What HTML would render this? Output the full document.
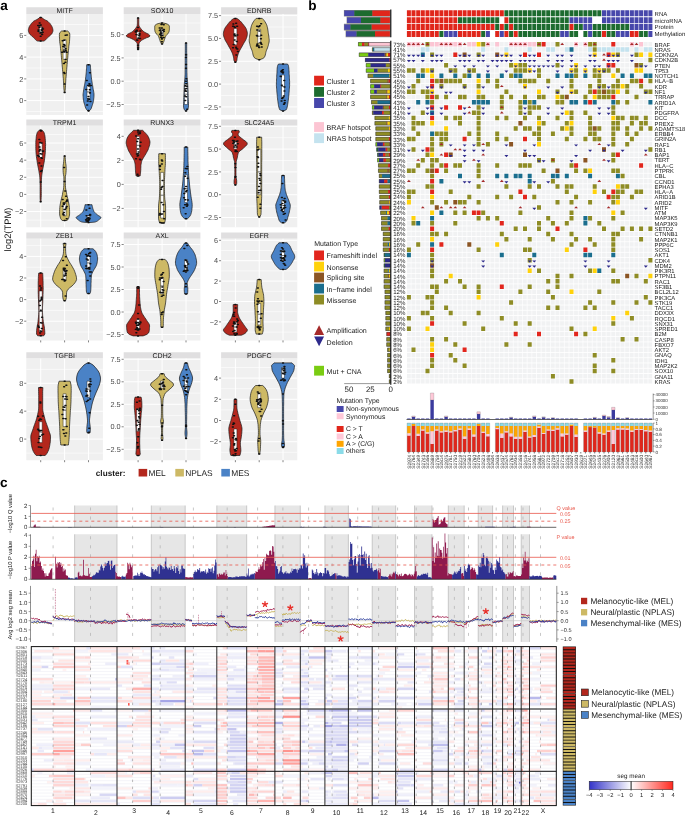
<!DOCTYPE html>
<html><head><meta charset="utf-8"><style>
html,body{margin:0;padding:0;background:#fff;width:685px;height:815px;overflow:hidden;}
svg{display:block;will-change:transform;text-rendering:geometricPrecision;font-family:"Liberation Sans", sans-serif;}
</style></head><body>
<svg width="685" height="815" viewBox="0 0 685 815">
<text x="0.3" y="10.2" font-size="13.6" font-weight="bold" fill="#000">a</text>
<path fill="#E0DFE0" d="M26.3 7.2h76.6v6.7h-76.6zM123.7 7.2h76.7v6.7h-76.7zM221.1 7.2h76.2v6.7h-76.2zM26.3 119.6h76.6v6.1h-76.6zM123.7 119.6h76.7v6.1h-76.7zM221.1 119.6h76.2v6.1h-76.2zM26.3 232.6h76.6v6.2h-76.6zM123.7 232.6h76.7v6.2h-76.7zM221.1 232.6h76.2v6.2h-76.2zM26.3 352.2h76.6v6.4h-76.6zM123.7 352.2h76.7v6.4h-76.7zM221.1 352.2h76.2v6.4h-76.2z"/><path fill="#F0F0F0" d="M26.3 13.9h76.6v101.1h-76.6zM123.7 13.9h76.7v101.1h-76.7zM221.1 13.9h76.2v101.1h-76.2zM26.3 125.7h76.6v101.6h-76.6zM123.7 125.7h76.7v101.6h-76.7zM221.1 125.7h76.2v101.6h-76.2zM26.3 238.8h76.6v101.6h-76.6zM123.7 238.8h76.7v101.6h-76.7zM221.1 238.8h76.2v101.6h-76.2zM26.3 358.6h76.6v101.6h-76.6zM123.7 358.6h76.7v101.6h-76.7zM221.1 358.6h76.2v101.6h-76.2z"/>
<path fill="none" stroke="#fff" stroke-width="0.6" d="M26.3 111.5H102.9M26.3 89.7H102.9M26.3 68H102.9M26.3 46.2H102.9M26.3 24.5H102.9M123.7 92.8H200.4M123.7 69.6H200.4M123.7 46.3H200.4M123.7 23H200.4M221.1 95.5H297.3M221.1 72.7H297.3M221.1 49.9H297.3M221.1 27H297.3M26.3 220.1H102.9M26.3 203H102.9M26.3 185.8H102.9M26.3 168.7H102.9M26.3 151.6H102.9M26.3 134.5H102.9M123.7 220.5H200.4M123.7 196.4H200.4M123.7 172.4H200.4M123.7 148.3H200.4M221.1 206.1H297.3M221.1 183.3H297.3M221.1 160.5H297.3M221.1 137.7H297.3M26.3 332H102.9M26.3 310.4H102.9M26.3 288.8H102.9M26.3 267.2H102.9M26.3 245.6H102.9M123.7 323.2H200.4M123.7 300.8H200.4M123.7 278.2H200.4M123.7 255.8H200.4M221.1 332.1H297.3M221.1 311.7H297.3M221.1 291.3H297.3M221.1 270.9H297.3M221.1 250.5H297.3M26.3 453.1H102.9M26.3 425.2H102.9M26.3 397.2H102.9M26.3 369.4H102.9M123.7 438.1H200.4M123.7 415.6H200.4M123.7 393.1H200.4M123.7 370.6H200.4M221.1 452.3H297.3M221.1 431.1H297.3M221.1 409.9H297.3M221.1 388.7H297.3M221.1 367.5H297.3"/><path fill="none" stroke="#fff" stroke-width="1.0" d="M26.3 100.6H102.9M26.3 78.9H102.9M26.3 57.1H102.9M26.3 35.4H102.9M40.7 13.9V115M64.6 13.9V115M88.5 13.9V115M123.7 104.5H200.4M123.7 81.2H200.4M123.7 57.9H200.4M123.7 34.6H200.4M138.1 13.9V115M162.1 13.9V115M186 13.9V115M221.1 106.9H297.3M221.1 84.1H297.3M221.1 61.3H297.3M221.1 38.4H297.3M221.1 15.6H297.3M235.4 13.9V115M259.2 13.9V115M283 13.9V115M26.3 211.5H102.9M26.3 194.4H102.9M26.3 177.3H102.9M26.3 160.2H102.9M26.3 143H102.9M40.7 125.7V227.3M64.6 125.7V227.3M88.5 125.7V227.3M123.7 208.4H200.4M123.7 184.4H200.4M123.7 160.4H200.4M123.7 136.3H200.4M138.1 125.7V227.3M162.1 125.7V227.3M186 125.7V227.3M221.1 217.5H297.3M221.1 194.7H297.3M221.1 171.9H297.3M221.1 149.1H297.3M221.1 126.3H297.3M235.4 125.7V227.3M259.2 125.7V227.3M283 125.7V227.3M26.3 321.2H102.9M26.3 299.6H102.9M26.3 278H102.9M26.3 256.4H102.9M40.7 238.8V340.4M64.6 238.8V340.4M88.5 238.8V340.4M123.7 334.5H200.4M123.7 312H200.4M123.7 289.5H200.4M123.7 267H200.4M123.7 244.5H200.4M138.1 238.8V340.4M162.1 238.8V340.4M186 238.8V340.4M221.1 321.9H297.3M221.1 301.5H297.3M221.1 281.1H297.3M221.1 260.7H297.3M221.1 240.3H297.3M235.4 238.8V340.4M259.2 238.8V340.4M283 238.8V340.4M26.3 439.1H102.9M26.3 411.2H102.9M26.3 383.3H102.9M40.7 358.6V460.2M64.6 358.6V460.2M88.5 358.6V460.2M123.7 449.3H200.4M123.7 426.8H200.4M123.7 404.3H200.4M123.7 381.8H200.4M123.7 359.3H200.4M138.1 358.6V460.2M162.1 358.6V460.2M186 358.6V460.2M221.1 441.7H297.3M221.1 420.5H297.3M221.1 399.3H297.3M221.1 378.1H297.3M235.4 358.6V460.2M259.2 358.6V460.2M283 358.6V460.2"/>
<path fill="none" stroke="#333" stroke-width="0.6" d="M24.2 100.6H26.3M24.2 78.9H26.3M24.2 57.1H26.3M24.2 35.4H26.3M121.6 104.5H123.7M121.6 81.2H123.7M121.6 57.9H123.7M121.6 34.6H123.7M219 106.9H221.1M219 84.1H221.1M219 61.3H221.1M219 38.4H221.1M219 15.6H221.1M24.2 211.5H26.3M24.2 194.4H26.3M24.2 177.3H26.3M24.2 160.2H26.3M24.2 143H26.3M121.6 208.4H123.7M121.6 184.4H123.7M121.6 160.4H123.7M121.6 136.3H123.7M219 217.5H221.1M219 194.7H221.1M219 171.9H221.1M219 149.1H221.1M219 126.3H221.1M24.2 321.2H26.3M24.2 299.6H26.3M24.2 278H26.3M24.2 256.4H26.3M40.7 340.4V342.4M64.6 340.4V342.4M88.5 340.4V342.4M121.6 334.5H123.7M121.6 312H123.7M121.6 289.5H123.7M121.6 267H123.7M121.6 244.5H123.7M138.1 340.4V342.4M162.1 340.4V342.4M186 340.4V342.4M219 321.9H221.1M219 301.5H221.1M219 281.1H221.1M219 260.7H221.1M219 240.3H221.1M235.4 340.4V342.4M259.2 340.4V342.4M283 340.4V342.4M24.2 439.1H26.3M24.2 411.2H26.3M24.2 383.3H26.3M40.7 460.2V462.2M64.6 460.2V462.2M88.5 460.2V462.2M121.6 449.3H123.7M121.6 426.8H123.7M121.6 404.3H123.7M121.6 381.8H123.7M121.6 359.3H123.7M138.1 460.2V462.2M162.1 460.2V462.2M186 460.2V462.2M219 441.7H221.1M219 420.5H221.1M219 399.3H221.1M219 378.1H221.1M235.4 460.2V462.2M259.2 460.2V462.2M283 460.2V462.2"/>
<g font-size="7.3" fill="#4D4D4D" text-anchor="end"><text x="23.3" y="103.2">0</text><text x="23.3" y="81.5">2</text><text x="23.3" y="59.7">4</text><text x="23.3" y="38">6</text><text x="120.7" y="107.1">−2.5</text><text x="120.7" y="83.8">0.0</text><text x="120.7" y="60.5">2.5</text><text x="120.7" y="37.2">5.0</text><text x="218.1" y="109.5">−2.5</text><text x="218.1" y="86.7">0.0</text><text x="218.1" y="63.9">2.5</text><text x="218.1" y="41">5.0</text><text x="218.1" y="18.2">7.5</text><text x="23.3" y="214.1">−2</text><text x="23.3" y="197">0</text><text x="23.3" y="179.9">2</text><text x="23.3" y="162.8">4</text><text x="23.3" y="145.6">6</text><text x="120.7" y="211">−2</text><text x="120.7" y="187">0</text><text x="120.7" y="163">2</text><text x="120.7" y="138.9">4</text><text x="218.1" y="220.1">−2.5</text><text x="218.1" y="197.3">0.0</text><text x="218.1" y="174.5">2.5</text><text x="218.1" y="151.7">5.0</text><text x="218.1" y="128.9">7.5</text><text x="23.3" y="323.8">−2</text><text x="23.3" y="302.2">0</text><text x="23.3" y="280.6">2</text><text x="23.3" y="259">4</text><text x="120.7" y="337.1">−2.5</text><text x="120.7" y="314.6">0.0</text><text x="120.7" y="292.1">2.5</text><text x="120.7" y="269.6">5.0</text><text x="120.7" y="247.1">7.5</text><text x="218.1" y="324.5">−2</text><text x="218.1" y="304.1">0</text><text x="218.1" y="283.7">2</text><text x="218.1" y="263.3">4</text><text x="218.1" y="242.9">6</text><text x="23.3" y="441.7">0</text><text x="23.3" y="413.8">4</text><text x="23.3" y="385.9">8</text><text x="120.7" y="451.9">−2.5</text><text x="120.7" y="429.4">0.0</text><text x="120.7" y="406.9">2.5</text><text x="120.7" y="384.4">5.0</text><text x="120.7" y="361.9">7.5</text><text x="218.1" y="444.3">−2</text><text x="218.1" y="423.1">0</text><text x="218.1" y="401.9">2</text><text x="218.1" y="380.7">4</text></g>
<g font-size="7.0" fill="#1A1A1A" text-anchor="middle"><text x="64.6" y="13.1">MITF</text><text x="162.1" y="13.1">SOX10</text><text x="259.2" y="13.1">EDNRB</text><text x="64.6" y="125.2">TRPM1</text><text x="162.1" y="125.2">RUNX3</text><text x="259.2" y="125.2">SLC24A5</text><text x="64.6" y="238.2">ZEB1</text><text x="162.1" y="238.2">AXL</text><text x="259.2" y="238.2">EGFR</text><text x="64.6" y="357.9">TGFBI</text><text x="162.1" y="357.9">CDH2</text><text x="259.2" y="357.9">PDGFC</text></g>
<g stroke="#1a1a1a" stroke-width="0.7"><path d="M41.7 17.4L42.3 18.1L43.3 18.8L44.4 19.5L45.7 20.2L47 20.8L48 21.5L48.7 22.2L49.4 22.9L50 23.5L50.5 24.2L50.9 24.9L51.4 25.6L51.8 26.2L52.1 26.9L52.4 27.6L52.6 28.3L52.8 29L52.9 29.6L53 30.3L52.9 31L52.8 31.7L52.5 32.3L52.2 33L51.9 33.7L51.3 34.4L50.6 35L49.9 35.7L49.1 36.4L48.3 37.1L47.5 37.8L46.8 38.4L46.3 39.1L45.7 39.8L44.9 40.5L43.7 41.1L37.7 41.1L36.4 40.5L35.6 39.8L35 39.1L34.5 38.4L33.8 37.8L33 37.1L32.2 36.4L31.5 35.7L30.7 35L30 34.4L29.4 33.7L29.1 33L28.8 32.3L28.6 31.7L28.4 31L28.4 30.3L28.4 29.6L28.6 29L28.7 28.3L28.9 27.6L29.2 26.9L29.5 26.2L29.9 25.6L30.4 24.9L30.9 24.2L31.4 23.5L31.9 22.9L32.6 22.2L33.3 21.5L34.3 20.8L35.6 20.2L36.9 19.5L38.1 18.8L39 18.1L39.7 17.4z" fill="#B3271D"/><path d="M67.6 31L69.5 32.8L69.8 34.5L69.8 36.3L69.7 38.1L69.6 39.8L69.5 41.6L69.3 43.3L69 45.1L68.8 46.8L68.7 48.6L68.5 50.3L68.3 52.1L68.1 53.8L67.9 55.6L67.8 57.4L67.6 59.1L67.4 60.9L67.3 62.6L67.1 64.4L67 66.1L66.8 67.9L66.7 69.6L66.5 71.4L66.4 73.1L66.2 74.9L66.1 76.7L65.9 78.4L65.8 80.2L65.7 81.9L65.6 83.7L65.5 85.4L65.4 87.2L65.3 88.9L65.1 90.7L65 92.4L64.2 92.4L64.1 90.7L63.9 88.9L63.8 87.2L63.7 85.4L63.6 83.7L63.5 81.9L63.4 80.2L63.3 78.4L63.1 76.7L63 74.9L62.8 73.1L62.7 71.4L62.5 69.6L62.4 67.9L62.2 66.1L62.1 64.4L61.9 62.6L61.8 60.9L61.6 59.1L61.4 57.4L61.3 55.6L61.1 53.8L60.9 52.1L60.7 50.3L60.5 48.6L60.4 46.8L60.2 45.1L59.9 43.3L59.7 41.6L59.6 39.8L59.5 38.1L59.4 36.3L59.4 34.5L59.7 32.8L61.6 31z" fill="#CDB965"/><path d="M90.3 64.7L90.4 66L90.5 67.4L90.6 68.7L90.7 70L90.8 71.3L90.9 72.6L91 74L91.2 75.3L91.3 76.6L91.4 77.9L91.6 79.2L91.8 80.6L92 81.9L92.2 83.2L92.4 84.5L92.7 85.8L92.9 87.2L93.1 88.5L93.3 89.8L93.6 91.1L93.8 92.4L94 93.8L94 95.1L94 96.4L93.9 97.7L93.7 99L93.6 100.4L93.3 101.7L93 103L92.6 104.3L92.2 105.6L91.7 107L91.3 108.3L90.6 109.6L89 110.9L88 110.9L86.5 109.6L85.8 108.3L85.3 107L84.9 105.6L84.5 104.3L84.1 103L83.7 101.7L83.5 100.4L83.3 99L83.2 97.7L83.1 96.4L83 95.1L83.1 93.8L83.3 92.4L83.5 91.1L83.7 89.8L83.9 88.5L84.1 87.2L84.4 85.8L84.6 84.5L84.9 83.2L85.1 81.9L85.3 80.6L85.5 79.2L85.6 77.9L85.8 76.6L85.9 75.3L86.1 74L86.2 72.6L86.3 71.3L86.4 70L86.5 68.7L86.6 67.4L86.7 66L86.7 64.7z" fill="#4A82C6"/><path d="M138.8 17.9L138.8 18.8L138.8 19.7L138.8 20.6L138.8 21.5L138.8 22.4L138.8 23.3L138.8 24.2L138.9 25.1L139.1 26L139.6 26.9L140.2 27.8L140.9 28.7L141.6 29.6L142.6 30.6L143.6 31.5L144.9 32.4L146.7 33.3L148.5 34.2L149.5 35.1L150 36L148.9 36.9L146.5 37.8L144.5 38.7L142.8 39.6L141.3 40.5L140.4 41.4L139.6 42.3L139.1 43.2L138.9 44.1L138.8 45L138.8 45.9L138.8 46.8L138.8 47.7L138.7 48.6L138.6 49.5L137.6 49.5L137.5 48.6L137.4 47.7L137.4 46.8L137.3 45.9L137.3 45L137.3 44.1L137.1 43.2L136.5 42.3L135.8 41.4L134.8 40.5L133.4 39.6L131.7 38.7L129.7 37.8L127.3 36.9L126.2 36L126.7 35.1L127.7 34.2L129.4 33.3L131.3 32.4L132.6 31.5L133.6 30.6L134.5 29.6L135.3 28.7L136 27.8L136.6 26.9L137.1 26L137.3 25.1L137.3 24.2L137.4 23.3L137.4 22.4L137.4 21.5L137.4 20.6L137.4 19.7L137.4 18.8L137.4 17.9z" fill="#B3271D"/><path d="M163.1 23L166 23.6L167.5 24.2L168.4 24.8L169.1 25.4L169.4 26L169.4 26.6L169.4 27.2L169.4 27.8L169.4 28.4L169.4 29L169.4 29.6L169.3 30.2L169.2 30.8L169.1 31.4L168.9 32L168.6 32.6L168.3 33.2L167.8 33.8L167.1 34.4L166.5 35L166.1 35.6L165.7 36.2L165.5 36.8L165.2 37.4L165 38L164.8 38.6L164.6 39.2L164.4 39.8L164.2 40.4L164 41L163.8 41.6L163.5 42.2L163.2 42.8L162.9 43.4L162.6 44L161.6 44L161.2 43.4L160.9 42.8L160.6 42.2L160.3 41.6L160.1 41L159.9 40.4L159.7 39.8L159.5 39.2L159.3 38.6L159.1 38L158.9 37.4L158.6 36.8L158.4 36.2L158.1 35.6L157.6 35L157 34.4L156.3 33.8L155.8 33.2L155.5 32.6L155.2 32L155 31.4L154.9 30.8L154.8 30.2L154.7 29.6L154.7 29L154.7 28.4L154.7 27.8L154.7 27.2L154.7 26.6L154.7 26L155 25.4L155.7 24.8L156.6 24.2L158.1 23.6L161.1 23z" fill="#CDB965"/><path d="M186.7 43L186.7 45L186.7 46.9L186.7 48.9L186.7 50.8L186.7 52.7L186.8 54.7L186.8 56.6L186.8 58.6L186.8 60.5L186.8 62.4L186.8 64.4L186.8 66.3L186.9 68.3L186.9 70.2L186.9 72.2L187 74.1L187 76L187.1 78L187.4 79.9L187.6 81.9L187.7 83.8L187.8 85.7L187.9 87.7L188 89.6L188.1 91.6L188.1 93.5L188.2 95.5L188.2 97.4L188.3 99.3L188.4 101.3L188.5 103.2L188.5 105.2L188.4 107.1L188 109.1L186.5 111L185.5 111L184 109.1L183.6 107.1L183.5 105.2L183.6 103.2L183.7 101.3L183.7 99.3L183.8 97.4L183.9 95.5L183.9 93.5L184 91.6L184.1 89.6L184.1 87.7L184.2 85.7L184.3 83.8L184.5 81.9L184.7 79.9L184.9 78L185 76L185.1 74.1L185.1 72.2L185.1 70.2L185.2 68.3L185.2 66.3L185.2 64.4L185.2 62.4L185.2 60.5L185.2 58.6L185.3 56.6L185.3 54.7L185.3 52.7L185.3 50.8L185.3 48.9L185.3 46.9L185.3 45L185.3 43z" fill="#4A82C6"/><path d="M236.9 18.4L238.7 19.6L240.1 20.9L241.3 22.1L242.3 23.4L243.3 24.6L244.3 25.9L245.2 27.1L246 28.4L246.5 29.6L246.9 30.9L247.2 32.1L247.4 33.4L247.3 34.6L247.1 35.9L246.8 37.1L246.4 38.4L245.9 39.6L245.2 40.9L244.4 42.2L243.7 43.4L243 44.7L242.3 45.9L241.6 47.2L240.9 48.4L240.2 49.7L239.5 50.9L238.9 52.2L238.4 53.4L238 54.7L237.6 55.9L237.3 57.2L237.1 58.4L237 59.7L236.7 60.9L235.9 62.2L234.9 62.2L234.1 60.9L233.8 59.7L233.7 58.4L233.5 57.2L233.2 55.9L232.8 54.7L232.4 53.4L231.9 52.2L231.3 50.9L230.6 49.7L229.9 48.4L229.2 47.2L228.5 45.9L227.8 44.7L227.1 43.4L226.4 42.2L225.6 40.9L224.9 39.6L224.4 38.4L224 37.1L223.6 35.9L223.4 34.6L223.4 33.4L223.6 32.1L223.9 30.9L224.3 29.6L224.8 28.4L225.6 27.1L226.5 25.9L227.5 24.6L228.4 23.4L229.5 22.1L230.7 20.9L232.1 19.6L233.9 18.4z" fill="#B3271D"/><path d="M262.2 18.4L263.3 19.5L264.3 20.7L265.1 21.9L265.8 23.1L266.4 24.3L266.9 25.5L267.2 26.6L267.5 27.8L267.7 29L267.9 30.2L268.1 31.4L268.2 32.5L268.4 33.7L268.6 34.9L268.8 36.1L268.9 37.3L269.1 38.5L269.2 39.6L269.2 40.8L269.1 42L268.8 43.2L268.5 44.4L268.3 45.5L267.9 46.7L267.5 47.9L267 49.1L266.5 50.3L266.1 51.5L265.8 52.6L265.6 53.8L265.3 55L264.9 56.2L264.3 57.4L262.9 58.5L259.7 59.7L258.7 59.7L255.5 58.5L254.1 57.4L253.5 56.2L253.1 55L252.8 53.8L252.6 52.6L252.3 51.5L251.9 50.3L251.4 49.1L250.9 47.9L250.5 46.7L250.1 45.5L249.9 44.4L249.6 43.2L249.3 42L249.2 40.8L249.2 39.6L249.3 38.5L249.5 37.3L249.6 36.1L249.8 34.9L250 33.7L250.2 32.5L250.3 31.4L250.5 30.2L250.7 29L250.9 27.8L251.2 26.6L251.5 25.5L252 24.3L252.6 23.1L253.3 21.9L254.1 20.7L255.1 19.5L256.2 18.4z" fill="#CDB965"/><path d="M287.5 64L288.4 65.4L288.6 66.7L288.8 68L288.9 69.4L289 70.7L289.1 72.1L289.1 73.4L289.2 74.8L289.3 76.1L289.4 77.4L289.4 78.8L289.5 80.1L289.6 81.5L289.6 82.8L289.6 84.2L289.6 85.5L289.5 86.9L289.4 88.2L289.3 89.5L289.2 90.9L289.1 92.2L289 93.6L288.9 94.9L288.7 96.3L288.6 97.6L288.4 98.9L288.3 100.3L288.1 101.6L287.9 103L287.7 104.3L287.5 105.7L287.2 107L286.9 108.3L286.3 109.7L283.5 111L282.5 111L279.7 109.7L279.2 108.3L278.8 107L278.5 105.7L278.3 104.3L278.1 103L277.9 101.6L277.7 100.3L277.6 98.9L277.4 97.6L277.3 96.3L277.2 94.9L277 93.6L276.9 92.2L276.8 90.9L276.7 89.5L276.6 88.2L276.5 86.9L276.4 85.5L276.4 84.2L276.4 82.8L276.5 81.5L276.5 80.1L276.6 78.8L276.7 77.4L276.7 76.1L276.8 74.8L276.9 73.4L277 72.1L277 70.7L277.1 69.4L277.2 68L277.4 66.7L277.7 65.4L278.5 64z" fill="#4A82C6"/><path d="M42.2 130.2L43.9 132.2L44.6 134.3L45 136.3L45.2 138.4L45.4 140.4L45.5 142.5L45.6 144.5L45.5 146.5L45.5 148.6L45.4 150.6L45.3 152.7L45.1 154.7L44.9 156.7L44.6 158.8L44.4 160.8L44 162.9L43.6 164.9L43.2 167L42.8 169L42.4 171L42.1 173.1L41.8 175.1L41.6 177.2L41.5 179.2L41.4 181.3L41.3 183.3L41.3 185.3L41.3 187.4L41.3 189.4L41.3 191.5L41.3 193.5L41.3 195.5L41.2 197.6L41.1 199.6L41.1 201.7L40.3 201.7L40.2 199.6L40.1 197.6L40.1 195.5L40.1 193.5L40.1 191.5L40.1 189.4L40.1 187.4L40.1 185.3L40 183.3L40 181.3L39.9 179.2L39.8 177.2L39.6 175.1L39.2 173.1L38.9 171L38.5 169L38.1 167L37.7 164.9L37.3 162.9L37 160.8L36.7 158.8L36.4 156.7L36.2 154.7L36 152.7L35.9 150.6L35.8 148.6L35.8 146.5L35.8 144.5L35.8 142.5L35.9 140.4L36.1 138.4L36.3 136.3L36.7 134.3L37.4 132.2L39.2 130.2z" fill="#B3271D"/><path d="M65.1 155.9L65.2 157.7L65.4 159.6L65.5 161.4L65.7 163.3L66 165.1L66.1 167L66.2 168.8L66.1 170.7L66 172.5L65.8 174.3L65.4 176.2L65.3 178L65.3 179.9L65.3 181.7L65.4 183.6L65.4 185.4L65.5 187.3L65.7 189.1L66.1 191L66.5 192.8L66.8 194.7L67.2 196.5L67.7 198.3L68.1 200.2L68.5 202L68.9 203.9L69.2 205.7L69.4 207.6L69.5 209.4L69.6 211.3L69.6 213.1L69.5 215L69.1 216.8L68.5 218.7L67.1 220.5L62.1 220.5L60.7 218.7L60.1 216.8L59.7 215L59.6 213.1L59.6 211.3L59.7 209.4L59.8 207.6L60 205.7L60.3 203.9L60.7 202L61.1 200.2L61.5 198.3L62 196.5L62.4 194.7L62.7 192.8L63.1 191L63.5 189.1L63.7 187.3L63.8 185.4L63.8 183.6L63.9 181.7L63.9 179.9L63.9 178L63.8 176.2L63.4 174.3L63.2 172.5L63.1 170.7L63 168.8L63.1 167L63.2 165.1L63.5 163.3L63.7 161.4L63.8 159.6L64 157.7L64.1 155.9z" fill="#CDB965"/><path d="M92 204.7L92.1 205.2L92.2 205.7L92.3 206.2L92.4 206.7L92.5 207.2L92.7 207.8L92.8 208.3L92.9 208.8L93.1 209.3L93.3 209.8L93.5 210.3L93.7 210.8L93.9 211.3L94.2 211.9L94.7 212.4L95.2 212.9L95.7 213.4L96.3 213.9L96.9 214.4L97.5 214.9L98.3 215.5L99.2 216L100 216.5L100.7 217L100.9 217.5L100.8 218L100.4 218.5L99.8 219.1L99.2 219.6L98.5 220.1L97.9 220.6L97.3 221.1L96.3 221.6L94.9 222.1L89.5 222.6L87.5 222.6L82.2 222.1L80.7 221.6L79.8 221.1L79.1 220.6L78.5 220.1L77.9 219.6L77.2 219.1L76.7 218.5L76.3 218L76.1 217.5L76.4 217L77 216.5L77.9 216L78.8 215.5L79.5 214.9L80.1 214.4L80.8 213.9L81.4 213.4L81.9 212.9L82.4 212.4L82.8 211.9L83.1 211.3L83.4 210.8L83.6 210.3L83.8 209.8L84 209.3L84.1 208.8L84.3 208.3L84.4 207.8L84.5 207.2L84.7 206.7L84.8 206.2L84.9 205.7L85 205.2L85 204.7z" fill="#4A82C6"/><path d="M142.6 130.3L144 131.6L145.3 132.9L146.5 134.2L147.6 135.5L148.3 136.8L148.9 138.1L149.4 139.4L149.8 140.8L150 142.1L149.9 143.4L149.7 144.7L149.3 146L148.9 147.3L148.5 148.6L148 149.9L147.3 151.2L146.6 152.5L145.9 153.8L145.1 155.1L144.3 156.4L143.5 157.7L142.7 159L142.1 160.3L141.6 161.6L141.3 162.9L141.1 164.2L140.9 165.5L140.9 166.9L140.8 168.2L140.8 169.5L140.7 170.8L140.6 172.1L140.5 173.4L140.3 174.7L140.1 176L136.1 176L135.9 174.7L135.7 173.4L135.6 172.1L135.5 170.8L135.4 169.5L135.4 168.2L135.3 166.9L135.2 165.5L135.1 164.2L134.9 162.9L134.5 161.6L134.1 160.3L133.5 159L132.7 157.7L131.8 156.4L131 155.1L130.3 153.8L129.5 152.5L128.8 151.2L128.2 149.9L127.7 148.6L127.2 147.3L126.8 146L126.5 144.7L126.2 143.4L126.2 142.1L126.4 140.8L126.7 139.4L127.2 138.1L127.8 136.8L128.6 135.5L129.6 134.2L130.9 132.9L132.2 131.6L133.6 130.3z" fill="#B3271D"/><path d="M165.4 153.7L165.4 155.7L165.4 157.7L165.4 159.7L165.4 161.6L165.4 163.6L165.3 165.6L165.1 167.6L165 169.5L164.9 171.5L164.8 173.5L164.7 175.5L164.6 177.4L164.5 179.4L164.4 181.4L164.4 183.4L164.4 185.3L164.4 187.3L164.4 189.3L164.5 191.3L164.5 193.2L164.6 195.2L164.7 197.2L164.8 199.2L165.1 201.1L165.3 203.1L165.5 205.1L165.6 207.1L165.6 209L165.6 211L165.6 213L165.6 215L165.6 216.9L165.5 218.9L165.1 220.9L164.6 222.9L159.6 222.9L159 220.9L158.6 218.9L158.5 216.9L158.5 215L158.5 213L158.5 211L158.5 209L158.5 207.1L158.6 205.1L158.8 203.1L159 201.1L159.3 199.2L159.4 197.2L159.5 195.2L159.6 193.2L159.6 191.3L159.7 189.3L159.7 187.3L159.7 185.3L159.7 183.4L159.7 181.4L159.6 179.4L159.5 177.4L159.4 175.5L159.3 173.5L159.2 171.5L159.1 169.5L159 167.6L158.8 165.6L158.7 163.6L158.7 161.6L158.7 159.7L158.7 157.7L158.7 155.7L158.8 153.7z" fill="#CDB965"/><path d="M187.8 147.1L187.8 149.2L187.8 151.2L187.9 153.3L187.9 155.3L188 157.4L188 159.4L188 161.4L188.1 163.5L188.2 165.5L188.3 167.6L188.4 169.6L188.5 171.7L188.6 173.7L188.7 175.7L188.9 177.8L189.1 179.8L189.3 181.9L189.5 183.9L189.7 186L189.9 188L190.2 190L190.4 192.1L190.7 194.1L191 196.2L191.3 198.2L191.7 200.3L192 202.3L192.2 204.4L192.2 206.4L192 208.4L191.8 210.5L191.4 212.5L190.8 214.6L189.7 216.6L187.5 218.7L184.5 218.7L182.4 216.6L181.3 214.6L180.6 212.5L180.3 210.5L180 208.4L179.9 206.4L179.8 204.4L180 202.3L180.3 200.3L180.7 198.2L181.1 196.2L181.3 194.1L181.6 192.1L181.9 190L182.1 188L182.4 186L182.6 183.9L182.8 181.9L183 179.8L183.1 177.8L183.3 175.7L183.4 173.7L183.6 171.7L183.7 169.6L183.8 167.6L183.9 165.5L183.9 163.5L184 161.4L184 159.4L184.1 157.4L184.1 155.3L184.2 153.3L184.2 151.2L184.2 149.2L184.2 147.1z" fill="#4A82C6"/><path d="M238.9 130.4L239.4 132L238.3 133.5L238 135.1L239.6 136.7L241.5 138.2L243.5 139.8L245.7 141.3L247.2 142.9L247.1 144.5L245.8 146L244 147.6L242.3 149.2L240.2 150.7L238.6 152.3L238 153.9L237.7 155.4L237.4 157L237.1 158.5L236.6 160.1L236.2 161.7L236.1 163.2L236.1 164.8L236 166.4L236 167.9L236 169.5L236 171.1L236 172.6L236 174.2L236 175.7L236.1 177.3L236.4 178.9L236.7 180.4L236.7 182L236.7 183.6L235.9 185.1L234.9 185.1L234.1 183.6L234.1 182L234.1 180.4L234.4 178.9L234.7 177.3L234.8 175.7L234.8 174.2L234.8 172.6L234.8 171.1L234.8 169.5L234.8 167.9L234.7 166.4L234.7 164.8L234.7 163.2L234.6 161.7L234.1 160.1L233.7 158.5L233.3 157L233.1 155.4L232.7 153.9L232.1 152.3L230.6 150.7L228.5 149.2L226.8 147.6L225 146L223.6 144.5L223.6 142.9L225.1 141.3L227.3 139.8L229.3 138.2L231.2 136.7L232.7 135.1L232.5 133.5L231.4 132L231.9 130.4z" fill="#B3271D"/><path d="M261.7 137.2L261.7 139.5L261.8 141.8L261.8 144.1L261.8 146.4L261.8 148.6L261.8 150.9L261.8 153.2L261.8 155.5L261.8 157.8L261.8 160L261.7 162.3L261.7 164.6L261.7 166.9L261.7 169.2L261.7 171.4L261.7 173.7L261.7 176L261.7 178.3L261.7 180.6L261.7 182.8L261.7 185.1L261.7 187.4L261.7 189.7L261.7 192L261.7 194.2L261.7 196.5L261.6 198.8L261.5 201.1L261.4 203.4L261.3 205.6L261.2 207.9L261.1 210.2L261.1 212.5L260.9 214.8L259.7 217L258.7 217L257.5 214.8L257.3 212.5L257.3 210.2L257.2 207.9L257.1 205.6L257 203.4L256.9 201.1L256.8 198.8L256.7 196.5L256.7 194.2L256.7 192L256.7 189.7L256.7 187.4L256.7 185.1L256.7 182.8L256.7 180.6L256.7 178.3L256.7 176L256.7 173.7L256.7 171.4L256.7 169.2L256.7 166.9L256.7 164.6L256.7 162.3L256.6 160L256.6 157.8L256.6 155.5L256.6 153.2L256.6 150.9L256.6 148.6L256.6 146.4L256.6 144.1L256.6 141.8L256.7 139.5L256.7 137.2z" fill="#CDB965"/><path d="M284.5 175.5L284.5 176.9L284.5 178.2L284.6 179.6L284.6 180.9L284.7 182.3L284.7 183.6L284.8 185L284.9 186.3L285 187.7L285.1 189L285.3 190.4L285.7 191.7L286 193.1L286.4 194.4L286.9 195.8L287.4 197.1L288 198.5L288.6 199.8L289 201.2L289.5 202.5L290 203.9L290.3 205.2L290.3 206.6L290.1 207.9L289.9 209.3L289.6 210.6L289.3 212L289 213.3L288.6 214.7L288.2 216L287.8 217.4L287.5 218.7L287 220.1L286.3 221.4L284.5 222.8L281.5 222.8L279.7 221.4L279 220.1L278.6 218.7L278.2 217.4L277.8 216L277.4 214.7L277 213.3L276.7 212L276.4 210.6L276.2 209.3L275.9 207.9L275.8 206.6L275.7 205.2L276 203.9L276.5 202.5L277 201.2L277.5 199.8L278 198.5L278.6 197.1L279.1 195.8L279.6 194.4L280 193.1L280.4 191.7L280.7 190.4L280.9 189L281.1 187.7L281.2 186.3L281.3 185L281.3 183.6L281.4 182.3L281.4 180.9L281.4 179.6L281.5 178.2L281.5 176.9L281.5 175.5z" fill="#4A82C6"/><path d="M42.7 273.1L42.8 274.9L42.9 276.7L43 278.5L43 280.3L43.1 282.1L43.1 283.9L43.1 285.7L43.2 287.5L43.2 289.2L43.1 291L43.1 292.8L43 294.6L43 296.4L42.9 298.2L42.8 300L42.8 301.8L42.7 303.6L42.6 305.4L42.5 307.1L42.5 308.9L42.5 310.7L42.5 312.5L42.6 314.3L42.7 316.1L42.9 317.9L43.1 319.7L43.3 321.5L43.6 323.3L43.9 325L44.3 326.8L44.5 328.6L44.7 330.4L44.8 332.2L44.9 334L43.7 335.8L37.7 335.8L36.5 334L36.5 332.2L36.6 330.4L36.8 328.6L37.1 326.8L37.4 325L37.8 323.3L38 321.5L38.2 319.7L38.4 317.9L38.6 316.1L38.7 314.3L38.8 312.5L38.9 310.7L38.8 308.9L38.8 307.1L38.7 305.4L38.6 303.6L38.5 301.8L38.5 300L38.4 298.2L38.3 296.4L38.3 294.6L38.2 292.8L38.2 291L38.2 289.2L38.2 287.5L38.2 285.7L38.2 283.9L38.2 282.1L38.3 280.3L38.3 278.5L38.4 276.7L38.5 274.9L38.7 273.1z" fill="#B3271D"/><path d="M66.1 243.4L65.8 245.1L65.6 246.7L65.6 248.3L65.6 250L65.7 251.6L65.8 253.3L66.1 254.9L66.6 256.5L67.4 258.2L68.2 259.8L69 261.4L70 263.1L71.1 264.7L72.1 266.3L73 268L73.9 269.6L74.6 271.2L75.2 272.9L75.7 274.5L76.2 276.1L76.5 277.8L76.6 279.4L76 281.1L75 282.7L73.7 284.3L72 286L69.9 287.6L68.2 289.2L67 290.9L66.6 292.5L66.5 294.1L66.5 295.8L66.4 297.4L66.1 299L65.6 300.7L63.6 300.7L63.1 299L62.8 297.4L62.7 295.8L62.7 294.1L62.6 292.5L62.2 290.9L61 289.2L59.3 287.6L57.2 286L55.5 284.3L54.2 282.7L53.2 281.1L52.6 279.4L52.7 277.8L53 276.1L53.5 274.5L54 272.9L54.6 271.2L55.3 269.6L56.2 268L57.1 266.3L58.1 264.7L59.2 263.1L60.2 261.4L61 259.8L61.8 258.2L62.6 256.5L63.1 254.9L63.4 253.3L63.5 251.6L63.6 250L63.6 248.3L63.6 246.7L63.4 245.1L63.1 243.4z" fill="#CDB965"/><path d="M93 248.8L94.5 250.1L95.6 251.4L96.3 252.7L96.8 253.9L97.2 255.2L97.4 256.5L97.6 257.8L97.6 259.1L97.5 260.3L97.3 261.6L97.1 262.9L96.8 264.2L96.4 265.4L95.8 266.7L95 268L94.2 269.3L93.5 270.6L92.8 271.8L92.2 273.1L91.7 274.4L91.4 275.7L91.3 276.9L91.2 278.2L91.2 279.5L91.1 280.8L91.1 282.1L91 283.3L91 284.6L91 285.9L90.9 287.2L90.9 288.4L90.8 289.7L90.7 291L90.5 292.3L90 293.6L87 293.6L86.6 292.3L86.3 291L86.3 289.7L86.2 288.4L86.2 287.2L86.1 285.9L86.1 284.6L86 283.3L86 282.1L86 280.8L85.9 279.5L85.9 278.2L85.8 276.9L85.7 275.7L85.4 274.4L84.9 273.1L84.2 271.8L83.6 270.6L82.9 269.3L82.1 268L81.3 266.7L80.7 265.4L80.3 264.2L80 262.9L79.7 261.6L79.5 260.3L79.4 259.1L79.5 257.8L79.6 256.5L79.9 255.2L80.3 253.9L80.8 252.7L81.4 251.4L82.6 250.1L84 248.8z" fill="#4A82C6"/><path d="M139.6 286.8L139.5 288.2L139.5 289.6L139.5 291L139.5 292.4L139.5 293.8L139.6 295.2L139.6 296.6L139.7 298L139.8 299.4L139.9 300.8L140 302.2L140.1 303.6L140.3 305L140.4 306.4L140.6 307.8L140.9 309.2L141.2 310.6L141.6 312L142.2 313.4L143 314.8L143.9 316.2L144.8 317.6L145.8 319L146.7 320.4L147.6 321.8L148.7 323.2L149.4 324.6L149.6 326L149.5 327.4L149.4 328.8L149.3 330.2L149.1 331.6L148.5 333L146.9 334.4L143.1 335.9L133.1 335.9L129.3 334.4L127.7 333L127.1 331.6L126.9 330.2L126.7 328.8L126.6 327.4L126.6 326L126.7 324.6L127.5 323.2L128.5 321.8L129.4 320.4L130.4 319L131.4 317.6L132.2 316.2L133.1 314.8L134 313.4L134.6 312L135 310.6L135.3 309.2L135.5 307.8L135.7 306.4L135.9 305L136 303.6L136.1 302.2L136.2 300.8L136.3 299.4L136.4 298L136.5 296.6L136.6 295.2L136.7 293.8L136.7 292.4L136.7 291L136.7 289.6L136.6 288.2L136.6 286.8z" fill="#B3271D"/><path d="M165.1 259.4L166.8 261.3L167.8 263.2L168.4 265.2L168.8 267.1L169.1 269.1L169.2 271L169.3 272.9L169.3 274.9L169.3 276.8L169.1 278.8L168.8 280.7L168.5 282.6L168.1 284.6L167.8 286.5L167.5 288.5L167.1 290.4L166.8 292.4L166.5 294.3L166.3 296.2L166.1 298.2L165.9 300.1L165.7 302.1L165.4 304L165.1 305.9L164.7 307.9L164.3 309.8L164.1 311.8L163.9 313.7L163.7 315.7L163.5 317.6L163.4 319.5L163.3 321.5L163.3 323.4L163.3 325.4L163.2 327.3L160.9 327.3L160.8 325.4L160.8 323.4L160.8 321.5L160.7 319.5L160.6 317.6L160.4 315.7L160.2 313.7L160 311.8L159.8 309.8L159.4 307.9L159 305.9L158.7 304L158.4 302.1L158.2 300.1L158 298.2L157.8 296.2L157.6 294.3L157.3 292.4L157 290.4L156.6 288.5L156.3 286.5L156 284.6L155.6 282.6L155.3 280.7L155 278.8L154.8 276.8L154.8 274.9L154.8 272.9L154.9 271L155 269.1L155.3 267.1L155.7 265.2L156.3 263.2L157.3 261.3L159.1 259.4z" fill="#CDB965"/><path d="M187.5 243.1L188.4 244.6L189.4 246.1L190.5 247.5L191.7 249L192.8 250.4L193.6 251.9L194.4 253.3L195.1 254.8L195.5 256.2L195.9 257.7L196.2 259.1L196.5 260.6L196.6 262L196.6 263.5L196.3 264.9L195.9 266.4L195.4 267.8L194.8 269.3L194.1 270.8L193.3 272.2L192.3 273.7L191.4 275.1L190.4 276.6L189.4 278L188.6 279.5L187.9 280.9L187.3 282.4L187.2 283.8L187.4 285.3L187.6 286.7L187.8 288.2L187.8 289.6L187.8 291.1L187.7 292.5L187.5 294L184.5 294L184.4 292.5L184.3 291.1L184.2 289.6L184.3 288.2L184.5 286.7L184.7 285.3L184.8 283.8L184.7 282.4L184.2 280.9L183.5 279.5L182.6 278L181.6 276.6L180.6 275.1L179.7 273.7L178.8 272.2L177.9 270.8L177.2 269.3L176.7 267.8L176.2 266.4L175.7 264.9L175.5 263.5L175.4 262L175.6 260.6L175.8 259.1L176.1 257.7L176.5 256.2L177 254.8L177.6 253.3L178.4 251.9L179.3 250.4L180.4 249L181.6 247.5L182.7 246.1L183.6 244.6L184.5 243.1z" fill="#4A82C6"/><path d="M237.7 304.6L237.7 305.4L237.6 306.3L237.6 307.2L237.6 308.1L237.6 308.9L237.6 309.8L237.6 310.7L237.6 311.6L237.6 312.4L237.8 313.3L238 314.2L238.3 315.1L238.6 315.9L238.9 316.8L239.3 317.7L239.7 318.5L240.3 319.4L240.8 320.3L241.4 321.2L242 322L242.6 322.9L243.2 323.8L243.8 324.7L244.4 325.5L245 326.4L245.6 327.3L246.3 328.2L247 329L247.4 329.9L247.2 330.8L246.7 331.7L246 332.5L245 333.4L243.5 334.3L241.4 335.2L229.4 335.2L227.3 334.3L225.7 333.4L224.8 332.5L224.1 331.7L223.5 330.8L223.4 329.9L223.8 329L224.4 328.2L225.2 327.3L225.8 326.4L226.4 325.5L227 324.7L227.6 323.8L228.2 322.9L228.8 322L229.4 321.2L229.9 320.3L230.5 319.4L231.1 318.5L231.5 317.7L231.9 316.8L232.2 315.9L232.5 315.1L232.8 314.2L233 313.3L233.1 312.4L233.2 311.6L233.2 310.7L233.2 309.8L233.2 308.9L233.2 308.1L233.2 307.2L233.1 306.3L233.1 305.4L233.1 304.6z" fill="#B3271D"/><path d="M261.2 279.6L261.3 281.1L261.4 282.7L261.5 284.2L261.7 285.8L261.9 287.4L262.2 288.9L262.6 290.5L262.9 292L263.3 293.6L263.6 295.2L263.7 296.7L263.8 298.3L263.9 299.8L263.9 301.4L263.9 303L263.8 304.5L263.7 306.1L263.6 307.6L263.5 309.2L263.4 310.8L263.4 312.3L263.3 313.9L263.2 315.4L263.1 317L263.1 318.5L263 320.1L263 321.7L263 323.2L263.1 324.8L263.1 326.3L263.2 327.9L263.2 329.5L263.1 331L262.7 332.6L262.2 334.1L256.2 334.1L255.7 332.6L255.3 331L255.2 329.5L255.2 327.9L255.3 326.3L255.3 324.8L255.4 323.2L255.4 321.7L255.4 320.1L255.3 318.5L255.3 317L255.2 315.4L255.1 313.9L255 312.3L255 310.8L254.9 309.2L254.8 307.6L254.7 306.1L254.6 304.5L254.5 303L254.5 301.4L254.5 299.8L254.6 298.3L254.7 296.7L254.8 295.2L255.1 293.6L255.5 292L255.8 290.5L256.2 288.9L256.5 287.4L256.7 285.8L256.9 284.2L257 282.7L257.1 281.1L257.2 279.6z" fill="#CDB965"/><path d="M287 242.8L287.9 243.6L288.6 244.4L289.3 245.1L289.8 245.9L290.3 246.6L290.6 247.4L291 248.2L291.3 248.9L291.6 249.7L292 250.4L292.4 251.2L292.8 251.9L293.2 252.7L293.7 253.5L294.1 254.2L294.4 255L294.6 255.7L294.7 256.5L294.7 257.2L294.5 258L294.2 258.8L293.8 259.5L293.3 260.3L292.9 261L292.5 261.8L292.1 262.6L291.6 263.3L291.1 264.1L290.6 264.8L290 265.6L289.4 266.3L288.8 267.1L287.9 267.9L287 268.6L286 269.4L280 269.4L279 268.6L278.1 267.9L277.3 267.1L276.6 266.3L276 265.6L275.4 264.8L274.9 264.1L274.4 263.3L274 262.6L273.6 261.8L273.1 261L272.7 260.3L272.3 259.5L271.9 258.8L271.6 258L271.4 257.2L271.3 256.5L271.4 255.7L271.6 255L272 254.2L272.4 253.5L272.8 252.7L273.2 251.9L273.7 251.2L274 250.4L274.4 249.7L274.7 248.9L275 248.2L275.4 247.4L275.8 246.6L276.2 245.9L276.7 245.1L277.4 244.4L278.2 243.6L279 242.8z" fill="#4A82C6"/><path d="M42.9 387.5L42.8 389.4L42.7 391.4L42.7 393.3L42.7 395.3L42.7 397.2L42.7 399.1L42.7 401.1L42.7 403L42.7 405L42.7 406.9L42.7 408.9L42.9 410.8L43.3 412.7L43.8 414.7L44.3 416.6L44.8 418.6L45.3 420.5L46 422.5L46.7 424.4L47.4 426.3L48.1 428.3L48.7 430.2L49.4 432.2L50.1 434.1L50.5 436.1L50.5 438L50.4 439.9L50.3 441.9L50 443.8L49.7 445.8L49.3 447.7L48.7 449.7L47.9 451.6L46.9 453.5L45.2 455.5L36.2 455.5L34.5 453.5L33.4 451.6L32.6 449.7L32 447.7L31.6 445.8L31.3 443.8L31.1 441.9L30.9 439.9L30.8 438L30.8 436.1L31.2 434.1L31.9 432.2L32.6 430.2L33.3 428.3L33.9 426.3L34.6 424.4L35.3 422.5L36 420.5L36.6 418.6L37.1 416.6L37.6 414.7L38 412.7L38.4 410.8L38.6 408.9L38.7 406.9L38.7 405L38.7 403L38.7 401.1L38.7 399.1L38.7 397.2L38.7 395.3L38.6 393.3L38.6 391.4L38.5 389.4L38.5 387.5z" fill="#B3271D"/><path d="M70.1 381.2L70.6 383L71 384.9L71.2 386.7L71.2 388.5L71.2 390.3L71.2 392.1L71.1 394L71.1 395.8L71.1 397.6L71 399.4L71 401.3L70.9 403.1L70.8 404.9L70.7 406.7L70.6 408.6L70.4 410.4L70.3 412.2L70.2 414L70.1 415.9L70 417.7L69.9 419.5L69.8 421.3L69.7 423.1L69.6 425L69.5 426.8L69.5 428.6L69.4 430.4L69.3 432.3L69.3 434.1L69.2 435.9L69.1 437.7L69 439.6L68.8 441.4L68.6 443.2L68.4 445L60.8 445L60.6 443.2L60.4 441.4L60.2 439.6L60.1 437.7L60 435.9L59.9 434.1L59.9 432.3L59.8 430.4L59.7 428.6L59.7 426.8L59.6 425L59.5 423.1L59.4 421.3L59.3 419.5L59.2 417.7L59.1 415.9L59 414L58.9 412.2L58.8 410.4L58.6 408.6L58.5 406.7L58.4 404.9L58.3 403.1L58.2 401.3L58.2 399.4L58.1 397.6L58.1 395.8L58.1 394L58 392.1L58 390.3L58 388.5L58 386.7L58.2 384.9L58.6 383L59.1 381.2z" fill="#CDB965"/><path d="M90 363.1L93.2 365.1L95 367.1L96.8 369.1L98.2 371L99.3 373L99.9 375L100.4 377L100.5 379L100.3 381L99.9 383L99.3 385L98.5 387L97.7 389L96.8 391L95.9 393L95.1 395L94.3 397L93.6 398.9L93 400.9L92.4 402.9L91.9 404.9L91.5 406.9L91.1 408.9L90.7 410.9L90.4 412.9L90.1 414.9L89.9 416.9L89.6 418.9L89.5 420.9L89.7 422.9L90 424.9L90.2 426.8L90.3 428.8L90.3 430.8L90 432.8L87 432.8L86.7 430.8L86.8 428.8L86.9 426.8L87.1 424.9L87.4 422.9L87.5 420.9L87.4 418.9L87.2 416.9L87 414.9L86.7 412.9L86.4 410.9L86 408.9L85.6 406.9L85.1 404.9L84.6 402.9L84.1 400.9L83.5 398.9L82.8 397L82 395L81.2 393L80.3 391L79.4 389L78.5 387L77.7 385L77.2 383L76.7 381L76.5 379L76.7 377L77.1 375L77.8 373L78.9 371L80.3 369.1L82.1 367.1L83.9 365.1L87 363.1z" fill="#4A82C6"/><path d="M141.1 397.1L141.5 398.8L141.7 400.4L141.8 402.1L141.9 403.8L141.9 405.5L141.9 407.1L141.7 408.8L141.6 410.5L141.4 412.1L141.2 413.8L141.1 415.5L141 417.2L140.8 418.8L140.7 420.5L140.6 422.2L140.5 423.8L140.4 425.5L140.3 427.2L140.2 428.9L140.1 430.5L140 432.2L139.9 433.9L139.8 435.5L139.8 437.2L139.7 438.9L139.7 440.6L139.7 442.2L139.7 443.9L139.8 445.6L139.8 447.2L139.9 448.9L140 450.6L140.1 452.3L140.3 453.9L139.6 455.6L136.6 455.6L135.9 453.9L136 452.3L136.2 450.6L136.3 448.9L136.4 447.2L136.4 445.6L136.4 443.9L136.5 442.2L136.5 440.6L136.5 438.9L136.4 437.2L136.3 435.5L136.2 433.9L136.1 432.2L136 430.5L136 428.9L135.9 427.2L135.8 425.5L135.7 423.8L135.6 422.2L135.5 420.5L135.3 418.8L135.2 417.2L135.1 415.5L134.9 413.8L134.8 412.1L134.6 410.5L134.4 408.8L134.3 407.1L134.3 405.5L134.3 403.8L134.4 402.1L134.4 400.4L134.6 398.8L135.1 397.1z" fill="#B3271D"/><path d="M164.1 373.7L164.6 375.6L166 377.5L168.4 379.4L170.7 381.3L173.1 383.2L173.6 385.1L172.2 387L170.1 388.9L167.9 390.8L165.6 392.7L164.5 394.6L163.8 396.5L163.2 398.4L163 400.3L162.9 402.2L162.8 404.1L162.7 406L162.7 408L162.7 409.9L162.7 411.8L162.7 413.7L162.8 415.6L162.8 417.5L163.2 419.4L163.5 421.3L163.2 423.2L162.7 425.1L162.7 427L162.6 428.9L162.6 430.8L162.6 432.7L162.6 434.6L162.8 436.5L163 438.4L162.6 440.3L161.6 440.3L161.1 438.4L161.3 436.5L161.5 434.6L161.5 432.7L161.5 430.8L161.5 428.9L161.4 427L161.4 425.1L160.9 423.2L160.6 421.3L160.9 419.4L161.3 417.5L161.3 415.6L161.4 413.7L161.4 411.8L161.4 409.9L161.4 408L161.4 406L161.3 404.1L161.2 402.2L161.1 400.3L160.9 398.4L160.3 396.5L159.6 394.6L158.5 392.7L156.2 390.8L154 388.9L151.9 387L150.5 385.1L151 383.2L153.4 381.3L155.7 379.4L158.1 377.5L159.5 375.6L160.1 373.7z" fill="#CDB965"/><path d="M187.5 362.9L187.9 365.1L188.5 367.2L189.4 369.4L190.5 371.5L191.4 373.7L192.2 375.9L192.6 378L192.4 380.2L191.9 382.3L191.2 384.5L190.4 386.7L189.5 388.8L188.8 391L188.3 393.1L187.8 395.3L187.5 397.5L187.2 399.6L187.1 401.8L187 403.9L186.9 406.1L186.8 408.3L186.8 410.4L186.8 412.6L186.7 414.7L186.7 416.9L186.7 419.1L186.6 421.2L186.6 423.4L186.6 425.5L186.6 427.7L186.8 429.9L187 432L187 434.2L186.8 436.3L186.4 438.5L185.6 438.5L185.3 436.3L185 434.2L185 432L185.2 429.9L185.4 427.7L185.4 425.5L185.4 423.4L185.4 421.2L185.4 419.1L185.4 416.9L185.3 414.7L185.3 412.6L185.2 410.4L185.2 408.3L185.1 406.1L185.1 403.9L184.9 401.8L184.8 399.6L184.6 397.5L184.2 395.3L183.8 393.1L183.3 391L182.6 388.8L181.6 386.7L180.8 384.5L180.2 382.3L179.6 380.2L179.4 378L179.9 375.9L180.7 373.7L181.6 371.5L182.7 369.4L183.6 367.2L184.1 365.1L184.5 362.9z" fill="#4A82C6"/><path d="M236.8 399.3L236.8 400.9L236.8 402.5L236.8 404.1L236.8 405.7L236.9 407.3L237 408.9L237.3 410.5L237.7 412.1L238 413.7L238.5 415.4L238.9 417L239.4 418.6L239.8 420.2L240.3 421.8L240.8 423.4L241.3 425L241.7 426.6L242 428.2L242 429.8L241.9 431.4L241.8 433L241.6 434.6L241.4 436.2L241.2 437.8L240.9 439.4L240.6 441L240.4 442.6L240.4 444.2L240.5 445.8L240.7 447.5L240.8 449.1L240.9 450.7L240.7 452.3L240.3 453.9L239.9 455.5L230.9 455.5L230.4 453.9L230.1 452.3L229.9 450.7L229.9 449.1L230.1 447.5L230.3 445.8L230.4 444.2L230.3 442.6L230.1 441L229.9 439.4L229.6 437.8L229.4 436.2L229.2 434.6L229 433L228.9 431.4L228.8 429.8L228.8 428.2L229.1 426.6L229.5 425L230 423.4L230.5 421.8L231 420.2L231.4 418.6L231.9 417L232.3 415.4L232.7 413.7L233.1 412.1L233.5 410.5L233.8 408.9L233.9 407.3L233.9 405.7L234 404.1L234 402.5L234 400.9L234 399.3z" fill="#B3271D"/><path d="M262.7 385.5L264.8 387.5L266.1 389.4L267 391.4L267.6 393.4L267.9 395.3L268.2 397.3L268.3 399.2L268.1 401.2L267.7 403.2L267.2 405.1L266.6 407.1L265.8 409L264.7 411L263.7 413L262.9 414.9L262.1 416.9L261.4 418.8L260.9 420.8L260.6 422.8L260.3 424.7L260.2 426.7L260.1 428.6L260 430.6L260 432.5L260 434.5L260.2 436.5L260.5 438.4L260.7 440.4L260.7 442.3L260.6 444.3L260.5 446.3L260.4 448.2L260.3 450.2L260 452.1L259.8 454.1L258.6 454.1L258.4 452.1L258.1 450.2L258 448.2L257.9 446.3L257.8 444.3L257.7 442.3L257.7 440.4L257.9 438.4L258.2 436.5L258.4 434.5L258.4 432.5L258.4 430.6L258.3 428.6L258.2 426.7L258.1 424.7L257.8 422.8L257.5 420.8L257 418.8L256.3 416.9L255.5 414.9L254.7 413L253.7 411L252.6 409L251.8 407.1L251.2 405.1L250.7 403.2L250.3 401.2L250.1 399.2L250.2 397.3L250.5 395.3L250.8 393.4L251.4 391.4L252.3 389.4L253.6 387.5L255.7 385.5z" fill="#CDB965"/><path d="M292 362.9L294.5 365.4L294.3 367.8L293.9 370.2L292.9 372.6L291.5 375L290.2 377.4L288.9 379.9L287.5 382.3L286.5 384.7L285.5 387.1L284.8 389.5L284.2 391.9L283.9 394.4L283.8 396.8L283.7 399.2L283.7 401.6L283.7 404L283.6 406.4L283.6 408.9L283.6 411.3L283.6 413.7L283.6 416.1L283.6 418.5L283.6 420.9L283.6 423.4L283.6 425.8L283.6 428.2L283.6 430.6L283.6 433L283.7 435.4L283.7 437.9L283.9 440.3L284.3 442.7L284.6 445.1L284 447.5L282 447.5L281.4 445.1L281.7 442.7L282.2 440.3L282.3 437.9L282.4 435.4L282.4 433L282.4 430.6L282.4 428.2L282.4 425.8L282.4 423.4L282.4 420.9L282.4 418.5L282.4 416.1L282.4 413.7L282.4 411.3L282.4 408.9L282.4 406.4L282.4 404L282.3 401.6L282.3 399.2L282.2 396.8L282.1 394.4L281.8 391.9L281.2 389.5L280.5 387.1L279.6 384.7L278.5 382.3L277.2 379.9L275.8 377.4L274.5 375L273.1 372.6L272.1 370.2L271.8 367.8L271.5 365.4L274 362.9z" fill="#4A82C6"/></g>
<path fill="#fff" stroke="#111" stroke-width="0.45" d="M39.2 26.7h3v6.5h-3z"/><path stroke="#111" stroke-width="0.6" d="M39.2 29.9h3"/><path stroke="#111" stroke-width="1.5" stroke-linecap="round" d="M41.7 34.4h0.9M41.4 30.6h0.9M40.4 25h0.9M38 29.9h0.9M40.2 32.4h0.9M41.8 28.1h0.9M38 31.2h0.9M42.3 32.2h0.9M40 32.9h0.9M37.7 25.4h0.9M42.6 28.9h0.9M40.5 32.8h0.9M38.3 25.7h0.9M41.5 29.7h0.9M40 25.3h0.9M40.2 36.3h0.9M40.1 32.3h0.9M42 32.5h0.9M39.2 22.9h0.9M39 27.6h0.9M40.2 17.4h0.9M40.2 41.1h0.9"/><path fill="#fff" stroke="#111" stroke-width="0.45" d="M63.1 39.7h3v19.6h-3z"/><path stroke="#111" stroke-width="0.6" d="M63.1 49.5h3"/><path stroke="#111" stroke-width="1.5" stroke-linecap="round" d="M63.4 51h0.9M63.5 44.6h0.9M65.3 50.8h0.9M66.3 52.2h0.9M65.2 59.5h0.9M63.8 51.9h0.9M64.3 45.3h0.9M61.6 52.2h0.9M65 62.3h0.9M65.2 48.7h0.9M65.1 35.3h0.9M63.5 63.5h0.9M62.8 46.6h0.9M66.5 35h0.9M64 40.3h0.9M62.2 40.8h0.9M64.1 73.5h0.9M64.1 46.9h0.9M64.1 84h0.9M63.7 72.5h0.9M64.2 31h0.9M64.2 92.4h0.9"/><path fill="#fff" stroke="#111" stroke-width="0.45" d="M87 85.4h3v13h-3z"/><path stroke="#111" stroke-width="0.6" d="M87 91.9h3"/><path stroke="#111" stroke-width="1.5" stroke-linecap="round" d="M87.6 98.9h0.9M89.5 93h0.9M88.2 85.7h0.9M89.5 92.7h0.9M89 83.8h0.9M90.4 85.6h0.9M90 101.5h0.9M88 96.6h0.9M89.2 85.7h0.9M88.9 99.3h0.9M87.3 100.9h0.9M87.7 85.4h0.9M89.3 89.8h0.9M89.4 85.2h0.9M88 110.6h0.9M85.8 89.5h0.9M88.6 85.9h0.9M89.5 72.7h0.9M86.7 105h0.9M86.3 80.5h0.9M88.1 64.7h0.9M88.1 110.9h0.9"/><path fill="#fff" stroke="#111" stroke-width="0.45" d="M136.6 31.9h3v6.5h-3z"/><path stroke="#111" stroke-width="0.6" d="M136.6 35.1h3"/><path stroke="#111" stroke-width="1.5" stroke-linecap="round" d="M138 38h0.9M139.1 38.6h0.9M135.2 31.4h0.9M139.2 34.8h0.9M136.5 30.2h0.9M139.6 38.6h0.9M136.1 30.8h0.9M138.8 35.7h0.9M135.9 31.5h0.9M139.2 33.4h0.9M135.9 34.6h0.9M136.5 40h0.9M135.3 31.9h0.9M136.9 40.2h0.9M137.6 47.5h0.9M137.6 48.8h0.9M137.5 27.5h0.9M137.6 45.3h0.9M139.9 30.9h0.9M137.6 18.1h0.9M137.6 17.9h0.9M137.6 49.5h0.9"/><path fill="#fff" stroke="#111" stroke-width="0.45" d="M160.6 29.1h3v6.5h-3z"/><path stroke="#111" stroke-width="0.6" d="M160.6 32.3h3"/><path stroke="#111" stroke-width="1.5" stroke-linecap="round" d="M163.2 37.4h0.9M161.4 27.9h0.9M163.5 29.5h0.9M163.5 31.2h0.9M160.5 37.3h0.9M159.6 34.6h0.9M159.2 28h0.9M159.4 30.5h0.9M161.2 33.8h0.9M161.7 35.6h0.9M160.6 32h0.9M159.8 29.9h0.9M160.8 35.5h0.9M160.1 33.6h0.9M163.3 24.7h0.9M161.4 41.7h0.9M161.4 39.1h0.9M161.6 38.2h0.9M161 24.6h0.9M162.1 30.3h0.9M161.6 23h0.9M161.6 44h0.9"/><path fill="#fff" stroke="#111" stroke-width="0.45" d="M184.5 84h3v20.5h-3z"/><path stroke="#111" stroke-width="0.6" d="M184.5 94.2h3"/><path stroke="#111" stroke-width="1.5" stroke-linecap="round" d="M184.7 86h0.9M186.5 86.2h0.9M185.1 90.8h0.9M186 88.6h0.9M184.8 89.1h0.9M185.9 78.7h0.9M185.8 96.7h0.9M186.7 109.3h0.9M185.8 83.8h0.9M185 85.7h0.9M184.8 100.5h0.9M184.6 91.1h0.9M185.5 81.3h0.9M184.5 96h0.9M185.6 64.4h0.9M185.5 68.2h0.9M185.5 57.6h0.9M185.6 54.8h0.9M185.6 91.3h0.9M185.5 68.3h0.9M185.6 43h0.9M185.6 111h0.9"/><path fill="#fff" stroke="#111" stroke-width="0.45" d="M233.9 28.4h3v16.4h-3z"/><path stroke="#111" stroke-width="0.6" d="M233.9 36.6h3"/><path stroke="#111" stroke-width="1.5" stroke-linecap="round" d="M234.5 27.5h0.9M236.7 26.3h0.9M235.7 47.2h0.9M236.3 41.6h0.9M234.7 35.5h0.9M232.6 26.2h0.9M234 35.1h0.9M236.3 48.8h0.9M237 35h0.9M234.1 34h0.9M232.9 23.9h0.9M236.1 48.4h0.9M234.2 40h0.9M234 26.7h0.9M235.7 23.2h0.9M232.6 47.8h0.9M237.4 51.4h0.9M233.2 44.4h0.9M237 49.1h0.9M235.9 55h0.9M234.9 18.4h0.9M234.9 62.2h0.9"/><path fill="#fff" stroke="#111" stroke-width="0.45" d="M257.7 29.3h3v13.7h-3z"/><path stroke="#111" stroke-width="0.6" d="M257.7 36.2h3"/><path stroke="#111" stroke-width="1.5" stroke-linecap="round" d="M261.1 44.2h0.9M256.4 35.5h0.9M258 26.7h0.9M258.9 31.1h0.9M256.7 45.1h0.9M257 43.9h0.9M256.4 46h0.9M256.6 26.3h0.9M256.8 36h0.9M260.1 42.4h0.9M258.6 26.6h0.9M261.3 47h0.9M258.2 46.1h0.9M260.8 35.3h0.9M259.3 25.7h0.9M260.5 43.2h0.9M260.7 23.8h0.9M256.7 30h0.9M258.7 47.4h0.9M260.5 38.8h0.9M258.8 18.4h0.9M258.8 59.7h0.9"/><path fill="#fff" stroke="#111" stroke-width="0.45" d="M281.5 75h3v22.8h-3z"/><path stroke="#111" stroke-width="0.6" d="M281.5 86.4h3"/><path stroke="#111" stroke-width="1.5" stroke-linecap="round" d="M283.4 96h0.9M284 91h0.9M282.4 97.5h0.9M281.1 100.9h0.9M281.6 70.5h0.9M282.7 72h0.9M284.1 103.2h0.9M284.3 102.7h0.9M283.5 104.3h0.9M281.7 98.6h0.9M282.5 69.8h0.9M283.8 80.6h0.9M284.3 100.6h0.9M280.8 71.3h0.9M281.4 85.3h0.9M280.1 76.2h0.9M284.1 86.9h0.9M280.5 76.5h0.9M281.2 71.9h0.9M282.5 73.1h0.9M282.6 64h0.9M282.6 111h0.9"/><path fill="#fff" stroke="#111" stroke-width="0.45" d="M39.2 143h3v14.6h-3z"/><path stroke="#111" stroke-width="0.6" d="M39.2 150.3h3"/><path stroke="#111" stroke-width="1.5" stroke-linecap="round" d="M41.4 158.2h0.9M41.2 143.1h0.9M38.9 139.5h0.9M38.4 156.5h0.9M39.7 149.4h0.9M40 153.7h0.9M37.6 155.6h0.9M39 151h0.9M42.4 151.5h0.9M40.9 157.8h0.9M39.1 147h0.9M42.7 151h0.9M41.3 154h0.9M39.5 142.4h0.9M40.6 130.9h0.9M41 165.9h0.9M40.6 171.4h0.9M40.3 182h0.9M38.9 162.9h0.9M41.1 170.4h0.9M40.2 130.2h0.9M40.2 201.7h0.9"/><path fill="#fff" stroke="#111" stroke-width="0.45" d="M63.1 203h3v12.8h-3z"/><path stroke="#111" stroke-width="0.6" d="M63.1 209.4h3"/><path stroke="#111" stroke-width="1.5" stroke-linecap="round" d="M64.1 203.1h0.9M63.5 212.4h0.9M62.2 199.5h0.9M66 201.4h0.9M63.4 215h0.9M65.7 208h0.9M66.7 200.1h0.9M62.6 213.9h0.9M64.4 209.6h0.9M62.1 206.2h0.9M66.3 206.4h0.9M66.5 200.9h0.9M66.5 200.7h0.9M66.3 218.7h0.9M63.2 203h0.9M64.8 190.9h0.9M64.1 181.4h0.9M65.6 196.3h0.9M63.6 167.4h0.9M63.5 204.4h0.9M64.2 155.9h0.9M64.2 220.5h0.9"/><path fill="#fff" stroke="#111" stroke-width="0.45" d="M87 215.8h3v4.3h-3z"/><path stroke="#111" stroke-width="0.6" d="M87 217.9h3"/><path stroke="#111" stroke-width="1.5" stroke-linecap="round" d="M88.4 219.9h0.9M88.5 219.8h0.9M89.9 215h0.9M86.6 220.7h0.9M88.8 218.5h0.9M86.8 218.7h0.9M86.5 219h0.9M89.1 215.5h0.9M89.1 218.5h0.9M88.2 217.8h0.9M88 218.8h0.9M89.6 214.6h0.9M86.1 215.7h0.9M87.4 217.9h0.9M87.5 221h0.9M86.7 221.3h0.9M89.1 208.3h0.9M85.9 210.1h0.9M85.6 219.7h0.9M86 220.9h0.9M88.1 204.7h0.9M88.1 222.6h0.9"/><path fill="#fff" stroke="#111" stroke-width="0.45" d="M136.6 136.3h3v18h-3z"/><path stroke="#111" stroke-width="0.6" d="M136.6 145.3h3"/><path stroke="#111" stroke-width="1.5" stroke-linecap="round" d="M139.7 132.1h0.9M136.4 153.9h0.9M138 132h0.9M137.5 149.1h0.9M138.1 151.9h0.9M137.7 138.8h0.9M135.6 136.1h0.9M140.2 142.3h0.9M137.6 155.5h0.9M136.8 141.6h0.9M137.6 131.9h0.9M139.7 145.9h0.9M139.5 159.3h0.9M137 156h0.9M137.5 153.7h0.9M137.1 174.2h0.9M140 159.7h0.9M138.1 134.1h0.9M139.5 133.4h0.9M135.6 158.8h0.9M137.6 130.3h0.9M137.6 176h0.9"/><path fill="#fff" stroke="#111" stroke-width="0.45" d="M160.6 172.4h3v45.7h-3z"/><path stroke="#111" stroke-width="0.6" d="M160.6 195.2h3"/><path stroke="#111" stroke-width="1.5" stroke-linecap="round" d="M161.1 187.4h0.9M163.2 222.9h0.9M161.8 160.9h0.9M162.1 186.6h0.9M161.4 164h0.9M160.7 189.2h0.9M161.7 214h0.9M159.2 215h0.9M162.9 204.8h0.9M163.5 211.5h0.9M162.1 180.4h0.9M159.6 166.5h0.9M163.7 218.7h0.9M159.6 165.5h0.9M159.5 169.4h0.9M159.6 213.5h0.9M161.1 202.5h0.9M161.3 159.9h0.9M160.4 214.3h0.9M159.9 222.4h0.9M161.6 153.7h0.9M161.6 222.9h0.9"/><path fill="#fff" stroke="#111" stroke-width="0.45" d="M184.5 174.8h3v27.6h-3z"/><path stroke="#111" stroke-width="0.6" d="M184.5 188.6h3"/><path stroke="#111" stroke-width="1.5" stroke-linecap="round" d="M185.6 191.7h0.9M184.9 199.7h0.9M186.4 206.2h0.9M183.8 193.4h0.9M184.1 188.7h0.9M183.6 197.8h0.9M184.7 176.2h0.9M185.3 168.5h0.9M186.6 203.9h0.9M187.2 178.3h0.9M187.1 204.9h0.9M184.9 172.7h0.9M186.2 190.6h0.9M187.5 199.9h0.9M186.6 168.7h0.9M185.7 186.5h0.9M184.6 204.8h0.9M186.9 166.5h0.9M183.2 207.8h0.9M185.2 213.8h0.9M185.6 147.1h0.9M185.6 218.7h0.9"/><path fill="#fff" stroke="#111" stroke-width="0.45" d="M233.9 140.9h3v8.2h-3z"/><path stroke="#111" stroke-width="0.6" d="M233.9 145h3"/><path stroke="#111" stroke-width="1.5" stroke-linecap="round" d="M233.5 141.2h0.9M235 145.3h0.9M233.2 140.6h0.9M235 151.4h0.9M233.9 146.9h0.9M235.9 141.4h0.9M235.2 150.5h0.9M237.1 141.1h0.9M236.5 151.6h0.9M235.9 151h0.9M237.3 143.7h0.9M232.7 143.3h0.9M233.7 142.8h0.9M232.5 140.6h0.9M235 167.4h0.9M235 176.6h0.9M236.2 147h0.9M234.5 137.2h0.9M234.9 177.3h0.9M234.8 163.8h0.9M234.9 130.4h0.9M234.9 185.1h0.9"/><path fill="#fff" stroke="#111" stroke-width="0.45" d="M257.7 149.1h3v45.6h-3z"/><path stroke="#111" stroke-width="0.6" d="M257.7 171.9h3"/><path stroke="#111" stroke-width="1.5" stroke-linecap="round" d="M257.2 156.7h0.9M260 204.2h0.9M257.9 149.6h0.9M259.9 183.4h0.9M257.9 163.2h0.9M260 175.6h0.9M259.9 208.3h0.9M257.7 167.1h0.9M257.2 150h0.9M259 178.5h0.9M260.1 190.3h0.9M257.6 157.5h0.9M257.3 197.2h0.9M257.7 166.7h0.9M259.8 173.7h0.9M257.4 146.9h0.9M258.5 190.5h0.9M258.5 186.4h0.9M259.6 180.3h0.9M258.2 192.7h0.9M258.8 137.2h0.9M258.8 217h0.9"/><path fill="#fff" stroke="#111" stroke-width="0.45" d="M281.5 200.2h3v10.9h-3z"/><path stroke="#111" stroke-width="0.6" d="M281.5 205.6h3"/><path stroke="#111" stroke-width="1.5" stroke-linecap="round" d="M280.7 207.6h0.9M282 203.4h0.9M284.2 198.4h0.9M281.2 210.4h0.9M282.9 200.7h0.9M283.2 214.2h0.9M284 207.5h0.9M284.8 201.3h0.9M284.7 202.2h0.9M281.7 209.4h0.9M284.5 213.4h0.9M282.8 211.7h0.9M284.2 205.5h0.9M280.7 207.6h0.9M280.2 204.7h0.9M283.2 208.5h0.9M285.1 220.1h0.9M281.5 197.5h0.9M281.9 183.4h0.9M284.8 207.6h0.9M282.6 175.5h0.9M282.6 222.8h0.9"/><path fill="#fff" stroke="#111" stroke-width="0.45" d="M39.2 291h3v41h-3z"/><path stroke="#111" stroke-width="0.6" d="M39.2 311.5h3"/><path stroke="#111" stroke-width="1.5" stroke-linecap="round" d="M41.4 328.6h0.9M40.4 335.8h0.9M39.4 301.1h0.9M40.4 322.8h0.9M39.4 305.6h0.9M41.6 317.3h0.9M41.4 323.1h0.9M40 331.1h0.9M40.4 310.3h0.9M41.1 297.2h0.9M41.1 298.3h0.9M39.6 286.1h0.9M40.3 290h0.9M38.5 327.3h0.9M40.7 287.9h0.9M40.7 331.3h0.9M39.6 333h0.9M40.6 300h0.9M37.8 325.9h0.9M41.1 299.7h0.9M40.2 273.1h0.9M40.2 335.8h0.9"/><path fill="#fff" stroke="#111" stroke-width="0.45" d="M63.1 269.4h3v10.8h-3z"/><path stroke="#111" stroke-width="0.6" d="M63.1 274.8h3"/><path stroke="#111" stroke-width="1.5" stroke-linecap="round" d="M63.4 269.6h0.9M65.3 273.4h0.9M64.1 268.3h0.9M63.2 268.3h0.9M63.1 279.6h0.9M66.2 270.8h0.9M65.2 275.3h0.9M64.2 281h0.9M63.8 275.9h0.9M64.8 280.2h0.9M64.9 271.8h0.9M63.9 270.6h0.9M64.5 268.7h0.9M63.7 268.2h0.9M62.6 260.6h0.9M65.1 295.9h0.9M61.8 279.5h0.9M66.4 265.3h0.9M65.4 256.7h0.9M64.1 247.2h0.9M64.2 243.4h0.9M64.2 300.7h0.9"/><path fill="#fff" stroke="#111" stroke-width="0.45" d="M87 256.4h3v13h-3z"/><path stroke="#111" stroke-width="0.6" d="M87 262.9h3"/><path stroke="#111" stroke-width="1.5" stroke-linecap="round" d="M85.8 268.4h0.9M88.8 267.6h0.9M85.5 254.4h0.9M89.5 256.3h0.9M86.2 258.9h0.9M89.3 272.1h0.9M87.4 259.9h0.9M85.7 266.1h0.9M89.8 252.6h0.9M89.7 253h0.9M89.9 263.7h0.9M89 269.1h0.9M87.5 268.3h0.9M87.7 255.2h0.9M88.6 253.6h0.9M87.2 280.4h0.9M88.2 293.4h0.9M86.7 256.1h0.9M90.6 272.1h0.9M89.8 276h0.9M88.1 248.8h0.9M88.1 293.6h0.9"/><path fill="#fff" stroke="#111" stroke-width="0.45" d="M136.6 319.2h3v10.8h-3z"/><path stroke="#111" stroke-width="0.6" d="M136.6 324.6h3"/><path stroke="#111" stroke-width="1.5" stroke-linecap="round" d="M137.6 319h0.9M135.4 322.3h0.9M139 324.3h0.9M135.3 329.3h0.9M135.9 332.7h0.9M139.2 329.1h0.9M137.8 325.3h0.9M136.6 327.8h0.9M138.9 323.7h0.9M137.3 330.1h0.9M140 322.1h0.9M137.1 328.6h0.9M135.8 323.4h0.9M140.1 322.7h0.9M137.5 322.4h0.9M137.7 330.1h0.9M137.7 288.2h0.9M136.6 325.4h0.9M138.6 305.1h0.9M137.6 313.6h0.9M137.6 286.8h0.9M137.6 335.9h0.9"/><path fill="#fff" stroke="#111" stroke-width="0.45" d="M160.6 277.8h3v16.2h-3z"/><path stroke="#111" stroke-width="0.6" d="M160.6 285.9h3"/><path stroke="#111" stroke-width="1.5" stroke-linecap="round" d="M159.5 277.9h0.9M161.4 274.2h0.9M163 290.3h0.9M159.8 292.2h0.9M162.5 292.2h0.9M161.3 296.3h0.9M161.8 292.8h0.9M163 295.3h0.9M160.7 274.9h0.9M162.1 289.7h0.9M159.3 279.7h0.9M163.2 281.4h0.9M161.3 278.3h0.9M161.8 277.5h0.9M161.2 314.6h0.9M161.9 287h0.9M162.7 272.8h0.9M161.4 312.8h0.9M161.4 274.4h0.9M162.6 312h0.9M161.6 259.4h0.9M161.6 327.3h0.9"/><path fill="#fff" stroke="#111" stroke-width="0.45" d="M184.5 259.8h3v11.7h-3z"/><path stroke="#111" stroke-width="0.6" d="M184.5 265.6h3"/><path stroke="#111" stroke-width="1.5" stroke-linecap="round" d="M184.6 266.6h0.9M184.5 265.4h0.9M186.4 269.9h0.9M185.1 260.1h0.9M185.4 272h0.9M185.2 267.5h0.9M187 270.5h0.9M183.2 271.2h0.9M186.8 261.9h0.9M183.9 270.5h0.9M187.8 264.1h0.9M185.8 270.3h0.9M186.8 270.1h0.9M184.9 266.3h0.9M185.7 260.6h0.9M185.5 283.8h0.9M186.8 245.4h0.9M186.4 268h0.9M185.4 286.8h0.9M183.9 248.5h0.9M185.6 243.1h0.9M185.6 294h0.9"/><path fill="#fff" stroke="#111" stroke-width="0.45" d="M233.9 321.9h3v10.2h-3z"/><path stroke="#111" stroke-width="0.6" d="M233.9 327h3"/><path stroke="#111" stroke-width="1.5" stroke-linecap="round" d="M236.7 319.1h0.9M234.3 324h0.9M233.9 333.7h0.9M234.5 323.1h0.9M233.5 322.1h0.9M236.8 321.7h0.9M233.4 323.4h0.9M232.7 331.5h0.9M236.2 334.3h0.9M236.3 327.1h0.9M234.1 330.5h0.9M237.5 320.6h0.9M236.4 333.5h0.9M232.4 326.1h0.9M233.8 316.3h0.9M237.4 324.4h0.9M233.7 312.4h0.9M233.1 314.3h0.9M235.2 308h0.9M232.7 315.9h0.9M234.9 304.6h0.9M234.9 335.2h0.9"/><path fill="#fff" stroke="#111" stroke-width="0.45" d="M257.7 303.5h3v21.4h-3z"/><path stroke="#111" stroke-width="0.6" d="M257.7 314.2h3"/><path stroke="#111" stroke-width="1.5" stroke-linecap="round" d="M258.9 328.5h0.9M260.4 318.3h0.9M258.2 321.7h0.9M258.8 327.3h0.9M257.5 298.7h0.9M257 304.3h0.9M258.8 301h0.9M260.2 327.1h0.9M256.9 301h0.9M257.5 327.4h0.9M261.1 313.7h0.9M257.8 301.9h0.9M259.2 330.1h0.9M257.4 311.7h0.9M261.3 301.2h0.9M257.8 326.3h0.9M257.4 287.9h0.9M257 327.1h0.9M256.8 292.1h0.9M259.4 329.2h0.9M258.8 279.6h0.9M258.8 334.1h0.9"/><path fill="#fff" stroke="#111" stroke-width="0.45" d="M281.5 250.5h3v10.2h-3z"/><path stroke="#111" stroke-width="0.6" d="M281.5 255.6h3"/><path stroke="#111" stroke-width="1.5" stroke-linecap="round" d="M283.9 251.2h0.9M284.7 256.7h0.9M282.3 261.3h0.9M282.8 257.7h0.9M280.7 260.6h0.9M281.5 247.7h0.9M284.7 255.6h0.9M281.9 258.8h0.9M280.3 254.6h0.9M283.3 263.4h0.9M280.4 257.7h0.9M283.6 259.1h0.9M282.6 251.4h0.9M284.3 260.2h0.9M283.9 263.9h0.9M284.8 265.3h0.9M282.6 248.9h0.9M282.9 257.9h0.9M282.9 251.8h0.9M280.4 250.9h0.9M282.6 242.8h0.9M282.6 269.4h0.9"/><path fill="#fff" stroke="#111" stroke-width="0.45" d="M39.2 421.7h3v20.9h-3z"/><path stroke="#111" stroke-width="0.6" d="M39.2 432.1h3"/><path stroke="#111" stroke-width="1.5" stroke-linecap="round" d="M41.5 434.9h0.9M42.7 434.2h0.9M39.2 431h0.9M39.8 419h0.9M40.9 430.6h0.9M38.7 420.2h0.9M40.6 419.6h0.9M39.4 436.6h0.9M42.5 416h0.9M39.4 430.6h0.9M37.7 416.3h0.9M40.1 447.2h0.9M37.6 429.2h0.9M38.1 442.6h0.9M38.6 438.5h0.9M38.3 447h0.9M38.3 430.2h0.9M40 402.9h0.9M41 447.5h0.9M39.9 401.9h0.9M40.2 387.5h0.9M40.2 455.5h0.9"/><path fill="#fff" stroke="#111" stroke-width="0.45" d="M63.1 393.8h3v32.8h-3z"/><path stroke="#111" stroke-width="0.6" d="M63.1 410.2h3"/><path stroke="#111" stroke-width="1.5" stroke-linecap="round" d="M64.9 436.1h0.9M66.2 396.8h0.9M64.7 399h0.9M62.8 418.4h0.9M65.8 433h0.9M63 407h0.9M63 429.8h0.9M62.7 396.6h0.9M63.5 433.6h0.9M65.2 418.8h0.9M64 407.2h0.9M65.9 385.2h0.9M62.8 429.7h0.9M61.9 414.4h0.9M65.5 396.6h0.9M66.3 426.4h0.9M62.7 409.8h0.9M65 405.4h0.9M66.6 399.2h0.9M63.7 386.7h0.9M64.2 381.2h0.9M64.2 445h0.9"/><path fill="#fff" stroke="#111" stroke-width="0.45" d="M87 381.2h3v16h-3z"/><path stroke="#111" stroke-width="0.6" d="M87 389.2h3"/><path stroke="#111" stroke-width="1.5" stroke-linecap="round" d="M85.6 391h0.9M86.4 391.3h0.9M89.7 399h0.9M86.2 401.5h0.9M88.4 385h0.9M89.7 391.1h0.9M86.6 396h0.9M86 388.9h0.9M90.3 384.4h0.9M90.1 381.2h0.9M87.7 400.2h0.9M89.9 378.9h0.9M88.9 386.8h0.9M86.9 395.2h0.9M88.8 428.2h0.9M89.2 412.7h0.9M88.6 432.3h0.9M85.7 396.1h0.9M89.1 386.6h0.9M89.1 384h0.9M88.1 363.1h0.9M88.1 432.8h0.9"/><path fill="#fff" stroke="#111" stroke-width="0.45" d="M136.6 408.8h3v22.5h-3z"/><path stroke="#111" stroke-width="0.6" d="M136.6 420.1h3"/><path stroke="#111" stroke-width="1.5" stroke-linecap="round" d="M138.9 413.6h0.9M139.1 424.4h0.9M136.8 420.7h0.9M136.5 402.3h0.9M138.3 422.2h0.9M136.7 409.3h0.9M137.8 436.8h0.9M138.6 416.7h0.9M138.5 428.7h0.9M139.5 410.2h0.9M138.5 410.8h0.9M139.1 418.1h0.9M138.1 429.9h0.9M139.1 409.5h0.9M137.3 448h0.9M139.1 401h0.9M137.6 446.6h0.9M139.5 408.2h0.9M136.4 425.2h0.9M136.9 442.8h0.9M137.6 397.1h0.9M137.6 455.6h0.9"/><path fill="#fff" stroke="#111" stroke-width="0.45" d="M160.6 380.9h3v7.2h-3z"/><path stroke="#111" stroke-width="0.6" d="M160.6 384.5h3"/><path stroke="#111" stroke-width="1.5" stroke-linecap="round" d="M159.3 388.4h0.9M162.6 382.2h0.9M163.6 385.2h0.9M160 388.6h0.9M161.7 383.2h0.9M163.7 388.9h0.9M162.2 383.1h0.9M162.2 386h0.9M160.6 389.4h0.9M162.1 383h0.9M159.3 384.2h0.9M164.1 386.6h0.9M163.3 379.4h0.9M159.4 389.5h0.9M161.7 426.1h0.9M161.5 426.7h0.9M161.8 423h0.9M161.7 405.2h0.9M161.5 435.2h0.9M159.6 383.9h0.9M161.6 373.7h0.9M161.6 440.3h0.9"/><path fill="#fff" stroke="#111" stroke-width="0.45" d="M184.5 379.1h3v11.7h-3z"/><path stroke="#111" stroke-width="0.6" d="M184.5 384.9h3"/><path stroke="#111" stroke-width="1.5" stroke-linecap="round" d="M186.1 380.9h0.9M184.6 390.4h0.9M183.1 380.5h0.9M183.2 376.4h0.9M186.1 391.3h0.9M187.2 392.2h0.9M183.3 386.2h0.9M185.7 391.2h0.9M184.3 378h0.9M185.9 386.8h0.9M186.7 382.1h0.9M184.9 388.2h0.9M187.7 378h0.9M188.2 386.5h0.9M185.6 425.3h0.9M185.9 369.8h0.9M183.3 386.2h0.9M186.5 374.8h0.9M185.7 394.8h0.9M185.6 426.4h0.9M185.6 362.9h0.9M185.6 438.5h0.9"/><path fill="#fff" stroke="#111" stroke-width="0.45" d="M233.9 429h3v21.2h-3z"/><path stroke="#111" stroke-width="0.6" d="M233.9 439.6h3"/><path stroke="#111" stroke-width="1.5" stroke-linecap="round" d="M235.5 438.6h0.9M235.6 450.8h0.9M236.3 448.5h0.9M233 455.5h0.9M234.4 449.4h0.9M232.4 427h0.9M232.5 437.7h0.9M233.9 443.7h0.9M234.8 451h0.9M233.7 444.9h0.9M233.6 435.8h0.9M233.6 423.6h0.9M233.2 423h0.9M232.7 424.3h0.9M232.8 455.1h0.9M233.7 415.8h0.9M235.8 440h0.9M235.1 453.8h0.9M233.2 433h0.9M234.8 404.3h0.9M234.9 399.3h0.9M234.9 455.5h0.9"/><path fill="#fff" stroke="#111" stroke-width="0.45" d="M257.7 392.9h3v14.8h-3z"/><path stroke="#111" stroke-width="0.6" d="M257.7 400.4h3"/><path stroke="#111" stroke-width="1.5" stroke-linecap="round" d="M259.8 405.3h0.9M257.3 391.9h0.9M261.1 409.2h0.9M258.9 402.1h0.9M260.5 401.4h0.9M260.1 402h0.9M256.6 399.8h0.9M260.6 400.1h0.9M258.2 399.6h0.9M259.8 411.6h0.9M257.8 402.9h0.9M258.3 403.5h0.9M257.7 404.3h0.9M256.4 401.3h0.9M258.7 438.6h0.9M258.4 393.4h0.9M260.7 416h0.9M259.9 398.8h0.9M259.2 411.6h0.9M258.2 441h0.9M258.8 385.5h0.9M258.8 454.1h0.9"/><path fill="#fff" stroke="#111" stroke-width="0.45" d="M281.5 367.5h3v10.6h-3z"/><path stroke="#111" stroke-width="0.6" d="M281.5 372.8h3"/><path stroke="#111" stroke-width="1.5" stroke-linecap="round" d="M280.5 380.3h0.9M283.1 370.8h0.9M284.3 380.6h0.9M282.8 373.8h0.9M284.4 380h0.9M281.1 379.9h0.9M282.6 373.4h0.9M284.8 372.2h0.9M283.5 380.7h0.9M284.2 374h0.9M284.2 370h0.9M284 366.6h0.9M282.8 379h0.9M284 368.2h0.9M282.1 369.1h0.9M282.8 446.8h0.9M282.6 424h0.9M282.4 443.4h0.9M282.5 394h0.9M282.5 420.7h0.9M282.6 362.9h0.9M282.6 447.5h0.9"/>
<text transform="translate(10.9,229.5) rotate(-90)" font-size="9.4" fill="#1A1A1A" text-anchor="middle">log2(TPM)</text>
<text x="95.8" y="475.9" font-size="8.2" font-weight="bold" fill="#1A1A1A">cluster:</text>
<rect x="138.6" y="468.9" width="8.6" height="7.6" fill="#B3271D"/>
<text x="148.5" y="475.8" font-size="8.4" fill="#1A1A1A">MEL</text>
<rect x="175.3" y="468.9" width="8.6" height="7.6" fill="#CDB965"/>
<text x="185.2" y="475.8" font-size="8.4" fill="#1A1A1A">NPLAS</text>
<rect x="221.3" y="468.9" width="8.6" height="7.6" fill="#4A82C6"/>
<text x="231.2" y="475.8" font-size="8.4" fill="#1A1A1A">MES</text>
<text x="308.2" y="10.2" font-size="13.6" font-weight="bold" fill="#000">b</text>
<defs><pattern id="mg" patternUnits="userSpaceOnUse" x="406.900" y="41.950" width="4.645" height="5.27"><rect x="0" y="0" width="4" height="4.5" fill="#F1F2F3"/></pattern></defs>
<rect x="406.900" y="41.950" width="245.585" height="341.850" fill="url(#mg)"/>
<path fill="#8a8a8a" d="M343.9 9.9h46.5v6.7h-46.5zM346.6 16.8h43.8v6.8h-43.8zM343.9 23.7h46.5v6.7h-46.5zM345.6 30.5h44.8v6.8h-44.8z"/><path fill="#9a9a9a" d="M358 42.1h32.2v4.2h-32.2zM372 47.4h18.2v4.2h-18.2zM358.9 52.6h31.3v4.2h-31.3zM365 57.9h25.2v4.2h-25.2zM365.9 63.2h24.3v4.2h-24.3zM365.9 68.5h24.3v4.2h-24.3zM367.6 73.7h22.6v4.2h-22.6zM370.2 79h20v4.2h-20zM370.2 84.3h20v4.2h-20zM370.2 89.5h20v4.2h-20zM370.2 94.8h20v4.2h-20zM371.1 100.1h19.1v4.2h-19.1zM372 105.3h18.2v4.2h-18.2zM372 110.6h18.2v4.2h-18.2zM374.6 115.9h15.6v4.2h-15.6zM374.6 121.2h15.6v4.2h-15.6zM375.5 126.4h14.7v4.2h-14.7zM375.5 131.7h14.7v4.2h-14.7zM375.5 137h14.7v4.2h-14.7zM375.5 142.2h14.7v4.2h-14.7zM376.3 147.5h13.9v4.2h-13.9zM377.2 152.8h13v4.2h-13zM377.2 158h13v4.2h-13zM378.1 163.3h12.1v4.2h-12.1zM378.1 168.6h12.1v4.2h-12.1zM378.9 173.8h11.2v4.2h-11.2zM378.9 179.1h11.2v4.2h-11.2zM378.9 184.4h11.2v4.2h-11.2zM378.9 189.7h11.2v4.2h-11.2zM379.4 194.9h10.8v4.2h-10.8zM379.4 200.2h10.8v4.2h-10.8zM379.4 205.5h10.8v4.2h-10.8zM380.3 210.7h9.9v4.2h-9.9zM381.1 216h9.1v4.2h-9.1zM381.1 221.3h9.1v4.2h-9.1zM381.1 226.5h9.1v4.2h-9.1zM382.9 231.8h7.3v4.2h-7.3zM382.9 237.1h7.3v4.2h-7.3zM382.9 242.4h7.3v4.2h-7.3zM382.9 247.6h7.3v4.2h-7.3zM383.7 252.9h6.5v4.2h-6.5zM383.7 258.2h6.5v4.2h-6.5zM383.7 263.4h6.5v4.2h-6.5zM383.7 268.7h6.5v4.2h-6.5zM383.7 274h6.5v4.2h-6.5zM383.7 279.2h6.5v4.2h-6.5zM383.7 284.5h6.5v4.2h-6.5zM384.6 289.8h5.6v4.2h-5.6zM384.6 295.1h5.6v4.2h-5.6zM384.6 300.3h5.6v4.2h-5.6zM384.6 305.6h5.6v4.2h-5.6zM385.5 310.9h4.7v4.2h-4.7zM385.5 316.1h4.7v4.2h-4.7zM385.5 321.4h4.7v4.2h-4.7zM385.5 326.7h4.7v4.2h-4.7zM386.4 331.9h3.8v4.2h-3.8zM386.4 337.2h3.8v4.2h-3.8zM386.4 342.5h3.8v4.2h-3.8zM387.2 347.8h3v4.2h-3zM387.2 353h3v4.2h-3zM387.2 358.3h3v4.2h-3zM387.2 363.6h3v4.2h-3zM387.2 368.8h3v4.2h-3zM388.9 374.1h1.2v4.2h-1.2zM388.9 379.4h1.2v4.2h-1.2z"/>
<path fill="#E0261B" d="M406.9 10.3h4v5.9h-4zM411.5 10.3h4v5.9h-4zM416.2 10.3h4v5.9h-4zM420.8 10.3h4v5.9h-4zM425.5 10.3h4v5.9h-4zM430.1 10.3h4v5.9h-4zM434.8 10.3h4v5.9h-4zM439.4 10.3h4v5.9h-4zM444.1 10.3h4v5.9h-4zM448.7 10.3h4v5.9h-4zM453.3 10.3h4v5.9h-4zM458 10.3h4v5.9h-4zM462.6 10.3h4v5.9h-4zM467.3 10.3h4v5.9h-4zM471.9 10.3h4v5.9h-4zM476.6 10.3h4v5.9h-4zM481.2 10.3h4v5.9h-4zM485.9 10.3h4v5.9h-4zM490.5 10.3h4v5.9h-4zM495.2 10.3h4v5.9h-4zM499.8 10.3h4v5.9h-4zM372.2 10.6h17.7v5.3h-17.7zM406.9 17.2h4v6h-4zM411.5 17.2h4v6h-4zM416.2 17.2h4v6h-4zM420.8 17.2h4v6h-4zM425.5 17.2h4v6h-4zM430.1 17.2h4v6h-4zM434.8 17.2h4v6h-4zM439.4 17.2h4v6h-4zM444.1 17.2h4v6h-4zM448.7 17.2h4v6h-4zM453.3 17.2h4v6h-4zM504.4 17.2h4v6h-4zM380.2 17.5h9.7v5.4h-9.7zM406.9 24.1h4v5.9h-4zM411.5 24.1h4v5.9h-4zM416.2 24.1h4v5.9h-4zM420.8 24.1h4v5.9h-4zM425.5 24.1h4v5.9h-4zM430.1 24.1h4v5.9h-4zM434.8 24.1h4v5.9h-4zM439.4 24.1h4v5.9h-4zM444.1 24.1h4v5.9h-4zM448.7 24.1h4v5.9h-4zM453.3 24.1h4v5.9h-4zM458 24.1h4v5.9h-4zM462.6 24.1h4v5.9h-4zM467.3 24.1h4v5.9h-4zM471.9 24.1h4v5.9h-4zM476.6 24.1h4v5.9h-4zM481.2 24.1h4v5.9h-4zM485.9 24.1h4v5.9h-4zM490.5 24.1h4v5.9h-4zM499.8 24.1h4v5.9h-4zM509.1 24.1h4v5.9h-4zM569.5 24.1h4v5.9h-4zM371.5 24.4h18.4v5.3h-18.4zM406.9 30.9h4v6h-4zM411.5 30.9h4v6h-4zM416.2 30.9h4v6h-4zM420.8 30.9h4v6h-4zM425.5 30.9h4v6h-4zM430.1 30.9h4v6h-4zM434.8 30.9h4v6h-4zM458 30.9h4v6h-4zM462.6 30.9h4v6h-4zM467.3 30.9h4v6h-4zM471.9 30.9h4v6h-4zM476.6 30.9h4v6h-4zM495.2 30.9h4v6h-4zM504.4 30.9h4v6h-4zM513.7 30.9h4v6h-4zM602 30.9h4v6h-4zM629.9 30.9h4v6h-4zM634.5 30.9h4v6h-4zM375 31.2h14.9v5.4h-14.9z"/><path fill="#1D6B2F" d="M504.4 10.3h4v5.9h-4zM509.1 10.3h4v5.9h-4zM513.7 10.3h4v5.9h-4zM518.4 10.3h4v5.9h-4zM523 10.3h4v5.9h-4zM527.7 10.3h4v5.9h-4zM532.3 10.3h4v5.9h-4zM537 10.3h4v5.9h-4zM541.6 10.3h4v5.9h-4zM546.2 10.3h4v5.9h-4zM550.9 10.3h4v5.9h-4zM555.5 10.3h4v5.9h-4zM560.2 10.3h4v5.9h-4zM564.8 10.3h4v5.9h-4zM569.5 10.3h4v5.9h-4zM574.1 10.3h4v5.9h-4zM578.8 10.3h4v5.9h-4zM583.4 10.3h4v5.9h-4zM588.1 10.3h4v5.9h-4zM592.7 10.3h4v5.9h-4zM597.3 10.3h4v5.9h-4zM354.2 10.6h18v5.3h-18zM458 17.2h4v6h-4zM462.6 17.2h4v6h-4zM467.3 17.2h4v6h-4zM471.9 17.2h4v6h-4zM476.6 17.2h4v6h-4zM481.2 17.2h4v6h-4zM485.9 17.2h4v6h-4zM490.5 17.2h4v6h-4zM495.2 17.2h4v6h-4zM509.1 17.2h4v6h-4zM513.7 17.2h4v6h-4zM518.4 17.2h4v6h-4zM523 17.2h4v6h-4zM527.7 17.2h4v6h-4zM532.3 17.2h4v6h-4zM537 17.2h4v6h-4zM541.6 17.2h4v6h-4zM546.2 17.2h4v6h-4zM550.9 17.2h4v6h-4zM555.5 17.2h4v6h-4zM560.2 17.2h4v6h-4zM564.8 17.2h4v6h-4zM361 17.5h19.2v5.4h-19.2zM495.2 24.1h4v5.9h-4zM504.4 24.1h4v5.9h-4zM513.7 24.1h4v5.9h-4zM518.4 24.1h4v5.9h-4zM523 24.1h4v5.9h-4zM527.7 24.1h4v5.9h-4zM532.3 24.1h4v5.9h-4zM537 24.1h4v5.9h-4zM541.6 24.1h4v5.9h-4zM546.2 24.1h4v5.9h-4zM550.9 24.1h4v5.9h-4zM555.5 24.1h4v5.9h-4zM560.2 24.1h4v5.9h-4zM564.8 24.1h4v5.9h-4zM574.1 24.1h4v5.9h-4zM578.8 24.1h4v5.9h-4zM592.7 24.1h4v5.9h-4zM597.3 24.1h4v5.9h-4zM602 24.1h4v5.9h-4zM606.6 24.1h4v5.9h-4zM611.3 24.1h4v5.9h-4zM615.9 24.1h4v5.9h-4zM620.6 24.1h4v5.9h-4zM625.2 24.1h4v5.9h-4zM350.3 24.4h21.2v5.3h-21.2zM439.4 30.9h4v6h-4zM481.2 30.9h4v6h-4zM509.1 30.9h4v6h-4zM518.4 30.9h4v6h-4zM523 30.9h4v6h-4zM527.7 30.9h4v6h-4zM532.3 30.9h4v6h-4zM537 30.9h4v6h-4zM541.6 30.9h4v6h-4zM546.2 30.9h4v6h-4zM550.9 30.9h4v6h-4zM555.5 30.9h4v6h-4zM569.5 30.9h4v6h-4zM574.1 30.9h4v6h-4zM583.4 30.9h4v6h-4zM592.7 30.9h4v6h-4zM597.3 30.9h4v6h-4zM606.6 30.9h4v6h-4zM611.3 30.9h4v6h-4zM639.1 30.9h4v6h-4zM643.8 30.9h4v6h-4zM356.4 31.2h18.6v5.4h-18.6zM376.7 147.8h1.5v3.5h-1.5zM377.6 153.1h1v3.5h-1zM384.1 253.2h0.8v3.5h-0.8zM384.1 263.8h0.8v3.5h-0.8z"/><path fill="#4747AB" d="M602 10.3h4v5.9h-4zM606.6 10.3h4v5.9h-4zM611.3 10.3h4v5.9h-4zM615.9 10.3h4v5.9h-4zM620.6 10.3h4v5.9h-4zM625.2 10.3h4v5.9h-4zM629.9 10.3h4v5.9h-4zM634.5 10.3h4v5.9h-4zM639.1 10.3h4v5.9h-4zM643.8 10.3h4v5.9h-4zM648.4 10.3h4v5.9h-4zM344.3 10.6h9.9v5.3h-9.9zM569.5 17.2h4v6h-4zM574.1 17.2h4v6h-4zM578.8 17.2h4v6h-4zM583.4 17.2h4v6h-4zM588.1 17.2h4v6h-4zM602 17.2h4v6h-4zM606.6 17.2h4v6h-4zM611.3 17.2h4v6h-4zM615.9 17.2h4v6h-4zM620.6 17.2h4v6h-4zM625.2 17.2h4v6h-4zM629.9 17.2h4v6h-4zM634.5 17.2h4v6h-4zM639.1 17.2h4v6h-4zM643.8 17.2h4v6h-4zM648.4 17.2h4v6h-4zM347 17.5h14v5.4h-14zM583.4 24.1h4v5.9h-4zM588.1 24.1h4v5.9h-4zM629.9 24.1h4v5.9h-4zM634.5 24.1h4v5.9h-4zM639.1 24.1h4v5.9h-4zM643.8 24.1h4v5.9h-4zM648.4 24.1h4v5.9h-4zM344.3 24.4h6v5.3h-6zM444.1 30.9h4v6h-4zM448.7 30.9h4v6h-4zM453.3 30.9h4v6h-4zM485.9 30.9h4v6h-4zM499.8 30.9h4v6h-4zM560.2 30.9h4v6h-4zM564.8 30.9h4v6h-4zM588.1 30.9h4v6h-4zM615.9 30.9h4v6h-4zM620.6 30.9h4v6h-4zM625.2 30.9h4v6h-4zM648.4 30.9h4v6h-4zM346 31.2h10.4v5.4h-10.4z"/><path fill="#FCC5D3" d="M406.9 42h4v4.5h-4zM411.5 42h4v4.5h-4zM416.2 42h4v4.5h-4zM430.1 42h4v4.5h-4zM434.8 42h4v4.5h-4zM439.4 42h4v4.5h-4zM444.1 42h4v4.5h-4zM448.7 42h4v4.5h-4zM453.3 42h4v4.5h-4zM458 42h4v4.5h-4zM467.3 42h4v4.5h-4zM471.9 42h4v4.5h-4zM485.9 42h4v4.5h-4zM495.2 42h4v4.5h-4zM509.1 42h4v4.5h-4zM513.7 42h4v4.5h-4zM518.4 42h4v4.5h-4zM523 42h4v4.5h-4zM527.7 42h4v4.5h-4zM532.3 42h4v4.5h-4zM574.1 42h4v4.5h-4zM583.4 42h4v4.5h-4zM629.9 42h4v4.5h-4zM639.1 42h4v4.5h-4zM369.1 42.5h21.1v3.5h-21.1z"/><path fill="#8E8C25" d="M425.5 42h4v4.5h-4zM481.2 42h4v4.5h-4zM537 42h4v4.5h-4zM555.5 42h4v4.5h-4zM588.1 42h4v4.5h-4zM592.7 42h4v4.5h-4zM364.4 42.5h3.8v3.5h-3.8zM592.7 47.2h4v4.5h-4zM372.3 47.7h0.6v3.5h-0.6zM430.1 52.5h4v4.5h-4zM476.6 52.5h4v4.5h-4zM615.9 52.5h4v4.5h-4zM634.5 52.5h4v4.5h-4zM648.4 57.8h4v4.5h-4zM444.1 63h4v4.5h-4zM509.1 63h4v4.5h-4zM518.4 63h4v4.5h-4zM523 63h4v4.5h-4zM555.5 63h4v4.5h-4zM639.1 63h4v4.5h-4zM385.7 63.5h3.9v3.5h-3.9zM406.9 68.3h4v4.5h-4zM411.5 68.3h4v4.5h-4zM420.8 68.3h4v4.5h-4zM430.1 68.3h4v4.5h-4zM448.7 68.3h4v4.5h-4zM453.3 68.3h4v4.5h-4zM467.3 68.3h4v4.5h-4zM471.9 68.3h4v4.5h-4zM513.7 68.3h4v4.5h-4zM518.4 68.3h4v4.5h-4zM523 68.3h4v4.5h-4zM537 68.3h4v4.5h-4zM574.1 68.3h4v4.5h-4zM592.7 68.3h4v4.5h-4zM602 68.3h4v4.5h-4zM606.6 68.3h4v4.5h-4zM615.9 68.3h4v4.5h-4zM377.5 68.8h10.5v3.5h-10.5zM462.6 73.6h4v4.5h-4zM509.1 73.6h4v4.5h-4zM537 73.6h4v4.5h-4zM574.1 73.6h4v4.5h-4zM592.7 73.6h4v4.5h-4zM597.3 73.6h4v4.5h-4zM368 74.1h5.3v3.5h-5.3zM416.2 78.8h4v4.5h-4zM434.8 78.8h4v4.5h-4zM444.1 78.8h4v4.5h-4zM448.7 78.8h4v4.5h-4zM453.3 78.8h4v4.5h-4zM458 78.8h4v4.5h-4zM485.9 78.8h4v4.5h-4zM495.2 78.8h4v4.5h-4zM518.4 78.8h4v4.5h-4zM523 78.8h4v4.5h-4zM527.7 78.8h4v4.5h-4zM532.3 78.8h4v4.5h-4zM546.2 78.8h4v4.5h-4zM569.5 78.8h4v4.5h-4zM597.3 78.8h4v4.5h-4zM615.9 78.8h4v4.5h-4zM629.9 78.8h4v4.5h-4zM634.5 78.8h4v4.5h-4zM648.4 78.8h4v4.5h-4zM370.6 79.3h16.6v3.5h-16.6zM411.5 84.1h4v4.5h-4zM439.4 84.1h4v4.5h-4zM462.6 84.1h4v4.5h-4zM476.6 84.1h4v4.5h-4zM495.2 84.1h4v4.5h-4zM569.5 84.1h4v4.5h-4zM588.1 84.1h4v4.5h-4zM597.3 84.1h4v4.5h-4zM602 84.1h4v4.5h-4zM611.3 84.1h4v4.5h-4zM615.9 84.1h4v4.5h-4zM625.2 84.1h4v4.5h-4zM639.1 84.1h4v4.5h-4zM381.1 84.6h9.1v3.5h-9.1zM406.9 89.4h4v4.5h-4zM411.5 89.4h4v4.5h-4zM420.8 89.4h4v4.5h-4zM425.5 89.4h4v4.5h-4zM504.4 89.4h4v4.5h-4zM555.5 89.4h4v4.5h-4zM574.1 89.4h4v4.5h-4zM588.1 89.4h4v4.5h-4zM597.3 89.4h4v4.5h-4zM606.6 89.4h4v4.5h-4zM611.3 89.4h4v4.5h-4zM625.2 89.4h4v4.5h-4zM643.8 89.4h4v4.5h-4zM648.4 89.4h4v4.5h-4zM376.8 89.9h9.5v3.5h-9.5zM425.5 94.7h4v4.5h-4zM434.8 94.7h4v4.5h-4zM444.1 94.7h4v4.5h-4zM458 94.7h4v4.5h-4zM462.6 94.7h4v4.5h-4zM476.6 94.7h4v4.5h-4zM481.2 94.7h4v4.5h-4zM499.8 94.7h4v4.5h-4zM509.1 94.7h4v4.5h-4zM523 94.7h4v4.5h-4zM537 94.7h4v4.5h-4zM541.6 94.7h4v4.5h-4zM560.2 94.7h4v4.5h-4zM583.4 94.7h4v4.5h-4zM597.3 94.7h4v4.5h-4zM602 94.7h4v4.5h-4zM606.6 94.7h4v4.5h-4zM634.5 94.7h4v4.5h-4zM370.6 95.2h15.7v3.5h-15.7zM430.1 99.9h4v4.5h-4zM499.8 99.9h4v4.5h-4zM518.4 99.9h4v4.5h-4zM527.7 99.9h4v4.5h-4zM555.5 99.9h4v4.5h-4zM560.2 99.9h4v4.5h-4zM615.9 99.9h4v4.5h-4zM625.2 99.9h4v4.5h-4zM371.5 100.4h6.1v3.5h-6.1zM476.6 105.2h4v4.5h-4zM499.8 105.2h4v4.5h-4zM518.4 105.2h4v4.5h-4zM527.7 105.2h4v4.5h-4zM532.3 105.2h4v4.5h-4zM537 105.2h4v4.5h-4zM611.3 105.2h4v4.5h-4zM384.1 105.7h4.8v3.5h-4.8zM420.8 110.5h4v4.5h-4zM471.9 110.5h4v4.5h-4zM476.6 110.5h4v4.5h-4zM518.4 110.5h4v4.5h-4zM527.7 110.5h4v4.5h-4zM569.5 110.5h4v4.5h-4zM583.4 110.5h4v4.5h-4zM611.3 110.5h4v4.5h-4zM372.3 111h1v3.5h-1zM383.7 111h6.5v3.5h-6.5zM411.5 115.7h4v4.5h-4zM444.1 115.7h4v4.5h-4zM453.3 115.7h4v4.5h-4zM458 115.7h4v4.5h-4zM476.6 115.7h4v4.5h-4zM495.2 115.7h4v4.5h-4zM504.4 115.7h4v4.5h-4zM523 115.7h4v4.5h-4zM537 115.7h4v4.5h-4zM555.5 115.7h4v4.5h-4zM569.5 115.7h4v4.5h-4zM588.1 115.7h4v4.5h-4zM615.9 115.7h4v4.5h-4zM620.6 115.7h4v4.5h-4zM629.9 115.7h4v4.5h-4zM634.5 115.7h4v4.5h-4zM643.8 115.7h4v4.5h-4zM374.9 116.2h13.9v3.5h-13.9zM411.5 121h4v4.5h-4zM416.2 121h4v4.5h-4zM420.8 121h4v4.5h-4zM458 121h4v4.5h-4zM476.6 121h4v4.5h-4zM541.6 121h4v4.5h-4zM564.8 121h4v4.5h-4zM588.1 121h4v4.5h-4zM611.3 121h4v4.5h-4zM615.9 121h4v4.5h-4zM629.9 121h4v4.5h-4zM639.1 121h4v4.5h-4zM643.8 121h4v4.5h-4zM374.9 121.5h11.3v3.5h-11.3zM411.5 126.3h4v4.5h-4zM476.6 126.3h4v4.5h-4zM513.7 126.3h4v4.5h-4zM523 126.3h4v4.5h-4zM527.7 126.3h4v4.5h-4zM537 126.3h4v4.5h-4zM560.2 126.3h4v4.5h-4zM569.5 126.3h4v4.5h-4zM588.1 126.3h4v4.5h-4zM597.3 126.3h4v4.5h-4zM611.3 126.3h4v4.5h-4zM615.9 126.3h4v4.5h-4zM625.2 126.3h4v4.5h-4zM639.1 126.3h4v4.5h-4zM648.4 126.3h4v4.5h-4zM375.8 126.8h12.7v3.5h-12.7zM416.2 131.5h4v4.5h-4zM434.8 131.5h4v4.5h-4zM439.4 131.5h4v4.5h-4zM444.1 131.5h4v4.5h-4zM467.3 131.5h4v4.5h-4zM476.6 131.5h4v4.5h-4zM495.2 131.5h4v4.5h-4zM532.3 131.5h4v4.5h-4zM537 131.5h4v4.5h-4zM550.9 131.5h4v4.5h-4zM569.5 131.5h4v4.5h-4zM588.1 131.5h4v4.5h-4zM592.7 131.5h4v4.5h-4zM611.3 131.5h4v4.5h-4zM625.2 131.5h4v4.5h-4zM634.5 131.5h4v4.5h-4zM375.8 132h14.4v3.5h-14.4zM406.9 136.8h4v4.5h-4zM411.5 136.8h4v4.5h-4zM430.1 136.8h4v4.5h-4zM439.4 136.8h4v4.5h-4zM444.1 136.8h4v4.5h-4zM476.6 136.8h4v4.5h-4zM495.2 136.8h4v4.5h-4zM504.4 136.8h4v4.5h-4zM537 136.8h4v4.5h-4zM564.8 136.8h4v4.5h-4zM583.4 136.8h4v4.5h-4zM592.7 136.8h4v4.5h-4zM597.3 136.8h4v4.5h-4zM611.3 136.8h4v4.5h-4zM629.9 136.8h4v4.5h-4zM375.8 137.3h13.1v3.5h-13.1zM430.1 142.1h4v4.5h-4zM439.4 142.1h4v4.5h-4zM476.6 142.1h4v4.5h-4zM485.9 142.1h4v4.5h-4zM611.3 142.1h4v4.5h-4zM625.2 142.1h4v4.5h-4zM384.5 142.6h4.8v3.5h-4.8zM411.5 147.3h4v4.5h-4zM430.1 147.3h4v4.5h-4zM648.4 147.3h4v4.5h-4zM387.2 147.8h3v3.5h-3zM425.5 152.6h4v4.5h-4zM611.3 152.6h4v4.5h-4zM385.5 153.1h1.7v3.5h-1.7zM387.7 153.1h1.2v3.5h-1.2zM420.8 157.9h4v4.5h-4zM430.1 157.9h4v4.5h-4zM434.8 157.9h4v4.5h-4zM537 157.9h4v4.5h-4zM550.9 157.9h4v4.5h-4zM611.3 157.9h4v4.5h-4zM385.9 158.4h4.3v3.5h-4.3zM416.2 163.2h4v4.5h-4zM430.1 163.2h4v4.5h-4zM439.4 163.2h4v4.5h-4zM453.3 163.2h4v4.5h-4zM458 163.2h4v4.5h-4zM476.6 163.2h4v4.5h-4zM495.2 163.2h4v4.5h-4zM518.4 163.2h4v4.5h-4zM523 163.2h4v4.5h-4zM527.7 163.2h4v4.5h-4zM569.5 163.2h4v4.5h-4zM378.4 163.7h9.6v3.5h-9.6zM406.9 168.4h4v4.5h-4zM411.5 168.4h4v4.5h-4zM425.5 168.4h4v4.5h-4zM444.1 168.4h4v4.5h-4zM476.6 168.4h4v4.5h-4zM541.6 168.4h4v4.5h-4zM574.1 168.4h4v4.5h-4zM583.4 168.4h4v4.5h-4zM611.3 168.4h4v4.5h-4zM615.9 168.4h4v4.5h-4zM378.4 168.9h8.7v3.5h-8.7zM388.9 168.9h1.3v3.5h-1.3zM430.1 173.7h4v4.5h-4zM476.6 173.7h4v4.5h-4zM620.6 173.7h4v4.5h-4zM379.3 174.2h2.8v3.5h-2.8zM550.9 179h4v4.5h-4zM425.5 184.2h4v4.5h-4zM430.1 184.2h4v4.5h-4zM476.6 184.2h4v4.5h-4zM504.4 184.2h4v4.5h-4zM527.7 184.2h4v4.5h-4zM537 184.2h4v4.5h-4zM555.5 184.2h4v4.5h-4zM564.8 184.2h4v4.5h-4zM569.5 184.2h4v4.5h-4zM592.7 184.2h4v4.5h-4zM620.6 184.2h4v4.5h-4zM625.2 184.2h4v4.5h-4zM379.3 184.7h10.9v3.5h-10.9zM406.9 189.5h4v4.5h-4zM411.5 189.5h4v4.5h-4zM448.7 189.5h4v4.5h-4zM564.8 189.5h4v4.5h-4zM602 189.5h4v4.5h-4zM615.9 189.5h4v4.5h-4zM620.6 189.5h4v4.5h-4zM634.5 189.5h4v4.5h-4zM639.1 189.5h4v4.5h-4zM379.3 190h8.8v3.5h-8.8zM406.9 194.8h4v4.5h-4zM467.3 194.8h4v4.5h-4zM495.2 194.8h4v4.5h-4zM509.1 194.8h4v4.5h-4zM532.3 194.8h4v4.5h-4zM574.1 194.8h4v4.5h-4zM611.3 194.8h4v4.5h-4zM615.9 194.8h4v4.5h-4zM629.9 194.8h4v4.5h-4zM379.7 195.3h9v3.5h-9zM430.1 200.1h4v4.5h-4zM444.1 200.1h4v4.5h-4zM458 200.1h4v4.5h-4zM462.6 200.1h4v4.5h-4zM476.6 200.1h4v4.5h-4zM555.5 200.1h4v4.5h-4zM569.5 200.1h4v4.5h-4zM588.1 200.1h4v4.5h-4zM611.3 200.1h4v4.5h-4zM379.7 200.6h8.8v3.5h-8.8zM537 205.3h4v4.5h-4zM389 205.8h1.2v3.5h-1.2zM453.3 210.6h4v4.5h-4zM462.6 210.6h4v4.5h-4zM481.2 210.6h4v4.5h-4zM518.4 210.6h4v4.5h-4zM569.5 210.6h4v4.5h-4zM620.6 210.6h4v4.5h-4zM380.6 211.1h5.4v3.5h-5.4zM476.6 215.9h4v4.5h-4zM485.9 215.9h4v4.5h-4zM495.2 215.9h4v4.5h-4zM546.2 215.9h4v4.5h-4zM569.5 215.9h4v4.5h-4zM588.1 215.9h4v4.5h-4zM611.3 215.9h4v4.5h-4zM381.5 216.4h6.1v3.5h-6.1zM411.5 221.1h4v4.5h-4zM430.1 221.1h4v4.5h-4zM453.3 221.1h4v4.5h-4zM537 221.1h4v4.5h-4zM550.9 221.1h4v4.5h-4zM564.8 221.1h4v4.5h-4zM597.3 221.1h4v4.5h-4zM381.5 221.6h6.1v3.5h-6.1zM513.7 226.4h4v4.5h-4zM523 226.4h4v4.5h-4zM537 226.4h4v4.5h-4zM602 226.4h4v4.5h-4zM620.6 226.4h4v4.5h-4zM629.9 226.4h4v4.5h-4zM639.1 226.4h4v4.5h-4zM648.4 226.4h4v4.5h-4zM381.5 226.9h7.1v3.5h-7.1zM430.1 231.7h4v4.5h-4zM434.8 231.7h4v4.5h-4zM444.1 231.7h4v4.5h-4zM499.8 231.7h4v4.5h-4zM546.2 231.7h4v4.5h-4zM569.5 231.7h4v4.5h-4zM611.3 231.7h4v4.5h-4zM615.9 231.7h4v4.5h-4zM383.2 232.2h7v3.5h-7zM504.4 236.9h4v4.5h-4zM527.7 236.9h4v4.5h-4zM550.9 236.9h4v4.5h-4zM574.1 236.9h4v4.5h-4zM588.1 236.9h4v4.5h-4zM611.3 236.9h4v4.5h-4zM639.1 236.9h4v4.5h-4zM383.2 237.4h7v3.5h-7zM416.2 242.2h4v4.5h-4zM569.5 242.2h4v4.5h-4zM592.7 242.2h4v4.5h-4zM611.3 242.2h4v4.5h-4zM383.2 242.7h4.5v3.5h-4.5zM406.9 247.5h4v4.5h-4zM476.6 247.5h4v4.5h-4zM523 247.5h4v4.5h-4zM527.7 247.5h4v4.5h-4zM611.3 247.5h4v4.5h-4zM383.2 248h5.8v3.5h-5.8zM430.1 252.8h4v4.5h-4zM430.1 258h4v4.5h-4zM527.7 258h4v4.5h-4zM648.4 258h4v4.5h-4zM430.1 268.6h4v4.5h-4zM537 268.6h4v4.5h-4zM588.1 268.6h4v4.5h-4zM611.3 268.6h4v4.5h-4zM384.1 269.1h3.8v3.5h-3.8zM430.1 273.8h4v4.5h-4zM555.5 273.8h4v4.5h-4zM569.5 273.8h4v4.5h-4zM634.5 273.8h4v4.5h-4zM384.1 274.3h3.8v3.5h-3.8zM444.1 279.1h4v4.5h-4zM458 279.1h4v4.5h-4zM546.2 279.1h4v4.5h-4zM555.5 279.1h4v4.5h-4zM611.3 279.1h4v4.5h-4zM615.9 279.1h4v4.5h-4zM643.8 279.1h4v4.5h-4zM384.1 279.6h6.1v3.5h-6.1zM430.1 284.4h4v4.5h-4zM434.8 284.4h4v4.5h-4zM462.6 284.4h4v4.5h-4zM476.6 284.4h4v4.5h-4zM527.7 284.4h4v4.5h-4zM555.5 284.4h4v4.5h-4zM384.1 284.9h6.1v3.5h-6.1zM434.8 289.6h4v4.5h-4zM476.6 289.6h4v4.5h-4zM518.4 289.6h4v4.5h-4zM546.2 289.6h4v4.5h-4zM597.3 289.6h4v4.5h-4zM385 290.1h5.2v3.5h-5.2zM406.9 294.9h4v4.5h-4zM425.5 294.9h4v4.5h-4zM430.1 294.9h4v4.5h-4zM550.9 294.9h4v4.5h-4zM643.8 294.9h4v4.5h-4zM385 295.4h5.2v3.5h-5.2zM430.1 300.2h4v4.5h-4zM509.1 300.2h4v4.5h-4zM588.1 300.2h4v4.5h-4zM611.3 300.2h4v4.5h-4zM634.5 300.2h4v4.5h-4zM648.4 300.2h4v4.5h-4zM385 300.7h5.2v3.5h-5.2zM430.1 305.4h4v4.5h-4zM444.1 305.4h4v4.5h-4zM546.2 305.4h4v4.5h-4zM555.5 305.4h4v4.5h-4zM583.4 305.4h4v4.5h-4zM592.7 305.4h4v4.5h-4zM385 305.9h5.2v3.5h-5.2zM420.8 310.7h4v4.5h-4zM425.5 310.7h4v4.5h-4zM448.7 310.7h4v4.5h-4zM476.6 310.7h4v4.5h-4zM385.8 311.2h4.4v3.5h-4.4zM406.9 316h4v4.5h-4zM430.1 316h4v4.5h-4zM499.8 316h4v4.5h-4zM629.9 316h4v4.5h-4zM385.8 316.5h4.4v3.5h-4.4zM462.6 321.3h4v4.5h-4zM513.7 321.3h4v4.5h-4zM527.7 321.3h4v4.5h-4zM611.3 321.3h4v4.5h-4zM385.8 321.8h4.4v3.5h-4.4zM406.9 326.5h4v4.5h-4zM481.2 326.5h4v4.5h-4zM569.5 326.5h4v4.5h-4zM385.8 327h3.2v3.5h-3.2zM583.4 331.8h4v4.5h-4zM430.1 337.1h4v4.5h-4zM444.1 337.1h4v4.5h-4zM620.6 337.1h4v4.5h-4zM634.5 337.1h4v4.5h-4zM386.7 337.6h3.5v3.5h-3.5zM453.3 342.3h4v4.5h-4zM504.4 342.3h4v4.5h-4zM527.7 342.3h4v4.5h-4zM386.7 342.8h3.5v3.5h-3.5zM411.5 347.6h4v4.5h-4zM387.6 348.1h1.8v3.5h-1.8zM448.7 352.9h4v4.5h-4zM592.7 352.9h4v4.5h-4zM387.6 353.4h2.6v3.5h-2.6zM430.1 358.1h4v4.5h-4zM453.3 358.1h4v4.5h-4zM611.3 358.1h4v4.5h-4zM387.6 358.6h2.6v3.5h-2.6zM430.1 363.4h4v4.5h-4zM462.6 363.4h4v4.5h-4zM592.7 363.4h4v4.5h-4zM387.6 363.9h2.6v3.5h-2.6zM425.5 368.7h4v4.5h-4zM592.7 368.7h4v4.5h-4zM611.3 368.7h4v4.5h-4zM387.6 369.2h2.6v3.5h-2.6zM550.9 374h4v4.5h-4zM389.3 374.5h0.9v3.5h-0.9zM569.5 379.2h4v4.5h-4zM389.3 379.7h0.9v3.5h-0.9z"/><path fill="#FFD20A" d="M476.6 42h4v4.5h-4zM504.4 52.5h4v4.5h-4zM592.7 52.5h4v4.5h-4zM611.3 52.5h4v4.5h-4zM639.1 52.5h4v4.5h-4zM648.4 52.5h4v4.5h-4zM386.3 53h1.7v3.5h-1.7zM513.7 63h4v4.5h-4zM574.1 63h4v4.5h-4zM425.5 68.3h4v4.5h-4zM527.7 68.3h4v4.5h-4zM569.5 68.3h4v4.5h-4zM583.4 68.3h4v4.5h-4zM597.3 68.3h4v4.5h-4zM634.5 68.3h4v4.5h-4zM639.1 68.3h4v4.5h-4zM388 68.8h2.2v3.5h-2.2zM430.1 73.6h4v4.5h-4zM611.3 73.6h4v4.5h-4zM389.3 74.1h0.9v3.5h-0.9zM476.6 78.8h4v4.5h-4zM523 84.1h4v4.5h-4zM620.6 84.1h4v4.5h-4zM430.1 89.4h4v4.5h-4zM476.6 89.4h4v4.5h-4zM537 89.4h4v4.5h-4zM569.5 89.4h4v4.5h-4zM615.9 89.4h4v4.5h-4zM387.2 89.9h3v3.5h-3zM555.5 94.7h4v4.5h-4zM592.7 94.7h4v4.5h-4zM387.2 95.2h1.7v3.5h-1.7zM564.8 110.5h4v4.5h-4zM611.3 115.7h4v4.5h-4zM388.9 116.2h1.3v3.5h-1.3zM430.1 121h4v4.5h-4zM537 121h4v4.5h-4zM569.5 121h4v4.5h-4zM387.3 121.5h2.9v3.5h-2.9zM444.1 126.3h4v4.5h-4zM564.8 126.3h4v4.5h-4zM388.9 126.8h1.3v3.5h-1.3zM537 142.1h4v4.5h-4zM430.1 152.6h4v4.5h-4zM588.1 168.4h4v4.5h-4zM615.9 184.2h4v4.5h-4zM592.7 189.5h4v4.5h-4zM430.1 194.8h4v4.5h-4zM406.9 200.1h4v4.5h-4zM615.9 200.1h4v4.5h-4zM389.1 200.6h1.1v3.5h-1.1zM430.1 210.6h4v4.5h-4zM611.3 210.6h4v4.5h-4zM387 211.1h2.2v3.5h-2.2zM411.5 215.9h4v4.5h-4zM430.1 236.9h4v4.5h-4zM495.2 242.2h4v4.5h-4zM389 242.7h1.2v3.5h-1.2zM564.8 247.5h4v4.5h-4zM527.7 268.6h4v4.5h-4zM592.7 268.6h4v4.5h-4zM388.7 269.1h1.5v3.5h-1.5zM448.7 273.8h4v4.5h-4zM648.4 273.8h4v4.5h-4zM388.9 274.3h1.3v3.5h-1.3zM569.5 289.6h4v4.5h-4zM476.6 294.9h4v4.5h-4zM625.2 310.7h4v4.5h-4zM611.3 316h4v4.5h-4zM425.5 326.5h4v4.5h-4zM592.7 326.5h4v4.5h-4zM389 327h1.2v3.5h-1.2zM430.1 342.3h4v4.5h-4zM430.1 347.6h4v4.5h-4zM389.4 348.1h0.8v3.5h-0.8z"/><path fill="#E2261D" d="M541.6 42h4v4.5h-4zM611.3 42h4v4.5h-4zM361.8 42.5h2.6v3.5h-2.6zM453.3 52.5h4v4.5h-4zM523 52.5h4v4.5h-4zM537 52.5h4v4.5h-4zM606.6 52.5h4v4.5h-4zM388 53h2.2v3.5h-2.2zM389.3 58.3h0.9v3.5h-0.9zM606.6 63h4v4.5h-4zM611.3 63h4v4.5h-4zM430.1 78.8h4v4.5h-4zM639.1 78.8h4v4.5h-4zM388.5 79.3h1.7v3.5h-1.7zM430.1 84.1h4v4.5h-4zM380.2 84.6h0.9v3.5h-0.9zM592.7 89.4h4v4.5h-4zM430.1 94.7h4v4.5h-4zM611.3 94.7h4v4.5h-4zM388.9 95.2h1.3v3.5h-1.3zM588.1 99.9h4v4.5h-4zM430.1 105.2h4v4.5h-4zM444.1 105.2h4v4.5h-4zM458 105.2h4v4.5h-4zM388.9 105.7h1.3v3.5h-1.3zM382 111h1.7v3.5h-1.7zM430.1 115.7h4v4.5h-4zM462.6 136.8h4v4.5h-4zM523 136.8h4v4.5h-4zM388.9 137.3h1.3v3.5h-1.3zM382.8 142.6h1.7v3.5h-1.7zM425.5 147.3h4v4.5h-4zM385.5 147.8h1.7v3.5h-1.7zM444.1 152.6h4v4.5h-4zM615.9 152.6h4v4.5h-4zM382.9 153.1h2.6v3.5h-2.6zM388.9 153.1h1.3v3.5h-1.3zM383.3 158.4h2.6v3.5h-2.6zM444.1 163.2h4v4.5h-4zM574.1 163.2h4v4.5h-4zM639.1 163.2h4v4.5h-4zM388.1 163.7h2.1v3.5h-2.1zM434.8 168.4h4v4.5h-4zM430.1 179h4v4.5h-4zM384.1 179.5h3.5v3.5h-3.5zM430.1 189.5h4v4.5h-4zM518.4 189.5h4v4.5h-4zM611.3 189.5h4v4.5h-4zM388.1 190h2.1v3.5h-2.1zM523 194.8h4v4.5h-4zM606.6 194.8h4v4.5h-4zM388.8 195.3h1.4v3.5h-1.4zM381.6 205.8h7.4v3.5h-7.4zM471.9 210.6h4v4.5h-4zM476.6 210.6h4v4.5h-4zM389.2 211.1h1v3.5h-1zM499.8 221.1h4v4.5h-4zM430.1 226.4h4v4.5h-4zM555.5 226.4h4v4.5h-4zM388.6 226.9h1.6v3.5h-1.6zM439.4 242.2h4v4.5h-4zM430.1 247.5h4v4.5h-4zM583.4 247.5h4v4.5h-4zM389 248h1.2v3.5h-1.2zM499.8 284.4h4v4.5h-4zM430.1 321.3h4v4.5h-4zM513.7 331.8h4v4.5h-4zM537 331.8h4v4.5h-4zM574.1 331.8h4v4.5h-4zM386.7 332.3h3.5v3.5h-3.5zM462.6 347.6h4v4.5h-4zM430.1 352.9h4v4.5h-4z"/><path fill="#7ACC12" d="M358.4 42.5h3.4v3.5h-3.4zM359.2 53h9v3.5h-9zM366.2 63.5h4.4v3.5h-4.4zM366.2 68.8h7.8v3.5h-7.8zM370.6 84.6h3.6v3.5h-3.6zM370.6 89.9h3.6v3.5h-3.6zM372.3 105.7h1.7v3.5h-1.7zM375.8 142.6h1.3v3.5h-1.3zM377.6 158.4h1.5v3.5h-1.5zM384.1 258.5h0.8v3.5h-0.8z"/><path fill="#A52A2A" d="M368.2 42.5h0.9v3.5h-0.9z"/><path fill="#C4E3EF" d="M420.8 47.2h4v4.5h-4zM425.5 47.2h4v4.5h-4zM481.2 47.2h4v4.5h-4zM504.4 47.2h4v4.5h-4zM527.7 47.2h4v4.5h-4zM546.2 47.2h4v4.5h-4zM550.9 47.2h4v4.5h-4zM564.8 47.2h4v4.5h-4zM588.1 47.2h4v4.5h-4zM597.3 47.2h4v4.5h-4zM602 47.2h4v4.5h-4zM606.6 47.2h4v4.5h-4zM611.3 47.2h4v4.5h-4zM615.9 47.2h4v4.5h-4zM620.6 47.2h4v4.5h-4zM625.2 47.2h4v4.5h-4zM634.5 47.2h4v4.5h-4zM643.8 47.2h4v4.5h-4zM648.4 47.2h4v4.5h-4zM374.2 47.7h16v3.5h-16z"/><path fill="#1A6E8E" d="M569.5 47.2h4v4.5h-4zM372.9 47.7h1.3v3.5h-1.3zM420.8 52.5h4v4.5h-4zM416.2 73.6h4v4.5h-4zM420.8 73.6h4v4.5h-4zM439.4 73.6h4v4.5h-4zM453.3 73.6h4v4.5h-4zM467.3 73.6h4v4.5h-4zM476.6 73.6h4v4.5h-4zM485.9 73.6h4v4.5h-4zM499.8 73.6h4v4.5h-4zM513.7 73.6h4v4.5h-4zM518.4 73.6h4v4.5h-4zM555.5 73.6h4v4.5h-4zM564.8 73.6h4v4.5h-4zM569.5 73.6h4v4.5h-4zM583.4 73.6h4v4.5h-4zM620.6 73.6h4v4.5h-4zM629.9 73.6h4v4.5h-4zM643.8 73.6h4v4.5h-4zM648.4 73.6h4v4.5h-4zM373.2 74.1h16.1v3.5h-16.1zM416.2 99.9h4v4.5h-4zM425.5 99.9h4v4.5h-4zM471.9 99.9h4v4.5h-4zM476.6 99.9h4v4.5h-4zM481.2 99.9h4v4.5h-4zM485.9 99.9h4v4.5h-4zM523 99.9h4v4.5h-4zM532.3 99.9h4v4.5h-4zM569.5 99.9h4v4.5h-4zM574.1 99.9h4v4.5h-4zM583.4 99.9h4v4.5h-4zM592.7 99.9h4v4.5h-4zM611.3 99.9h4v4.5h-4zM648.4 99.9h4v4.5h-4zM377.5 100.4h12.7v3.5h-12.7zM430.1 110.5h4v4.5h-4zM430.1 131.5h4v4.5h-4zM458 173.7h4v4.5h-4zM495.2 173.7h4v4.5h-4zM504.4 173.7h4v4.5h-4zM513.7 173.7h4v4.5h-4zM518.4 173.7h4v4.5h-4zM527.7 173.7h4v4.5h-4zM550.9 173.7h4v4.5h-4zM555.5 173.7h4v4.5h-4zM564.8 173.7h4v4.5h-4zM588.1 173.7h4v4.5h-4zM615.9 173.7h4v4.5h-4zM382.1 174.2h8.1v3.5h-8.1zM439.4 179h4v4.5h-4zM527.7 179h4v4.5h-4zM387.6 179.5h2.6v3.5h-2.6zM439.4 210.6h4v4.5h-4zM386 211.1h0.9v3.5h-0.9zM430.1 215.9h4v4.5h-4zM583.4 215.9h4v4.5h-4zM387.6 216.4h2.6v3.5h-2.6zM416.2 221.1h4v4.5h-4zM583.4 221.1h4v4.5h-4zM387.6 221.6h2.6v3.5h-2.6zM430.1 242.2h4v4.5h-4zM387.8 242.7h1.2v3.5h-1.2zM406.9 252.8h4v4.5h-4zM499.8 252.8h4v4.5h-4zM532.3 252.8h4v4.5h-4zM583.4 252.8h4v4.5h-4zM588.1 252.8h4v4.5h-4zM611.3 252.8h4v4.5h-4zM384.9 253.2h5.3v3.5h-5.3zM597.3 268.6h4v4.5h-4zM387.9 269.1h0.8v3.5h-0.8z"/><path fill="#8B5524" d="M462.6 52.5h4v4.5h-4zM495.2 52.5h4v4.5h-4zM384.6 53h1.7v3.5h-1.7zM634.5 63h4v4.5h-4zM389.7 63.5h0.5v3.5h-0.5zM439.4 78.8h4v4.5h-4zM387.2 79.3h1.3v3.5h-1.3zM602 89.4h4v4.5h-4zM386.3 89.9h0.9v3.5h-0.9zM564.8 94.7h4v4.5h-4zM386.3 95.2h0.9v3.5h-0.9zM382.8 105.7h1.3v3.5h-1.3zM518.4 121h4v4.5h-4zM386.3 121.5h1v3.5h-1zM592.7 126.3h4v4.5h-4zM388.5 126.8h0.4v3.5h-0.4zM509.1 142.1h4v4.5h-4zM389.3 142.6h0.9v3.5h-0.9zM602 147.3h4v4.5h-4zM448.7 152.6h4v4.5h-4zM523 152.6h4v4.5h-4zM387.2 153.1h0.5v3.5h-0.5zM583.4 157.9h4v4.5h-4zM430.1 168.4h4v4.5h-4zM555.5 168.4h4v4.5h-4zM387.2 168.9h1.7v3.5h-1.7zM453.3 200.1h4v4.5h-4zM388.6 200.6h0.5v3.5h-0.5zM434.8 205.3h4v4.5h-4zM467.3 242.2h4v4.5h-4zM430.1 263.3h4v4.5h-4zM625.2 273.8h4v4.5h-4zM387.9 274.3h1v3.5h-1z"/><path fill="#2E2A8C" d="M368.3 53h16.3v3.5h-16.3zM365.3 58.3h24v3.5h-24zM370.6 63.5h15.2v3.5h-15.2zM374 68.8h3.5v3.5h-3.5zM374.2 84.6h6v3.5h-6zM374.2 89.9h2.6v3.5h-2.6zM374.1 105.7h8.7v3.5h-8.7zM373.3 111h8.7v3.5h-8.7zM377.1 142.6h5.7v3.5h-5.7zM378.2 147.8h7.3v3.5h-7.3zM378.6 153.1h4.3v3.5h-4.3zM379 158.4h4.3v3.5h-4.3zM379.3 179.5h4.8v3.5h-4.8zM379.7 205.8h1.8v3.5h-1.8zM384.9 258.5h5.3v3.5h-5.3zM384.9 263.8h5.3v3.5h-5.3z"/>
<path fill="none" stroke="#222" stroke-width="0.35" d="M358.4 42.5h31.8v3.5h-31.8zM372.3 47.7h17.9v3.5h-17.9zM359.2 53h31v3.5h-31zM365.3 58.3h24.9v3.5h-24.9zM366.2 63.5h24v3.5h-24zM366.2 68.8h24v3.5h-24zM368 74.1h22.2v3.5h-22.2zM370.6 79.3h19.6v3.5h-19.6zM370.6 84.6h19.6v3.5h-19.6zM370.6 89.9h19.6v3.5h-19.6zM370.6 95.2h19.6v3.5h-19.6zM371.5 100.4h18.7v3.5h-18.7zM372.3 105.7h17.9v3.5h-17.9zM372.3 111h17.9v3.5h-17.9zM374.9 116.2h15.3v3.5h-15.3zM374.9 121.5h15.3v3.5h-15.3zM375.8 126.8h14.4v3.5h-14.4zM375.8 132h14.4v3.5h-14.4zM375.8 137.3h14.4v3.5h-14.4zM375.8 142.6h14.4v3.5h-14.4zM376.7 147.8h13.5v3.5h-13.5zM377.6 153.1h12.6v3.5h-12.6zM377.6 158.4h12.6v3.5h-12.6zM378.4 163.7h11.8v3.5h-11.8zM378.4 168.9h11.8v3.5h-11.8zM379.3 174.2h10.9v3.5h-10.9zM379.3 179.5h10.9v3.5h-10.9zM379.3 184.7h10.9v3.5h-10.9zM379.3 190h10.9v3.5h-10.9zM379.7 195.3h10.5v3.5h-10.5zM379.7 200.6h10.5v3.5h-10.5zM379.7 205.8h10.5v3.5h-10.5zM380.6 211.1h9.6v3.5h-9.6zM381.5 216.4h8.7v3.5h-8.7zM381.5 221.6h8.7v3.5h-8.7zM381.5 226.9h8.7v3.5h-8.7zM383.2 232.2h7v3.5h-7zM383.2 237.4h7v3.5h-7zM383.2 242.7h7v3.5h-7zM383.2 248h7v3.5h-7zM384.1 253.2h6.1v3.5h-6.1zM384.1 258.5h6.1v3.5h-6.1zM384.1 263.8h6.1v3.5h-6.1zM384.1 269.1h6.1v3.5h-6.1zM384.1 274.3h6.1v3.5h-6.1zM384.1 279.6h6.1v3.5h-6.1zM384.1 284.9h6.1v3.5h-6.1zM385 290.1h5.2v3.5h-5.2zM385 295.4h5.2v3.5h-5.2zM385 300.7h5.2v3.5h-5.2zM385 305.9h5.2v3.5h-5.2zM385.8 311.2h4.4v3.5h-4.4zM385.8 316.5h4.4v3.5h-4.4zM385.8 321.8h4.4v3.5h-4.4zM385.8 327h4.4v3.5h-4.4zM386.7 332.3h3.5v3.5h-3.5zM386.7 337.6h3.5v3.5h-3.5zM386.7 342.8h3.5v3.5h-3.5zM387.6 348.1h2.6v3.5h-2.6zM387.6 353.4h2.6v3.5h-2.6zM387.6 358.6h2.6v3.5h-2.6zM387.6 363.9h2.6v3.5h-2.6zM387.6 369.2h2.6v3.5h-2.6zM389.3 374.5h0.9v3.5h-0.9zM389.3 379.7h0.9v3.5h-0.9z"/>
<path fill="#A52A2A" d="M407 44.9L410.8 44.9L408.9 42.8zM411.6 44.9L415.4 44.9L413.5 42.8zM416.3 44.9L420.1 44.9L418.2 42.8zM420.9 44.9L424.7 44.9L422.8 42.8zM425.6 44.9L429.4 44.9L427.5 42.8zM439.5 44.9L443.3 44.9L441.4 42.8zM444.2 44.9L448 44.9L446.1 42.8zM448.8 44.9L452.6 44.9L450.7 42.8zM458.1 44.9L461.9 44.9L460 42.8zM462.7 44.9L466.5 44.9L464.6 42.8zM486 44.9L489.8 44.9L487.9 42.8zM509.2 44.9L513 44.9L511.1 42.8zM513.8 44.9L517.6 44.9L515.7 42.8zM518.5 44.9L522.3 44.9L520.4 42.8zM523.1 44.9L526.9 44.9L525 42.8zM537.1 44.9L540.9 44.9L539 42.8zM560.3 44.9L564.1 44.9L562.2 42.8zM574.2 44.9L578 44.9L576.1 42.8zM583.5 44.9L587.3 44.9L585.4 42.8zM592.8 44.9L596.6 44.9L594.7 42.8zM630 44.9L633.8 44.9L631.9 42.8zM634.6 44.9L638.4 44.9L636.5 42.8zM602.1 55.4L605.9 55.4L604 53.3zM602.1 60.7L605.9 60.7L604 58.6zM499.9 87.1L503.7 87.1L501.8 85zM467.4 108.1L471.2 108.1L469.3 106zM499.9 108.1L503.7 108.1L501.8 106zM467.4 113.4L471.2 113.4L469.3 111.3zM499.9 113.4L503.7 113.4L501.8 111.3zM439.5 145L443.3 145L441.4 142.9zM481.3 145L485.1 145L483.2 142.9zM597.4 145L601.2 145L599.3 142.9zM453.4 150.3L457.2 150.3L455.3 148.2zM458.1 150.3L461.9 150.3L460 148.2zM439.5 155.6L443.3 155.6L441.4 153.5zM481.3 155.6L485.1 155.6L483.2 153.5zM643.9 155.6L647.7 155.6L645.8 153.5zM416.3 160.8L420.1 160.8L418.2 158.7zM472 160.8L475.8 160.8L473.9 158.7zM551 160.8L554.8 160.8L552.9 158.7zM602.1 160.8L605.9 160.8L604 158.7zM407 181.9L410.8 181.9L408.9 179.8zM481.3 181.9L485.1 181.9L483.2 179.8zM499.9 181.9L503.7 181.9L501.8 179.8zM597.4 181.9L601.2 181.9L599.3 179.8zM420.9 208.3L424.7 208.3L422.8 206.2zM439.5 208.3L443.3 208.3L441.4 206.2zM448.8 208.3L452.6 208.3L450.7 206.2zM453.4 208.3L457.2 208.3L455.3 206.2zM462.7 208.3L466.5 208.3L464.6 206.2zM518.5 208.3L522.3 208.3L520.4 206.2zM574.2 208.3L578 208.3L576.1 206.2zM606.7 208.3L610.5 208.3L608.6 206.2z"/><path fill="#2E2A8C" d="M406.9 54.8L410.9 54.8L408.9 57zM411.5 54.8L415.5 54.8L413.5 57zM416.2 54.8L420.2 54.8L418.2 57zM420.8 54.8L424.8 54.8L422.8 57zM430.1 54.8L434.1 54.8L432.1 57zM434.8 54.8L438.8 54.8L436.8 57zM439.4 54.8L443.4 54.8L441.4 57zM458 54.8L462 54.8L460 57zM462.6 54.8L466.6 54.8L464.6 57zM467.3 54.8L471.3 54.8L469.3 57zM476.6 54.8L480.6 54.8L478.6 57zM481.2 54.8L485.2 54.8L483.2 57zM495.2 54.8L499.2 54.8L497.2 57zM499.8 54.8L503.8 54.8L501.8 57zM504.4 54.8L508.4 54.8L506.4 57zM509.1 54.8L513.1 54.8L511.1 57zM518.4 54.8L522.4 54.8L520.4 57zM527.7 54.8L531.7 54.8L529.7 57zM532.3 54.8L536.3 54.8L534.3 57zM546.2 54.8L550.2 54.8L548.2 57zM555.5 54.8L559.5 54.8L557.5 57zM560.2 54.8L564.2 54.8L562.2 57zM569.5 54.8L573.5 54.8L571.5 57zM588.1 54.8L592.1 54.8L590.1 57zM592.7 54.8L596.7 54.8L594.7 57zM606.6 54.8L610.6 54.8L608.6 57zM611.3 54.8L615.3 54.8L613.3 57zM615.9 54.8L619.9 54.8L617.9 57zM629.9 54.8L633.9 54.8L631.9 57zM406.9 60.1L410.9 60.1L408.9 62.3zM411.5 60.1L415.5 60.1L413.5 62.3zM420.8 60.1L424.8 60.1L422.8 62.3zM430.1 60.1L434.1 60.1L432.1 62.3zM434.8 60.1L438.8 60.1L436.8 62.3zM439.4 60.1L443.4 60.1L441.4 62.3zM458 60.1L462 60.1L460 62.3zM462.6 60.1L466.6 60.1L464.6 62.3zM467.3 60.1L471.3 60.1L469.3 62.3zM476.6 60.1L480.6 60.1L478.6 62.3zM481.2 60.1L485.2 60.1L483.2 62.3zM490.5 60.1L494.5 60.1L492.5 62.3zM495.2 60.1L499.2 60.1L497.2 62.3zM499.8 60.1L503.8 60.1L501.8 62.3zM504.4 60.1L508.4 60.1L506.4 62.3zM509.1 60.1L513.1 60.1L511.1 62.3zM518.4 60.1L522.4 60.1L520.4 62.3zM523 60.1L527 60.1L525 62.3zM527.7 60.1L531.7 60.1L529.7 62.3zM532.3 60.1L536.3 60.1L534.3 62.3zM546.2 60.1L550.2 60.1L548.2 62.3zM555.5 60.1L559.5 60.1L557.5 62.3zM560.2 60.1L564.2 60.1L562.2 62.3zM569.5 60.1L573.5 60.1L571.5 62.3zM588.1 60.1L592.1 60.1L590.1 62.3zM592.7 60.1L596.7 60.1L594.7 62.3zM606.6 60.1L610.6 60.1L608.6 62.3zM611.3 60.1L615.3 60.1L613.3 62.3zM615.9 60.1L619.9 60.1L617.9 62.3zM629.9 60.1L633.9 60.1L631.9 62.3zM453.3 65.4L457.3 65.4L455.3 67.6zM462.6 65.4L466.6 65.4L464.6 67.6zM471.9 65.4L475.9 65.4L473.9 67.6zM485.9 65.4L489.9 65.4L487.9 67.6zM495.2 65.4L499.2 65.4L497.2 67.6zM513.7 65.4L517.7 65.4L515.7 67.6zM527.7 65.4L531.7 65.4L529.7 67.6zM532.3 65.4L536.3 65.4L534.3 67.6zM537 65.4L541 65.4L539 67.6zM541.6 65.4L545.6 65.4L543.6 67.6zM546.2 65.4L550.2 65.4L548.2 67.6zM550.9 65.4L554.9 65.4L552.9 67.6zM560.2 65.4L564.2 65.4L562.2 67.6zM569.5 65.4L573.5 65.4L571.5 67.6zM574.1 65.4L578.1 65.4L576.1 67.6zM583.4 65.4L587.4 65.4L585.4 67.6zM592.7 65.4L596.7 65.4L594.7 67.6zM597.3 65.4L601.3 65.4L599.3 67.6zM606.6 65.4L610.6 65.4L608.6 67.6zM639.1 65.4L643.1 65.4L641.1 67.6zM643.8 65.4L647.8 65.4L645.8 67.6zM430.1 70.6L434.1 70.6L432.1 72.8zM448.7 70.6L452.7 70.6L450.7 72.8zM467.3 70.6L471.3 70.6L469.3 72.8zM485.9 70.6L489.9 70.6L487.9 72.8zM504.4 70.6L508.4 70.6L506.4 72.8zM527.7 70.6L531.7 70.6L529.7 72.8zM532.3 70.6L536.3 70.6L534.3 72.8zM555.5 70.6L559.5 70.6L557.5 72.8zM569.5 70.6L573.5 70.6L571.5 72.8zM583.4 70.6L587.4 70.6L585.4 72.8zM597.3 70.6L601.3 70.6L599.3 72.8zM602 70.6L606 70.6L604 72.8zM406.9 86.5L410.9 86.5L408.9 88.7zM425.5 86.5L429.5 86.5L427.5 88.7zM430.1 86.5L434.1 86.5L432.1 88.7zM439.4 86.5L443.4 86.5L441.4 88.7zM462.6 86.5L466.6 86.5L464.6 88.7zM481.2 86.5L485.2 86.5L483.2 88.7zM523 86.5L527 86.5L525 88.7zM546.2 86.5L550.2 86.5L548.2 88.7zM560.2 86.5L564.2 86.5L562.2 88.7zM597.3 86.5L601.3 86.5L599.3 88.7zM606.6 86.5L610.6 86.5L608.6 88.7zM430.1 91.7L434.1 91.7L432.1 93.9zM444.1 91.7L448.1 91.7L446.1 93.9zM448.7 91.7L452.7 91.7L450.7 93.9zM555.5 91.7L559.5 91.7L557.5 93.9zM569.5 91.7L573.5 91.7L571.5 93.9zM643.8 91.7L647.8 91.7L645.8 93.9zM406.9 107.5L410.9 107.5L408.9 109.7zM425.5 107.5L429.5 107.5L427.5 109.7zM430.1 107.5L434.1 107.5L432.1 109.7zM439.4 107.5L443.4 107.5L441.4 109.7zM462.6 107.5L466.6 107.5L464.6 109.7zM481.2 107.5L485.2 107.5L483.2 109.7zM523 107.5L527 107.5L525 109.7zM546.2 107.5L550.2 107.5L548.2 109.7zM560.2 107.5L564.2 107.5L562.2 109.7zM597.3 107.5L601.3 107.5L599.3 109.7zM606.6 107.5L610.6 107.5L608.6 109.7zM406.9 112.8L410.9 112.8L408.9 115zM425.5 112.8L429.5 112.8L427.5 115zM430.1 112.8L434.1 112.8L432.1 115zM439.4 112.8L443.4 112.8L441.4 115zM462.6 112.8L466.6 112.8L464.6 115zM481.2 112.8L485.2 112.8L483.2 115zM523 112.8L527 112.8L525 115zM546.2 112.8L550.2 112.8L548.2 115zM560.2 112.8L564.2 112.8L562.2 115zM597.3 112.8L601.3 112.8L599.3 115zM606.6 112.8L610.6 112.8L608.6 115zM448.7 144.4L452.7 144.4L450.7 146.6zM462.6 144.4L466.6 144.4L464.6 146.6zM471.9 144.4L475.9 144.4L473.9 146.6zM504.4 144.4L508.4 144.4L506.4 146.6zM532.3 144.4L536.3 144.4L534.3 146.6zM574.1 144.4L578.1 144.4L576.1 146.6zM606.6 144.4L610.6 144.4L608.6 146.6zM406.9 149.7L410.9 149.7L408.9 151.9zM420.8 149.7L424.8 149.7L422.8 151.9zM462.6 149.7L466.6 149.7L464.6 151.9zM471.9 149.7L475.9 149.7L473.9 151.9zM481.2 149.7L485.2 149.7L483.2 151.9zM523 149.7L527 149.7L525 151.9zM588.1 149.7L592.1 149.7L590.1 151.9zM602 149.7L606 149.7L604 151.9zM620.6 149.7L624.6 149.7L622.6 151.9zM643.8 149.7L647.8 149.7L645.8 151.9zM448.7 155L452.7 155L450.7 157.2zM462.6 155L466.6 155L464.6 157.2zM504.4 155L508.4 155L506.4 157.2zM527.7 155L531.7 155L529.7 157.2zM532.3 155L536.3 155L534.3 157.2zM574.1 155L578.1 155L576.1 157.2zM462.6 160.2L466.6 160.2L464.6 162.4zM476.6 160.2L480.6 160.2L478.6 162.4zM537 160.2L541 160.2L539 162.4zM541.6 160.2L545.6 160.2L543.6 162.4zM569.5 160.2L573.5 160.2L571.5 162.4zM606.6 160.2L610.6 160.2L608.6 162.4zM462.6 181.3L466.6 181.3L464.6 183.5zM467.3 181.3L471.3 181.3L469.3 183.5zM504.4 181.3L508.4 181.3L506.4 183.5zM532.3 181.3L536.3 181.3L534.3 183.5zM546.2 181.3L550.2 181.3L548.2 183.5zM532.3 207.7L536.3 207.7L534.3 209.9zM643.8 207.7L647.8 207.7L645.8 209.9zM430.1 260.4L434.1 260.4L432.1 262.6zM481.2 260.4L485.2 260.4L483.2 262.6zM527.7 260.4L531.7 260.4L529.7 262.6zM532.3 260.4L536.3 260.4L534.3 262.6zM583.4 260.4L587.4 260.4L585.4 262.6zM606.6 260.4L610.6 260.4L608.6 262.6zM430.1 265.6L434.1 265.6L432.1 267.8zM481.2 265.6L485.2 265.6L483.2 267.8zM527.7 265.6L531.7 265.6L529.7 267.8zM532.3 265.6L536.3 265.6L534.3 267.8zM583.4 265.6L587.4 265.6L585.4 267.8zM606.6 265.6L610.6 265.6L608.6 267.8zM643.8 265.6L647.8 265.6L645.8 267.8z"/>
<path stroke="#000" stroke-width="1.1" d="M390.8 9.6V37.3M390.8 40.8V384.8"/>
<g fill="#1a1a1a"><text x="654.6" y="15.6" font-size="6.0">RNA</text><text x="654.6" y="22.5" font-size="6.0">microRNA</text><text x="654.6" y="29.4" font-size="6.0">Protein</text><text x="654.6" y="36.2" font-size="6.0">Methylation</text><text x="654.6" y="46.5" font-size="5.8">BRAF</text><text x="393.2" y="46.6" font-size="6.1">73%</text><text x="654.6" y="51.8" font-size="5.8">NRAS</text><text x="393.2" y="51.9" font-size="6.1">41%</text><text x="654.6" y="57" font-size="5.8">CDKN2A</text><text x="393.2" y="57.1" font-size="6.1">71%</text><text x="654.6" y="62.3" font-size="5.8">CDKN2B</text><text x="393.2" y="62.4" font-size="6.1">57%</text><text x="654.6" y="67.6" font-size="5.8">PTEN</text><text x="393.2" y="67.7" font-size="6.1">55%</text><text x="654.6" y="72.8" font-size="5.8">TP53</text><text x="393.2" y="73" font-size="6.1">55%</text><text x="654.6" y="78.1" font-size="5.8">NOTCH1</text><text x="393.2" y="78.2" font-size="6.1">51%</text><text x="654.6" y="83.4" font-size="5.8">HLA−B</text><text x="393.2" y="83.5" font-size="6.1">45%</text><text x="654.6" y="88.7" font-size="5.8">KDR</text><text x="393.2" y="88.8" font-size="6.1">45%</text><text x="654.6" y="93.9" font-size="5.8">NF1</text><text x="393.2" y="94" font-size="6.1">45%</text><text x="654.6" y="99.2" font-size="5.8">TRRAP</text><text x="393.2" y="99.3" font-size="6.1">45%</text><text x="654.6" y="104.5" font-size="5.8">ARID1A</text><text x="393.2" y="104.6" font-size="6.1">43%</text><text x="654.6" y="109.7" font-size="5.8">KIT</text><text x="393.2" y="109.8" font-size="6.1">41%</text><text x="654.6" y="115" font-size="5.8">PDGFRA</text><text x="393.2" y="115.1" font-size="6.1">41%</text><text x="654.6" y="120.3" font-size="5.8">DCC</text><text x="393.2" y="120.4" font-size="6.1">35%</text><text x="654.6" y="125.5" font-size="5.8">PREX2</text><text x="393.2" y="125.7" font-size="6.1">35%</text><text x="654.6" y="130.8" font-size="5.8">ADAMTS18</text><text x="393.2" y="130.9" font-size="6.1">33%</text><text x="654.6" y="136.1" font-size="5.8">ERBB4</text><text x="393.2" y="136.2" font-size="6.1">33%</text><text x="654.6" y="141.4" font-size="5.8">GRIN2A</text><text x="393.2" y="141.5" font-size="6.1">33%</text><text x="654.6" y="146.6" font-size="5.8">RAF1</text><text x="393.2" y="146.7" font-size="6.1">33%</text><text x="654.6" y="151.9" font-size="5.8">RB1</text><text x="393.2" y="152" font-size="6.1">31%</text><text x="654.6" y="157.2" font-size="5.8">BAP1</text><text x="393.2" y="157.3" font-size="6.1">29%</text><text x="654.6" y="162.4" font-size="5.8">TERT</text><text x="393.2" y="162.5" font-size="6.1">29%</text><text x="654.6" y="167.7" font-size="5.8">HLA−C</text><text x="393.2" y="167.8" font-size="6.1">27%</text><text x="654.6" y="173" font-size="5.8">PTPRK</text><text x="393.2" y="173.1" font-size="6.1">27%</text><text x="654.6" y="178.2" font-size="5.8">CBL</text><text x="393.2" y="178.3" font-size="6.1">25%</text><text x="654.6" y="183.5" font-size="5.8">CCND1</text><text x="393.2" y="183.6" font-size="6.1">25%</text><text x="654.6" y="188.8" font-size="5.8">EPHA3</text><text x="393.2" y="188.9" font-size="6.1">25%</text><text x="654.6" y="194.1" font-size="5.8">HLA−A</text><text x="393.2" y="194.2" font-size="6.1">25%</text><text x="654.6" y="199.3" font-size="5.8">ARID1B</text><text x="393.2" y="199.4" font-size="6.1">24%</text><text x="654.6" y="204.6" font-size="5.8">ARID2</text><text x="393.2" y="204.7" font-size="6.1">24%</text><text x="654.6" y="209.9" font-size="5.8">MITF</text><text x="393.2" y="210" font-size="6.1">24%</text><text x="654.6" y="215.1" font-size="5.8">ATM</text><text x="393.2" y="215.2" font-size="6.1">22%</text><text x="654.6" y="220.4" font-size="5.8">MAP3K5</text><text x="393.2" y="220.5" font-size="6.1">20%</text><text x="654.6" y="225.7" font-size="5.8">MAP3K9</text><text x="393.2" y="225.8" font-size="6.1">20%</text><text x="654.6" y="230.9" font-size="5.8">SETD2</text><text x="393.2" y="231" font-size="6.1">20%</text><text x="654.6" y="236.2" font-size="5.8">CTNNB1</text><text x="393.2" y="236.3" font-size="6.1">16%</text><text x="654.6" y="241.5" font-size="5.8">MAP2K1</text><text x="393.2" y="241.6" font-size="6.1">16%</text><text x="654.6" y="246.8" font-size="5.8">PPP6C</text><text x="393.2" y="246.9" font-size="6.1">16%</text><text x="654.6" y="252" font-size="5.8">SOS1</text><text x="393.2" y="252.1" font-size="6.1">16%</text><text x="654.6" y="257.3" font-size="5.8">AKT1</text><text x="393.2" y="257.4" font-size="6.1">14%</text><text x="654.6" y="262.6" font-size="5.8">CDK4</text><text x="393.2" y="262.7" font-size="6.1">14%</text><text x="654.6" y="267.8" font-size="5.8">MDM2</text><text x="393.2" y="267.9" font-size="6.1">14%</text><text x="654.6" y="273.1" font-size="5.8">PIK3R1</text><text x="393.2" y="273.2" font-size="6.1">14%</text><text x="654.6" y="278.4" font-size="5.8">PTPN11</text><text x="393.2" y="278.5" font-size="6.1">14%</text><text x="654.6" y="283.6" font-size="5.8">RAC1</text><text x="393.2" y="283.7" font-size="6.1">14%</text><text x="654.6" y="288.9" font-size="5.8">SF3B1</text><text x="393.2" y="289" font-size="6.1">14%</text><text x="654.6" y="294.2" font-size="5.8">BCL2L12</text><text x="393.2" y="294.3" font-size="6.1">12%</text><text x="654.6" y="299.5" font-size="5.8">PIK3CA</text><text x="393.2" y="299.6" font-size="6.1">12%</text><text x="654.6" y="304.7" font-size="5.8">STK19</text><text x="393.2" y="304.8" font-size="6.1">12%</text><text x="654.6" y="310" font-size="5.8">TACC1</text><text x="393.2" y="310.1" font-size="6.1">12%</text><text x="654.6" y="315.3" font-size="5.8">DDX3X</text><text x="393.2" y="315.4" font-size="6.1">10%</text><text x="654.6" y="320.5" font-size="5.8">RQCD1</text><text x="393.2" y="320.6" font-size="6.1">10%</text><text x="654.6" y="325.8" font-size="5.8">SNX31</text><text x="393.2" y="325.9" font-size="6.1">10%</text><text x="654.6" y="331.1" font-size="5.8">SPRED1</text><text x="393.2" y="331.2" font-size="6.1">10%</text><text x="654.6" y="336.3" font-size="5.8">B2M</text><text x="393.2" y="336.4" font-size="6.1">8%</text><text x="654.6" y="341.6" font-size="5.8">CASP8</text><text x="393.2" y="341.7" font-size="6.1">8%</text><text x="654.6" y="346.9" font-size="5.8">FBXO7</text><text x="393.2" y="347" font-size="6.1">8%</text><text x="654.6" y="352.2" font-size="5.8">AKT2</text><text x="393.2" y="352.3" font-size="6.1">6%</text><text x="654.6" y="357.4" font-size="5.8">GNAQ</text><text x="393.2" y="357.5" font-size="6.1">6%</text><text x="654.6" y="362.7" font-size="5.8">IDH1</text><text x="393.2" y="362.8" font-size="6.1">6%</text><text x="654.6" y="368" font-size="5.8">MAP2K2</text><text x="393.2" y="368.1" font-size="6.1">6%</text><text x="654.6" y="373.2" font-size="5.8">SOX10</text><text x="393.2" y="373.3" font-size="6.1">6%</text><text x="654.6" y="378.5" font-size="5.8">GNA11</text><text x="393.2" y="378.6" font-size="6.1">2%</text><text x="654.6" y="383.8" font-size="5.8">KRAS</text><text x="393.2" y="383.9" font-size="6.1">2%</text></g>
<path stroke="#555" stroke-width="0.6" d="M344.2 383.6H390.4"/>
<text x="349" y="392.2" font-size="7.9" fill="#222" text-anchor="middle">50</text>
<text x="370.3" y="392.2" font-size="7.9" fill="#222" text-anchor="middle">25</text>
<text x="390.8" y="392.2" font-size="7.9" fill="#222" text-anchor="middle">0</text>
<text x="326.6" y="83.6" font-size="7.1" fill="#222">Cluster 1</text>
<text x="326.6" y="94.8" font-size="7.1" fill="#222">Cluster 2</text>
<text x="326.6" y="105.9" font-size="7.1" fill="#222">Cluster 3</text>
<text x="326.6" y="129.9" font-size="7.1" fill="#222">BRAF hotspot</text>
<text x="326.6" y="141.1" font-size="7.1" fill="#222">NRAS hotspot</text>
<text x="314.2" y="245.6" font-size="7.0" fill="#222">Mutation Type</text>
<text x="326.6" y="258.3" font-size="7.1" fill="#222">Frameshift indel</text>
<text x="326.6" y="269.5" font-size="7.1" fill="#222">Nonsense</text>
<text x="326.6" y="280.4" font-size="7.1" fill="#222">Splicing site</text>
<text x="326.6" y="291.5" font-size="7.1" fill="#222">In−frame indel</text>
<text x="326.6" y="302.5" font-size="7.1" fill="#222">Missense</text>
<text x="326.6" y="333.3" font-size="7.1" fill="#222">Amplification</text>
<text x="326.6" y="344.6" font-size="7.1" fill="#222">Deletion</text>
<text x="326.6" y="373.9" font-size="7.1" fill="#222">Mut + CNA</text>
<text x="336.5" y="403.2" font-size="6.9" fill="#222">Mutation Type</text>
<text x="346" y="411.2" font-size="6.8" fill="#222">Non-synonymous</text>
<text x="346" y="418.6" font-size="6.8" fill="#222">Synonymous</text>
<text x="346" y="431.3" font-size="6.8" fill="#222">C &gt; T</text>
<text x="346" y="438.9" font-size="6.8" fill="#222">C &gt; A</text>
<text x="346" y="446.1" font-size="6.8" fill="#222">A &gt; (C/G)</text>
<text x="346" y="453.3" font-size="6.8" fill="#222">others</text>
<path fill="#E0261B" d="M314.1 75.8h9.9v9.8h-9.9zM336.7 426h6.9v6h-6.9z"/><path fill="#1D6B2F" d="M314.1 87h9.9v9.8h-9.9z"/><path fill="#4747AB" d="M314.1 98.1h9.9v9.8h-9.9zM336.7 405.9h6.9v6h-6.9z"/><path fill="#FCC5D3" d="M314.1 122.1h9.9v9.8h-9.9z"/><path fill="#C4E3EF" d="M314.1 133.3h9.9v9.8h-9.9z"/><path fill="#E2261D" d="M314.1 250.5h9.9v9.8h-9.9z"/><path fill="#FFD20A" d="M314.1 261.7h9.9v9.8h-9.9z"/><path fill="#8B5524" d="M314.1 272.6h9.9v9.8h-9.9z"/><path fill="#1A6E8E" d="M314.1 283.7h9.9v9.8h-9.9z"/><path fill="#8E8C25" d="M314.1 294.7h9.9v9.8h-9.9z"/><path fill="#A52A2A" d="M314.1 335L324.1 335L319.1 325.2z"/><path fill="#2E2A8C" d="M314.1 336.4L324.1 336.4L319.1 346.2z"/><path fill="#7ACC12" d="M314.1 365.8h9.9v9.8h-9.9z"/><path fill="#FFC8D8" d="M336.7 413.3h6.9v6h-6.9zM336.7 433.6h6.9v6h-6.9z"/><path fill="#FFA500" d="M336.7 440.8h6.9v6h-6.9z"/><path fill="#8ADBE8" d="M336.7 448h6.9v6h-6.9z"/>
<path fill="#3B3B9E" d="M407.2 418.4h3.4v0.8h-3.4zM411.8 416.8h3.4v2.4h-3.4zM416.5 418.4h3.4v0.8h-3.4zM421.1 418.4h3.4v0.8h-3.4zM425.8 418.4h3.4v0.8h-3.4zM430.4 400h3.4v19.2h-3.4zM435.1 418.4h3.4v0.8h-3.4zM439.7 418.4h3.4v0.8h-3.4zM444.4 416.8h3.4v2.4h-3.4zM449 418.4h3.4v0.8h-3.4zM453.6 418.4h3.4v0.8h-3.4zM458.3 418.4h3.4v0.8h-3.4zM462.9 418.4h3.4v0.8h-3.4zM467.6 418.4h3.4v0.8h-3.4zM472.2 418.4h3.4v0.8h-3.4zM476.9 414h3.4v5.2h-3.4zM481.5 418.4h3.4v0.8h-3.4zM486.2 418.4h3.4v0.8h-3.4zM495.5 418.4h3.4v0.8h-3.4zM500.1 418.4h3.4v0.8h-3.4zM504.7 418.4h3.4v0.8h-3.4zM509.4 417.6h3.4v1.6h-3.4zM514 418.4h3.4v0.8h-3.4zM518.7 418.4h3.4v0.8h-3.4zM523.3 418.4h3.4v0.8h-3.4zM528 418.4h3.4v0.8h-3.4zM532.6 416.7h3.4v2.5h-3.4zM537.3 418.4h3.4v0.8h-3.4zM541.9 417.2h3.4v2h-3.4zM546.5 418.4h3.4v0.8h-3.4zM551.2 418h3.4v1.2h-3.4zM555.8 418.4h3.4v0.8h-3.4zM560.5 418.4h3.4v0.8h-3.4zM565.1 418.4h3.4v0.8h-3.4zM569.8 418.4h3.4v0.8h-3.4zM574.4 418.4h3.4v0.8h-3.4zM583.7 418.4h3.4v0.8h-3.4zM588.4 418.4h3.4v0.8h-3.4zM593 417.7h3.4v1.5h-3.4zM597.6 418.4h3.4v0.8h-3.4zM602.3 416h3.4v3.2h-3.4zM606.9 417.2h3.4v2h-3.4zM611.6 409.9h3.4v9.3h-3.4zM616.2 418h3.4v1.2h-3.4zM620.9 418.4h3.4v0.8h-3.4zM625.5 418h3.4v1.2h-3.4zM630.2 418.4h3.4v0.8h-3.4zM634.8 418.4h3.4v0.8h-3.4zM639.4 418.4h3.4v0.8h-3.4zM644.1 418.4h3.4v0.8h-3.4zM648.7 418.4h3.4v0.8h-3.4z"/><path fill="#FFC8D8" d="M411.8 416h3.4v0.8h-3.4zM430.4 393h3.4v7h-3.4zM444.4 416h3.4v0.8h-3.4zM476.9 411.8h3.4v2.2h-3.4zM509.4 417.2h3.4v0.4h-3.4zM532.6 415.9h3.4v0.8h-3.4zM541.9 416.9h3.4v0.3h-3.4zM551.2 417.8h3.4v0.2h-3.4zM593 417.3h3.4v0.4h-3.4zM602.3 415.1h3.4v0.9h-3.4zM606.9 416.6h3.4v0.6h-3.4zM611.6 407.3h3.4v2.6h-3.4zM616.2 417.8h3.4v0.2h-3.4zM625.5 417.7h3.4v0.3h-3.4z"/>
<path fill="none" stroke="#666" stroke-width="0.25" d="M411.8 416h3.4v0.8h-3.4zM430.4 393h3.4v7h-3.4zM444.4 416h3.4v0.8h-3.4zM476.9 411.8h3.4v2.2h-3.4zM509.4 417.2h3.4v0.4h-3.4zM532.6 415.9h3.4v0.8h-3.4zM541.9 416.9h3.4v0.3h-3.4zM551.2 417.8h3.4v0.2h-3.4zM593 417.3h3.4v0.4h-3.4zM602.3 415.1h3.4v0.9h-3.4zM606.9 416.6h3.4v0.6h-3.4zM611.6 407.3h3.4v2.6h-3.4zM616.2 417.8h3.4v0.2h-3.4zM625.5 417.7h3.4v0.3h-3.4z"/>
<path stroke="#222" stroke-width="0.7" d="M406.5 419.5H652.5"/>
<text x="655.5" y="420.8" font-size="4.4" fill="#333">0</text>
<text x="655.5" y="414.5" font-size="4.4" fill="#333">10000</text>
<text x="655.5" y="408.5" font-size="4.4" fill="#333">20000</text>
<text x="655.5" y="402.4" font-size="4.4" fill="#333">30000</text>
<text x="655.5" y="396.1" font-size="4.4" fill="#333">40000</text>
<path fill="#E0261B" d="M407.1 435.5h3.6v16.4h-3.6zM411.7 426h3.6v25.9h-3.6zM416.4 436.1h3.6v15.8h-3.6zM421 430.6h3.6v21.3h-3.6zM425.7 433.5h3.6v18.4h-3.6zM430.3 443.8h3.6v8.1h-3.6zM435 430.6h3.6v21.3h-3.6zM439.6 432.3h3.6v19.6h-3.6zM444.3 431.7h3.6v20.2h-3.6zM448.9 432.3h3.6v19.6h-3.6zM453.5 431.2h3.6v20.7h-3.6zM458.2 429.7h3.6v22.2h-3.6zM462.8 438.7h3.6v13.2h-3.6zM467.5 429.7h3.6v22.2h-3.6zM472.1 436.6h3.6v15.3h-3.6zM476.8 426h3.6v25.9h-3.6zM481.4 432.9h3.6v19h-3.6zM486.1 436.3h3.6v15.6h-3.6zM495.4 429.1h3.6v22.8h-3.6zM500 437.8h3.6v14.1h-3.6zM504.6 432.3h3.6v19.6h-3.6zM509.3 436.3h3.6v15.6h-3.6zM513.9 438.7h3.6v13.2h-3.6zM518.6 438.7h3.6v13.2h-3.6zM523.2 431.7h3.6v20.2h-3.6zM527.9 437.5h3.6v14.4h-3.6zM532.5 436.9h3.6v15h-3.6zM537.2 427.7h3.6v24.2h-3.6zM541.8 434h3.6v17.9h-3.6zM546.5 430.6h3.6v21.3h-3.6zM551.1 430.9h3.6v21h-3.6zM555.7 429.4h3.6v22.5h-3.6zM560.4 436.3h3.6v15.6h-3.6zM565 434.6h3.6v17.3h-3.6zM569.7 426h3.6v25.9h-3.6zM574.3 436.9h3.6v15h-3.6zM583.6 431.7h3.6v20.2h-3.6zM588.3 427.1h3.6v24.8h-3.6zM592.9 427.4h3.6v24.5h-3.6zM597.5 433.5h3.6v18.4h-3.6zM602.2 434.6h3.6v17.3h-3.6zM606.8 431.7h3.6v20.2h-3.6zM611.5 444.1h3.6v7.8h-3.6zM616.1 429.4h3.6v22.5h-3.6zM620.8 429.4h3.6v22.5h-3.6zM625.4 429.7h3.6v22.2h-3.6zM630.1 431.7h3.6v20.2h-3.6zM634.7 430h3.6v21.9h-3.6zM639.4 430h3.6v21.9h-3.6zM644 431.2h3.6v20.7h-3.6zM648.6 431.7h3.6v20.2h-3.6z"/><path fill="#FFC8D8" d="M407.1 433.2h3.6v2.3h-3.6zM416.4 433.8h3.6v2.3h-3.6zM421 429.4h3.6v1.2h-3.6zM425.7 432.3h3.6v1.2h-3.6zM430.3 431.2h3.6v12.7h-3.6zM435 429.4h3.6v1.2h-3.6zM439.6 431.2h3.6v1.2h-3.6zM444.3 430.6h3.6v1.2h-3.6zM448.9 431.2h3.6v1.2h-3.6zM453.5 430h3.6v1.2h-3.6zM458.2 428.6h3.6v1.2h-3.6zM462.8 436.3h3.6v2.3h-3.6zM467.5 428.6h3.6v1.2h-3.6zM472.1 434.3h3.6v2.3h-3.6zM481.4 431.7h3.6v1.2h-3.6zM486.1 434h3.6v2.3h-3.6zM495.4 428h3.6v1.2h-3.6zM500 433.5h3.6v4.3h-3.6zM504.6 431.2h3.6v1.2h-3.6zM509.3 433.5h3.6v2.9h-3.6zM513.9 436.6h3.6v2h-3.6zM518.6 436.6h3.6v2h-3.6zM523.2 430.6h3.6v1.2h-3.6zM527.9 436.3h3.6v1.2h-3.6zM532.5 434.9h3.6v2h-3.6zM537.2 426.6h3.6v1.2h-3.6zM541.8 432.9h3.6v1.2h-3.6zM546.5 429.4h3.6v1.2h-3.6zM551.1 429.7h3.6v1.2h-3.6zM555.7 428.3h3.6v1.2h-3.6zM560.4 433.5h3.6v2.9h-3.6zM565 433.5h3.6v1.2h-3.6zM574.3 434.3h3.6v2.6h-3.6zM583.6 430.6h3.6v1.2h-3.6zM597.5 432.3h3.6v1.2h-3.6zM602.2 433.5h3.6v1.2h-3.6zM606.8 430.6h3.6v1.2h-3.6zM611.5 430h3.6v14.1h-3.6zM616.1 428.3h3.6v1.2h-3.6zM620.8 428.3h3.6v1.2h-3.6zM625.4 428.6h3.6v1.2h-3.6zM630.1 430.6h3.6v1.2h-3.6zM634.7 428.9h3.6v1.2h-3.6zM639.4 428.9h3.6v1.2h-3.6zM644 430h3.6v1.2h-3.6zM648.6 430.6h3.6v1.2h-3.6z"/><path fill="#FFA500" d="M407.1 426h3.6v7.2h-3.6zM411.7 424h3.6v2h-3.6zM416.4 426h3.6v7.8h-3.6zM421 426h3.6v3.5h-3.6zM425.7 426h3.6v6.3h-3.6zM430.3 426h3.6v5.2h-3.6zM435 426h3.6v3.5h-3.6zM439.6 426h3.6v5.2h-3.6zM444.3 426h3.6v4.6h-3.6zM448.9 426h3.6v5.2h-3.6zM453.5 426h3.6v4h-3.6zM458.2 426h3.6v2.6h-3.6zM462.8 426h3.6v10.4h-3.6zM467.5 426h3.6v2.6h-3.6zM472.1 426h3.6v8.4h-3.6zM476.8 424h3.6v2h-3.6zM481.4 426h3.6v5.8h-3.6zM486.1 426h3.6v8.1h-3.6zM495.4 426h3.6v2h-3.6zM500 426h3.6v7.5h-3.6zM504.6 426h3.6v5.2h-3.6zM509.3 426h3.6v7.5h-3.6zM513.9 426h3.6v10.7h-3.6zM518.6 426h3.6v10.7h-3.6zM523.2 426h3.6v4.6h-3.6zM527.9 426h3.6v10.4h-3.6zM532.5 426h3.6v8.9h-3.6zM537.2 424.5h3.6v2h-3.6zM541.8 426h3.6v6.9h-3.6zM546.5 426h3.6v3.5h-3.6zM551.1 426h3.6v3.7h-3.6zM555.7 426h3.6v2.3h-3.6zM560.4 426h3.6v7.5h-3.6zM565 426h3.6v7.5h-3.6zM569.7 424.5h3.6v1.4h-3.6zM574.3 426h3.6v8.4h-3.6zM583.6 426h3.6v4.6h-3.6zM588.3 426h3.6v1.2h-3.6zM592.9 426h3.6v1.4h-3.6zM597.5 426h3.6v6.3h-3.6zM602.2 426h3.6v7.5h-3.6zM606.8 426h3.6v4.6h-3.6zM611.5 426h3.6v4h-3.6zM616.1 426h3.6v2.3h-3.6zM620.8 426h3.6v2.3h-3.6zM625.4 426h3.6v2.6h-3.6zM630.1 426h3.6v4.6h-3.6zM634.7 426h3.6v2.9h-3.6zM639.4 426h3.6v2.9h-3.6zM644 426h3.6v4h-3.6zM648.6 426h3.6v4.6h-3.6z"/><path fill="#8ADBE8" d="M407.1 423.1h3.6v2.9h-3.6zM411.7 423.1h3.6v0.9h-3.6zM416.4 423.1h3.6v2.9h-3.6zM421 423.1h3.6v2.9h-3.6zM425.7 423.1h3.6v2.9h-3.6zM430.3 423.1h3.6v2.9h-3.6zM435 423.1h3.6v2.9h-3.6zM439.6 423.1h3.6v2.9h-3.6zM444.3 423.1h3.6v2.9h-3.6zM448.9 423.1h3.6v2.9h-3.6zM453.5 423.1h3.6v2.9h-3.6zM458.2 423.1h3.6v2.9h-3.6zM462.8 423.1h3.6v2.9h-3.6zM467.5 423.1h3.6v2.9h-3.6zM472.1 423.1h3.6v2.9h-3.6zM476.8 423.1h3.6v0.9h-3.6zM481.4 423.1h3.6v2.9h-3.6zM486.1 423.1h3.6v2.9h-3.6zM495.4 423.1h3.6v2.9h-3.6zM500 423.1h3.6v2.9h-3.6zM504.6 423.1h3.6v2.9h-3.6zM509.3 423.1h3.6v2.9h-3.6zM513.9 423.1h3.6v2.9h-3.6zM518.6 423.1h3.6v2.9h-3.6zM523.2 423.1h3.6v2.9h-3.6zM527.9 423.1h3.6v2.9h-3.6zM532.5 423.1h3.6v2.9h-3.6zM537.2 423.1h3.6v1.4h-3.6zM541.8 423.1h3.6v2.9h-3.6zM546.5 423.1h3.6v2.9h-3.6zM551.1 423.1h3.6v2.9h-3.6zM555.7 423.1h3.6v2.9h-3.6zM560.4 423.1h3.6v2.9h-3.6zM565 423.1h3.6v2.9h-3.6zM569.7 423.1h3.6v1.4h-3.6zM574.3 423.1h3.6v2.9h-3.6zM583.6 423.1h3.6v2.9h-3.6zM588.3 423.1h3.6v2.9h-3.6zM592.9 423.1h3.6v2.9h-3.6zM597.5 423.1h3.6v2.9h-3.6zM602.2 423.1h3.6v2.9h-3.6zM606.8 423.1h3.6v2.9h-3.6zM611.5 423.1h3.6v2.9h-3.6zM616.1 423.1h3.6v2.9h-3.6zM620.8 423.1h3.6v2.9h-3.6zM625.4 423.1h3.6v2.9h-3.6zM630.1 423.1h3.6v2.9h-3.6zM634.7 423.1h3.6v2.9h-3.6zM639.4 423.1h3.6v2.9h-3.6zM644 423.1h3.6v2.9h-3.6zM648.6 423.1h3.6v2.9h-3.6z"/>
<path fill="none" stroke="#777" stroke-width="0.3" d="M407.1 423.1h3.6v28.8h-3.6zM411.7 423.1h3.6v28.8h-3.6zM416.4 423.1h3.6v28.8h-3.6zM421 423.1h3.6v28.8h-3.6zM425.7 423.1h3.6v28.8h-3.6zM430.3 423.1h3.6v28.8h-3.6zM435 423.1h3.6v28.8h-3.6zM439.6 423.1h3.6v28.8h-3.6zM444.3 423.1h3.6v28.8h-3.6zM448.9 423.1h3.6v28.8h-3.6zM453.5 423.1h3.6v28.8h-3.6zM458.2 423.1h3.6v28.8h-3.6zM462.8 423.1h3.6v28.8h-3.6zM467.5 423.1h3.6v28.8h-3.6zM472.1 423.1h3.6v28.8h-3.6zM476.8 423.1h3.6v28.8h-3.6zM481.4 423.1h3.6v28.8h-3.6zM486.1 423.1h3.6v28.8h-3.6zM495.4 423.1h3.6v28.8h-3.6zM500 423.1h3.6v28.8h-3.6zM504.6 423.1h3.6v28.8h-3.6zM509.3 423.1h3.6v28.8h-3.6zM513.9 423.1h3.6v28.8h-3.6zM518.6 423.1h3.6v28.8h-3.6zM523.2 423.1h3.6v28.8h-3.6zM527.9 423.1h3.6v28.8h-3.6zM532.5 423.1h3.6v28.8h-3.6zM537.2 423.1h3.6v28.8h-3.6zM541.8 423.1h3.6v28.8h-3.6zM546.5 423.1h3.6v28.8h-3.6zM551.1 423.1h3.6v28.8h-3.6zM555.7 423.1h3.6v28.8h-3.6zM560.4 423.1h3.6v28.8h-3.6zM565 423.1h3.6v28.8h-3.6zM569.7 423.1h3.6v28.8h-3.6zM574.3 423.1h3.6v28.8h-3.6zM583.6 423.1h3.6v28.8h-3.6zM588.3 423.1h3.6v28.8h-3.6zM592.9 423.1h3.6v28.8h-3.6zM597.5 423.1h3.6v28.8h-3.6zM602.2 423.1h3.6v28.8h-3.6zM606.8 423.1h3.6v28.8h-3.6zM611.5 423.1h3.6v28.8h-3.6zM616.1 423.1h3.6v28.8h-3.6zM620.8 423.1h3.6v28.8h-3.6zM625.4 423.1h3.6v28.8h-3.6zM630.1 423.1h3.6v28.8h-3.6zM634.7 423.1h3.6v28.8h-3.6zM639.4 423.1h3.6v28.8h-3.6zM644 423.1h3.6v28.8h-3.6zM648.6 423.1h3.6v28.8h-3.6z"/>
<text x="655.5" y="424.7" font-size="4.6" fill="#333">1</text>
<text x="655.5" y="430.5" font-size="4.6" fill="#333">0.8</text>
<text x="655.5" y="436.2" font-size="4.6" fill="#333">0.6</text>
<text x="655.5" y="442" font-size="4.6" fill="#333">0.4</text>
<text x="655.5" y="447.7" font-size="4.6" fill="#333">0.2</text>
<text x="655.5" y="453.5" font-size="4.6" fill="#333">0</text>
<path stroke="#222" stroke-width="0.45" fill="none" d="M653.2 393.5V419.5M653.2 423.1V452M653.2 419.3H654.6M653.2 413H654.6M653.2 407H654.6M653.2 400.9H654.6M653.2 394.6H654.6M653.2 423.1H654.6M653.2 428.9H654.6M653.2 434.6H654.6M653.2 440.4H654.6M653.2 446.1H654.6M653.2 451.9H654.6"/>
<g font-size="4.8" fill="#333" text-anchor="end"><text transform="translate(410.6,454.8) rotate(-90)">S2974</text><text transform="translate(415.2,454.8) rotate(-90)">S2764</text><text transform="translate(419.9,454.8) rotate(-90)">S2349</text><text transform="translate(424.5,454.8) rotate(-90)">S2743</text><text transform="translate(429.2,454.8) rotate(-90)">S2356</text><text transform="translate(433.8,454.8) rotate(-90)">S2889</text><text transform="translate(438.5,454.8) rotate(-90)">S2759</text><text transform="translate(443.1,454.8) rotate(-90)">S2814</text><text transform="translate(447.8,454.8) rotate(-90)">S2975</text><text transform="translate(452.4,454.8) rotate(-90)">S2781</text><text transform="translate(457,454.8) rotate(-90)">S2750</text><text transform="translate(461.7,454.8) rotate(-90)">S2219</text><text transform="translate(466.3,454.8) rotate(-90)">S2522</text><text transform="translate(471,454.8) rotate(-90)">S2580</text><text transform="translate(475.6,454.8) rotate(-90)">S2760</text><text transform="translate(480.3,454.8) rotate(-90)">S2705</text><text transform="translate(484.9,454.8) rotate(-90)">S2523</text><text transform="translate(489.6,454.8) rotate(-90)">S2498</text><text transform="translate(494.2,454.8) rotate(-90)">S2604</text><text transform="translate(498.9,454.8) rotate(-90)">S2638</text><text transform="translate(503.5,454.8) rotate(-90)">S2437</text><text transform="translate(508.1,454.8) rotate(-90)">S2574</text><text transform="translate(512.8,454.8) rotate(-90)">S2762</text><text transform="translate(517.4,454.8) rotate(-90)">S2934</text><text transform="translate(522.1,454.8) rotate(-90)">S2358</text><text transform="translate(526.7,454.8) rotate(-90)">S2416</text><text transform="translate(531.4,454.8) rotate(-90)">S2741</text><text transform="translate(536,454.8) rotate(-90)">S2958</text><text transform="translate(540.7,454.8) rotate(-90)">S2681</text><text transform="translate(545.3,454.8) rotate(-90)">S2972</text><text transform="translate(550,454.8) rotate(-90)">S2722</text><text transform="translate(554.6,454.8) rotate(-90)">S2709</text><text transform="translate(559.2,454.8) rotate(-90)">S2513</text><text transform="translate(563.9,454.8) rotate(-90)">S2718</text><text transform="translate(568.5,454.8) rotate(-90)">S2252</text><text transform="translate(573.2,454.8) rotate(-90)">S2607</text><text transform="translate(577.8,454.8) rotate(-90)">S2930</text><text transform="translate(582.5,454.8) rotate(-90)">S2619</text><text transform="translate(587.1,454.8) rotate(-90)">S2271</text><text transform="translate(591.8,454.8) rotate(-90)">S2645</text><text transform="translate(596.4,454.8) rotate(-90)">S2479</text><text transform="translate(601,454.8) rotate(-90)">S2435</text><text transform="translate(605.7,454.8) rotate(-90)">S2276</text><text transform="translate(610.3,454.8) rotate(-90)">S2905</text><text transform="translate(615,454.8) rotate(-90)">S2120</text><text transform="translate(619.6,454.8) rotate(-90)">S2962</text><text transform="translate(624.3,454.8) rotate(-90)">S2661</text><text transform="translate(628.9,454.8) rotate(-90)">S2505</text><text transform="translate(633.6,454.8) rotate(-90)">S2483</text><text transform="translate(638.2,454.8) rotate(-90)">S2818</text><text transform="translate(642.9,454.8) rotate(-90)">S2600</text><text transform="translate(647.5,454.8) rotate(-90)">S2640</text><text transform="translate(652.1,454.8) rotate(-90)">S2987</text></g>
<path stroke="#222" stroke-width="0.6" d="M408.9 452v1.5M413.5 452v1.5M418.2 452v1.5M422.8 452v1.5M427.5 452v1.5M432.1 452v1.5M436.8 452v1.5M441.4 452v1.5M446.1 452v1.5M450.7 452v1.5M455.3 452v1.5M460 452v1.5M464.6 452v1.5M469.3 452v1.5M473.9 452v1.5M478.6 452v1.5M483.2 452v1.5M487.9 452v1.5M492.5 452v1.5M497.2 452v1.5M501.8 452v1.5M506.4 452v1.5M511.1 452v1.5M515.7 452v1.5M520.4 452v1.5M525 452v1.5M529.7 452v1.5M534.3 452v1.5M539 452v1.5M543.6 452v1.5M548.2 452v1.5M552.9 452v1.5M557.5 452v1.5M562.2 452v1.5M566.8 452v1.5M571.5 452v1.5M576.1 452v1.5M580.8 452v1.5M585.4 452v1.5M590.1 452v1.5M594.7 452v1.5M599.3 452v1.5M604 452v1.5M608.6 452v1.5M613.3 452v1.5M617.9 452v1.5M622.6 452v1.5M627.2 452v1.5M631.9 452v1.5M636.5 452v1.5M641.1 452v1.5M645.8 452v1.5M650.4 452v1.5"/>
<text x="0" y="487" font-size="13.6" font-weight="bold" fill="#000">c</text>
<path fill="#E6E6E6" d="M74.6 505.5h42.4v21.8h-42.4zM74.6 534.3h42.4v45h-42.4zM74.6 585.9h42.4v56h-42.4zM151.3 505.5h33.9v21.8h-33.9zM151.3 534.3h33.9v45h-33.9zM151.3 585.9h33.9v56h-33.9zM216.8 505.5h29.9v21.8h-29.9zM216.8 534.3h29.9v45h-29.9zM216.8 585.9h29.9v56h-29.9zM274.9 505.5h25.4v21.8h-25.4zM274.9 534.3h25.4v45h-25.4zM274.9 585.9h25.4v56h-25.4zM324.9 505.5h23.5v21.8h-23.5zM324.9 534.3h23.5v45h-23.5zM324.9 585.9h23.5v56h-23.5zM372.2 505.5h23.5v21.8h-23.5zM372.2 534.3h23.5v45h-23.5zM372.2 585.9h23.5v56h-23.5zM414.5 505.5h17.5v21.8h-17.5zM414.5 534.3h17.5v45h-17.5zM414.5 585.9h17.5v56h-17.5zM448.3 505.5h15.9v21.8h-15.9zM448.3 534.3h15.9v45h-15.9zM448.3 585.9h15.9v56h-15.9zM478.2 505.5h14.4v21.8h-14.4zM478.2 534.3h14.4v45h-14.4zM478.2 585.9h14.4v56h-14.4zM502.6 505.5h10.9v21.8h-10.9zM502.6 534.3h10.9v45h-10.9zM502.6 585.9h10.9v56h-10.9zM521.2 505.5h8.3v21.8h-8.3zM521.2 534.3h8.3v45h-8.3zM521.2 585.9h8.3v56h-8.3z"/>
<path fill="none" stroke="#A5A5A5" stroke-width="0.55" d="M74.6 505.5V527.3M74.6 534.3V579.3M74.6 585.9V641.9M117 505.5V527.3M117 534.3V579.3M117 585.9V641.9M151.3 505.5V527.3M151.3 534.3V579.3M151.3 585.9V641.9M185.2 505.5V527.3M185.2 534.3V579.3M185.2 585.9V641.9M216.8 505.5V527.3M216.8 534.3V579.3M216.8 585.9V641.9M246.7 505.5V527.3M246.7 534.3V579.3M246.7 585.9V641.9M274.9 505.5V527.3M274.9 534.3V579.3M274.9 585.9V641.9M300.3 505.5V527.3M300.3 534.3V579.3M300.3 585.9V641.9M324.9 505.5V527.3M324.9 534.3V579.3M324.9 585.9V641.9M348.4 505.5V527.3M348.4 534.3V579.3M348.4 585.9V641.9M372.2 505.5V527.3M372.2 534.3V579.3M372.2 585.9V641.9M395.7 505.5V527.3M395.7 534.3V579.3M395.7 585.9V641.9M414.5 505.5V527.3M414.5 534.3V579.3M414.5 585.9V641.9M432 505.5V527.3M432 534.3V579.3M432 585.9V641.9M448.3 505.5V527.3M448.3 534.3V579.3M448.3 585.9V641.9M464.2 505.5V527.3M464.2 534.3V579.3M464.2 585.9V641.9M478.2 505.5V527.3M478.2 534.3V579.3M478.2 585.9V641.9M492.6 505.5V527.3M492.6 534.3V579.3M492.6 585.9V641.9M502.6 505.5V527.3M502.6 534.3V579.3M502.6 585.9V641.9M513.5 505.5V527.3M513.5 534.3V579.3M513.5 585.9V641.9M521.2 505.5V527.3M521.2 534.3V579.3M521.2 585.9V641.9M529.5 505.5V527.3M529.5 534.3V579.3M529.5 585.9V641.9"/><path fill="none" stroke="#B0B0B0" stroke-width="0.7" stroke-dasharray="3 6" d="M53.1 507.5V527.3M53.1 536.3V579.3M53.1 587.9V641.9M90.5 507.5V527.3M90.5 536.3V579.3M90.5 587.9V641.9M132.6 507.5V527.3M132.6 536.3V579.3M132.6 587.9V641.9M160.2 507.5V527.3M160.2 536.3V579.3M160.2 587.9V641.9M193.4 507.5V527.3M193.4 536.3V579.3M193.4 587.9V641.9M227.2 507.5V527.3M227.2 536.3V579.3M227.2 587.9V641.9M257.6 507.5V527.3M257.6 536.3V579.3M257.6 587.9V641.9M282.9 507.5V527.3M282.9 536.3V579.3M282.9 587.9V641.9M308.6 507.5V527.3M308.6 536.3V579.3M308.6 587.9V641.9M332.1 507.5V527.3M332.1 536.3V579.3M332.1 587.9V641.9M357.7 507.5V527.3M357.7 536.3V579.3M357.7 587.9V641.9M378.6 507.5V527.3M378.6 536.3V579.3M378.6 587.9V641.9M397.6 507.5V527.3M397.6 536.3V579.3M397.6 587.9V641.9M416.2 507.5V527.3M416.2 536.3V579.3M416.2 587.9V641.9M433 507.5V527.3M433 536.3V579.3M433 587.9V641.9M454.4 507.5V527.3M454.4 536.3V579.3M454.4 587.9V641.9M468.5 507.5V527.3M468.5 536.3V579.3M468.5 587.9V641.9M481.4 507.5V527.3M481.4 536.3V579.3M481.4 587.9V641.9M496.2 507.5V527.3M496.2 536.3V579.3M496.2 587.9V641.9M507.5 507.5V527.3M507.5 536.3V579.3M507.5 587.9V641.9M515.4 507.5V527.3M515.4 536.3V579.3M515.4 587.9V641.9M523 507.5V527.3M523 536.3V579.3M523 587.9V641.9M540.5 507.5V527.3M540.5 536.3V579.3M540.5 587.9V641.9"/>
<path fill="#8E1A4E" d="M33.5 527.3L33.5 525.7L34.3 525.7L34.3 524.7L35 524.7L35 524.4L35.8 524.4L35.8 526.8L36.5 526.8L36.5 526.7L37.3 526.7L37.3 526.8L38 526.8L38 526.7L38.8 526.7L38.8 526.7L39.5 526.7L39.5 526.8L40.3 526.8L40.3 527.3zM262.3 527.3L262.3 526.8L263.1 526.8L263.1 526.7L263.8 526.7L263.8 526.5L264.6 526.5L264.6 526.5L265.3 526.5L265.3 526.4L266.1 526.4L266.1 526.3L266.8 526.3L266.8 526.3L267.6 526.3L267.6 526L268.3 526L268.3 525.9L269.1 525.9L269.1 525.7L269.8 525.7L269.8 525.8L270.6 525.8L270.6 525.5L271.3 525.5L271.3 525.4L272.1 525.4L272.1 525.2L272.8 525.2L272.8 525.2L273.6 525.2L273.6 525.4L274.3 525.4L274.3 525.2L275.1 525.2L275.1 527.3zM432.6 527.3L432.6 519L433.3 519L433.3 520.2L434.1 520.2L434.1 522.4L434.8 522.4L434.8 520.1L435.6 520.1L435.6 520L436.3 520L436.3 518.4L437.1 518.4L437.1 517.8L437.8 517.8L437.8 516.1L438.6 516.1L438.6 524.7L439.3 524.7L439.3 524L440.1 524L440.1 523.6L440.8 523.6L440.8 519.4L441.6 519.4L441.6 520.4L442.3 520.4L442.3 521.2L443.1 521.2L443.1 518.7L443.8 518.7L443.8 517.4L444.6 517.4L444.6 517.3L445.3 517.3L445.3 522.7L446.1 522.7L446.1 523.7L446.8 523.7L446.8 524.2L447.6 524.2L447.6 527.3zM527 527.3L527 526.8L527.8 526.8L527.8 526.8L528.5 526.8L528.5 526.8L529.3 526.8L529.3 526.8L530 526.8L530 526.7L530.8 526.7L530.8 527.3z"/><path fill="#2F3191" d="M68 527.3L68 527L68.8 527L68.8 526.9L69.5 526.9L69.5 527L70.3 527L70.3 527L71 527L71 527L71.8 527L71.8 527.3zM160.3 527.3L160.3 527L161.1 527L161.1 526.9L161.8 526.9L161.8 527L162.6 527L162.6 526.9L163.3 526.9L163.3 527.3zM233.8 527.3L233.8 527L234.6 527L234.6 526.9L235.3 526.9L235.3 527L236.1 527L236.1 527.3zM299.8 527.3L299.8 526.9L300.6 526.9L300.6 526.8L301.3 526.8L301.3 526.8L302.1 526.8L302.1 526.9L302.8 526.9L302.8 526.9L303.6 526.9L303.6 526.8L304.3 526.8L304.3 527.3zM323.1 527.3L323.1 526.8L323.8 526.8L323.8 526.8L324.6 526.8L324.6 526.8L325.3 526.8L325.3 526.9L326.1 526.9L326.1 526.9L326.8 526.9L326.8 527.3zM349.3 527.3L349.3 518.4L350.1 518.4L350.1 519.3L350.8 519.3L350.8 526.3L351.6 526.3L351.6 526.4L352.3 526.4L352.3 526.4L353.1 526.4L353.1 526.2L353.8 526.2L353.8 526.2L354.6 526.2L354.6 526.2L355.3 526.2L355.3 526.2L356.1 526.2L356.1 526.2L356.8 526.2L356.8 526.4L357.6 526.4L357.6 526.2L358.3 526.2L358.3 526.4L359.1 526.4L359.1 526.3L359.8 526.3L359.8 526.4L360.6 526.4L360.6 526.3L361.3 526.3L361.3 526.5L362.1 526.5L362.1 526.5L362.8 526.5L362.8 526.5L363.6 526.5L363.6 526.5L364.3 526.5L364.3 526.4L365.1 526.4L365.1 526.4L365.8 526.4L365.8 526.6L366.6 526.6L366.6 526.5L367.3 526.5L367.3 526.6L368.1 526.6L368.1 526.5L368.8 526.5L368.8 526.5L369.6 526.5L369.6 526.7L370.3 526.7L370.3 526.6L371.1 526.6L371.1 526.7L371.8 526.7L371.8 527.3zM485.1 527.3L485.1 526.7L485.8 526.7L485.8 526.7L486.6 526.7L486.6 526.7L487.3 526.7L487.3 526.7L488.1 526.7L488.1 526.8L488.8 526.8L488.8 526.7L489.6 526.7L489.6 526.7L490.3 526.7L490.3 526.7L491.1 526.7L491.1 526.7L491.8 526.7L491.8 526.7L492.6 526.7L492.6 526.8L493.3 526.8L493.3 526.8L494.1 526.8L494.1 526.8L494.8 526.8L494.8 527.3zM509.8 527.3L509.8 526.9L510.6 526.9L510.6 526.9L511.3 526.9L511.3 526.9L512 526.9L512 526.9L512.8 526.9L512.8 526.8L513.5 526.8L513.5 526.8L514.3 526.8L514.3 526.8L515 526.8L515 526.9L515.8 526.9L515.8 527.3z"/>
<path fill="#8E1A4E" d="M31.3 579.3L31.3 566.1L32 566.1L32 561L32.8 561L32.8 559.4L33.5 559.4L33.5 555.7L34.3 555.7L34.3 567.1L35 567.1L35 553.8L35.8 553.8L35.8 549.8L36.5 549.8L36.5 561.2L37.3 561.2L37.3 556.2L38 556.2L38 557.6L38.8 557.6L38.8 555.8L39.5 555.8L39.5 562.7L40.3 562.7L40.3 561.5L41 561.5L41 566L41.8 566L41.8 570.3L42.5 570.3L42.5 568.5L43.3 568.5L43.3 571.1L44 571.1L44 573.2L44.8 573.2L44.8 576.4L45.5 576.4L45.5 573.2L46.3 573.2L46.3 575.8L47 575.8L47 576L47.8 576L47.8 576.1L48.5 576.1L48.5 573.4L49.3 573.4L49.3 572.4L50 572.4L50 570.3L50.8 570.3L50.8 568.9L51.5 568.9L51.5 568.1L52.3 568.1L52.3 579.3zM55.3 579.3L55.3 556.8L56 556.8L56 563.7L56.8 563.7L56.8 567.5L57.5 567.5L57.5 562.2L58.3 562.2L58.3 563.3L59 563.3L59 562.1L59.8 562.1L59.8 564.7L60.5 564.7L60.5 562.7L61.3 562.7L61.3 567L62 567L62 566L62.8 566L62.8 571.5L63.5 571.5L63.5 568.4L64.3 568.4L64.3 570.5L65 570.5L65 569.6L65.8 569.6L65.8 575L66.5 575L66.5 575.8L67.3 575.8L67.3 575.7L68 575.7L68 579.3zM77.8 579.3L77.8 572.7L78.5 572.7L78.5 571.8L79.3 571.8L79.3 575.9L80 575.9L80 575.5L80.8 575.5L80.8 575.9L81.5 575.9L81.5 576.5L82.3 576.5L82.3 575.4L83 575.4L83 559.8L83.8 559.8L83.8 575.3L84.5 575.3L84.5 575.3L85.3 575.3L85.3 575.9L86 575.9L86 575.8L86.8 575.8L86.8 576.1L87.5 576.1L87.5 575.7L88.3 575.7L88.3 567.9L89 567.9L89 573.8L89.8 573.8L89.8 577.1L90.5 577.1L90.5 577.1L91.3 577.1L91.3 576.7L92 576.7L92 579.3zM115.3 579.3L115.3 571.8L116 571.8L116 573L116.8 573L116.8 576.4L117.5 576.4L117.5 575.9L118.3 575.9L118.3 577L119 577L119 576.4L119.8 576.4L119.8 576.9L120.5 576.9L120.5 577L121.3 577L121.3 579.3zM125.8 579.3L125.8 574.6L126.5 574.6L126.5 572.9L127.3 572.9L127.3 562.7L128.1 562.7L128.1 564.6L128.8 564.6L128.8 569.2L129.6 569.2L129.6 562.7L130.3 562.7L130.3 564.5L131.1 564.5L131.1 567.2L131.8 567.2L131.8 565.4L132.6 565.4L132.6 579.3zM185.1 579.3L185.1 577.1L185.8 577.1L185.8 577.2L186.6 577.2L186.6 577.1L187.3 577.1L187.3 577.4L188.1 577.4L188.1 577.4L188.8 577.4L188.8 577.6L189.6 577.6L189.6 577.3L190.3 577.3L190.3 577.2L191.1 577.2L191.1 577.6L191.8 577.6L191.8 577.3L192.6 577.3L192.6 577.6L193.3 577.6L193.3 579.3zM216.6 579.3L216.6 574.4L217.3 574.4L217.3 574.2L218.1 574.2L218.1 576.8L218.8 576.8L218.8 573.4L219.6 573.4L219.6 573.8L220.3 573.8L220.3 575L221.1 575L221.1 573.7L221.8 573.7L221.8 574.8L222.6 574.8L222.6 573.9L223.3 573.9L223.3 572.5L224.1 572.5L224.1 572.4L224.8 572.4L224.8 575.4L225.6 575.4L225.6 570.1L226.3 570.1L226.3 574L227.1 574L227.1 576.1L227.8 576.1L227.8 579.3zM254.8 579.3L254.8 573.6L255.6 573.6L255.6 570.9L256.3 570.9L256.3 572.1L257.1 572.1L257.1 572L257.8 572L257.8 569.4L258.6 569.4L258.6 567.3L259.3 567.3L259.3 569.3L260.1 569.3L260.1 565.1L260.8 565.1L260.8 566.4L261.6 566.4L261.6 565.8L262.3 565.8L262.3 562.2L263.1 562.2L263.1 558.9L263.8 558.9L263.8 569.7L264.6 569.7L264.6 557.7L265.3 557.7L265.3 561.1L266.1 561.1L266.1 553.8L266.8 553.8L266.8 554.8L267.6 554.8L267.6 555.2L268.3 555.2L268.3 555.6L269.1 555.6L269.1 551.1L269.8 551.1L269.8 550.2L270.6 550.2L270.6 551.1L271.3 551.1L271.3 554.7L272.1 554.7L272.1 545.9L272.8 545.9L272.8 546.4L273.6 546.4L273.6 551.7L274.3 551.7L274.3 562.7L275.1 562.7L275.1 579.3zM308.1 579.3L308.1 578.4L308.8 578.4L308.8 578.1L309.6 578.1L309.6 578.2L310.3 578.2L310.3 578L311.1 578L311.1 578.4L311.8 578.4L311.8 579.3zM335.1 579.3L335.1 573.2L335.8 573.2L335.8 575.5L336.6 575.5L336.6 579.3zM377.8 579.3L377.8 570.3L378.6 570.3L378.6 567.9L379.3 567.9L379.3 572.5L380.1 572.5L380.1 568.7L380.8 568.7L380.8 579.3zM388.3 579.3L388.3 575.9L389.1 575.9L389.1 574.2L389.8 574.2L389.8 575.5L390.6 575.5L390.6 573.8L391.3 573.8L391.3 576.6L392.1 576.6L392.1 574.3L392.8 574.3L392.8 572.8L393.6 572.8L393.6 571.8L394.3 571.8L394.3 573.3L395.1 573.3L395.1 579.3zM395.8 579.3L395.8 574.1L396.6 574.1L396.6 574.2L397.3 574.2L397.3 575.1L398.1 575.1L398.1 576.2L398.8 576.2L398.8 574.6L399.6 574.6L399.6 574.2L400.3 574.2L400.3 576.1L401.1 576.1L401.1 573.4L401.8 573.4L401.8 576.3L402.6 576.3L402.6 575.9L403.3 575.9L403.3 575.2L404.1 575.2L404.1 574.1L404.8 574.1L404.8 573.8L405.6 573.8L405.6 574.1L406.3 574.1L406.3 574.4L407.1 574.4L407.1 575.5L407.8 575.5L407.8 575.2L408.6 575.2L408.6 574.6L409.3 574.6L409.3 573.7L410.1 573.7L410.1 574.7L410.8 574.7L410.8 576.3L411.6 576.3L411.6 574L412.3 574L412.3 574.9L413.1 574.9L413.1 576.2L413.8 576.2L413.8 573.7L414.6 573.7L414.6 571.4L415.3 571.4L415.3 566.1L416.1 566.1L416.1 571.3L416.8 571.3L416.8 579.3zM431.8 579.3L431.8 537.6L432.6 537.6L432.6 560.9L433.3 560.9L433.3 547.2L434.1 547.2L434.1 562.5L434.8 562.5L434.8 552.6L435.6 552.6L435.6 558.1L436.3 558.1L436.3 543.4L437.1 543.4L437.1 555.7L437.8 555.7L437.8 541.2L438.6 541.2L438.6 556.2L439.3 556.2L439.3 548.5L440.1 548.5L440.1 550.1L440.8 550.1L440.8 550L441.6 550L441.6 552.8L442.3 552.8L442.3 558.6L443.1 558.6L443.1 546.7L443.8 546.7L443.8 557.7L444.6 557.7L444.6 533.6L445.3 533.6L445.3 542.4L446.1 542.4L446.1 553.5L446.8 553.5L446.8 548L447.6 548L447.6 575.6L448.3 575.6L448.3 573L449.1 573L449.1 573.9L449.8 573.9L449.8 574.3L450.6 574.3L450.6 574L451.3 574L451.3 574.6L452.1 574.6L452.1 579.3zM461.1 579.3L461.1 573.8L461.8 573.8L461.8 573.1L462.6 573.1L462.6 573.2L463.3 573.2L463.3 575.9L464.1 575.9L464.1 579.3zM470.1 579.3L470.1 569.8L470.8 569.8L470.8 569L471.6 569L471.6 567.3L472.3 567.3L472.3 567.7L473.1 567.7L473.1 570.2L473.8 570.2L473.8 568.2L474.6 568.2L474.6 569.8L475.3 569.8L475.3 571.9L476.1 571.9L476.1 579.3zM505.3 579.3L505.3 574.5L506.1 574.5L506.1 574L506.8 574L506.8 576.6L507.6 576.6L507.6 576.5L508.3 576.5L508.3 572.5L509.1 572.5L509.1 574.2L509.8 574.2L509.8 572.2L510.6 572.2L510.6 572.7L511.3 572.7L511.3 573.3L512 573.3L512 572.4L512.8 572.4L512.8 570.9L513.5 570.9L513.5 576.3L514.3 576.3L514.3 576.1L515 576.1L515 576.6L515.8 576.6L515.8 575.6L516.5 575.6L516.5 575.6L517.3 575.6L517.3 575.8L518 575.8L518 576L518.8 576L518.8 576L519.5 576L519.5 576L520.3 576L520.3 575.9L521 575.9L521 574.6L521.8 574.6L521.8 563.8L522.5 563.8L522.5 567.9L523.3 567.9L523.3 557.4L524 557.4L524 560.6L524.8 560.6L524.8 551.8L525.5 551.8L525.5 560.4L526.3 560.4L526.3 562.4L527 562.4L527 560.7L527.8 560.7L527.8 561.9L528.5 561.9L528.5 558.3L529.3 558.3L529.3 579.3zM542 579.3L542 577.5L542.8 577.5L542.8 577.7L543.5 577.7L543.5 577.6L544.3 577.6L544.3 577.4L545 577.4L545 577.6L545.8 577.6L545.8 577.5L546.5 577.5L546.5 577.5L547.3 577.5L547.3 577.4L548 577.4L548 577.9L548.8 577.9L548.8 577.6L549.5 577.6L549.5 577.7L550.3 577.7L550.3 577.5L551 577.5L551 577.7L551.8 577.7L551.8 577.6L552.5 577.6L552.5 577.6L553.3 577.6L553.3 579.3z"/><path fill="#2F3191" d="M68 579.3L68 577.4L68.8 577.4L68.8 577.5L69.5 577.5L69.5 577.9L70.3 577.9L70.3 578.4L71 578.4L71 578.2L71.8 578.2L71.8 578.3L72.5 578.3L72.5 578.4L73.3 578.4L73.3 578.7L74 578.7L74 578.8L74.8 578.8L74.8 577.5L75.5 577.5L75.5 577.6L76.3 577.6L76.3 577.3L77 577.3L77 577.4L77.8 577.4L77.8 579.3zM92 579.3L92 576.2L92.8 576.2L92.8 575.8L93.5 575.8L93.5 574.8L94.3 574.8L94.3 575.3L95 575.3L95 574.2L95.8 574.2L95.8 572.8L96.5 572.8L96.5 572L97.3 572L97.3 572.9L98 572.9L98 572.7L98.8 572.7L98.8 569.8L99.5 569.8L99.5 570.5L100.3 570.5L100.3 566.4L101 566.4L101 564.4L101.8 564.4L101.8 566.2L102.5 566.2L102.5 567.9L103.3 567.9L103.3 570.6L104 570.6L104 567.7L104.8 567.7L104.8 562.6L105.5 562.6L105.5 565.7L106.3 565.7L106.3 563.6L107 563.6L107 563.1L107.8 563.1L107.8 560.9L108.5 560.9L108.5 560.7L109.3 560.7L109.3 564.4L110 564.4L110 569.8L110.8 569.8L110.8 560.7L111.5 560.7L111.5 560.5L112.3 560.5L112.3 568.1L113 568.1L113 566.2L113.8 566.2L113.8 564.9L114.5 564.9L114.5 564.8L115.3 564.8L115.3 579.3zM121.3 579.3L121.3 576.6L122 576.6L122 575.8L122.8 575.8L122.8 576.9L123.5 576.9L123.5 576.3L124.3 576.3L124.3 577L125 577L125 576.6L125.8 576.6L125.8 579.3zM133.3 579.3L133.3 576.1L134.1 576.1L134.1 575.8L134.8 575.8L134.8 575.5L135.6 575.5L135.6 575.6L136.3 575.6L136.3 575.4L137.1 575.4L137.1 572.8L137.8 572.8L137.8 575.7L138.6 575.7L138.6 574.1L139.3 574.1L139.3 575.9L140.1 575.9L140.1 572.4L140.8 572.4L140.8 573.1L141.6 573.1L141.6 571.4L142.3 571.4L142.3 573.3L143.1 573.3L143.1 574.6L143.8 574.6L143.8 573.9L144.6 573.9L144.6 575.2L145.3 575.2L145.3 574.9L146.1 574.9L146.1 576L146.8 576L146.8 576.3L147.6 576.3L147.6 576.1L148.3 576.1L148.3 576.8L149.1 576.8L149.1 576.7L149.8 576.7L149.8 577.1L150.6 577.1L150.6 577.3L151.3 577.3L151.3 567.2L152.1 567.2L152.1 568.9L152.8 568.9L152.8 568.9L153.6 568.9L153.6 571.8L154.3 571.8L154.3 570.2L155.1 570.2L155.1 569L155.8 569L155.8 569.5L156.6 569.5L156.6 571.3L157.3 571.3L157.3 567.3L158.1 567.3L158.1 565.4L158.8 565.4L158.8 573.7L159.6 573.7L159.6 564.4L160.3 564.4L160.3 565L161.1 565L161.1 565.6L161.8 565.6L161.8 566.6L162.6 566.6L162.6 569.2L163.3 569.2L163.3 567.3L164.1 567.3L164.1 568.8L164.8 568.8L164.8 561.5L165.6 561.5L165.6 557.2L166.3 557.2L166.3 566.7L167.1 566.7L167.1 568.2L167.8 568.2L167.8 569.5L168.6 569.5L168.6 567.6L169.3 567.6L169.3 567.8L170.1 567.8L170.1 570L170.8 570L170.8 566.1L171.6 566.1L171.6 569.4L172.3 569.4L172.3 569L173.1 569L173.1 571.1L173.8 571.1L173.8 566.1L174.6 566.1L174.6 568.6L175.3 568.6L175.3 572.9L176.1 572.9L176.1 567L176.8 567L176.8 568.3L177.6 568.3L177.6 565.6L178.3 565.6L178.3 571.1L179.1 571.1L179.1 574.1L179.8 574.1L179.8 569.2L180.6 569.2L180.6 572.5L181.3 572.5L181.3 565.4L182.1 565.4L182.1 565.6L182.8 565.6L182.8 568.5L183.6 568.5L183.6 568.6L184.3 568.6L184.3 569L185.1 569L185.1 579.3zM193.3 579.3L193.3 574.1L194.1 574.1L194.1 572.1L194.8 572.1L194.8 570.4L195.6 570.4L195.6 572.2L196.3 572.2L196.3 571.8L197.1 571.8L197.1 568.9L197.8 568.9L197.8 569.8L198.6 569.8L198.6 570.2L199.3 570.2L199.3 567.9L200.1 567.9L200.1 572.4L200.8 572.4L200.8 571.1L201.6 571.1L201.6 571.9L202.3 571.9L202.3 571.2L203.1 571.2L203.1 570.9L203.8 570.9L203.8 571.3L204.6 571.3L204.6 572.5L205.3 572.5L205.3 569.6L206.1 569.6L206.1 573.7L206.8 573.7L206.8 571.7L207.6 571.7L207.6 572.9L208.3 572.9L208.3 568.2L209.1 568.2L209.1 569.1L209.8 569.1L209.8 568.8L210.6 568.8L210.6 571.7L211.3 571.7L211.3 568.5L212.1 568.5L212.1 567.2L212.8 567.2L212.8 573.2L213.6 573.2L213.6 570.8L214.3 570.8L214.3 565.5L215.1 565.5L215.1 559.6L215.8 559.6L215.8 562.6L216.6 562.6L216.6 579.3zM227.8 579.3L227.8 577.2L228.6 577.2L228.6 577.1L229.3 577.1L229.3 577.1L230.1 577.1L230.1 576.9L230.8 576.9L230.8 577.3L231.6 577.3L231.6 577.3L232.3 577.3L232.3 577.4L233.1 577.4L233.1 577.3L233.8 577.3L233.8 577.1L234.6 577.1L234.6 577.4L235.3 577.4L235.3 576.6L236.1 576.6L236.1 576.6L236.8 576.6L236.8 576.6L237.6 576.6L237.6 577L238.3 577L238.3 576.9L239.1 576.9L239.1 576.3L239.8 576.3L239.8 576.5L240.6 576.5L240.6 576.3L241.3 576.3L241.3 576.2L242.1 576.2L242.1 576.3L242.8 576.3L242.8 576.2L243.6 576.2L243.6 576.2L244.3 576.2L244.3 576.2L245.1 576.2L245.1 576.7L245.8 576.7L245.8 576.8L246.6 576.8L246.6 573.5L247.3 573.5L247.3 575.4L248.1 575.4L248.1 568.5L248.8 568.5L248.8 576.4L249.6 576.4L249.6 575.6L250.3 575.6L250.3 574.4L251.1 574.4L251.1 574.6L251.8 574.6L251.8 573.8L252.6 573.8L252.6 574.4L253.3 574.4L253.3 573.8L254.1 573.8L254.1 573L254.8 573L254.8 579.3zM275.1 579.3L275.1 561.1L275.8 561.1L275.8 566L276.6 566L276.6 566.4L277.3 566.4L277.3 568.9L278.1 568.9L278.1 573.8L278.8 573.8L278.8 572.5L279.6 572.5L279.6 570.8L280.3 570.8L280.3 567.1L281.1 567.1L281.1 565.9L281.8 565.9L281.8 572.1L282.6 572.1L282.6 573.1L283.3 573.1L283.3 574.1L284.1 574.1L284.1 572.4L284.8 572.4L284.8 572.5L285.6 572.5L285.6 570.9L286.3 570.9L286.3 573.6L287.1 573.6L287.1 572.8L287.8 572.8L287.8 573.5L288.6 573.5L288.6 573.3L289.3 573.3L289.3 573.6L290.1 573.6L290.1 571.8L290.8 571.8L290.8 572.7L291.6 572.7L291.6 568.6L292.3 568.6L292.3 571.1L293.1 571.1L293.1 569.3L293.8 569.3L293.8 568.9L294.6 568.9L294.6 569.2L295.3 569.2L295.3 568.7L296.1 568.7L296.1 569.5L296.8 569.5L296.8 572.8L297.6 572.8L297.6 568.7L298.3 568.7L298.3 569.9L299.1 569.9L299.1 568.2L299.8 568.2L299.8 568.6L300.6 568.6L300.6 565.1L301.3 565.1L301.3 565.5L302.1 565.5L302.1 568.6L302.8 568.6L302.8 553.4L303.6 553.4L303.6 557.4L304.3 557.4L304.3 555.3L305.1 555.3L305.1 563.6L305.8 563.6L305.8 567.6L306.6 567.6L306.6 562.7L307.3 562.7L307.3 565.4L308.1 565.4L308.1 579.3zM311.8 579.3L311.8 569.5L312.6 569.5L312.6 570.4L313.3 570.4L313.3 573L314.1 573L314.1 574.3L314.8 574.3L314.8 572.2L315.6 572.2L315.6 574L316.3 574L316.3 569.1L317.1 569.1L317.1 572.6L317.8 572.6L317.8 575.6L318.6 575.6L318.6 573.3L319.3 573.3L319.3 573.2L320.1 573.2L320.1 572L320.8 572L320.8 573.1L321.6 573.1L321.6 573L322.3 573L322.3 576.2L323.1 576.2L323.1 572.9L323.8 572.9L323.8 573.6L324.6 573.6L324.6 568L325.3 568L325.3 567.9L326.1 567.9L326.1 573.5L326.8 573.5L326.8 570.4L327.6 570.4L327.6 569.9L328.3 569.9L328.3 571.4L329.1 571.4L329.1 574.3L329.8 574.3L329.8 576.2L330.6 576.2L330.6 576.1L331.3 576.1L331.3 575.4L332.1 575.4L332.1 575.1L332.8 575.1L332.8 574L333.6 574L333.6 574.1L334.3 574.1L334.3 573L335.1 573L335.1 579.3zM336.6 579.3L336.6 573.3L337.3 573.3L337.3 575.8L338.1 575.8L338.1 575.3L338.8 575.3L338.8 575.4L339.6 575.4L339.6 574.9L340.3 574.9L340.3 575.7L341.1 575.7L341.1 575.7L341.8 575.7L341.8 576.4L342.6 576.4L342.6 576.2L343.3 576.2L343.3 576.8L344.1 576.8L344.1 576.1L344.8 576.1L344.8 576.7L345.6 576.7L345.6 576.3L346.3 576.3L346.3 577.4L347.1 577.4L347.1 576.6L347.8 576.6L347.8 576.7L348.6 576.7L348.6 562.1L349.3 562.1L349.3 559.5L350.1 559.5L350.1 541.9L350.8 541.9L350.8 543.9L351.6 543.9L351.6 543.5L352.3 543.5L352.3 560.1L353.1 560.1L353.1 565.2L353.8 565.2L353.8 559.2L354.6 559.2L354.6 555.9L355.3 555.9L355.3 556.1L356.1 556.1L356.1 564.1L356.8 564.1L356.8 572.7L357.6 572.7L357.6 561.6L358.3 561.6L358.3 555.2L359.1 555.2L359.1 554.1L359.8 554.1L359.8 565.4L360.6 565.4L360.6 554.9L361.3 554.9L361.3 546.6L362.1 546.6L362.1 555.1L362.8 555.1L362.8 554.3L363.6 554.3L363.6 558.2L364.3 558.2L364.3 551.6L365.1 551.6L365.1 560.1L365.8 560.1L365.8 553.8L366.6 553.8L366.6 564.1L367.3 564.1L367.3 568.1L368.1 568.1L368.1 556.5L368.8 556.5L368.8 555.3L369.6 555.3L369.6 563.5L370.3 563.5L370.3 568.2L371.1 568.2L371.1 562.9L371.8 562.9L371.8 567.8L372.6 567.8L372.6 570.4L373.3 570.4L373.3 571.4L374.1 571.4L374.1 570.1L374.8 570.1L374.8 570L375.6 570L375.6 569.7L376.3 569.7L376.3 568.7L377.1 568.7L377.1 571.2L377.8 571.2L377.8 579.3zM380.8 579.3L380.8 576.1L381.6 576.1L381.6 575.9L382.3 575.9L382.3 576.6L383.1 576.6L383.1 576.6L383.8 576.6L383.8 576.7L384.6 576.7L384.6 576.4L385.3 576.4L385.3 576.4L386.1 576.4L386.1 576.8L386.8 576.8L386.8 577L387.6 577L387.6 577.3L388.3 577.3L388.3 579.3zM395.1 579.3L395.1 571.5L395.8 571.5L395.8 579.3zM416.8 579.3L416.8 576.5L417.6 576.5L417.6 575.7L418.3 575.7L418.3 574.9L419.1 574.9L419.1 575.9L419.8 575.9L419.8 575.8L420.6 575.8L420.6 575.1L421.3 575.1L421.3 574.2L422.1 574.2L422.1 574.8L422.8 574.8L422.8 573.7L423.6 573.7L423.6 573.7L424.3 573.7L424.3 574.1L425.1 574.1L425.1 573.6L425.8 573.6L425.8 573.7L426.6 573.7L426.6 574.9L427.3 574.9L427.3 572.8L428.1 572.8L428.1 577.2L428.8 577.2L428.8 577.2L429.6 577.2L429.6 577L430.3 577L430.3 577.5L431.1 577.5L431.1 577.8L431.8 577.8L431.8 579.3zM452.1 579.3L452.1 574.7L452.8 574.7L452.8 574.6L453.6 574.6L453.6 573.2L454.3 573.2L454.3 571.6L455.1 571.6L455.1 572.4L455.8 572.4L455.8 574L456.6 574L456.6 571.4L457.3 571.4L457.3 572.6L458.1 572.6L458.1 570.8L458.8 570.8L458.8 571L459.6 571L459.6 568.9L460.3 568.9L460.3 567.1L461.1 567.1L461.1 579.3zM464.1 579.3L464.1 566.1L464.8 566.1L464.8 570.7L465.6 570.7L465.6 568.8L466.3 568.8L466.3 571.9L467.1 571.9L467.1 568L467.8 568L467.8 564.5L468.6 564.5L468.6 564.6L469.3 564.6L469.3 564.7L470.1 564.7L470.1 579.3zM476.1 579.3L476.1 574.3L476.8 574.3L476.8 574.5L477.6 574.5L477.6 574.7L478.3 574.7L478.3 565.6L479.1 565.6L479.1 566.9L479.8 566.9L479.8 562.8L480.6 562.8L480.6 567.3L481.3 567.3L481.3 557.8L482.1 557.8L482.1 557.9L482.8 557.9L482.8 552.9L483.6 552.9L483.6 555.3L484.3 555.3L484.3 564.8L485.1 564.8L485.1 566.3L485.8 566.3L485.8 558L486.6 558L486.6 556.5L487.3 556.5L487.3 558.6L488.1 558.6L488.1 560.7L488.8 560.7L488.8 572.8L489.6 572.8L489.6 561.7L490.3 561.7L490.3 567.7L491.1 567.7L491.1 563.1L491.8 563.1L491.8 564.5L492.6 564.5L492.6 569.7L493.3 569.7L493.3 570.3L494.1 570.3L494.1 574.1L494.8 574.1L494.8 567.4L495.6 567.4L495.6 570.1L496.3 570.1L496.3 559.4L497.1 559.4L497.1 561.1L497.8 561.1L497.8 561.7L498.6 561.7L498.6 563L499.3 563L499.3 557.1L500.1 557.1L500.1 566.7L500.8 566.7L500.8 567.5L501.6 567.5L501.6 570.6L502.3 570.6L502.3 569.4L503.1 569.4L503.1 572L503.8 572L503.8 572.4L504.6 572.4L504.6 573.8L505.3 573.8L505.3 579.3zM529.3 579.3L529.3 576L530 576L530 576.5L530.8 576.5L530.8 576.2L531.5 576.2L531.5 576.4L532.3 576.4L532.3 575.4L533 575.4L533 575.4L533.8 575.4L533.8 576.2L534.5 576.2L534.5 576.3L535.3 576.3L535.3 575.9L536 575.9L536 576L536.8 576L536.8 575.8L537.5 575.8L537.5 575.9L538.3 575.9L538.3 576.5L539 576.5L539 575.7L539.8 575.7L539.8 575.9L540.5 575.9L540.5 575.7L541.3 575.7L541.3 576.6L542 576.6L542 579.3zM553.3 579.3L553.3 575.6L554 575.6L554 575.2L554.8 575.2L554.8 575.2L555.5 575.2L555.5 575.7L556.3 575.7L556.3 579.3z"/>
<path fill="none" stroke="#E8574B" stroke-width="0.8" d="M31.3 513.4H556.3M31.3 557.3H556.3"/><path fill="none" stroke="#E8574B" stroke-width="0.8" stroke-dasharray="3 3" d="M31.3 521.2H556.3M31.3 565H556.3"/>
<text x="560.5" y="595.2" font-size="5.6" fill="#333">1.5</text>
<text x="560.5" y="604.4" font-size="5.6" fill="#333">1.0</text>
<text x="560.5" y="613.6" font-size="5.6" fill="#333">0.5</text>
<text x="560.5" y="622.7" font-size="5.6" fill="#333">0.0</text>
<text x="560.5" y="631.9" font-size="5.6" fill="#333">−0.5</text>
<text x="560.5" y="641" font-size="5.6" fill="#333">−1.0</text>
<path fill="none" stroke="#222" stroke-width="0.7" d="M30.5 527.3H556.3M30.5 579.3H556.3"/><path fill="none" stroke="#444" stroke-width="0.6" d="M30.5 505.5V527.3M30.5 534.3V579.3M30.5 585.9V641.9M556.8 585.9V641.9"/><path fill="none" stroke="#444" stroke-width="0.5" d="M28.6 527.3H30.5M28.6 516.4H30.5M28.6 505.5H30.5M28.6 579.3H30.5M28.6 568.3H30.5M28.6 557.3H30.5M28.6 546.3H30.5M28.6 535.3H30.5M28.6 593.2H30.5M556.8 593.2H558.7M28.6 602.4H30.5M556.8 602.4H558.7M28.6 611.6H30.5M556.8 611.6H558.7M28.6 620.7H30.5M556.8 620.7H558.7M28.6 629.9H30.5M556.8 629.9H558.7M28.6 639H30.5M556.8 639H558.7"/>
<g font-size="6" fill="#333" text-anchor="end"><text x="27.3" y="529.4">0</text><text x="27.3" y="518.5">1</text><text x="27.3" y="507.6">2</text><text x="27.3" y="581.4">0</text><text x="27.3" y="570.4">1</text><text x="27.3" y="559.4">2</text><text x="27.3" y="548.4">3</text><text x="27.3" y="537.4">4</text><text x="27.3" y="595.4">1.5</text><text x="27.3" y="604.5">1.0</text><text x="27.3" y="613.7">0.5</text><text x="27.3" y="622.8">0.0</text><text x="27.3" y="632">−0.5</text><text x="27.3" y="641.1">−1.0</text></g>
<g font-size="5.4" fill="#E8574B"><text x="556.6" y="510.3">Q value</text><text x="560" y="515.5">0.05</text><text x="560" y="523.3">0.25</text><text x="556.6" y="539.3">P value</text><text x="560" y="559.8">0.01</text><text x="560" y="567.5">0.05</text></g>
<text transform="translate(11.6,513.7) rotate(-90)" font-size="5.8" fill="#222" text-anchor="middle">−log10 Q value</text>
<text transform="translate(11.6,560) rotate(-90)" font-size="5.8" fill="#222" text-anchor="middle">−log10 P value</text>
<text transform="translate(11.6,614.7) rotate(-90)" font-size="5.8" fill="#222" text-anchor="middle">Avg log2 seg mean</text>
<path stroke="#C8C8C8" stroke-width="0.7" d="M31.3 620.7H556.3"/>
<path fill="none" stroke="#C8B560" stroke-width="1.0" d="M31.3 622.7L32.2 622.3L33.2 623.4L34.1 623.1L35.1 621.9L36 623.1L36.9 623.2L37.9 623.3L38.8 622L39.8 622.5L40.7 622.5L41.6 622.1L42.6 622.5L43.5 622.4L44.5 622.9L45.4 622.7L46.4 622.9L47.3 622.9L48.2 623.9L49.2 623.4L50.1 623.6L51.1 623.7L52 623.5M53 620.7L54.5 618.4L56 616.1M56 616L57 615.4L58 616.8L58.9 615.9L59.9 615.3L60.9 615.2L61.9 615.7L62.9 615.8L63.8 617.1L64.8 616.5L65.8 616.2L66.8 615.9L67.7 615.9L68.7 617.3L69.7 616.4L70.7 616L71.7 616.5L72.6 616.3L73.6 615.9L74.6 616M74.6 621.5L75.5 621.2L76.4 621L77.4 621.8L78.3 622.2L79.2 622L80.1 621.9L81.1 621.6L82 622.4L82.9 622L83.8 621.8L84.7 620.9L85.7 621.4L86.6 621.7L87.5 621.2L88.4 621.5L89.3 621.5L90.3 621.1L91.2 621.4L92.1 621.5L93 621.3L94 621.9L94.9 621.6L95.8 622.7L96.7 621.8L97.6 620.8L98.6 621.8L99.5 621.6L100.4 621.8L101.3 622.1L102.3 621.4L103.2 621.6L104.1 621.1L105 622.1L105.9 621.6L106.9 621.8L107.8 621.9L108.7 621.1L109.6 622L110.5 622L111.5 620.3L112.4 621.7L113.3 621.7L114.2 621.4L115.2 622.1L116.1 621.4L117 622.2M117 620.9L117.9 621L118.9 620L119.8 620.4L120.7 619.8L121.6 619.8L122.6 621L123.5 620.4L124.4 620.9L125.3 621L126.3 620.1L127.2 620L128.1 620.6L129.1 620.5L130 620.5L130.9 620.5L131.8 620.5L132.8 621.2L133.7 620.4L134.6 621L135.5 621.3L136.5 620.8L137.4 620.6L138.3 620.3L139.2 620.5L140.2 620.5L141.1 621L142 620.5L143 620.6L143.9 620.5L144.8 621.1L145.7 619.8L146.7 620.3L147.6 620.4L148.5 620.7L149.4 620.8L150.4 620.2L151.3 621.4M151.3 624.6L152.2 624.5L153.2 624.1L154.1 624.6L155.1 623.7L156 625.3L157 623.6L157.9 624.3L158.8 624L159.8 624.7L160.7 623.9L161.7 624.6L162.6 624.4L163.5 625.3L164.5 624.2L165.4 624.5L166.4 625.5L167.3 624.6L168.2 624.7L169.2 624.1L170.1 624.9L171.1 624.5L172 623.9L173 625L173.9 623.6L174.8 624.5L175.8 624.7L176.7 625.3L177.7 625.6L178.6 624.2L179.5 624.9L180.5 625L181.4 624.1L182.4 624.4L183.3 624.6L184.3 625.5L185.2 625.7M185.2 619.3L186.3 620L187.5 620.2L188.6 619.3L189.7 620.6L190.9 620.4L192 619.6M192 625L193 625.6L193.9 625.7L194.9 624.7L195.8 625.9L196.8 624.8L197.7 624.4L198.7 625.3L199.6 624.8L200.6 625.2L201.5 624.5L202.5 625.1L203.4 625.6L204.4 625.1L205.4 625.2L206.3 625.6L207.3 625.4L208.2 625.9L209.2 625.7L210.1 624.9L211.1 626.2L212 625.1L213 625.3L213.9 625.6L214.9 624.5L215.8 624.9L216.8 625.6M216.8 617.3L217.8 617L218.9 618.3L219.9 617.5L220.9 617.8L221.9 617.5L222.9 616.7L224 618.2L225 618.1M225 623.1L226.2 623.8L227.5 625L228.8 627.9L230 627.3M230 629L231 631.2L232 630.6L232.9 629.6L233.9 629.8L234.9 629.2L235.9 630L236.9 629.2L237.9 630.5L238.8 629.6L239.8 630.1L240.8 630.1L241.8 630.7L242.8 630L243.8 629.1L244.7 630.2L245.7 630L246.7 629.8M246.7 616.6L247.7 615.9L248.8 615.6L249.8 615.9L250.8 616.6L251.9 614.7L252.9 615.4L254 615.3L255 615.3M255 614.6L255.9 615L256.9 614L257.8 613.8L258.8 613.2L259.7 612.8L260.7 613.9L261.6 612.5L262.6 613.2L263.5 612.8L264.5 613.5L265.4 612.7L266.4 613.2L267.3 612.2L268.3 613.1L269.2 612.3L270.2 612.4L271.1 611.9L272.1 611.8L273 611.7L274 611.9L274.9 611.1M274.9 625.9L276.1 626.6L277.3 625.8L278.4 626.5L279.6 626.1L280.8 626.2L282 626.2M282 613.8L283 615.1L283.9 613.5L284.9 615L285.9 613.3L286.8 613.6L287.8 614.6L288.7 613.6L289.7 613.9L290.7 614.3L291.6 612.9L292.6 612.9L293.6 613.2L294.5 612.5L295.5 613.2L296.4 613.4L297.4 612.5L298.4 613.5L299.3 612.6L300.3 612.4M300.3 626L301.4 625.7L302.6 625.1L303.7 624.9L304.9 625L306 626.1M306 621.8L307.2 622.3L308.4 621L309.6 621.8L310.8 621.4L312 621.2M312 624.7L313 625.8L314 624.2L315 624.9L316 625.2L317 626L318 624.6L318.9 625.4L319.9 625.2L320.9 626L321.9 624.9L322.9 625.2L323.9 626.1L324.9 625.1M324.9 631.2L325.8 630.3L326.8 630.4L327.7 630.5L328.7 631.2L329.6 631.1L330.5 630.4L331.5 630.4L332.4 631L333.4 631.2L334.3 631.4L335.2 630.4L336.2 631.2L337.1 631.5L338.1 632.2L339 632.2L339.9 631.9L340.9 632.4L341.8 631.6L342.8 631.6L343.7 632L344.6 631.7L345.6 631.6L346.5 632.5L347.5 631.3L348.4 633.1M348.4 623.3L349.4 625.1L350.3 624.3L351.3 624.5L352.2 624.2L353.2 624.8L354.1 624.1L355.1 625.2L356 624L357 624.5L357.9 624.2L358.9 623.8L359.8 625L360.8 624.7L361.7 624.8L362.7 624.4L363.6 624.3L364.6 624L365.5 624.3L366.5 624.4L367.4 624.1L368.4 623.8L369.3 623.9L370.3 623.3L371.2 624.7L372.2 624.2M372.2 623.2L373.1 622.9L374.1 622.2L375 621.9L376 622.8L376.9 622.3L377.8 622.5L378.8 622.3L379.7 622.4L380.7 622.8L381.6 623.7L382.5 623.3L383.5 622.3L384.4 622.6L385.4 621.5L386.3 622.5L387.2 622.1L388.2 623.1L389.1 623.3L390.1 622.4L391 621.7L391.9 622.3L392.9 622.7L393.8 622.3L394.8 622.2L395.7 622.3M395.7 620.7L396.7 621.2L397.7 621.3L398.7 621L399.7 620.8L400.6 621.4L401.6 619.9L402.6 620.4L403.6 621L404.6 620.3L405.6 619.4L406.6 620.6L407.6 620.6L408.6 620.2L409.6 621.4L410.5 621L411.5 621.1L412.5 620.3L413.5 621.6L414.5 620.5M414.5 622.8L415.5 622.7L416.4 622.8L417.4 621.8L418.4 623L419.4 623.1L420.3 622.4L421.3 622.8L422.3 622.3L423.2 622.6L424.2 622.5L425.2 622.5L426.2 623.4L427.1 623.6L428.1 621.5L429.1 623.1L430.1 622.3L431 623.1L432 622.6M432 626.3L433 625.4L433.9 626.3L434.9 627L435.8 626.9L436.8 626L437.8 625.7L438.7 625.2L439.7 625.1L440.6 626.9L441.6 626.3L442.5 626.8L443.5 626L444.5 625.8L445.4 627.1L446.4 625.8L447.3 625.8L448.3 626.3M448.3 621.9L449.3 620.8L450.3 621.8L451.3 622.3L452.3 621.8L453.3 621.4L454.3 621.6L455.3 623L456.2 622.8L457.2 622.3L458.2 622.1L459.2 622.2L460.2 623L461.2 621.9L462.2 622.2L463.2 623.3L464.2 623M464.2 623.5L465.2 623.8L466.2 622.6L467.2 622.2L468.2 622.1L469.2 621.2L470.2 620.2L471.2 621L472.2 620.1L473.2 620.1L474.2 618.7L475.2 618.5L476.2 618.7L477.2 618.7L478.2 617.6M478.2 625.3L479.2 625.9L480.1 625.8L481.1 625.4L482 624.2L483 624.7L484 624.6L484.9 624.8L485.9 624.6L486.8 624.5L487.8 625.8L488.8 625L489.7 624.9L490.7 625L491.6 625.1L492.6 626.6M492.6 622.4L493.6 623L494.6 621.7L495.6 622.2L496.6 621.9L497.6 621.6L498.6 622.5L499.6 621.3L500.6 621.7L501.6 620.4L502.6 621M502.6 619.5L503.6 617.8L504.6 618.2L505.6 618.1L506.6 617.3L507.6 616.9L508.5 616.3L509.5 616.5L510.5 615L511.5 615L512.5 613.9L513.5 614M513.5 626.7L514.6 625.4L515.7 625.8L516.8 625.4L517.9 626.4L519 625.5L520.1 623.9L521.2 623.8M521.2 617L522.2 616.1L523.3 616.2L524.3 615.8L525.4 617.1L526.4 617.6L527.4 616.6L528.5 617.3L529.5 617.3M529.5 621.5L530.5 620.4L531.4 621.5L532.4 620.5L533.3 620.6L534.3 621.3L535.2 620.4L536.2 620.2L537.2 620.7L538.1 620.9L539.1 620.4L540 621.2L541 620.5L541.9 619.9L542.9 621.4L543.9 621.6L544.8 620.3L545.8 621.1L546.7 620.8L547.7 620.5L548.6 620.9L549.6 620.4L550.6 621L551.5 620.7L552.5 620.5L553.4 620.1L554.4 620.6L555.3 620.2L556.3 620"/>
<path fill="none" stroke="#A3204F" stroke-width="1.0" d="M31.3 618.2L32.4 618.7L33.5 618.1L34.6 619.4L35.6 618.6L36.7 618.8L37.8 619L38.9 619.9L40 619.3M40 620.4L41 621.5L42 621.3L43 622L44 621.4L45 621.1L46 621.6L47 622.8L48 623L49 622.8L50 623.1L51 622.8L52 623.6M53 616.8L54.5 617.5L56 616.5M56 618.7L57 618.3L58 618.1L58.9 617.8L59.9 618.1L60.9 618.9L61.9 619.2L62.9 618.6L63.8 618.8L64.8 619L65.8 618.9L66.8 619.7L67.7 618.8L68.7 618.7L69.7 619.7L70.7 619.8L71.7 618.8L72.6 619L73.6 620.1L74.6 620.1M74.6 621.6L75.6 620.5L76.5 620.7L77.5 620.8L78.5 619.7L79.5 621L80.4 621L81.4 620.9L82.4 621.1L83.3 620.5L84.3 621.2L85.3 621.1L86.3 620.1L87.2 621.5L88.2 621.9L89.2 621.3L90.1 621.7L91.1 621.7L92.1 621.3L93.1 621.1L94 622.3L95 621.7M95 623.9L96 622.4L96.9 623.4L97.9 622.6L98.8 622L99.8 622.2L100.7 622.7L101.7 623.9L102.7 621.9L103.6 623.1L104.6 622.5L105.5 623.1L106.5 623L107.4 622.1L108.4 623.7L109.3 623.5L110.3 623L111.3 622.4L112.2 624.2L113.2 622.2L114.1 623.1L115.1 622.5L116 621.5L117 622.6M117 620.5L118 620.4L119 621.2L120 621L121 621.1L122 621L123 621.2L124 621.3L125 621.4L126 620.7M126 614.1L127.3 614.5L128.7 615.1L130 617.7M130 620.7L131 619.4L131.9 620.2L132.9 620.2L133.9 619.5L134.8 619.6L135.8 620.1L136.8 620L137.7 620.5L138.7 620.1L139.7 619.8L140.7 619.5L141.6 619.5L142.6 618.9L143.6 619.8L144.5 619.3L145.5 619.6L146.5 620.3L147.4 619.6L148.4 619.6L149.4 619.4L150.3 619.5L151.3 619.7M151.3 626.6L152.2 626.3L153.2 626L154.1 625.9L155.1 625.8L156 626L157 625.9L157.9 625.5L158.8 626.1L159.8 626.5L160.7 626.9L161.7 626.2L162.6 625.9L163.5 626.4L164.5 625.4L165.4 626.6L166.4 626.4L167.3 626.2L168.2 626.8L169.2 625.7L170.1 626.6L171.1 626.8L172 627.1L173 625.7L173.9 625.5L174.8 626.7L175.8 626.9L176.7 626.4L177.7 626.2L178.6 626.5L179.5 626L180.5 626.8L181.4 625.1L182.4 626L183.3 625.7L184.3 626.4L185.2 625.7M185.2 618.9L186.3 620.3L187.5 620L188.6 619.7L189.7 620.2L190.9 621L192 620.9M192 625L193 625.1L193.9 625.6L194.9 625L195.8 626.3L196.8 625.1L197.7 624.7L198.7 624.7L199.6 625.3L200.6 625L201.5 625L202.5 625.1L203.4 625.4L204.4 625.7L205.4 625.3L206.3 625.6L207.3 626.1L208.2 624.4L209.2 625.7L210.1 625.3L211.1 625.3L212 625.8L213 624.8L213.9 625.8L214.9 624L215.8 625.6L216.8 625.3M216.8 616.9L217.8 616.9L218.9 616.9L219.9 616.4L220.9 616.3L221.9 615.8L222.9 617.6L224 616.4L225 616.7M225 620.8L226.2 622.7L227.5 622.2L228.8 624.2L230 627.1M230 625.9L231 626.5L232 626.6L232.9 626.4L233.9 627.1L234.9 626.9L235.9 626.3L236.9 627.5L237.9 627.6L238.8 627.8L239.8 626.5L240.8 627.5L241.8 627.2L242.8 627.3L243.8 626.7L244.7 626.9L245.7 627.5L246.7 626.4M246.7 615.3L247.7 615.4L248.8 615.8L249.8 615.7L250.8 615.7L251.9 615.6L252.9 615.3L254 615.3L255 615.7M255 612.5L255.9 611.9L256.9 611.5L257.8 611.3L258.8 611.8L259.7 612.2L260.7 611.3L261.6 611.1L262.6 611L263.5 610.6L264.5 611L265.4 610.5L266.4 611.6L267.3 609.3L268.3 610L269.2 610L270.2 609.4L271.1 609.6L272.1 609.7L273 608.7L274 608.9L274.9 609.1M274.9 624.9L276.1 624.9L277.3 624.8L278.4 625L279.6 624.1L280.8 625L282 623.9M282 620.8L283 622L283.9 621.4L284.9 622.4L285.9 621.4L286.8 622.3L287.8 622L288.7 621.2L289.7 620.7L290.7 620.9L291.6 621.2L292.6 621.5L293.6 621L294.5 619.7L295.5 620.2L296.4 621.6L297.4 621.2L298.4 621.5L299.3 620.5L300.3 620.9M300.3 632.5L301.4 631L302.6 630.5L303.7 630L304.9 628.9L306 627.6M306 621.2L307.2 620.9L308.4 621.4L309.6 620.9L310.8 620L312 620.4M312 623.3L313 623.3L314 622.3L315 623.1L316 623.3L317 622.5L318 623.4L318.9 623.6L319.9 623L320.9 623.9L321.9 623.5L322.9 623.7L323.9 623.3L324.9 623.5M324.9 625.2L325.8 625.8L326.8 626.1L327.7 625.9L328.7 626.3L329.6 626L330.5 625.8L331.5 625.9L332.4 625.4L333.4 625.9L334.3 626.5L335.2 626L336.2 626.7L337.1 625.1L338.1 627.1L339 626.2L339.9 625.9L340.9 626.6L341.8 626.4L342.8 625.6L343.7 626.8L344.6 625.7L345.6 626.3L346.5 626.3L347.5 625.1L348.4 625.8M348.4 624.1L349.5 624.6L350.6 624.5L351.7 624.8L352.7 623.9L353.8 624.9L354.9 625.5L356 625.5M356 625.9L357 626.8L358 626.7L359 627.2L360.1 627.6L361.1 625.3L362.1 626.6L363.1 625.6L364.1 626.3L365.1 626.5L366.1 627.3L367.1 626.8L368.1 626.7L369.2 627.4L370.2 626.6L371.2 626.4L372.2 626.8M372.2 622.4L373.1 623.4L374.1 621L375 622.1L376 623.1L376.9 623.1L377.8 622.8L378.8 623L379.7 622.5L380.7 622.9L381.6 622.4L382.5 622.7L383.5 622.6L384.4 623.1L385.4 622.4L386.3 622.3L387.2 622.9L388.2 623.3L389.1 622.5L390.1 623.4L391 622.9L391.9 622.3L392.9 621.8L393.8 622.6L394.8 622.3L395.7 621.8M395.7 625.8L396.7 625.5L397.7 625.1L398.7 624.6L399.7 625.9L400.6 625.9L401.6 624.7L402.6 624.6L403.6 625.6L404.6 625.2L405.6 624.8L406.6 625.4L407.6 626.2L408.6 625.1L409.6 624.8L410.5 625.9L411.5 624.6L412.5 625.4L413.5 626.2L414.5 625.2M414.5 623.3L415.5 621.8L416.4 622.3L417.4 621.6L418.4 623.4L419.4 622.5L420.3 621.8L421.3 621.9L422.3 622.2L423.2 622.3L424.2 622.2L425.2 622L426.2 621.6L427.1 623.4L428.1 623L429.1 622.8L430.1 622.4L431 622.3L432 622.7M432 617.1L433 616.6L433.9 616.4L434.9 617.4L435.8 617.2L436.8 617L437.8 615.7L438.7 617.4L439.7 616.9L440.6 617L441.6 617.3L442.5 616.6L443.5 617.1L444.5 617.3L445.4 617L446.4 616.9L447.3 617.4L448.3 617.4M448.3 621L449.4 621.9L450.5 621.1L451.6 621.7L452.8 622.1L453.9 622.2L455 622.5M455 624L456 624.3L457 625L458.1 625.6L459.1 625.5L460.1 625.3L461.1 625L462.2 626.2L463.2 626.9L464.2 626.1M464.2 624.6L465.2 624.3L466.2 624.2L467.2 622.4L468.2 621.3L469.2 622L470.2 621.7L471.2 620.6L472.2 619.9L473.2 618.9L474.2 618.5L475.2 618.8L476.2 617.2L477.2 616.6L478.2 616.5M478.2 625.2L479.2 626.1L480.1 625.5L481.1 626.1L482 625.4L483 625L484 626.4L484.9 625.3L485.9 625L486.8 625.2L487.8 624.5L488.8 625.4L489.7 624.2L490.7 625.3L491.6 626L492.6 625.4M492.6 623L493.6 621.8L494.6 621.4L495.6 621.2L496.6 621.5L497.6 621.7L498.6 621.8L499.6 621.9L500.6 620.8L501.6 621.6L502.6 620.9M502.6 618.8L503.6 618.2L504.6 618.6L505.6 618.1L506.6 617.5L507.6 616L508.5 616.5L509.5 615.9L510.5 614.6L511.5 613.9L512.5 612.9L513.5 613.4M513.5 624.8L514.6 626.1L515.7 624.7L516.8 624.5L517.9 624.3L519 624.9L520.1 623.8L521.2 623.5M521.2 614.3L522.2 614.4L523.3 614.7L524.3 614.8L525.4 614.8L526.4 615.5L527.4 615.7L528.5 615.2L529.5 615.5M529.5 621.7L530.5 622.2L531.4 622.6L532.4 623L533.3 622.2L534.3 622.5L535.2 622.9L536.2 620.9L537.2 622.9L538.1 621L539.1 620.2L540 621.7L541 621.9L541.9 621.3L542.9 622.1L543.9 621.5L544.8 621.1L545.8 622.1L546.7 620.7L547.7 621.4L548.6 621.2L549.6 620.6L550.6 622L551.5 621.9L552.5 621.1L553.4 621L554.4 621.3L555.3 621.2L556.3 621.2"/>
<path fill="none" stroke="#2C3E9C" stroke-width="1.0" d="M31.3 622.1L32.2 622.4L33.2 622.2L34.1 621.8L35.1 621.7L36 622.7L36.9 621.2L37.9 621L38.8 622.2L39.8 622.8L40.7 622.5L41.6 622.1L42.6 622.7L43.5 621.7L44.5 622.9L45.4 622.4L46.4 622.7L47.3 621.9L48.2 622.9L49.2 622.9L50.1 623.7L51.1 623.5L52 624.1M53 616.3L54.5 617.9L56 618.1M56 618.8L57 618.7L58 618.7L58.9 619.9L59.9 618.4L60.9 619.1L61.9 619.2L62.9 618.3L63.8 619.1L64.8 619.7L65.8 619.8L66.8 619L67.7 619.4L68.7 619.4L69.7 620.2L70.7 619.5L71.7 620L72.6 620.1L73.6 619.1L74.6 619.6M74.6 621.2L75.5 620.6L76.4 620.1L77.4 621.9L78.3 620.6L79.2 621L80.1 621.2L81.1 620.4L82 620.7L82.9 621.4L83.8 620.5L84.7 621.3L85.7 621.2L86.6 621.9L87.5 621.2L88.4 620.9L89.3 621.4L90.3 621.2L91.2 620.6L92.1 621.4L93 621.6L94 620.4L94.9 621.7L95.8 622.6L96.7 622L97.6 621.5L98.6 622L99.5 622L100.4 621.7L101.3 621.5L102.3 621.6L103.2 621.4L104.1 620.9L105 619.7L105.9 620.8L106.9 621.1L107.8 621.8L108.7 621.4L109.6 622.1L110.5 621.5L111.5 622.1L112.4 621L113.3 620.5L114.2 621.1L115.2 620.2L116.1 622.2L117 621.1M117 621.1L117.9 620.9L118.9 621.6L119.8 621L120.7 621L121.6 621.3L122.6 620.3L123.5 620.5L124.4 620.3L125.3 621.2L126.3 621.2L127.2 621.4L128.1 620.4L129.1 620.3L130 620.8L130.9 621.1L131.8 620.7L132.8 620.5L133.7 620.4L134.6 620.8L135.5 620.1L136.5 620L137.4 621.1L138.3 620.4L139.2 620.5L140.2 621.2L141.1 620.8L142 620.4L143 619.9L143.9 620.8L144.8 620.7L145.7 620.5L146.7 620.6L147.6 621.1L148.5 619.9L149.4 620.5L150.4 620.1L151.3 620M151.3 624.2L152.2 624.5L153.2 624.3L154.1 624.2L155.1 624.4L156 624.1L157 624.7L157.9 624.2L158.8 624.3L159.8 623.9L160.7 623.7L161.7 623L162.6 623.4L163.5 623.6L164.5 624L165.4 623.9L166.4 623.8L167.3 624.1L168.2 623.9L169.2 624.4L170.1 623.8L171.1 624.4L172 624.2L173 624.2L173.9 622.6L174.8 623.9L175.8 623.5L176.7 624.6L177.7 623.7L178.6 624.1L179.5 623.5L180.5 624.2L181.4 624.5L182.4 623.6L183.3 623.9L184.3 624.6L185.2 624M185.2 620.2L186.3 619.5L187.5 620L188.6 620L189.7 620.8L190.9 619.8L192 621M192 623.3L193 623.5L193.9 623.4L194.9 624L195.8 623.4L196.8 623.2L197.7 624.1L198.7 622.9L199.6 623.9L200.6 623.7L201.5 623.7L202.5 622.8L203.4 623.7L204.4 623.6L205.4 623.2L206.3 623.3L207.3 622.8L208.2 623.6L209.2 623.7L210.1 623.8L211.1 623.8L212 623L213 623.1L213.9 623.6L214.9 623.5L215.8 624.6L216.8 623M216.8 615.3L217.8 616.8L218.9 616.2L219.9 616.1L220.9 615.5L221.9 616.3L222.9 616L224 616L225 616.6M225 621.2L226.2 622.7L227.5 623.6L228.8 624.4L230 625.9M230 627.4L231 626.3L232 627.2L232.9 627L233.9 626.3L234.9 626.7L235.9 627.1L236.9 627.2L237.9 626.8L238.8 626.8L239.8 627L240.8 627.3L241.8 626.7L242.8 626.5L243.8 627.6L244.7 626.7L245.7 627.4L246.7 627.2M246.7 614.7L247.7 615.8L248.8 615.2L249.8 614.3L250.8 614.4L251.9 615.5L252.9 615.7L254 614.5L255 615M255 617.2L255.9 618.2L256.9 617.3L257.8 618.1L258.8 617.5L259.7 616.4L260.7 616.7L261.6 616.5L262.6 617.3L263.5 617.2L264.5 617.6L265.4 616.3L266.4 617.6L267.3 618.1L268.3 617.6L269.2 616.8L270.2 617.6L271.1 617.3L272.1 618.1L273 617.7L274 618L274.9 618M274.9 622.6L276.1 622.2L277.3 621.5L278.4 622.2L279.6 623.1L280.8 623.1L282 623.3M282 619.8L283 620.3L283.9 619.9L284.9 620.4L285.9 619L286.8 619.9L287.8 619.4L288.7 619.9L289.7 618.6L290.7 620.5L291.6 619.5L292.6 619L293.6 619.8L294.5 619.2L295.5 619.8L296.4 619.1L297.4 619.7L298.4 618.8L299.3 620.5L300.3 619.3M300.3 624.5L301.4 624.1L302.6 623.3L303.7 623.5L304.9 623.2L306 622.2M306 621.2L307.2 620.8L308.4 620.1L309.6 621.1L310.8 620L312 621.2M312 622.3L313 622.4L314 623.2L315 622.1L316 623.2L317 621.8L318 621.7L318.9 622.8L319.9 622.4L320.9 622.6L321.9 623.2L322.9 622.9L323.9 622.5L324.9 622.5M324.9 625.5L325.8 626.4L326.8 626.4L327.7 625.8L328.7 625.7L329.6 626.3L330.5 626L331.5 626.4L332.4 626.2L333.4 627.2L334.3 627.1L335.2 625.7L336.2 626.5L337.1 626.7L338.1 625.9L339 625.1L339.9 625.6L340.9 625.9L341.8 626.1L342.8 625.2L343.7 625.2L344.6 626L345.6 626.3L346.5 626.1L347.5 625.8L348.4 626.2M348.4 619.1L349.4 619.1L350.3 619.6L351.3 619.1L352.2 618.8L353.2 619.7L354.1 619.5L355.1 618.6L356 619.5L357 619L357.9 619.8L358.9 620.3L359.8 619.1L360.8 619L361.7 619.2L362.7 619.4L363.6 618.7L364.6 619.6L365.5 619.9L366.5 619.4L367.4 619.1L368.4 619.5L369.3 619.1L370.3 618.9L371.2 620.1L372.2 619.8M372.2 622.7L373.1 622.2L374.1 623.4L375 622L376 623.2L376.9 622.3L377.8 622.7L378.8 622.8L379.7 622.2L380.7 623.2L381.6 622.2L382.5 622.7L383.5 623.2L384.4 622L385.4 623.2L386.3 622.2L387.2 622.7L388.2 622.7L389.1 621.8L390.1 622.4L391 622.7L391.9 622.1L392.9 622.8L393.8 621.7L394.8 622.9L395.7 622.3M395.7 626.5L396.7 625.8L397.7 626.7L398.7 626.2L399.7 625.8L400.6 626.9L401.6 626.3L402.6 626L403.6 626.5L404.6 626.4L405.6 625.9L406.6 625.8L407.6 627L408.6 626.7L409.6 627.6L410.5 626.3L411.5 625.9L412.5 626.7L413.5 626.9L414.5 626M414.5 622.9L415.5 621.5L416.4 621.8L417.4 623.5L418.4 622.2L419.4 622.2L420.3 622.2L421.3 622.6L422.3 623.3L423.2 622.5L424.2 622.9L425.2 621.7L426.2 622.3L427.1 621.9L428.1 623.1L429.1 622.6L430.1 622.7L431 623L432 622.8M432 622.5L433 621.6L433.9 622.2L434.9 621.6L435.8 621.5L436.8 621.8L437.8 622.1L438.7 621.3L439.7 621.3L440.6 622L441.6 621.2L442.5 623.1L443.5 621.6L444.5 621.5L445.4 621.7L446.4 622.6L447.3 621.7L448.3 621.2M448.3 620.6L449.3 621.5L450.3 620.9L451.3 620.1L452.3 620.3L453.3 620.3L454.3 621.1L455.3 620.8L456.2 621.2L457.2 621.3L458.2 621.9L459.2 621.4L460.2 620.9L461.2 621.4L462.2 622.5L463.2 621.3L464.2 622.2M464.2 622.3L465.2 622.7L466.2 621.2L467.2 621.9L468.2 621L469.2 622L470.2 621.1L471.2 620.7L472.2 621.2L473.2 620.5L474.2 620.2L475.2 619.6L476.2 619.4L477.2 620L478.2 618.3M478.2 619.5L479.2 620.1L480.1 619.3L481.1 619.9L482 620.1L483 620.5L484 621.2L484.9 619.7L485.9 619.2L486.8 619.5L487.8 619.5L488.8 618.8L489.7 620.6L490.7 619.4L491.6 618.8L492.6 619.9M492.6 621.5L493.6 622.5L494.6 622.5L495.6 623L496.6 621.5L497.6 621.2L498.6 621.1L499.6 621.1L500.6 620.7L501.6 621L502.6 621.5M502.6 618.7L503.6 618.2L504.6 616.8L505.6 618.1L506.6 617.4L507.6 618.1L508.5 617.8L509.5 617.1L510.5 615.4L511.5 615.8L512.5 615.5L513.5 615.5M513.5 627L514.6 626.4L515.7 626.3L516.8 626.3L517.9 626L519 625.6L520.1 625.2L521.2 625.1M521.2 617.2L522.2 617.9L523.3 617.2L524.3 617.4L525.4 617.5L526.4 617.8L527.4 618.3L528.5 617.3L529.5 618.3M529.5 621.7L530.5 621.9L531.4 622.2L532.4 621.2L533.3 622.4L534.3 621.5L535.2 621.7L536.2 621.5L537.2 622L538.1 620.9L539.1 620.8L540 621.1L541 621.7L541.9 622.1L542.9 620.3L543.9 622.4L544.8 622L545.8 621.1L546.7 621L547.7 621.9L548.6 621L549.6 622L550.6 620.8L551.5 621L552.5 621.2L553.4 620.6L554.4 621L555.3 622.3L556.3 620.7"/>
<path stroke="#A3204F" stroke-width="0.6" stroke-dasharray="0.8 0.8" d="M55.4 617V588.7M127.8 619.8V612.1M129.3 619.8V615.2M198.5 622.5V614.3M221.5 617V610.6M303.5 629.9V634.4M466.2 620.7V628.9"/>
<path stroke="#E8302A" stroke-width="1.35" stroke-linecap="round" d="M265 604.3L265 601.7M265 604.3L267.5 603.5M265 604.3L266.5 606.4M265 604.3L263.5 606.4M265 604.3L262.5 603.5M290.3 607.8L290.3 605.2M290.3 607.8L292.8 607M290.3 607.8L291.8 609.9M290.3 607.8L288.8 609.9M290.3 607.8L287.8 607M340.6 638.7L340.6 636.1M340.6 638.7L343.1 637.9M340.6 638.7L342.1 640.8M340.6 638.7L339.1 640.8M340.6 638.7L338.1 637.9M485.8 611.3L485.8 608.7M485.8 611.3L488.3 610.5M485.8 611.3L487.3 613.4M485.8 611.3L484.3 613.4M485.8 611.3L483.3 610.5"/>
<rect x="581" y="597.8" width="6.2" height="6.4" fill="#B3271D"/>
<text x="590.4" y="603.8" font-size="8.2" fill="#1a1a1a">Melanocytic-like (MEL)</text>
<rect x="581" y="609" width="6.2" height="6.4" fill="#CDB965"/>
<text x="590.4" y="615" font-size="8.2" fill="#1a1a1a">Neural/plastic (NPLAS)</text>
<rect x="581" y="619.9" width="6.2" height="6.4" fill="#4A82C6"/>
<text x="590.4" y="625.9" font-size="8.2" fill="#1a1a1a">Mesenchymal-like (MES)</text>
<path fill="#FFE4E2" d="M53.1 647h6.1v2.4h-6.1zM134.9 690.6h16.4v2.4h-16.4zM185.2 690.6h1.2v2.4h-1.2zM433 703.1h15.3v2.4h-15.3zM454.4 724.9h1.4v2.4h-1.4zM497.4 724.9h3.6v2.4h-3.6zM510 728h3.5v2.4h-3.5zM508.9 740.5h4.6v2.4h-4.6zM222 759.2h4.2v2.4h-4.2zM282.9 759.2h3.5v2.4h-3.5zM453.5 768.5h0.9v2.4h-0.9zM476.9 784.1h1.3v2.4h-1.3zM53.1 802.8h13.2v2.4h-13.2z"/><path fill="#FFF3F2" d="M74.6 647h11.7v2.4h-11.7zM505.1 656.3h2.4v2.4h-2.4zM513.5 665.7h1.9v2.4h-1.9zM514.6 671.9h0.5v2.4h-0.5zM216.8 675h10.4v2.4h-10.4zM117 678.1h15.6v2.4h-15.6zM357.7 678.1h14.5v2.4h-14.5zM432 681.2h0.6v2.4h-0.6zM495.1 681.2h1.1v2.4h-1.1zM496.2 696.8h6.4v2.4h-6.4zM144.7 712.4h3.1v2.4h-3.1zM464.2 712.4h0.1v2.4h-0.1zM502.9 715.5h4.6v2.4h-4.6zM257.6 728h17.3v2.4h-17.3zM185.2 731.1h8.2v2.4h-8.2zM216.8 731.1h6.3v2.4h-6.3zM448.3 731.1h6.1v2.4h-6.1zM52.5 737.4h0.6v2.4h-0.6zM496 737.4h0.2v2.4h-0.2zM117 743.6h15.6v2.4h-15.6zM378.6 743.6h5.2v2.4h-5.2zM510.6 743.6h0.8v2.4h-0.8zM414.2 765.4h0.3v2.4h-0.3zM117 771.7h8.3v2.4h-8.3zM357.7 774.8h14.5v2.4h-14.5zM476 781h2.2v2.4h-2.2zM357.7 787.2h14.5v2.4h-14.5zM465.6 787.2h1.3v2.4h-1.3zM74.6 793.5h15.9v2.4h-15.9zM374.1 793.5h4.5v2.4h-4.5zM496.2 793.5h1.1v2.4h-1.1zM31.3 802.8h6.4v2.4h-6.4zM523 802.8h3.2v2.4h-3.2z"/><path fill="#E6E6F8" d="M86.3 647h4.2v2.4h-4.2zM151.3 647h3.2v2.4h-3.2zM160.2 659.4h5.5v2.4h-5.5zM407.5 681.2h6.7v2.4h-6.7zM117 684.4h5.1v2.4h-5.1zM143.7 684.4h7.6v2.4h-7.6zM372.1 687.5h0.1v2.4h-0.1zM372.2 696.8h3.8v2.4h-3.8zM227.2 700h0v2.4h-0zM332 718.7h0.1v2.4h-0.1zM369.4 724.9h2.8v2.4h-2.8zM160.2 728h10.7v2.4h-10.7zM274.9 731.1h7.2v2.4h-7.2zM479.9 731.1h1.5v2.4h-1.5zM227.2 740.5h19.5v2.4h-19.5zM142.3 759.2h0.1v2.4h-0.1zM184.8 759.2h0.4v2.4h-0.4zM300.3 759.2h8.2v2.4h-8.2zM324.9 759.2h7.2v2.4h-7.2zM160.7 768.5h24.5v2.4h-24.5zM227.2 771.7h4.1v2.4h-4.1zM310.4 777.9h14.5v2.4h-14.5zM515.4 777.9h5.8v2.4h-5.8zM274.9 781h8v2.4h-8zM515.4 781h5.8v2.4h-5.8zM90.5 784.1h12.5v2.4h-12.5zM227.2 787.2h13.5v2.4h-13.5zM515.4 787.2h3.5v2.4h-3.5zM214.4 790.4h2.4v2.4h-2.4zM230.9 790.4h15.8v2.4h-15.8zM467.8 790.4h0.7v2.4h-0.7zM529.5 796.6h4.8v2.4h-4.8zM74.6 799.7h15.3v2.4h-15.3zM90.5 799.7h26.5v2.4h-26.5z"/><path fill="#FFEAE9" d="M90.5 647h26.5v2.4h-26.5zM540.5 647h15.8v2.4h-15.8zM142.3 650.1h1.5v2.4h-1.5zM432 650.1h1v2.4h-1zM220 653.2h0.6v2.4h-0.6zM417.4 656.3h14.6v2.4h-14.6zM497.2 665.7h4.4v2.4h-4.4zM433.4 675h14.9v2.4h-14.9zM433 684.4h15.3v2.4h-15.3zM540.5 687.5h10.1v2.4h-10.1zM525.1 693.7h4v2.4h-4zM53.1 700h13.3v2.4h-13.3zM481.4 700h10.6v2.4h-10.6zM521.2 700h0.5v2.4h-0.5zM431.4 718.7h0.6v2.4h-0.6zM455.8 724.9h8.4v2.4h-8.4zM524.4 724.9h5.1v2.4h-5.1zM378.6 728h2.3v2.4h-2.3zM508.4 740.5h0.5v2.4h-0.5zM475.7 746.7h2.3v2.4h-2.3zM478.2 753h3.2v2.4h-3.2zM132.6 756.1h18.7v2.4h-18.7zM466.5 756.1h2v2.4h-2zM468.5 756.1h9.7v2.4h-9.7zM529.5 768.5h11v2.4h-11zM511.7 774.8h1.8v2.4h-1.8zM521.2 774.8h0.1v2.4h-0.1zM521.3 774.8h0.8v2.4h-0.8zM357.1 781h0.6v2.4h-0.6zM357.7 781h14.5v2.4h-14.5zM461.8 784.1h2.4v2.4h-2.4zM468.5 790.4h1.9v2.4h-1.9zM507.5 796.6h6v2.4h-6zM90.5 799.7h0v2.4h-0zM282.9 799.7h17.4v2.4h-17.4zM521.2 802.8h0.9v2.4h-0.9z"/><path fill="#FFEEED" d="M117 647h15.6v2.4h-15.6zM185.2 659.4h4.2v2.4h-4.2zM508.9 662.5h4.6v2.4h-4.6zM522.5 662.5h0.5v2.4h-0.5zM473.8 668.8h4.4v2.4h-4.4zM525.5 668.8h2.5v2.4h-2.5zM464.2 675h4.3v2.4h-4.3zM216.8 678.1h10.4v2.4h-10.4zM328.7 678.1h3.4v2.4h-3.4zM90.5 681.2h26.5v2.4h-26.5zM414.2 681.2h0.3v2.4h-0.3zM484 681.2h8.6v2.4h-8.6zM433 687.5h7.8v2.4h-7.8zM478.2 690.6h0.9v2.4h-0.9zM523 690.6h4.5v2.4h-4.5zM31.9 696.8h19.1v2.4h-19.1zM274.9 696.8h8v2.4h-8zM468.5 700h9.7v2.4h-9.7zM175 703.1h10.2v2.4h-10.2zM521.2 703.1h0.4v2.4h-0.4zM378.6 712.4h17.1v2.4h-17.1zM415.3 715.5h0.9v2.4h-0.9zM414.5 721.8h1.7v2.4h-1.7zM185.2 728h8.2v2.4h-8.2zM282.9 728h17.4v2.4h-17.4zM400.8 734.2h13.7v2.4h-13.7zM508.1 734.2h5.4v2.4h-5.4zM396.1 737.4h1.2v2.4h-1.2zM502.6 737.4h4.9v2.4h-4.9zM385.1 743.6h10.6v2.4h-10.6zM397.6 749.8h3.9v2.4h-3.9zM526.3 756.1h2.1v2.4h-2.1zM74.6 759.2h15.9v2.4h-15.9zM468.5 765.4h9.7v2.4h-9.7zM481.4 765.4h3.1v2.4h-3.1zM274.9 771.7h4.9v2.4h-4.9zM304.5 771.7h4.1v2.4h-4.1zM432 774.8h1v2.4h-1zM473.2 774.8h0.5v2.4h-0.5zM193.4 790.4h21v2.4h-21zM514.6 790.4h0.8v2.4h-0.8zM502.7 793.5h4.8v2.4h-4.8zM55.6 799.7h7.3v2.4h-7.3zM348.4 802.8h4.3v2.4h-4.3z"/><path fill="#FFE5E4" d="M132.6 647h8.1v2.4h-8.1zM523 656.3h6.5v2.4h-6.5zM414.5 668.8h1.7v2.4h-1.7zM77 678.1h11.7v2.4h-11.7zM70.5 681.2h4.1v2.4h-4.1zM513.5 684.4h0v2.4h-0zM496.2 687.5h1.7v2.4h-1.7zM186.4 690.6h7v2.4h-7zM216.8 690.6h10.4v2.4h-10.4zM469.9 690.6h1.2v2.4h-1.2zM511.2 693.7h2.3v2.4h-2.3zM297.3 709.3h3v2.4h-3zM372.2 712.4h0.3v2.4h-0.3zM502.6 715.5h0.3v2.4h-0.3zM509.3 718.7h4.2v2.4h-4.2zM423.3 724.9h8.7v2.4h-8.7zM397.6 731.1h8v2.4h-8zM282.9 734.2h4.7v2.4h-4.7zM349.5 740.5h7.1v2.4h-7.1zM372.2 749.8h2.1v2.4h-2.1zM453.1 753h1.1v2.4h-1.1zM185.2 756.1h4v2.4h-4zM531 756.1h7.2v2.4h-7.2zM538.2 756.1h2.3v2.4h-2.3zM496.2 759.2h2.2v2.4h-2.2zM132.6 768.5h18.7v2.4h-18.7zM465.9 768.5h0.2v2.4h-0.2zM216.8 777.9h10.4v2.4h-10.4zM72.5 796.6h2.1v2.4h-2.1zM274.9 799.7h8v2.4h-8zM454.4 799.7h9.8v2.4h-9.8z"/><path fill="#F3F3FB" d="M140.7 647h10.6v2.4h-10.6zM185.2 647h8.2v2.4h-8.2zM513.5 647h1.9v2.4h-1.9zM515.4 647h3.9v2.4h-3.9zM75.1 650.1h13.3v2.4h-13.3zM142.5 653.2h8.8v2.4h-8.8zM160.2 653.2h25v2.4h-25zM193.4 653.2h3.6v2.4h-3.6zM41.5 656.3h11.6v2.4h-11.6zM232.3 659.4h0.8v2.4h-0.8zM515.4 662.5h5.8v2.4h-5.8zM159.7 668.8h0.5v2.4h-0.5zM235.3 671.9h11.4v2.4h-11.4zM378.6 671.9h6.5v2.4h-6.5zM532.2 671.9h8.3v2.4h-8.3zM328.5 675h1.9v2.4h-1.9zM234.2 678.1h12.5v2.4h-12.5zM492.9 678.1h1.8v2.4h-1.8zM372.2 681.2h4.2v2.4h-4.2zM229.3 690.6h6.4v2.4h-6.4zM348.9 693.7h4.5v2.4h-4.5zM356 696.8h1.2v2.4h-1.2zM132.7 700h18.6v2.4h-18.6zM466.6 703.1h1.9v2.4h-1.9zM300.9 706.2h2.3v2.4h-2.3zM396.5 706.2h1.1v2.4h-1.1zM160.2 709.3h25v2.4h-25zM300.3 712.4h2.4v2.4h-2.4zM468.5 712.4h2.2v2.4h-2.2zM470.7 712.4h7.1v2.4h-7.1zM151.3 718.7h1.1v2.4h-1.1zM492.6 718.7h0.1v2.4h-0.1zM492.6 724.9h3.6v2.4h-3.6zM74.6 728h9.8v2.4h-9.8zM87.2 728h3.3v2.4h-3.3zM357.7 728h9v2.4h-9zM342.3 731.1h6.1v2.4h-6.1zM518.5 734.2h2.7v2.4h-2.7zM90.5 740.5h26.5v2.4h-26.5zM478.8 740.5h2.5v2.4h-2.5zM432 753h0.3v2.4h-0.3zM274.9 756.1h8v2.4h-8zM348.4 756.1h9.3v2.4h-9.3zM378.6 756.1h15.1v2.4h-15.1zM308.6 759.2h1.2v2.4h-1.2zM125.3 771.7h1.9v2.4h-1.9zM492.6 771.7h3.6v2.4h-3.6zM282.9 774.8h17.4v2.4h-17.4zM513.5 774.8h0.6v2.4h-0.6zM51.6 781h1.5v2.4h-1.5zM529.5 784.1h7.2v2.4h-7.2zM90.5 787.2h26.5v2.4h-26.5zM515.4 790.4h5.8v2.4h-5.8zM193.4 793.5h23.4v2.4h-23.4z"/><path fill="#EEEEFA" d="M160.2 647h5.1v2.4h-5.1zM395.7 659.4h1.9v2.4h-1.9zM303.8 668.8h4.8v2.4h-4.8zM513.5 671.9h1.1v2.4h-1.1zM332.1 675h3.3v2.4h-3.3zM31.3 684.4h21.8v2.4h-21.8zM363.5 687.5h8.6v2.4h-8.6zM154.5 690.6h2.1v2.4h-2.1zM171.8 690.6h0.8v2.4h-0.8zM282.9 690.6h16v2.4h-16zM352.2 700h5.5v2.4h-5.5zM155.4 703.1h4.8v2.4h-4.8zM357.7 703.1h14.5v2.4h-14.5zM308.6 712.4h16.3v2.4h-16.3zM31.3 715.5h4.4v2.4h-4.4zM90.1 715.5h0.4v2.4h-0.4zM416.2 715.5h15.8v2.4h-15.8zM324.9 718.7h6.5v2.4h-6.5zM160.2 721.8h3.3v2.4h-3.3zM300.3 721.8h4.1v2.4h-4.1zM274.9 724.9h8v2.4h-8zM157.8 728h2.4v2.4h-2.4zM308.6 728h4.3v2.4h-4.3zM332.1 728h16.3v2.4h-16.3zM540.5 731.1h2.5v2.4h-2.5zM551.4 731.1h4.9v2.4h-4.9zM153.5 734.2h6.7v2.4h-6.7zM372.2 734.2h6.4v2.4h-6.4zM227.2 737.4h19.5v2.4h-19.5zM185.2 740.5h8.2v2.4h-8.2zM481.3 740.5h0.1v2.4h-0.1zM132.6 743.6h8v2.4h-8zM478.2 743.6h3.2v2.4h-3.2zM394.8 749.8h0.9v2.4h-0.9zM454.4 756.1h0.1v2.4h-0.1zM193.4 762.3h23.4v2.4h-23.4zM307.7 762.3h0.9v2.4h-0.9zM312.4 762.3h6.5v2.4h-6.5zM160.2 768.5h0.5v2.4h-0.5zM66.9 771.7h7.7v2.4h-7.7zM372.2 774.8h5.7v2.4h-5.7zM473.7 774.8h4.5v2.4h-4.5zM535.6 774.8h3.4v2.4h-3.4zM343.8 777.9h4.6v2.4h-4.6zM502.8 777.9h4.2v2.4h-4.2zM454.4 781h3.2v2.4h-3.2zM74.6 784.1h8v2.4h-8zM82.6 784.1h6v2.4h-6zM332.1 790.4h1.6v2.4h-1.6zM475.9 790.4h2.3v2.4h-2.3zM478.4 790.4h2.6v2.4h-2.6zM540.5 793.5h15.8v2.4h-15.8zM378.6 802.8h17.1v2.4h-17.1zM468.5 802.8h9.7v2.4h-9.7z"/><path fill="#FFECEC" d="M222.5 647h0.6v2.4h-0.6zM515.4 653.2h5.8v2.4h-5.8zM379.4 668.8h10.4v2.4h-10.4zM507.5 671.9h6v2.4h-6zM186.6 696.8h6.8v2.4h-6.8z"/><path fill="#FFDEDD" d="M223.1 647h4.1v2.4h-4.1zM246.7 656.3h5.5v2.4h-5.5zM282.9 662.5h17.4v2.4h-17.4zM521.2 665.7h1.8v2.4h-1.8zM495.1 675h1.1v2.4h-1.1zM84.6 681.2h5.9v2.4h-5.9zM468.5 684.4h2.2v2.4h-2.2zM502 700h0.6v2.4h-0.6zM543.8 703.1h12.5v2.4h-12.5zM315.6 715.5h9.3v2.4h-9.3zM265.1 746.7h4.4v2.4h-4.4zM184.4 762.3h0.8v2.4h-0.8zM264.2 784.1h7.5v2.4h-7.5zM74.6 790.4h10.1v2.4h-10.1zM256 790.4h1.6v2.4h-1.6z"/><path fill="#E3E3F7" d="M227.2 647h19.5v2.4h-19.5zM416.1 650.1h0.1v2.4h-0.1zM300.3 653.2h2.2v2.4h-2.2zM416.2 653.2h9.3v2.4h-9.3zM307.7 662.5h0.9v2.4h-0.9zM274.9 671.9h8v2.4h-8zM227.2 675h19.5v2.4h-19.5zM448.3 675h1.3v2.4h-1.3zM324.9 681.2h5.8v2.4h-5.8zM319.9 684.4h5v2.4h-5zM395.7 684.4h0.5v2.4h-0.5zM492.4 696.8h0.2v2.4h-0.2zM156.5 700h3v2.4h-3zM496.6 700h5.4v2.4h-5.4zM433 709.3h15.3v2.4h-15.3zM481.4 715.5h11.2v2.4h-11.2zM74.6 721.8h15.9v2.4h-15.9zM227.2 721.8h18.2v2.4h-18.2zM513.5 721.8h1.9v2.4h-1.9zM332.1 737.4h16.3v2.4h-16.3zM433 740.5h15.3v2.4h-15.3zM437 746.7h11.3v2.4h-11.3zM454.4 762.3h7.5v2.4h-7.5zM103 784.1h14v2.4h-14zM331.5 787.2h0.6v2.4h-0.6zM335.9 793.5h12.5v2.4h-12.5zM372.2 793.5h1.9v2.4h-1.9zM151.3 802.8h8.9v2.4h-8.9zM325 746.7h23v2.4h-23z"/><path fill="#FFE7E6" d="M246.7 647h10.9v2.4h-10.9zM395.7 647h1.5v2.4h-1.5zM493 650.1h0.4v2.4h-0.4zM523 650.1h6.5v2.4h-6.5zM311 665.7h1.4v2.4h-1.4zM459.1 665.7h5.1v2.4h-5.1zM507.5 668.8h6v2.4h-6zM468.5 671.9h2.3v2.4h-2.3zM496.7 671.9h3.6v2.4h-3.6zM469.4 675h8.8v2.4h-8.8zM432.1 684.4h0.9v2.4h-0.9zM502.6 687.5h2.7v2.4h-2.7zM132.6 690.6h2.3v2.4h-2.3zM435.7 690.6h12.6v2.4h-12.6zM432.7 693.7h0.3v2.4h-0.3zM53.1 696.8h7.1v2.4h-7.1zM432 696.8h1v2.4h-1zM257.6 703.1h17.3v2.4h-17.3zM507.5 715.5h0v2.4h-0zM246.7 731.1h3.8v2.4h-3.8zM543 731.1h8.4v2.4h-8.4zM395.7 746.7h0.2v2.4h-0.2zM257.6 759.2h7.7v2.4h-7.7zM274.9 759.2h3.9v2.4h-3.9zM414.5 759.2h1.7v2.4h-1.7zM521.2 759.2h1.8v2.4h-1.8zM380.4 777.9h15.3v2.4h-15.3zM507.5 777.9h3.2v2.4h-3.2zM468.5 781h2.4v2.4h-2.4zM443.1 784.1h0.3v2.4h-0.3zM74.6 787.2h15.9v2.4h-15.9zM523 787.2h6.5v2.4h-6.5zM89.8 802.8h0.7v2.4h-0.7z"/><path fill="#FFDEDC" d="M257.6 647h0v2.4h-0zM53.1 653.2h21.5v2.4h-21.5zM512.1 653.2h1.4v2.4h-1.4zM521.2 671.9h0.9v2.4h-0.9zM396.4 678.1h0.9v2.4h-0.9zM246.7 740.5h2.2v2.4h-2.2zM257.6 749.8h17.3v2.4h-17.3zM523.1 793.5h6.4v2.4h-6.4zM53.1 796.6h1.9v2.4h-1.9zM151.3 796.6h1.9v2.4h-1.9zM302.5 796.6h6.1v2.4h-6.1z"/><path fill="#FFD7D5" d="M257.6 647h15.5v2.4h-15.5zM523 662.5h4.2v2.4h-4.2zM246.7 665.7h0.2v2.4h-0.2zM260.3 693.7h13.6v2.4h-13.6zM464.2 696.8h2.5v2.4h-2.5zM31.3 700h19.7v2.4h-19.7zM257.6 718.7h13.1v2.4h-13.1zM216.8 728h3.5v2.4h-3.5zM59.8 753h14.8v2.4h-14.8zM282.9 768.5h17.4v2.4h-17.4zM523 771.7h2.5v2.4h-2.5zM368.3 777.9h3.9v2.4h-3.9zM429.4 790.4h2.6v2.4h-2.6zM150 799.7h1.3v2.4h-1.3zM449 799.7h1.4v2.4h-1.4z"/><path fill="#FFF2F2" d="M273.1 647h1.8v2.4h-1.8zM515.4 650.1h0v2.4h-0zM117 659.4h15.6v2.4h-15.6zM62.6 668.8h3.7v2.4h-3.7zM31.3 690.6h10.7v2.4h-10.7zM496.2 690.6h6.4v2.4h-6.4zM521.2 693.7h0.3v2.4h-0.3zM536.1 700h1.2v2.4h-1.2zM416.2 703.1h2v2.4h-2zM471.7 706.2h5.3v2.4h-5.3zM248.3 715.5h9.3v2.4h-9.3zM496.4 718.7h3.5v2.4h-3.5zM432.1 724.9h0.1v2.4h-0.1zM395.7 734.2h0.7v2.4h-0.7zM537.5 734.2h3v2.4h-3zM478.2 737.4h0v2.4h-0zM74.6 743.6h6.4v2.4h-6.4zM522.5 746.7h0.5v2.4h-0.5zM524.6 746.7h4.9v2.4h-4.9zM528.4 756.1h1.1v2.4h-1.1zM502.3 759.2h0.3v2.4h-0.3zM543.1 762.3h13.2v2.4h-13.2zM300.3 765.4h2.6v2.4h-2.6zM308.6 768.5h16.3v2.4h-16.3zM105.6 774.8h11.4v2.4h-11.4zM308.6 787.2h10.5v2.4h-10.5zM395.7 793.5h1.9v2.4h-1.9z"/><path fill="#E8E8F8" d="M274.9 647h8v2.4h-8zM478.2 662.5h2.2v2.4h-2.2zM481.4 665.7h11.2v2.4h-11.2zM303.4 668.8h0.4v2.4h-0.4zM274.9 675h8v2.4h-8zM88.7 678.1h1.8v2.4h-1.8zM395.7 681.2h1.9v2.4h-1.9zM329.6 684.4h2.5v2.4h-2.5zM378.6 687.5h1.5v2.4h-1.5zM428.9 690.6h1.2v2.4h-1.2zM300.3 696.8h8.3v2.4h-8.3zM513.5 696.8h0.8v2.4h-0.8zM90.5 700h26.5v2.4h-26.5zM454.4 709.3h9.8v2.4h-9.8zM228.2 712.4h18.5v2.4h-18.5zM31.3 718.7h6.3v2.4h-6.3zM514.4 728h0.2v2.4h-0.2zM305.3 740.5h3.3v2.4h-3.3zM274.9 743.6h2.2v2.4h-2.2zM481.4 743.6h0.2v2.4h-0.2zM432 746.7h1v2.4h-1zM332.1 765.4h16.3v2.4h-16.3zM301.7 790.4h6.9v2.4h-6.9zM414.5 790.4h0.9v2.4h-0.9zM466 790.4h1.8v2.4h-1.8zM237 793.5h8.6v2.4h-8.6zM324.9 793.5h3.2v2.4h-3.2zM328.2 802.8h3.9v2.4h-3.9z"/><path fill="#FFF1F0" d="M282.9 647h17.4v2.4h-17.4zM464.2 650.1h4.3v2.4h-4.3zM74.6 675h11.6v2.4h-11.6zM415.8 678.1h0.4v2.4h-0.4zM44 681.2h9.1v2.4h-9.1zM54.6 681.2h15.8v2.4h-15.8zM44.1 690.6h9v2.4h-9zM90.5 690.6h1.4v2.4h-1.4zM273.9 693.7h1v2.4h-1zM376.6 700h2v2.4h-2zM257.6 712.4h17.3v2.4h-17.3zM507.5 712.4h0v2.4h-0zM540.5 715.5h15.8v2.4h-15.8zM357.7 721.8h14.5v2.4h-14.5zM502.6 721.8h0v2.4h-0zM352.5 728h4.4v2.4h-4.4zM521.6 734.2h1.4v2.4h-1.4zM155.3 737.4h4.9v2.4h-4.9zM481.4 740.5h11.2v2.4h-11.2zM457.3 746.7h0.9v2.4h-0.9zM514.1 759.2h1.3v2.4h-1.3zM447.2 771.7h1.1v2.4h-1.1zM304.7 777.9h3.5v2.4h-3.5zM46.9 781h4.7v2.4h-4.7zM523 781h6.5v2.4h-6.5zM192.7 784.1h0.7v2.4h-0.7zM69.5 787.2h5.1v2.4h-5.1zM378.6 790.4h17.1v2.4h-17.1zM227.2 796.6h1.2v2.4h-1.2zM357.7 799.7h10.6v2.4h-10.6z"/><path fill="#E1E1F7" d="M300.3 647h0.8v2.4h-0.8zM358.7 656.3h2.2v2.4h-2.2zM414.5 678.1h1.3v2.4h-1.3zM454.4 678.1h6.2v2.4h-6.2zM433 696.8h15.3v2.4h-15.3zM478.2 703.1h1.9v2.4h-1.9zM357.7 706.2h14.5v2.4h-14.5zM348.5 709.3h3v2.4h-3zM515.4 709.3h5.8v2.4h-5.8zM372.9 715.5h4.4v2.4h-4.4zM227.2 724.9h19.5v2.4h-19.5zM357.7 740.5h1.1v2.4h-1.1zM482.9 743.6h9.7v2.4h-9.7zM484.1 749.8h8.5v2.4h-8.5zM203 753h13.8v2.4h-13.8zM515.4 753h5.8v2.4h-5.8zM496.2 774.8h6.4v2.4h-6.4zM398.1 777.9h1.7v2.4h-1.7zM132.6 790.4h3.6v2.4h-3.6zM324.9 790.4h3.8v2.4h-3.8zM454.4 790.4h6v2.4h-6zM432 793.5h0v2.4h-0zM325 724.9h23v2.4h-23zM325 728h23v2.4h-23z"/><path fill="#FFE4E3" d="M313.3 647h11.6v2.4h-11.6zM269.1 653.2h4.9v2.4h-4.9zM432 665.7h1v2.4h-1zM257.6 668.8h17.3v2.4h-17.3zM432 668.8h1v2.4h-1zM511.3 675h2.2v2.4h-2.2zM522.7 684.4h0.3v2.4h-0.3zM330.2 703.1h1.9v2.4h-1.9zM136.3 715.5h15v2.4h-15zM180.5 718.7h4.7v2.4h-4.7zM270.7 718.7h1.5v2.4h-1.5zM102.9 724.9h14.1v2.4h-14.1zM132.6 724.9h18.7v2.4h-18.7zM468.5 724.9h9.7v2.4h-9.7zM478.2 724.9h3.2v2.4h-3.2zM511.4 743.6h2.1v2.4h-2.1zM90.5 753h3.7v2.4h-3.7zM282.9 756.1h6.7v2.4h-6.7zM387.8 781h4.1v2.4h-4.1zM185.2 790.4h8.2v2.4h-8.2zM216.8 790.4h10.3v2.4h-10.3zM502.6 790.4h4.9v2.4h-4.9zM132.6 793.5h5.1v2.4h-5.1zM512.9 802.8h0.6v2.4h-0.6z"/><path fill="#EFEFFA" d="M349.3 647h7.2v2.4h-7.2zM416.2 650.1h2.5v2.4h-2.5zM481.4 656.3h7.7v2.4h-7.7zM300.3 662.5h4.9v2.4h-4.9zM448.3 668.8h6.1v2.4h-6.1zM193.4 671.9h14.4v2.4h-14.4zM172.5 675h12.7v2.4h-12.7zM348.4 678.1h9.3v2.4h-9.3zM514.4 678.1h1v2.4h-1zM280.5 684.4h2.4v2.4h-2.4zM529.5 687.5h3.2v2.4h-3.2zM450 690.6h4.4v2.4h-4.4zM132.6 703.1h6.2v2.4h-6.2zM496.2 709.3h2.1v2.4h-2.1zM324.9 712.4h7.2v2.4h-7.2zM90.5 715.5h26.5v2.4h-26.5zM236.3 728h1.1v2.4h-1.1zM300.3 728h6.8v2.4h-6.8zM454.4 734.2h9.8v2.4h-9.8zM433 737.4h5.3v2.4h-5.3zM227.2 746.7h5.1v2.4h-5.1zM468.5 753h1.3v2.4h-1.3zM348.4 759.2h5.5v2.4h-5.5zM433 762.3h15.3v2.4h-15.3zM478.2 762.3h0v2.4h-0zM92.6 768.5h24.4v2.4h-24.4zM464.2 771.7h0.3v2.4h-0.3zM535 771.7h5.5v2.4h-5.5zM515.4 774.8h5.8v2.4h-5.8zM151.3 777.9h8.9v2.4h-8.9zM300.3 777.9h4.4v2.4h-4.4zM327.4 777.9h3.2v2.4h-3.2zM160 784.1h0.2v2.4h-0.2zM513.5 787.2h1.9v2.4h-1.9zM160.1 790.4h0.1v2.4h-0.1zM416.2 790.4h13.2v2.4h-13.2zM514.7 793.5h0.4v2.4h-0.4zM372.2 802.8h6.4v2.4h-6.4z"/><path fill="#EAEAF9" d="M357.7 647h14.5v2.4h-14.5zM160.2 650.1h25v2.4h-25zM454.4 650.1h6.9v2.4h-6.9zM496.2 656.3h0.4v2.4h-0.4zM179.2 659.4h6v2.4h-6zM300.3 659.4h8.3v2.4h-8.3zM328 659.4h4.1v2.4h-4.1zM332.1 659.4h6.4v2.4h-6.4zM513.5 659.4h1.9v2.4h-1.9zM515.4 659.4h5.8v2.4h-5.8zM515.2 671.9h0.2v2.4h-0.2zM151.3 675h8.9v2.4h-8.9zM348.4 675h9.3v2.4h-9.3zM427.5 675h4.5v2.4h-4.5zM160.2 678.1h25v2.4h-25zM378.6 678.1h17.1v2.4h-17.1zM492.6 678.1h0.3v2.4h-0.3zM370.9 681.2h1.3v2.4h-1.3zM162.6 684.4h22.6v2.4h-22.6zM488.9 687.5h3.7v2.4h-3.7zM491.7 690.6h0.9v2.4h-0.9zM132.6 693.7h18.7v2.4h-18.7zM74.6 696.8h2.8v2.4h-2.8zM306.1 700h2.5v2.4h-2.5zM537.3 700h3.2v2.4h-3.2zM395.7 703.1h1.9v2.4h-1.9zM348.4 718.7h9.3v2.4h-9.3zM478.2 721.8h3.2v2.4h-3.2zM313.5 724.9h6.5v2.4h-6.5zM445.2 724.9h3.1v2.4h-3.1zM440.3 728h6.7v2.4h-6.7zM227.2 731.1h12.5v2.4h-12.5zM361.1 731.1h11.1v2.4h-11.1zM117 740.5h15.6v2.4h-15.6zM428.2 743.6h3.8v2.4h-3.8zM274.9 746.7h2.9v2.4h-2.9zM37.5 749.8h6.5v2.4h-6.5zM442.7 749.8h5.6v2.4h-5.6zM451 749.8h1.8v2.4h-1.8zM454.2 753h0.2v2.4h-0.2zM460.4 753h3.5v2.4h-3.5zM160.2 762.3h20.6v2.4h-20.6zM397.6 777.9h0.5v2.4h-0.5zM433 784.1h10.1v2.4h-10.1zM319.1 787.2h5.8v2.4h-5.8zM328.7 790.4h2.4v2.4h-2.4zM440.5 790.4h7.8v2.4h-7.8zM439 799.7h9.3v2.4h-9.3zM117 802.8h2.9v2.4h-2.9z"/><path fill="#FFEFEE" d="M378.6 647h17.1v2.4h-17.1zM448.3 647h6.1v2.4h-6.1zM324.9 653.2h1.4v2.4h-1.4zM378.6 656.3h17.1v2.4h-17.1zM74.6 659.4h15.9v2.4h-15.9zM309.7 659.4h15.2v2.4h-15.2zM529.9 671.9h2.3v2.4h-2.3zM448.3 678.1h0v2.4h-0zM403.8 684.4h8.9v2.4h-8.9zM466.9 693.7h1.6v2.4h-1.6zM185.2 696.8h0.6v2.4h-0.6zM388.9 709.3h6.8v2.4h-6.8zM31.3 712.4h21.8v2.4h-21.8zM216.8 712.4h10.4v2.4h-10.4zM478.2 712.4h3.2v2.4h-3.2zM193.4 718.7h23.4v2.4h-23.4zM31.3 721.8h12.7v2.4h-12.7zM83.3 734.2h4.7v2.4h-4.7zM274.9 737.4h8v2.4h-8zM395.7 737.4h0.4v2.4h-0.4zM474 743.6h4.2v2.4h-4.2zM160.2 746.7h9.9v2.4h-9.9zM291.1 746.7h4v2.4h-4zM106.9 753h10.1v2.4h-10.1zM193.4 756.1h23.4v2.4h-23.4zM502.6 756.1h0.2v2.4h-0.2zM380.8 759.2h14.4v2.4h-14.4zM74.6 762.3h1.6v2.4h-1.6zM65.4 765.4h9.2v2.4h-9.2zM414.5 777.9h1.7v2.4h-1.7zM495.2 781h1v2.4h-1zM506.1 781h1.4v2.4h-1.4zM117 787.2h15.6v2.4h-15.6zM157.9 787.2h0.1v2.4h-0.1zM207.9 787.2h6.7v2.4h-6.7zM433 793.5h15.3v2.4h-15.3zM521.4 793.5h1.6v2.4h-1.6zM46.3 799.7h6.1v2.4h-6.1zM90.5 802.8h26.5v2.4h-26.5z"/><path fill="#E7E7F8" d="M397.2 647h0.4v2.4h-0.4zM454.7 647h0.8v2.4h-0.8zM515.4 650.1h1.1v2.4h-1.1zM348.4 656.3h7.2v2.4h-7.2zM464.2 665.7h1.8v2.4h-1.8zM515.4 675h1.3v2.4h-1.3zM357.7 681.2h13.2v2.4h-13.2zM516.6 681.2h4.6v2.4h-4.6zM308.6 684.4h11.3v2.4h-11.3zM160.2 687.5h25v2.4h-25zM31.3 696.8h0.6v2.4h-0.6zM306.8 712.4h1.8v2.4h-1.8zM227.2 715.5h12.9v2.4h-12.9zM90.5 737.4h16.5v2.4h-16.5zM383.8 743.6h1.3v2.4h-1.3zM333.7 746.7h14.7v2.4h-14.7zM94.2 753h12.7v2.4h-12.7zM481.4 756.1h11.2v2.4h-11.2zM432 759.2h1v2.4h-1zM324.9 762.3h0.6v2.4h-0.6zM325.5 762.3h4.7v2.4h-4.7zM332.1 762.3h16.3v2.4h-16.3zM395.7 762.3h1.9v2.4h-1.9zM529.5 774.8h6.1v2.4h-6.1zM399.8 777.9h14.7v2.4h-14.7zM268.4 781h6.5v2.4h-6.5zM227.2 790.4h0.7v2.4h-0.7z"/><path fill="#FFEBEA" d="M414.5 647h0.1v2.4h-0.1zM432.3 647h0.2v2.4h-0.2zM257.6 653.2h11.5v2.4h-11.5zM522 653.2h1v2.4h-1zM132.6 656.3h6.4v2.4h-6.4zM31.3 665.7h10.3v2.4h-10.3zM501.6 665.7h1v2.4h-1zM74.6 668.8h15.9v2.4h-15.9zM521.2 668.8h1.8v2.4h-1.8zM536.8 668.8h3.7v2.4h-3.7zM496.2 675h6.4v2.4h-6.4zM433 681.2h15.3v2.4h-15.3zM185.2 684.4h3.7v2.4h-3.7zM497.9 687.5h4.7v2.4h-4.7zM62.4 693.7h9.7v2.4h-9.7zM151.1 696.8h0.2v2.4h-0.2zM432 700h1v2.4h-1zM315.3 703.1h9.6v2.4h-9.6zM257.6 706.2h8.7v2.4h-8.7zM266.3 706.2h8.6v2.4h-8.6zM272.4 709.3h2.5v2.4h-2.5zM521.2 712.4h1.8v2.4h-1.8zM468.5 715.5h9.7v2.4h-9.7zM372.5 718.7h6.1v2.4h-6.1zM31.3 731.1h21.8v2.4h-21.8zM216.8 737.4h0.9v2.4h-0.9zM257.6 737.4h17.3v2.4h-17.3zM527 737.4h2.5v2.4h-2.5zM374.6 740.5h4v2.4h-4zM466.1 740.5h2.4v2.4h-2.4zM497 740.5h5.6v2.4h-5.6zM193.4 743.6h23.4v2.4h-23.4zM405.4 746.7h9.1v2.4h-9.1zM507.5 746.7h1v2.4h-1zM189.2 756.1h4.2v2.4h-4.2zM53.9 759.2h9.6v2.4h-9.6zM142.4 759.2h8.9v2.4h-8.9zM525.7 759.2h0.7v2.4h-0.7zM246.7 765.4h10.9v2.4h-10.9zM266 768.5h8.9v2.4h-8.9zM481.4 768.5h3v2.4h-3zM354.3 777.9h2.2v2.4h-2.2zM547.1 777.9h9.2v2.4h-9.2zM502.6 781h1.4v2.4h-1.4zM433 787.2h15.3v2.4h-15.3zM357.7 790.4h14.5v2.4h-14.5zM523 790.4h2.6v2.4h-2.6zM216.8 793.5h4.2v2.4h-4.2zM529.5 793.5h11v2.4h-11zM540.5 796.6h13.7v2.4h-13.7zM507.5 802.8h5.4v2.4h-5.4z"/><path fill="#FFE1DF" d="M416.2 647h1.2v2.4h-1.2zM502.6 653.2h0.6v2.4h-0.6zM540.5 659.4h15.3v2.4h-15.3zM216.8 665.7h10.4v2.4h-10.4zM263.6 671.9h11.3v2.4h-11.3zM510.3 681.2h3.2v2.4h-3.2zM526.2 696.8h3.3v2.4h-3.3zM53.1 731.1h3.4v2.4h-3.4zM496.2 740.5h0.8v2.4h-0.8zM308.6 746.7h3.9v2.4h-3.9zM540.5 762.3h0.4v2.4h-0.4zM529 768.5h0.5v2.4h-0.5zM359.7 771.7h12.5v2.4h-12.5zM53.1 777.9h21.5v2.4h-21.5zM482.7 777.9h4.4v2.4h-4.4zM185.2 781h5.8v2.4h-5.8zM246.7 781h1.6v2.4h-1.6zM221 793.5h6.2v2.4h-6.2zM185.2 802.8h5.8v2.4h-5.8zM293.7 802.8h6.6v2.4h-6.6z"/><path fill="#FFD4D2" d="M432 647h0.3v2.4h-0.3zM257 656.3h0.6v2.4h-0.6zM503.6 662.5h3.9v2.4h-3.9zM257.6 665.7h17.3v2.4h-17.3zM257.6 671.9h6v2.4h-6zM257.6 675h2.5v2.4h-2.5zM507.5 687.5h6v2.4h-6zM478.2 700h1.9v2.4h-1.9zM268.2 715.5h6.7v2.4h-6.7zM395.7 768.5h0.6v2.4h-0.6zM139.5 771.7h11.8v2.4h-11.8zM502.6 771.7h3.9v2.4h-3.9zM271.7 784.1h3.2v2.4h-3.2zM521.2 784.1h0.1v2.4h-0.1zM502.6 796.6h4.9v2.4h-4.9z"/><path fill="#FFF1F1" d="M432.5 647h0.5v2.4h-0.5zM514.8 650.1h0.6v2.4h-0.6zM555.1 668.8h1.2v2.4h-1.2zM395.9 675h1.7v2.4h-1.7zM521.2 675h1v2.4h-1zM31.3 693.7h10v2.4h-10zM151.3 693.7h8.9v2.4h-8.9zM147.8 712.4h3.5v2.4h-3.5zM35.7 715.5h17.4v2.4h-17.4zM294.9 715.5h5.4v2.4h-5.4zM397.6 724.9h16.9v2.4h-16.9zM275.8 734.2h7.1v2.4h-7.1zM294.6 734.2h5.7v2.4h-5.7zM357.7 737.4h14.5v2.4h-14.5zM464.6 740.5h1.5v2.4h-1.5zM395.7 756.1h0.4v2.4h-0.4zM507 765.4h0.5v2.4h-0.5zM433 774.8h15.3v2.4h-15.3zM502.6 774.8h4.9v2.4h-4.9zM492.6 777.9h0.9v2.4h-0.9zM378.1 787.2h0.5v2.4h-0.5zM477.9 787.2h0.3v2.4h-0.3zM432 796.6h1v2.4h-1z"/><path fill="#FFCDCB" d="M433 647h15.3v2.4h-15.3zM260.1 675h14.8v2.4h-14.8zM254.2 678.1h3.4v2.4h-3.4zM527.5 678.1h0.9v2.4h-0.9zM523 696.8h3.2v2.4h-3.2zM64 721.8h10.6v2.4h-10.6zM502.8 731.1h4.7v2.4h-4.7zM291.2 740.5h9.1v2.4h-9.1zM291.9 743.6h8.4v2.4h-8.4zM246.7 762.3h10.9v2.4h-10.9z"/><path fill="#FFE3E2" d="M468.5 647h9.7v2.4h-9.7zM505.8 665.7h1.7v2.4h-1.7zM506.2 668.8h1.3v2.4h-1.3zM274.9 684.4h0.4v2.4h-0.4zM385.8 687.5h9.9v2.4h-9.9zM378.6 690.6h10.5v2.4h-10.5zM468.5 690.6h1.4v2.4h-1.4zM521.5 693.7h0.5v2.4h-0.5zM216.8 696.8h10.4v2.4h-10.4zM74.6 703.1h15.9v2.4h-15.9zM193.4 703.1h23.4v2.4h-23.4zM502.6 709.3h2.6v2.4h-2.6zM135.2 718.7h16.1v2.4h-16.1zM444.9 718.7h0.8v2.4h-0.8zM246.7 724.9h5.4v2.4h-5.4zM478.2 728h3.2v2.4h-3.2zM250.7 731.1h6.9v2.4h-6.9zM507.5 731.1h6v2.4h-6zM508.5 737.4h5v2.4h-5zM395.9 746.7h0.5v2.4h-0.5zM523 746.7h1.6v2.4h-1.6zM401.5 749.8h7.9v2.4h-7.9zM256 756.1h1.3v2.4h-1.3zM132.6 762.3h18.7v2.4h-18.7zM274.6 765.4h0.3v2.4h-0.3zM290.9 765.4h9.4v2.4h-9.4zM53.7 768.5h12.7v2.4h-12.7zM295.7 784.1h4.6v2.4h-4.6zM372.2 784.1h6.4v2.4h-6.4zM246.7 790.4h4.6v2.4h-4.6zM185.2 793.5h8.2v2.4h-8.2zM521.2 793.5h0.2v2.4h-0.2zM481.4 796.6h2.4v2.4h-2.4zM523 799.7h6.5v2.4h-6.5z"/><path fill="#EBEBF9" d="M478.2 647h3.2v2.4h-3.2zM521 647h0.2v2.4h-0.2zM332.1 650.1h13.9v2.4h-13.9zM414.5 653.2h1.5v2.4h-1.5zM395.7 656.3h1.9v2.4h-1.9zM275.8 662.5h7.1v2.4h-7.1zM308.6 665.7h2.4v2.4h-2.4zM151.3 668.8h8.4v2.4h-8.4zM180.7 668.8h4.5v2.4h-4.5zM515.4 671.9h0.5v2.4h-0.5zM315.8 678.1h9.1v2.4h-9.1zM515.8 678.1h5.4v2.4h-5.4zM300.3 684.4h8.3v2.4h-8.3zM227.2 690.6h2.1v2.4h-2.1zM300.3 690.6h8.3v2.4h-8.3zM357.7 690.6h4.2v2.4h-4.2zM456.9 690.6h3.6v2.4h-3.6zM479.7 690.6h1.7v2.4h-1.7zM151.3 696.8h8.9v2.4h-8.9zM454.4 696.8h1v2.4h-1zM300.3 706.2h0.6v2.4h-0.6zM432 709.3h1v2.4h-1zM324.9 715.5h4.7v2.4h-4.7zM432.1 715.5h0.9v2.4h-0.9zM518.6 718.7h2.6v2.4h-2.6zM117 721.8h15.6v2.4h-15.6zM356.7 721.8h1v2.4h-1zM453.4 728h1v2.4h-1zM461.8 728h2.4v2.4h-2.4zM513.5 731.1h1.9v2.4h-1.9zM464.2 743.6h4.3v2.4h-4.3zM232.3 746.7h14.4v2.4h-14.4zM481.2 746.7h0.2v2.4h-0.2zM432 756.1h1v2.4h-1zM233 762.3h1.2v2.4h-1.2zM244.4 765.4h2.3v2.4h-2.3zM300.3 768.5h8.3v2.4h-8.3zM515 768.5h0.4v2.4h-0.4zM515.4 768.5h5.8v2.4h-5.8zM185.2 774.8h8.2v2.4h-8.2zM529.5 777.9h11v2.4h-11zM515.4 784.1h4.5v2.4h-4.5zM548.1 784.1h8.2v2.4h-8.2zM332.1 793.5h1.8v2.4h-1.8zM515.1 793.5h0.3v2.4h-0.3zM52.3 799.7h0.8v2.4h-0.8zM515.4 799.7h3.1v2.4h-3.1zM332.1 802.8h15.4v2.4h-15.4z"/><path fill="#D9D9F4" d="M487.7 647h1.4v2.4h-1.4zM484 662.5h6.8v2.4h-6.8zM213.3 696.8h3.5v2.4h-3.5zM457.7 700h6.5v2.4h-6.5zM397.6 721.8h3.7v2.4h-3.7zM318.9 762.3h6v2.4h-6zM378.6 762.3h17.1v2.4h-17.1zM514.1 774.8h1.3v2.4h-1.3z"/><path fill="#FFECEB" d="M492.6 647h3.6v2.4h-3.6zM493.4 650.1h2.8v2.4h-2.8zM274.9 653.2h8v2.4h-8zM448.3 656.3h6.1v2.4h-6.1zM416.2 662.5h15.8v2.4h-15.8zM448.3 662.5h6.1v2.4h-6.1zM433 665.7h15.3v2.4h-15.3zM543.4 665.7h12.9v2.4h-12.9zM433 671.9h15.3v2.4h-15.3zM378.6 675h4.4v2.4h-4.4zM460.6 678.1h3.6v2.4h-3.6zM506.3 678.1h1.2v2.4h-1.2zM125.9 687.5h6.7v2.4h-6.7zM67.9 690.6h2v2.4h-2zM502.6 690.6h4.9v2.4h-4.9zM257.6 693.7h2.7v2.4h-2.7zM456.4 696.8h7.8v2.4h-7.8zM432 703.1h1v2.4h-1zM185.2 715.5h6.3v2.4h-6.3zM502.6 718.7h4.9v2.4h-4.9zM63.9 721.8h0.2v2.4h-0.2zM52.9 724.9h0.2v2.4h-0.2zM189.1 724.9h4.3v2.4h-4.3zM378.6 724.9h17.1v2.4h-17.1zM414.5 724.9h1.7v2.4h-1.7zM496.2 724.9h1.2v2.4h-1.2zM524.6 728h4.9v2.4h-4.9zM257.6 734.2h3.6v2.4h-3.6zM53.5 737.4h21.1v2.4h-21.1zM372.2 740.5h2.1v2.4h-2.1zM468.5 740.5h9.7v2.4h-9.7zM468.5 746.7h7.2v2.4h-7.2zM176.7 756.1h8.5v2.4h-8.5zM454.5 756.1h4.9v2.4h-4.9zM399.9 762.3h10.5v2.4h-10.5zM462.7 771.7h1.5v2.4h-1.5zM521.2 777.9h1.8v2.4h-1.8zM282.9 784.1h12.8v2.4h-12.8zM522.4 784.1h0.6v2.4h-0.6zM61.7 790.4h2.9v2.4h-2.9zM365.3 793.5h6.9v2.4h-6.9zM432 793.5h1v2.4h-1zM540.5 802.8h15.8v2.4h-15.8z"/><path fill="#FFE2E0" d="M502.6 647h4.9v2.4h-4.9zM308.6 650.1h16.3v2.4h-16.3zM468.5 678.1h9.4v2.4h-9.4zM216.8 687.5h10.4v2.4h-10.4zM432 693.7h0.3v2.4h-0.3zM324.9 700h2.1v2.4h-2.1zM138.8 703.1h12.5v2.4h-12.5zM416.2 718.7h15.2v2.4h-15.2zM501 724.9h1.6v2.4h-1.6zM185.2 743.6h1.4v2.4h-1.4zM117 774.8h15.6v2.4h-15.6zM136.2 790.4h14v2.4h-14z"/><path fill="#F1F1FB" d="M519.3 647h1.7v2.4h-1.7zM227.2 653.2h14.9v2.4h-14.9zM282.9 656.3h17.4v2.4h-17.4zM193.4 662.5h1v2.4h-1zM501.1 662.5h1.5v2.4h-1.5zM31.3 668.8h9.4v2.4h-9.4zM197.2 668.8h3.4v2.4h-3.4zM514.2 668.8h1.2v2.4h-1.2zM416.2 671.9h5v2.4h-5zM464.9 671.9h3.6v2.4h-3.6zM481.4 671.9h3v2.4h-3zM481.4 675h11.2v2.4h-11.2zM513.6 675h1.6v2.4h-1.6zM193.4 678.1h23.4v2.4h-23.4zM481.4 684.4h3.3v2.4h-3.3zM348.4 687.5h5.6v2.4h-5.6zM414.5 687.5h1.7v2.4h-1.7zM481.8 687.5h7.1v2.4h-7.1zM494.4 690.6h1.8v2.4h-1.8zM357.7 693.7h14v2.4h-14zM348.4 703.1h9.3v2.4h-9.3zM391.2 703.1h4.5v2.4h-4.5zM481.4 706.2h11.2v2.4h-11.2zM193.4 712.4h23.4v2.4h-23.4zM464.2 715.5h0.8v2.4h-0.8zM513.5 715.5h0.9v2.4h-0.9zM521.2 718.7h1.8v2.4h-1.8zM468.5 721.8h9.7v2.4h-9.7zM529.5 721.8h4v2.4h-4zM450.9 724.9h2.7v2.4h-2.7zM151.3 728h6.4v2.4h-6.4zM157.7 728h0.2v2.4h-0.2zM366.7 728h5.5v2.4h-5.5zM178.4 734.2h6.8v2.4h-6.8zM274.9 734.2h0.9v2.4h-0.9zM448.3 734.2h4.3v2.4h-4.3zM161.7 743.6h13.1v2.4h-13.1zM281.2 743.6h1.7v2.4h-1.7zM513.5 743.6h1.9v2.4h-1.9zM42.4 746.7h10.7v2.4h-10.7zM214.3 746.7h2.5v2.4h-2.5zM378.6 746.7h17.1v2.4h-17.1zM515.4 746.7h5.8v2.4h-5.8zM154.2 756.1h5.2v2.4h-5.2zM278.8 759.2h4.1v2.4h-4.1zM76.2 762.3h14.3v2.4h-14.3zM513.5 765.4h0.2v2.4h-0.2zM85.8 768.5h4.7v2.4h-4.7zM90.5 774.8h15v2.4h-15zM214.5 787.2h2.3v2.4h-2.3zM414.5 787.2h0.6v2.4h-0.6zM415.4 790.4h0.8v2.4h-0.8z"/><path fill="#FFCCC9" d="M521.2 647h1.8v2.4h-1.8zM521.2 662.5h0.7v2.4h-0.7zM53.1 665.7h21.5v2.4h-21.5zM433 690.6h2.7v2.4h-2.7zM252.1 724.9h5.5v2.4h-5.5zM468.5 731.1h9.7v2.4h-9.7zM257.6 762.3h17.3v2.4h-17.3z"/><path fill="#DADAF5" d="M529.5 647h11v2.4h-11zM151.3 650.1h0.2v2.4h-0.2zM340.6 665.7h0.6v2.4h-0.6zM395.7 696.8h1.2v2.4h-1.2zM151.3 700h5.2v2.4h-5.2zM519.8 715.5h1.4v2.4h-1.4zM455.1 721.8h9.1v2.4h-9.1zM227.2 743.6h19.5v2.4h-19.5zM332.1 749.8h12.4v2.4h-12.4zM378.6 749.8h16.2v2.4h-16.2zM448.3 753h4.8v2.4h-4.8zM324.9 756.1h0.3v2.4h-0.3zM346.6 796.6h1.8v2.4h-1.8zM230 731.1h16.7v2.4h-16.7z"/><path fill="#FFE9E8" d="M34.3 650.1h18.8v2.4h-18.8zM220.6 653.2h6.6v2.4h-6.6zM282.9 653.2h17.4v2.4h-17.4zM378.6 653.2h6.2v2.4h-6.2zM514.5 653.2h0.9v2.4h-0.9zM415.9 665.7h0.3v2.4h-0.3zM511.5 665.7h2v2.4h-2zM187.9 668.8h5.5v2.4h-5.5zM130.2 675h2.4v2.4h-2.4zM132.8 675h15.2v2.4h-15.2zM519.5 675h1.7v2.4h-1.7zM185.2 678.1h6.6v2.4h-6.6zM432 678.1h1v2.4h-1zM117 681.2h15.6v2.4h-15.6zM257.6 681.2h17.3v2.4h-17.3zM308.6 681.2h13.3v2.4h-13.3zM424 681.2h8v2.4h-8zM432.6 681.2h0.1v2.4h-0.1zM432 690.6h1v2.4h-1zM480.1 700h1.3v2.4h-1.3zM252.5 706.2h5.1v2.4h-5.1zM74.6 709.3h15.9v2.4h-15.9zM217.9 709.3h6.5v2.4h-6.5zM128.8 715.5h3.6v2.4h-3.6zM533.5 721.8h7v2.4h-7zM540.5 724.9h15.8v2.4h-15.8zM31.3 728h6.3v2.4h-6.3zM220.3 728h6.9v2.4h-6.9zM540.5 734.2h15.8v2.4h-15.8zM248.1 737.4h9.5v2.4h-9.5zM448.3 740.5h6.1v2.4h-6.1zM523 740.5h1.4v2.4h-1.4zM186.6 743.6h6.8v2.4h-6.8zM246.7 743.6h10.9v2.4h-10.9zM523 743.6h4.1v2.4h-4.1zM31.3 746.7h7.5v2.4h-7.5zM416.2 746.7h3.4v2.4h-3.4zM419.6 746.7h12.4v2.4h-12.4zM160.2 749.8h6.9v2.4h-6.9zM478.4 749.8h3v2.4h-3zM502.6 759.2h4.9v2.4h-4.9zM529.5 759.2h11v2.4h-11zM550.2 759.2h0v2.4h-0zM282.9 762.3h17.4v2.4h-17.4zM357.1 768.5h0.6v2.4h-0.6zM414.5 768.5h1.7v2.4h-1.7zM454.4 768.5h9.8v2.4h-9.8zM496.2 768.5h3.1v2.4h-3.1zM193.4 771.7h18.9v2.4h-18.9zM239.7 771.7h7v2.4h-7zM506.5 771.7h0.5v2.4h-0.5zM378.6 774.8h17.1v2.4h-17.1zM308.9 781h0.5v2.4h-0.5zM415.1 787.2h0.5v2.4h-0.5zM84.7 790.4h5.8v2.4h-5.8zM416.2 796.6h15.8v2.4h-15.8zM526.2 802.8h3.3v2.4h-3.3z"/><path fill="#FFF3F3" d="M53.1 650.1h21.5v2.4h-21.5zM88.4 650.1h2.1v2.4h-2.1zM300.3 665.7h8.3v2.4h-8.3zM495 671.9h1.2v2.4h-1.2zM143.2 678.1h8.1v2.4h-8.1zM188.9 684.4h4.5v2.4h-4.5zM274.9 690.6h8v2.4h-8zM521.2 706.2h1.5v2.4h-1.5zM117 709.3h15.6v2.4h-15.6zM132.6 728h2.1v2.4h-2.1zM459.6 728h2.2v2.4h-2.2zM454.4 731.1h3.8v2.4h-3.8zM458.2 731.1h0.1v2.4h-0.1zM507.5 734.2h0.6v2.4h-0.6zM507.5 737.4h1v2.4h-1zM372.2 746.7h6.4v2.4h-6.4zM494 774.8h2.2v2.4h-2.2z"/><path fill="#FFE0DE" d="M74.6 650.1h0.5v2.4h-0.5zM216.8 659.4h10.4v2.4h-10.4zM523 681.2h5.1v2.4h-5.1zM523 715.5h4.2v2.4h-4.2zM216.8 718.7h3.2v2.4h-3.2zM453.6 724.9h0.8v2.4h-0.8zM223.9 743.6h3.3v2.4h-3.3zM295.2 746.7h5.1v2.4h-5.1zM468.5 774.8h4.7v2.4h-4.7zM527.6 774.8h1.9v2.4h-1.9zM84 777.9h1.5v2.4h-1.5zM307.2 784.1h1.4v2.4h-1.4zM521.8 790.4h0.9v2.4h-0.9zM483.8 796.6h8.8v2.4h-8.8z"/><path fill="#FFE5E3" d="M90.5 650.1h26.5v2.4h-26.5zM165.7 659.4h13.5v2.4h-13.5zM507.5 662.5h1.4v2.4h-1.4zM522.7 715.5h0.3v2.4h-0.3zM529.5 731.1h11v2.4h-11zM414.9 743.6h0.4v2.4h-0.4zM246.7 787.2h7.8v2.4h-7.8zM370.4 796.6h1.8v2.4h-1.8zM535.3 796.6h5.2v2.4h-5.2z"/><path fill="#FFF0F0" d="M117 650.1h15.6v2.4h-15.6zM31.3 659.4h9.3v2.4h-9.3zM555.8 659.4h0.5v2.4h-0.5zM448.3 665.7h6.1v2.4h-6.1zM193.3 675h0.1v2.4h-0.1zM397.4 690.6h0.2v2.4h-0.2zM529.1 693.7h0.4v2.4h-0.4zM376 696.8h2.6v2.4h-2.6zM523 706.2h2.6v2.4h-2.6zM503.5 712.4h4v2.4h-4zM53.1 737.4h0.4v2.4h-0.4zM160.2 743.6h1.5v2.4h-1.5zM464.2 756.1h2.3v2.4h-2.3zM464.2 765.4h0.7v2.4h-0.7zM507.5 765.4h6v2.4h-6zM160.2 774.8h25v2.4h-25zM464.2 774.8h4.3v2.4h-4.3zM198.3 777.9h18.4v2.4h-18.4zM191 781h2.4v2.4h-2.4zM416.9 784.1h6.8v2.4h-6.8zM448.3 802.8h6.1v2.4h-6.1z"/><path fill="#DFDFF6" d="M151.5 650.1h8.7v2.4h-8.7zM496.2 650.1h6.4v2.4h-6.4zM302.5 653.2h1.8v2.4h-1.8zM160.2 662.5h25v2.4h-25zM324.9 668.8h2.4v2.4h-2.4zM357.7 675h14.5v2.4h-14.5zM227.2 678.1h7v2.4h-7zM519 684.4h2.2v2.4h-2.2zM304.1 687.5h1v2.4h-1zM460.5 690.6h3.7v2.4h-3.7zM513.5 703.1h1.9v2.4h-1.9zM274.9 709.3h8v2.4h-8zM245.4 721.8h1.3v2.4h-1.3zM514.6 728h0.8v2.4h-0.8zM160.2 731.1h8.4v2.4h-8.4zM415.2 731.1h1v2.4h-1zM438.8 731.1h9.5v2.4h-9.5zM432 740.5h1v2.4h-1zM203.5 746.7h10.8v2.4h-10.8zM235.9 756.1h10.8v2.4h-10.8zM433 759.2h15.3v2.4h-15.3zM400 768.5h14.5v2.4h-14.5zM158.6 771.7h1.6v2.4h-1.6zM332.1 777.9h11.7v2.4h-11.7zM332.1 796.6h14.5v2.4h-14.5z"/><path fill="#FFDDDB" d="M185.2 650.1h8.2v2.4h-8.2zM502.6 656.3h2.5v2.4h-2.5zM151.3 721.8h8.9v2.4h-8.9zM502.6 728h0.7v2.4h-0.7zM246.7 746.7h2.2v2.4h-2.2zM274.9 774.8h8v2.4h-8zM496.1 777.9h0.1v2.4h-0.1zM202.2 784.1h14.6v2.4h-14.6zM507.5 784.1h6v2.4h-6z"/><path fill="#FFBDBA" d="M246.7 650.1h10.9v2.4h-10.9zM414.5 703.1h0.8v2.4h-0.8zM523 731.1h2.8v2.4h-2.8zM282.9 796.6h8.7v2.4h-8.7z"/><path fill="#FFA09C" d="M257.6 650.1h7.6v2.4h-7.6zM53.1 749.8h21.5v2.4h-21.5z"/><path fill="#FF9B96" d="M265.2 650.1h9v2.4h-9z"/><path fill="#FFDFDD" d="M274.2 650.1h0.7v2.4h-0.7zM252.2 656.3h4.8v2.4h-4.8zM185.2 665.7h3.9v2.4h-3.9zM31.3 678.1h21.8v2.4h-21.8zM468.5 703.1h1.8v2.4h-1.8zM220.4 721.8h2.5v2.4h-2.5zM496.2 721.8h6.4v2.4h-6.4zM287.6 734.2h7v2.4h-7zM264.1 740.5h8.6v2.4h-8.6zM274.9 749.8h8v2.4h-8zM354 799.7h3.7v2.4h-3.7z"/><path fill="#E9E9F9" d="M274.9 650.1h8v2.4h-8zM117 653.2h11.4v2.4h-11.4zM31.3 656.3h10.2v2.4h-10.2zM327.1 656.3h4.2v2.4h-4.2zM372.2 656.3h6.4v2.4h-6.4zM529.5 656.3h3.6v2.4h-3.6zM135.7 662.5h1.1v2.4h-1.1zM397.6 662.5h16.9v2.4h-16.9zM274.9 668.8h8v2.4h-8zM454.4 675h0.4v2.4h-0.4zM308.6 678.1h5.6v2.4h-5.6zM90.5 687.5h19.6v2.4h-19.6zM53.1 690.6h14.8v2.4h-14.8zM326.4 693.7h1.9v2.4h-1.9zM513.9 693.7h1.5v2.4h-1.5zM513.5 700h1.9v2.4h-1.9zM515.4 700h5.8v2.4h-5.8zM496.4 703.1h6.2v2.4h-6.2zM303.2 706.2h5.4v2.4h-5.4zM332.1 706.2h16.3v2.4h-16.3zM432 715.5h0.1v2.4h-0.1zM446.8 721.8h1.5v2.4h-1.5zM495.4 721.8h0.8v2.4h-0.8zM274.9 728h8v2.4h-8zM415 728h1.2v2.4h-1.2zM515.4 731.1h1.2v2.4h-1.2zM502.6 743.6h4.9v2.4h-4.9zM315.4 746.7h9.5v2.4h-9.5zM332.1 746.7h1.6v2.4h-1.6zM464 753h0.2v2.4h-0.2zM130.5 759.2h2.1v2.4h-2.1zM378.6 759.2h2.2v2.4h-2.2zM395.7 781h1.9v2.4h-1.9zM410.5 784.1h0.6v2.4h-0.6zM464.2 793.5h4.3v2.4h-4.3zM324.9 796.6h7.2v2.4h-7.2zM151.3 799.7h8.9v2.4h-8.9zM324.9 799.7h7.2v2.4h-7.2zM233.1 802.8h5.2v2.4h-5.2z"/><path fill="#FFD6D4" d="M282.9 650.1h3.6v2.4h-3.6zM468.5 665.7h4.9v2.4h-4.9zM521.2 690.6h1.8v2.4h-1.8zM246.7 700h2.1v2.4h-2.1zM521.7 709.3h0.2v2.4h-0.2zM53.1 724.9h21.5v2.4h-21.5zM226.5 724.9h0.7v2.4h-0.7zM282.9 737.4h7.5v2.4h-7.5zM282.9 740.5h8.3v2.4h-8.3zM540.5 743.6h6.2v2.4h-6.2zM521.2 746.7h1.3v2.4h-1.3zM521.2 749.8h1.8v2.4h-1.8zM154.1 768.5h0.7v2.4h-0.7zM53.1 784.1h21.5v2.4h-21.5zM55 796.6h17.4v2.4h-17.4z"/><path fill="#E5E5F8" d="M300.3 650.1h8.3v2.4h-8.3zM168.8 656.3h5.5v2.4h-5.5zM357.7 656.3h1v2.4h-1zM490.8 662.5h1.8v2.4h-1.8zM120.9 665.7h11.7v2.4h-11.7zM160.2 668.8h8.9v2.4h-8.9zM233.4 668.8h10.6v2.4h-10.6zM414.5 671.9h1.7v2.4h-1.7zM151.3 687.5h7.7v2.4h-7.7zM229.9 700h16.8v2.4h-16.8zM90.5 709.3h11.7v2.4h-11.7zM274.9 715.5h8v2.4h-8zM341.3 721.8h0.4v2.4h-0.4zM401.3 721.8h12.7v2.4h-12.7zM432.9 728h0.1v2.4h-0.1zM517.2 728h2.5v2.4h-2.5zM193.4 731.1h23.4v2.4h-23.4zM325.7 734.2h6.4v2.4h-6.4zM414.5 737.4h0.8v2.4h-0.8zM349.3 753h5.5v2.4h-5.5zM494.2 759.2h2v2.4h-2zM483 762.3h3.4v2.4h-3.4zM132.6 771.7h1.3v2.4h-1.3zM454.4 802.8h9.8v2.4h-9.8z"/><path fill="#CACAF0" d="M324.9 650.1h7.2v2.4h-7.2zM332.1 715.5h16.3v2.4h-16.3zM515.4 749.8h0.6v2.4h-0.6zM513.6 771.7h0.1v2.4h-0.1zM397.6 774.8h16.9v2.4h-16.9z"/><path fill="#E4E4F7" d="M346.8 650.1h1.6v2.4h-1.6zM326.3 653.2h5.8v2.4h-5.8zM513.5 675h0.1v2.4h-0.1zM372.2 678.1h6.4v2.4h-6.4zM347.3 681.2h1.1v2.4h-1.1zM348.4 684.4h9.3v2.4h-9.3zM197 687.5h19.8v2.4h-19.8zM282.9 687.5h17.4v2.4h-17.4zM312.9 687.5h12v2.4h-12zM518.5 690.6h2.7v2.4h-2.7zM90.5 696.8h26.5v2.4h-26.5zM529.5 703.1h11v2.4h-11zM332.1 712.4h16.3v2.4h-16.3zM414 721.8h0.5v2.4h-0.5zM37.6 728h15.5v2.4h-15.5zM151.3 743.6h8.9v2.4h-8.9zM513.5 749.8h0.8v2.4h-0.8zM276.5 753h0.1v2.4h-0.1zM466.1 753h0.8v2.4h-0.8zM466.9 753h1.6v2.4h-1.6zM164.1 756.1h12.6v2.4h-12.6zM151.3 768.5h2.8v2.4h-2.8zM478.2 768.5h1.1v2.4h-1.1zM153.2 796.6h5.8v2.4h-5.8zM232.6 799.7h13.2v2.4h-13.2zM397.6 802.8h14.3v2.4h-14.3z"/><path fill="#FFF0EF" d="M357.7 650.1h0.7v2.4h-0.7zM507.9 656.3h2.2v2.4h-2.2zM395.7 662.5h0.9v2.4h-0.9zM397.6 668.8h16.9v2.4h-16.9zM421.9 668.8h4.5v2.4h-4.5zM282.9 671.9h17.4v2.4h-17.4zM484.4 671.9h8.2v2.4h-8.2zM492.9 681.2h2.2v2.4h-2.2zM53.1 693.7h9.3v2.4h-9.3zM121.9 696.8h10.7v2.4h-10.7zM357.7 696.8h1.7v2.4h-1.7zM416.4 696.8h15.6v2.4h-15.6zM372.2 700h4.4v2.4h-4.4zM185.2 706.2h8.2v2.4h-8.2zM246.7 706.2h5.8v2.4h-5.8zM477.8 712.4h0.4v2.4h-0.4zM507.5 712.4h3.1v2.4h-3.1zM191.5 715.5h1.9v2.4h-1.9zM465 721.8h3.5v2.4h-3.5zM320 724.9h4.9v2.4h-4.9zM515.4 728h1.8v2.4h-1.8zM74.6 734.2h8.7v2.4h-8.7zM492.9 737.4h3.2v2.4h-3.2zM160.2 740.5h7.3v2.4h-7.3zM167.5 740.5h17.7v2.4h-17.7zM117 746.7h15.6v2.4h-15.6zM348.4 753h0.9v2.4h-0.9zM523 756.1h3.3v2.4h-3.3zM158.8 762.3h1.4v2.4h-1.4zM53.1 765.4h2.7v2.4h-2.7zM416.2 768.5h15.8v2.4h-15.8zM332.1 771.7h1.2v2.4h-1.2zM31.3 774.8h3.5v2.4h-3.5zM160.2 777.9h10.2v2.4h-10.2zM356.4 777.9h1.3v2.4h-1.3zM478.2 777.9h3.2v2.4h-3.2zM416.2 781h1.4v2.4h-1.4zM252.8 784.1h4.8v2.4h-4.8zM416.1 784.1h0.1v2.4h-0.1zM468.5 787.2h9.4v2.4h-9.4zM227.9 790.4h3.1v2.4h-3.1zM246.7 793.5h2.3v2.4h-2.3zM282.9 793.5h17.4v2.4h-17.4zM378.6 793.5h17.1v2.4h-17.1zM368.3 799.7h3v2.4h-3zM395.7 802.8h1.2v2.4h-1.2zM478.2 802.8h3.2v2.4h-3.2z"/><path fill="#FFE6E5" d="M358.4 650.1h2.2v2.4h-2.2zM432 653.2h1v2.4h-1zM507.5 653.2h2.1v2.4h-2.1zM523 668.8h2.5v2.4h-2.5zM185.4 671.9h8v2.4h-8zM246.7 675h6.5v2.4h-6.5zM246.7 684.4h10.9v2.4h-10.9zM332.1 687.5h12.9v2.4h-12.9zM216.8 700h10.4v2.4h-10.4zM284 712.4h5.5v2.4h-5.5zM523 715.5h0v2.4h-0zM372.2 731.1h1.3v2.4h-1.3zM468.5 737.4h0.5v2.4h-0.5zM300.3 740.5h1.8v2.4h-1.8zM226.1 749.8h1.1v2.4h-1.1zM469.8 753h8.4v2.4h-8.4zM257.6 756.1h17.3v2.4h-17.3zM540.5 759.2h9.7v2.4h-9.7zM496.4 762.3h0.1v2.4h-0.1zM133.9 771.7h5.5v2.4h-5.5zM257.6 771.7h7.9v2.4h-7.9zM507.5 774.8h0.5v2.4h-0.5zM454.4 784.1h7.4v2.4h-7.4zM53.1 793.5h11.6v2.4h-11.6zM143.6 793.5h7.7v2.4h-7.7zM494.7 793.5h1.5v2.4h-1.5zM348.4 796.6h0.9v2.4h-0.9zM348.4 799.7h0.8v2.4h-0.8z"/><path fill="#FFE6E4" d="M373 650.1h2.1v2.4h-2.1zM58.3 659.4h16.3v2.4h-16.3zM443.9 662.5h4.4v2.4h-4.4zM246.7 693.7h10.9v2.4h-10.9zM185.2 718.7h8.2v2.4h-8.2zM286.7 790.4h7.6v2.4h-7.6zM125.6 796.6h7v2.4h-7z"/><path fill="#E2E2F7" d="M395.7 650.1h1.9v2.4h-1.9zM355.6 656.3h2.1v2.4h-2.1zM303.5 671.9h5.1v2.4h-5.1zM337.9 700h10.5v2.4h-10.5zM160.2 703.1h13.3v2.4h-13.3zM433 721.8h6.4v2.4h-6.4zM540.5 721.8h15.8v2.4h-15.8zM214.5 728h2.3v2.4h-2.3zM324.9 728h7.2v2.4h-7.2zM308.6 743.6h16.3v2.4h-16.3zM481.6 743.6h1.3v2.4h-1.3zM170.1 746.7h15.1v2.4h-15.1zM324.9 746.7h7.2v2.4h-7.2zM478.2 759.2h0v2.4h-0zM152.6 774.8h2.7v2.4h-2.7zM397.6 787.2h5.7v2.4h-5.7z"/><path fill="#CDCDF1" d="M414.5 650.1h0v2.4h-0zM308.6 709.3h16.3v2.4h-16.3zM193.4 724.9h7.9v2.4h-7.9zM328 753h4.1v2.4h-4.1zM332.1 759.2h11.8v2.4h-11.8zM160.2 796.6h25v2.4h-25zM230 734.2h16.7v2.4h-16.7zM349 718.7h23v2.4h-23z"/><path fill="#FFE3E1" d="M437.8 650.1h10.5v2.4h-10.5zM527.2 662.5h2.3v2.4h-2.3zM502.6 671.9h4.9v2.4h-4.9zM246.7 687.5h0v2.4h-0zM246.7 690.6h7.6v2.4h-7.6zM218 756.1h9.2v2.4h-9.2zM216.8 762.3h4v2.4h-4zM448.7 762.3h5.7v2.4h-5.7zM522 774.8h1v2.4h-1zM148.4 787.2h2.9v2.4h-2.9zM282.9 802.8h3.4v2.4h-3.4z"/><path fill="#FFE1E0" d="M448.3 650.1h6.1v2.4h-6.1zM216.8 656.3h10.4v2.4h-10.4zM521.2 656.3h1.8v2.4h-1.8zM74.6 659.4h0v2.4h-0zM282.9 659.4h9.8v2.4h-9.8zM507.5 693.7h2.3v2.4h-2.3zM470.3 703.1h7.9v2.4h-7.9zM521.2 709.3h0.5v2.4h-0.5zM90.5 721.8h26.5v2.4h-26.5zM282.9 721.8h17.4v2.4h-17.4zM82.9 731.1h1.2v2.4h-1.2zM356.6 740.5h1.1v2.4h-1.1zM414.5 740.5h1.7v2.4h-1.7zM117 749.8h15.6v2.4h-15.6zM53.1 762.3h13.9v2.4h-13.9zM464.5 771.7h4v2.4h-4zM216.7 777.9h0.1v2.4h-0.1zM507.5 781h5.8v2.4h-5.8zM432.4 784.1h0.1v2.4h-0.1zM448.3 790.4h5.9v2.4h-5.9zM540.5 790.4h15.8v2.4h-15.8z"/><path fill="#EDEDFA" d="M463.3 650.1h0.9v2.4h-0.9zM111.3 653.2h5.7v2.4h-5.7zM495.1 653.2h1.1v2.4h-1.1zM301.2 656.3h7.4v2.4h-7.4zM105.2 662.5h11.8v2.4h-11.8zM348.4 662.5h5.7v2.4h-5.7zM244.5 665.7h2.2v2.4h-2.2zM300.3 671.9h3.2v2.4h-3.2zM454.4 671.9h9.8v2.4h-9.8zM478.2 675h3.2v2.4h-3.2zM448.3 681.2h6.1v2.4h-6.1zM484.7 684.4h1.4v2.4h-1.4zM185.2 687.5h8.2v2.4h-8.2zM375.5 687.5h1.9v2.4h-1.9zM492.6 690.6h1.4v2.4h-1.4zM513.5 690.6h1.6v2.4h-1.6zM529.5 690.6h2.3v2.4h-2.3zM454.4 693.7h9.8v2.4h-9.8zM332.1 696.8h16.3v2.4h-16.3zM318.8 700h6.1v2.4h-6.1zM433 728h7.3v2.4h-7.3zM416.2 740.5h15.8v2.4h-15.8zM372.2 743.6h6.4v2.4h-6.4zM277.8 746.7h2.6v2.4h-2.6zM372.2 753h0.4v2.4h-0.4zM372.6 753h4v2.4h-4zM369.2 756.1h3v2.4h-3zM43.8 759.2h9.3v2.4h-9.3zM322.9 759.2h2v2.4h-2zM395.2 759.2h0.5v2.4h-0.5zM159.8 765.4h0.4v2.4h-0.4zM338.7 768.5h9.7v2.4h-9.7zM432 768.5h0.5v2.4h-0.5zM333.3 771.7h15.1v2.4h-15.1zM515.4 771.7h5.8v2.4h-5.8zM332.1 774.8h16.3v2.4h-16.3zM416.2 777.9h15.8v2.4h-15.8zM493.5 777.9h2.7v2.4h-2.7zM333.9 793.5h2v2.4h-2zM90.5 796.6h19.4v2.4h-19.4zM228.4 796.6h18.3v2.4h-18.3zM492.6 796.6h3.6v2.4h-3.6zM450.4 799.7h4v2.4h-4zM513.5 799.7h1.9v2.4h-1.9z"/><path fill="#F2F2FB" d="M468.5 650.1h9.7v2.4h-9.7zM513.5 650.1h1.3v2.4h-1.3zM372.2 653.2h5.2v2.4h-5.2zM505.5 653.2h2v2.4h-2zM280.7 656.3h2.2v2.4h-2.2zM324.9 659.4h3.1v2.4h-3.1zM357.7 662.5h12.9v2.4h-12.9zM513.5 662.5h0.9v2.4h-0.9zM514.4 662.5h1v2.4h-1zM532.1 662.5h8.4v2.4h-8.4zM200.6 668.8h16.2v2.4h-16.2zM378.6 668.8h0.8v2.4h-0.8zM396.7 668.8h0.9v2.4h-0.9zM208 671.9h8.8v2.4h-8.8zM227.2 671.9h8.1v2.4h-8.1zM375.7 675h0.9v2.4h-0.9zM494.7 678.1h1.5v2.4h-1.5zM529.5 678.1h11v2.4h-11zM321.9 681.2h3v2.4h-3zM481.4 681.2h2.5v2.4h-2.5zM464.2 684.4h4.3v2.4h-4.3zM74.6 687.5h15.9v2.4h-15.9zM464.2 687.5h4.3v2.4h-4.3zM464.2 693.7h2.7v2.4h-2.7zM448.9 696.8h1.3v2.4h-1.3zM502.6 700h4.9v2.4h-4.9zM397.6 703.1h8.9v2.4h-8.9zM411.6 703.1h2.9v2.4h-2.9zM515.4 703.1h5.8v2.4h-5.8zM90.5 706.2h26.5v2.4h-26.5zM454.4 706.2h9.8v2.4h-9.8zM274.9 712.4h7.4v2.4h-7.4zM348.4 712.4h9.3v2.4h-9.3zM492.6 712.4h0v2.4h-0zM480.7 715.5h0.2v2.4h-0.2zM300.3 718.7h8.3v2.4h-8.3zM331.4 718.7h0.6v2.4h-0.6zM160.2 724.9h25v2.4h-25zM512.7 724.9h0.8v2.4h-0.8zM332.1 731.1h10.2v2.4h-10.2zM433 731.1h5.8v2.4h-5.8zM481.4 731.1h10.2v2.4h-10.2zM151.3 734.2h2.2v2.4h-2.2zM332.1 734.2h16.3v2.4h-16.3zM378.6 734.2h11.7v2.4h-11.7zM433 734.2h15.3v2.4h-15.3zM493.8 740.5h2.3v2.4h-2.3zM103.3 743.6h13.7v2.4h-13.7zM90.5 749.8h26.5v2.4h-26.5zM492.6 749.8h0.9v2.4h-0.9zM152.3 753h7.9v2.4h-7.9zM454.4 753h6v2.4h-6zM500.3 756.1h2.3v2.4h-2.3zM513.5 756.1h1.9v2.4h-1.9zM454.4 759.2h9.8v2.4h-9.8zM481.4 759.2h11.2v2.4h-11.2zM160.2 765.4h19.8v2.4h-19.8zM484.5 765.4h8.1v2.4h-8.1zM448.3 768.5h5.2v2.4h-5.2zM308.6 771.7h12v2.4h-12zM374.1 771.7h4.5v2.4h-4.5zM300.3 774.8h8.3v2.4h-8.3zM513.5 777.9h1.9v2.4h-1.9zM481.4 781h8.1v2.4h-8.1zM492.6 781h2.4v2.4h-2.4zM160.2 784.1h17.6v2.4h-17.6zM158.7 790.4h1.4v2.4h-1.4zM513.5 793.5h1.2v2.4h-1.2zM433 796.6h15.3v2.4h-15.3zM332.1 799.7h16.3v2.4h-16.3zM494.8 799.7h1.4v2.4h-1.4zM464.2 802.8h4.3v2.4h-4.3zM496.7 802.8h5.9v2.4h-5.9z"/><path fill="#D3D3F3" d="M482.1 650.1h5.1v2.4h-5.1zM227.2 696.8h19.5v2.4h-19.5zM276.9 700h6v2.4h-6zM343.9 759.2h4.5v2.4h-4.5zM326.5 768.5h0.9v2.4h-0.9zM231.3 771.7h8.4v2.4h-8.4zM347.9 784.1h0.5v2.4h-0.5zM230 784.1h16.7v2.4h-16.7z"/><path fill="#FFE2E1" d="M487.2 650.1h5.4v2.4h-5.4zM416.2 656.3h1.2v2.4h-1.2zM185.2 662.5h4.1v2.4h-4.1zM529.5 665.7h11v2.4h-11zM132.6 671.9h18.7v2.4h-18.7zM522 693.7h1v2.4h-1zM503.4 696.8h1.3v2.4h-1.3zM507.5 706.2h6v2.4h-6zM282.9 715.5h12v2.4h-12zM414.5 746.7h1.7v2.4h-1.7zM493.5 749.8h0.9v2.4h-0.9zM535.5 753h1.1v2.4h-1.1zM502.8 756.1h4.7v2.4h-4.7zM257.6 784.1h6.6v2.4h-6.6zM521.2 796.6h1.8v2.4h-1.8zM540.5 799.7h15.8v2.4h-15.8zM37.7 802.8h8.9v2.4h-8.9z"/><path fill="#FFD5D3" d="M502.6 650.1h4.9v2.4h-4.9zM502.6 662.5h1v2.4h-1zM251.4 678.1h2.8v2.4h-2.8zM502.6 703.1h1.5v2.4h-1.5zM73 709.3h1.6v2.4h-1.6zM248.9 746.7h1.3v2.4h-1.3zM496.2 749.8h5.6v2.4h-5.6zM396.1 756.1h0.6v2.4h-0.6zM492.6 762.3h3.6v2.4h-3.6zM216.8 768.5h3v2.4h-3zM507.5 771.7h0.6v2.4h-0.6zM332.1 784.1h1v2.4h-1zM257.6 790.4h17.3v2.4h-17.3z"/><path fill="#FFC5C3" d="M507.5 650.1h6v2.4h-6zM264.6 690.6h10.3v2.4h-10.3zM220.1 784.1h7.1v2.4h-7.1zM357.7 784.1h14.5v2.4h-14.5z"/><path fill="#DEDEF6" d="M516.5 650.1h3.5v2.4h-3.5zM360.9 656.3h11.3v2.4h-11.3zM372.2 662.5h3.5v2.4h-3.5zM151.3 678.1h8.9v2.4h-8.9zM492 678.1h0.6v2.4h-0.6zM166.4 681.2h10.4v2.4h-10.4zM227.2 684.4h19.5v2.4h-19.5zM454.4 687.5h9.8v2.4h-9.8zM454.4 703.1h9.8v2.4h-9.8zM306.7 709.3h1.9v2.4h-1.9zM547.5 718.7h2v2.4h-2zM488.5 721.8h4.1v2.4h-4.1zM432 731.1h1v2.4h-1zM351.9 743.6h5.8v2.4h-5.8zM540.5 753h15.8v2.4h-15.8zM227.2 759.2h19.5v2.4h-19.5zM395.7 774.8h1.9v2.4h-1.9zM193.4 777.9h4.9v2.4h-4.9zM333.1 784.1h14.7v2.4h-14.7zM245.6 793.5h1.1v2.4h-1.1zM132.6 796.6h17.5v2.4h-17.5zM378.6 799.7h17.1v2.4h-17.1z"/><path fill="#FFE8E7" d="M520 650.1h1.2v2.4h-1.2zM521.2 653.2h0.8v2.4h-0.8zM523 653.2h6.5v2.4h-6.5zM540.5 653.2h15.8v2.4h-15.8zM433 656.3h2.9v2.4h-2.9zM441.2 656.3h7.1v2.4h-7.1zM510.1 656.3h3.4v2.4h-3.4zM481.4 668.8h11.2v2.4h-11.2zM502.6 668.8h3.6v2.4h-3.6zM528 668.8h1.5v2.4h-1.5zM246.7 671.9h10.9v2.4h-10.9zM523 671.9h6.5v2.4h-6.5zM522.2 675h0.8v2.4h-0.8zM132.6 678.1h10.6v2.4h-10.6zM216.8 693.7h10.4v2.4h-10.4zM523 693.7h2.1v2.4h-2.1zM540.5 696.8h1.6v2.4h-1.6zM496.2 700h0.4v2.4h-0.4zM216.8 709.3h1.1v2.4h-1.1zM524.8 712.4h4.7v2.4h-4.7zM521.7 715.5h0.9v2.4h-0.9zM74.6 718.7h5.1v2.4h-5.1zM220 718.7h4.5v2.4h-4.5zM246.7 718.7h10.9v2.4h-10.9zM549.5 718.7h6.8v2.4h-6.8zM507.5 721.8h6v2.4h-6zM216.8 724.9h4v2.4h-4zM416.2 724.9h4.7v2.4h-4.7zM521.9 724.9h1.1v2.4h-1.1zM395.7 731.1h1.9v2.4h-1.9zM467.1 731.1h1.4v2.4h-1.4zM535.7 734.2h1.8v2.4h-1.8zM521.2 740.5h1.8v2.4h-1.8zM486.5 746.7h1.6v2.4h-1.6zM151.3 749.8h0.5v2.4h-0.5zM354.8 753h2.9v2.4h-2.9zM127.9 756.1h4.7v2.4h-4.7zM522.2 756.1h0.2v2.4h-0.2zM63.5 759.2h11.1v2.4h-11.1zM526.3 762.3h3.2v2.4h-3.2zM377.9 774.8h0.7v2.4h-0.7zM74.6 781h13.6v2.4h-13.6zM193.4 781h23.4v2.4h-23.4zM522.6 781h0.4v2.4h-0.4zM529.5 790.4h11v2.4h-11zM357.7 793.5h7.6v2.4h-7.6zM502.6 793.5h0.1v2.4h-0.1zM160.2 799.7h25v2.4h-25zM74.6 802.8h15.2v2.4h-15.2zM246.7 802.8h10.9v2.4h-10.9z"/><path fill="#FFD1CE" d="M521.2 650.1h1.8v2.4h-1.8zM395.7 749.8h1.9v2.4h-1.9zM540.5 749.8h11.3v2.4h-11.3z"/><path fill="#F0F0FB" d="M242.1 653.2h4.6v2.4h-4.6zM364.6 659.4h7.6v2.4h-7.6zM416.2 659.4h12.5v2.4h-12.5zM194.4 662.5h14.1v2.4h-14.1zM375.7 662.5h2.9v2.4h-2.9zM464.2 662.5h4.3v2.4h-4.3zM160.2 665.7h16.1v2.4h-16.1zM244 668.8h2.7v2.4h-2.7zM502.6 681.2h1.3v2.4h-1.3zM380.1 687.5h5.7v2.4h-5.7zM324.9 693.7h1.5v2.4h-1.5zM513.5 693.7h0.4v2.4h-0.4zM378.6 696.8h17.1v2.4h-17.1zM466.7 696.8h1.8v2.4h-1.8zM416.2 700h15.8v2.4h-15.8zM478.8 706.2h2.6v2.4h-2.6zM468.5 709.3h0.5v2.4h-0.5zM432 712.4h1v2.4h-1zM513.5 718.7h0.4v2.4h-0.4zM432 721.8h1v2.4h-1zM90.5 728h26.5v2.4h-26.5zM239.7 731.1h4.1v2.4h-4.1zM308.6 734.2h16.3v2.4h-16.3zM324.9 734.2h0.8v2.4h-0.8zM494.4 734.2h1.8v2.4h-1.8zM445.1 737.4h3.2v2.4h-3.2zM464.2 737.4h1v2.4h-1zM378.6 740.5h17.1v2.4h-17.1zM411.6 740.5h2.9v2.4h-2.9zM36.3 743.6h16.8v2.4h-16.8zM151.3 746.7h8.9v2.4h-8.9zM507.5 749.8h6v2.4h-6zM276.6 753h6.3v2.4h-6.3zM316.5 756.1h8.4v2.4h-8.4zM433 756.1h15.3v2.4h-15.3zM185.2 759.2h8.2v2.4h-8.2zM498.4 759.2h3.9v2.4h-3.9zM416.2 771.7h2.3v2.4h-2.3zM372.2 777.9h2.1v2.4h-2.1zM487.1 777.9h5.5v2.4h-5.5zM448.9 781h4.4v2.4h-4.4zM151.3 787.2h6.6v2.4h-6.6zM397.6 793.5h16.9v2.4h-16.9zM497.3 793.5h5.3v2.4h-5.3zM496.2 796.6h6.4v2.4h-6.4z"/><path fill="#FFDCDA" d="M250.2 653.2h7.4v2.4h-7.4zM132.6 659.4h18.7v2.4h-18.7zM257.6 659.4h10v2.4h-10zM502.6 665.7h1.3v2.4h-1.3zM440.8 687.5h3v2.4h-3zM191.4 700h2v2.4h-2zM492.6 700h3.6v2.4h-3.6zM507.5 715.5h0.6v2.4h-0.6zM132.6 721.8h18.7v2.4h-18.7zM502.6 740.5h4.9v2.4h-4.9zM539.5 740.5h1v2.4h-1zM502.6 753h0.1v2.4h-0.1zM507 777.9h0.5v2.4h-0.5zM216.8 802.8h10.4v2.4h-10.4zM352.7 802.8h4.4v2.4h-4.4z"/><path fill="#FFCBC9" d="M274 653.2h0.9v2.4h-0.9zM525.9 665.7h2.6v2.4h-2.6zM253.2 675h3.4v2.4h-3.4zM528.4 678.1h1.1v2.4h-1.1zM248.9 740.5h4.4v2.4h-4.4zM73.9 762.3h0.7v2.4h-0.7zM216.8 771.7h9.1v2.4h-9.1zM478.2 771.7h3.2v2.4h-3.2z"/><path fill="#F4F4FC" d="M370.8 653.2h0.9v2.4h-0.9zM385.5 653.2h10.2v2.4h-10.2zM328.2 671.9h3.9v2.4h-3.9zM160.2 681.2h6.2v2.4h-6.2zM372.2 693.7h1.2v2.4h-1.2zM416.2 731.1h15.8v2.4h-15.8zM390.3 734.2h5.4v2.4h-5.4zM220.6 749.8h5.5v2.4h-5.5zM227.2 753h19.5v2.4h-19.5zM357.7 759.2h14.5v2.4h-14.5zM37.3 771.7h5.1v2.4h-5.1zM372.2 771.7h1.9v2.4h-1.9zM496.2 787.2h6.4v2.4h-6.4zM520.9 787.2h0.3v2.4h-0.3zM493.9 793.5h0.9v2.4h-0.9zM378.6 796.6h17.1v2.4h-17.1zM192.9 802.8h0.5v2.4h-0.5z"/><path fill="#DDDDF5" d="M397.6 653.2h6.6v2.4h-6.6zM189.7 700h1.7v2.4h-1.7zM348.4 731.1h9.3v2.4h-9.3zM397.6 771.7h16.9v2.4h-16.9z"/><path fill="#FFEDEC" d="M493.9 653.2h1.2v2.4h-1.2zM331.3 656.3h0.8v2.4h-0.8zM88.1 662.5h2.4v2.4h-2.4zM308.6 662.5h13.7v2.4h-13.7zM540.5 665.7h2.9v2.4h-2.9zM495.3 668.8h0.9v2.4h-0.9zM293 675h7.3v2.4h-7.3zM414.5 675h1.1v2.4h-1.1zM300.3 678.1h8.3v2.4h-8.3zM39.4 681.2h4.6v2.4h-4.6zM528.1 681.2h1.4v2.4h-1.4zM212.3 684.4h4.5v2.4h-4.5zM464.2 684.4h0v2.4h-0zM534.4 687.5h6.1v2.4h-6.1zM50.9 696.8h2.2v2.4h-2.2zM160.2 696.8h25v2.4h-25zM414.5 696.8h1.7v2.4h-1.7zM529.5 700h6.6v2.4h-6.6zM480.6 709.3h0.8v2.4h-0.8zM484.6 709.3h8v2.4h-8zM289.5 712.4h10.8v2.4h-10.8zM132.3 715.5h0.3v2.4h-0.3zM521.2 715.5h0.5v2.4h-0.5zM185.2 724.9h3.9v2.4h-3.9zM420.9 724.9h2.4v2.4h-2.4zM380.9 728h14.8v2.4h-14.8zM117 734.2h15.6v2.4h-15.6zM140.6 743.6h9.4v2.4h-9.4zM527.1 743.6h2.4v2.4h-2.4zM216.8 749.8h3.8v2.4h-3.8zM289.6 756.1h10.7v2.4h-10.7zM507.6 762.3h4.4v2.4h-4.4zM246.7 774.8h10.9v2.4h-10.9zM297.3 777.9h3v2.4h-3zM432 784.1h0.4v2.4h-0.4zM348.4 787.2h9.3v2.4h-9.3zM372.8 787.2h5.2v2.4h-5.2zM416.2 787.2h15.8v2.4h-15.8zM496.2 790.4h6.4v2.4h-6.4zM489.4 793.5h3.2v2.4h-3.2zM448.3 796.6h6.1v2.4h-6.1zM468.5 796.6h9.7v2.4h-9.7zM502.6 799.7h4.9v2.4h-4.9zM257.6 802.8h17.3v2.4h-17.3zM300.3 802.8h8.3v2.4h-8.3z"/><path fill="#FFEEEE" d="M513.5 653.2h0.1v2.4h-0.1zM298.9 659.4h1.4v2.4h-1.4zM450.8 675h3.6v2.4h-3.6zM450.2 696.8h4.2v2.4h-4.2zM450.9 703.1h3v2.4h-3zM454.4 712.4h3.5v2.4h-3.5zM151.3 715.5h3v2.4h-3zM397.6 734.2h1.8v2.4h-1.8zM478 746.7h0.2v2.4h-0.2zM477.6 762.3h0.6v2.4h-0.6z"/><path fill="#FFDDDC" d="M74.6 656.3h10.1v2.4h-10.1zM246.7 659.4h3.4v2.4h-3.4zM429.4 678.1h0.6v2.4h-0.6zM540.5 690.6h12.2v2.4h-12.2zM492.6 696.8h0.5v2.4h-0.5zM332.1 700h5.8v2.4h-5.8zM523 718.7h3.8v2.4h-3.8zM372.2 721.8h6.4v2.4h-6.4zM521.2 731.1h1.8v2.4h-1.8zM261.2 734.2h13.7v2.4h-13.7zM67 762.3h6.9v2.4h-6.9zM117 768.5h11.3v2.4h-11.3zM528.1 768.5h0.9v2.4h-0.9zM257.6 781h10.8v2.4h-10.8zM523 784.1h3.2v2.4h-3.2zM356.4 790.4h1.3v2.4h-1.3zM414.5 796.6h1.4v2.4h-1.4z"/><path fill="#FFD6D5" d="M84.7 656.3h5.8v2.4h-5.8zM502.6 696.8h0.8v2.4h-0.8zM216.8 796.6h10.2v2.4h-10.2z"/><path fill="#FFDFDE" d="M117 656.3h15.6v2.4h-15.6zM257.6 656.3h17.3v2.4h-17.3zM507.5 659.4h6v2.4h-6zM53.1 662.5h21.5v2.4h-21.5zM216.8 662.5h2.6v2.4h-2.6zM74.6 665.7h15.9v2.4h-15.9zM324.9 675h3.6v2.4h-3.6zM507.5 675h3.8v2.4h-3.8zM141.7 681.2h9.6v2.4h-9.6zM507.5 681.2h2.8v2.4h-2.8zM468.5 687.5h9.7v2.4h-9.7zM75.9 724.9h12v2.4h-12zM282.9 743.6h9v2.4h-9zM523 777.9h6.5v2.4h-6.5z"/><path fill="#D6D6F4" d="M151.3 656.3h2.2v2.4h-2.2zM324.9 684.4h0.6v2.4h-0.6zM397.6 687.5h16.9v2.4h-16.9zM378.6 700h17.1v2.4h-17.1zM513.5 724.9h1.9v2.4h-1.9zM324.9 749.8h7.2v2.4h-7.2zM332.1 756.1h15.9v2.4h-15.9zM31.3 768.5h2.5v2.4h-2.5zM432 799.7h1v2.4h-1z"/><path fill="#ECECF9" d="M227.2 656.3h19.5v2.4h-19.5zM286.2 665.7h14.1v2.4h-14.1zM31.3 687.5h21.8v2.4h-21.8zM372.2 703.1h6.4v2.4h-6.4zM513.5 728h0.9v2.4h-0.9zM357.7 731.1h3v2.4h-3zM326.6 756.1h5.5v2.4h-5.5zM160.2 759.2h5.9v2.4h-5.9zM338 768.5h0.8v2.4h-0.8zM227.2 777.9h0.9v2.4h-0.9zM470.9 781h5.1v2.4h-5.1zM185.2 799.7h8.2v2.4h-8.2zM395.7 799.7h1.9v2.4h-1.9zM414.5 799.7h1.7v2.4h-1.7z"/><path fill="#BCBCED" d="M300.3 656.3h0.9v2.4h-0.9z"/><path fill="#C4C4EF" d="M308.6 656.3h16.3v2.4h-16.3zM324.9 743.6h0.8v2.4h-0.8zM193.4 749.8h10.7v2.4h-10.7zM397.6 799.7h11.6v2.4h-11.6z"/><path fill="#DCDCF5" d="M324.9 656.3h2.2v2.4h-2.2zM397.6 656.3h0.9v2.4h-0.9zM160.2 684.4h2.4v2.4h-2.4zM398.5 696.8h16v2.4h-16zM515.2 709.3h0.2v2.4h-0.2zM378.6 721.8h17.1v2.4h-17.1zM481.4 734.2h11.2v2.4h-11.2zM132.6 740.5h0.9v2.4h-0.9zM516 749.8h5.2v2.4h-5.2zM507.6 753h4.4v2.4h-4.4zM513.5 753h1.9v2.4h-1.9zM464.2 762.3h4.3v2.4h-4.3zM486.4 762.3h6.2v2.4h-6.2zM324.9 765.4h3.4v2.4h-3.4zM300.3 799.7h5.3v2.4h-5.3zM519 799.7h2.2v2.4h-2.2zM325 731.1h23v2.4h-23zM325 740.5h23v2.4h-23zM325 743.6h23v2.4h-23z"/><path fill="#FFD9D7" d="M432 656.3h0.6v2.4h-0.6zM492.6 656.3h1.7v2.4h-1.7zM503.9 665.7h1.9v2.4h-1.9zM494.5 684.4h1.7v2.4h-1.7zM224.4 709.3h2.8v2.4h-2.8zM506.6 724.9h0.6v2.4h-0.6zM257.6 740.5h6.5v2.4h-6.5zM468.5 768.5h9.7v2.4h-9.7zM48.9 774.8h4.2v2.4h-4.2zM53.1 790.4h8.6v2.4h-8.6zM64.6 790.4h10v2.4h-10zM251.3 790.4h4.8v2.4h-4.8zM273 793.5h1.9v2.4h-1.9zM274.9 796.6h6.1v2.4h-6.1z"/><path fill="#FFD3D1" d="M435.9 656.3h5.3v2.4h-5.3zM540.5 656.3h15.5v2.4h-15.5zM521.2 684.4h0.3v2.4h-0.3zM454 703.1h0.4v2.4h-0.4zM397.6 709.3h16.9v2.4h-16.9zM507.3 724.9h0.2v2.4h-0.2zM507.5 743.6h3.1v2.4h-3.1zM53.1 746.7h21.5v2.4h-21.5zM246.7 777.9h6.1v2.4h-6.1zM521.3 784.1h1.1v2.4h-1.1z"/><path fill="#FFD9D8" d="M468.5 656.3h9.7v2.4h-9.7zM246.7 662.5h10.9v2.4h-10.9zM521.8 678.1h1.2v2.4h-1.2zM507.8 684.4h5.7v2.4h-5.7zM224 703.1h3.2v2.4h-3.2zM523 749.8h5.8v2.4h-5.8zM509.6 799.7h3.9v2.4h-3.9z"/><path fill="#DBDBF5" d="M489.1 656.3h3.5v2.4h-3.5zM303.6 681.2h5v2.4h-5zM478.2 681.2h3.2v2.4h-3.2zM515.4 687.5h2.8v2.4h-2.8zM414.5 690.6h0.8v2.4h-0.8zM416.2 721.8h15.8v2.4h-15.8zM360.7 731.1h0.4v2.4h-0.4zM193.4 740.5h23.4v2.4h-23.4zM432.3 753h0.4v2.4h-0.4zM325.2 756.1h1.4v2.4h-1.4zM330.2 762.3h1.9v2.4h-1.9zM396.6 784.1h1v2.4h-1zM230 746.7h16.7v2.4h-16.7z"/><path fill="#FFD0CE" d="M507.5 656.3h0.4v2.4h-0.4zM257.6 684.4h17.3v2.4h-17.3zM77.4 696.8h13.1v2.4h-13.1zM504.1 703.1h3.3v2.4h-3.3zM260.6 715.5h7.5v2.4h-7.5zM126.9 724.9h5.7v2.4h-5.7zM66.4 768.5h8.2v2.4h-8.2zM432.4 802.8h0.6v2.4h-0.6z"/><path fill="#D8D8F4" d="M513.5 656.3h1.9v2.4h-1.9zM176.3 665.7h8.9v2.4h-8.9zM300.7 681.2h2.9v2.4h-2.9zM324.9 703.1h5.3v2.4h-5.3zM332.1 721.8h9.2v2.4h-9.2zM300.3 724.9h8.3v2.4h-8.3zM346.1 743.6h2.3v2.4h-2.3zM274.9 762.3h8v2.4h-8zM397.6 784.1h12.9v2.4h-12.9zM513.5 790.4h1.1v2.4h-1.1zM99.6 793.5h17.4v2.4h-17.4zM414.5 799.7h0v2.4h-0zM230 743.6h16.7v2.4h-16.7zM325 734.2h23v2.4h-23zM325 737.4h23v2.4h-23z"/><path fill="#FFDAD8" d="M250.1 659.4h6.8v2.4h-6.8zM382.6 665.7h13.1v2.4h-13.1zM246.7 678.1h4.7v2.4h-4.7zM74.6 681.2h10v2.4h-10zM53.1 684.4h21.5v2.4h-21.5zM246.7 709.3h3.8v2.4h-3.8zM464.2 724.9h4.3v2.4h-4.3zM551.8 749.8h1.4v2.4h-1.4zM503.1 768.5h0.8v2.4h-0.8zM246.7 771.7h10.9v2.4h-10.9zM481.6 771.7h11v2.4h-11zM489.8 781h2.8v2.4h-2.8zM371.4 799.7h0.8v2.4h-0.8z"/><path fill="#FFB8B5" d="M267.6 659.4h7.3v2.4h-7.3zM272.7 740.5h2.2v2.4h-2.2z"/><path fill="#FFF2F1" d="M414.5 659.4h1.7v2.4h-1.7zM433 659.4h15.3v2.4h-15.3zM494.2 659.4h2v2.4h-2zM132.6 662.5h3.1v2.4h-3.1zM189.1 665.7h4.3v2.4h-4.3zM466.9 665.7h1.6v2.4h-1.6zM513.5 668.8h0.7v2.4h-0.7zM282.9 675h1.9v2.4h-1.9zM156.6 690.6h3.6v2.4h-3.6zM185.2 700h4.5v2.4h-4.5zM397.6 706.2h4.6v2.4h-4.6zM448.3 709.3h6.1v2.4h-6.1zM498.8 712.4h3.8v2.4h-3.8zM527.3 715.5h2.2v2.4h-2.2zM464.2 721.8h0.8v2.4h-0.8zM395.7 724.9h1.6v2.4h-1.6zM134.7 728h3.1v2.4h-3.1zM540.5 728h15.8v2.4h-15.8zM502.6 734.2h3.7v2.4h-3.7zM132.6 746.7h18.7v2.4h-18.7zM216.8 746.7h6.7v2.4h-6.7zM448.3 746.7h2.2v2.4h-2.2zM188.5 749.8h3.5v2.4h-3.5zM348.4 749.8h9.3v2.4h-9.3zM309.8 753h14.5v2.4h-14.5zM523 753h6.5v2.4h-6.5zM416 756.1h0.2v2.4h-0.2zM132.6 759.2h9.7v2.4h-9.7zM521.2 765.4h1.8v2.4h-1.8zM433 771.7h14.2v2.4h-14.2zM506.9 771.7h0.6v2.4h-0.6zM151.3 774.8h1.3v2.4h-1.3zM496.2 777.9h6.4v2.4h-6.4zM348.4 781h8.7v2.4h-8.7zM414.5 781h1.7v2.4h-1.7zM532.3 787.2h8.2v2.4h-8.2zM526.9 790.4h2.6v2.4h-2.6zM492.6 793.5h1.3v2.4h-1.3z"/><path fill="#ECECFA" d="M478.2 659.4h3.2v2.4h-3.2zM227.2 665.7h9.1v2.4h-9.1zM169.1 668.8h11.6v2.4h-11.6zM376.6 675h2v2.4h-2zM328 678.1h0.7v2.4h-0.7zM193.4 690.6h23.4v2.4h-23.4zM481.5 690.6h10.2v2.4h-10.2zM328.3 693.7h3.8v2.4h-3.8zM318.1 700h0.7v2.4h-0.7zM415.3 703.1h0.9v2.4h-0.9zM115.2 709.3h1.8v2.4h-1.8zM348.4 728h4.1v2.4h-4.1zM397.6 728h5v2.4h-5zM243.9 731.1h2.8v2.4h-2.8zM478.2 731.1h1.7v2.4h-1.7zM478.2 734.2h3.2v2.4h-3.2zM358.8 740.5h13.4v2.4h-13.4zM332.1 743.6h4.2v2.4h-4.2zM478.2 746.7h3v2.4h-3zM513.8 746.7h1.6v2.4h-1.6zM492.6 756.1h1.5v2.4h-1.5zM320.6 771.7h4.3v2.4h-4.3zM282.9 790.4h3.8v2.4h-3.8zM326.2 802.8h2v2.4h-2z"/><path fill="#FFDBD9" d="M500.8 659.4h1.8v2.4h-1.8zM117 700h15.6v2.4h-15.6zM397.6 743.6h16.9v2.4h-16.9zM204.1 749.8h10.3v2.4h-10.3zM409.4 749.8h5.1v2.4h-5.1zM265.3 759.2h9.6v2.4h-9.6zM522.9 762.3h0.1v2.4h-0.1zM523 762.3h2.9v2.4h-2.9zM131.2 768.5h1.4v2.4h-1.4zM226.1 768.5h1.1v2.4h-1.1zM429.9 771.7h2.1v2.4h-2.1zM521.2 771.7h0.1v2.4h-0.1zM248.3 781h3.4v2.4h-3.4zM432.5 784.1h0.5v2.4h-0.5zM254.5 787.2h3.1v2.4h-3.1zM246.7 799.7h10.9v2.4h-10.9z"/><path fill="#FFDBDA" d="M502.6 659.4h4.9v2.4h-4.9zM262.9 662.5h12v2.4h-12zM433 678.1h1.7v2.4h-1.7zM132.6 696.8h18.5v2.4h-18.5zM507.5 756.1h6v2.4h-6zM512 762.3h1.5v2.4h-1.5zM216.8 774.8h10.4v2.4h-10.4zM53.1 781h21.5v2.4h-21.5zM188.2 784.1h4.5v2.4h-4.5z"/><path fill="#FFD2D0" d="M526.7 659.4h2.8v2.4h-2.8zM189.6 675h3.7v2.4h-3.7zM246.7 703.1h10.9v2.4h-10.9zM148.3 709.3h3v2.4h-3zM272.1 718.7h2.8v2.4h-2.8zM513.3 781h0.2v2.4h-0.2zM492.6 784.1h3.6v2.4h-3.6zM216.8 796.6h5.6v2.4h-5.6zM222.4 796.6h4.8v2.4h-4.8zM468.5 799.7h9.7v2.4h-9.7zM357.1 802.8h0.6v2.4h-0.6zM522.1 802.8h0.7v2.4h-0.7z"/><path fill="#D0D0F2" d="M151.3 662.5h8.9v2.4h-8.9zM305.2 687.5h3.4v2.4h-3.4zM308.6 749.8h16.3v2.4h-16.3zM395.7 771.7h1.9v2.4h-1.9zM230 787.2h16.7v2.4h-16.7z"/><path fill="#FFD1CF" d="M189.3 662.5h2.9v2.4h-2.9zM219.4 662.5h7.8v2.4h-7.8zM523 678.1h4.5v2.4h-4.5zM540.5 684.4h15.8v2.4h-15.8zM448.3 687.5h6.1v2.4h-6.1zM246.7 715.5h1.6v2.4h-1.6zM257.6 715.5h3v2.4h-3zM180.7 721.8h4.5v2.4h-4.5zM282.9 724.9h17.4v2.4h-17.4zM282.9 746.7h8.2v2.4h-8.2zM553.2 749.8h3.1v2.4h-3.1zM117 762.3h7.9v2.4h-7.9zM219.8 768.5h6.3v2.4h-6.3zM508.1 771.7h4.1v2.4h-4.1zM469.8 784.1h7.1v2.4h-7.1zM507.5 790.4h6v2.4h-6zM363.9 796.6h6.5v2.4h-6.5zM515.4 796.6h0.5v2.4h-0.5z"/><path fill="#FFCECB" d="M192.2 662.5h1.2v2.4h-1.2zM128.3 768.5h2.9v2.4h-2.9z"/><path fill="#FFCECC" d="M257.6 662.5h5.3v2.4h-5.3zM257.6 678.1h17.3v2.4h-17.3zM509.1 718.7h0.2v2.4h-0.2zM468.5 749.8h5v2.4h-5zM246.7 753h10.9v2.4h-10.9zM257.6 768.5h8.4v2.4h-8.4zM508 774.8h3.7v2.4h-3.7z"/><path fill="#D2D2F3" d="M305.2 662.5h2.5v2.4h-2.5zM335.4 675h13v2.4h-13zM227.2 687.5h19.5v2.4h-19.5zM396.9 696.8h0.7v2.4h-0.7zM418.2 703.1h13.8v2.4h-13.8zM432.5 768.5h0.5v2.4h-0.5zM193.4 784.1h8.8v2.4h-8.8z"/><path fill="#E8E8F9" d="M354.1 662.5h0.4v2.4h-0.4zM397.6 675h16.9v2.4h-16.9zM346.7 681.2h0.7v2.4h-0.7zM515.4 681.2h1.2v2.4h-1.2zM515.4 684.4h0v2.4h-0zM430.1 690.6h1.9v2.4h-1.9zM397.3 724.9h0.3v2.4h-0.3zM38.8 746.7h3.6v2.4h-3.6zM528.8 749.8h0.7v2.4h-0.7zM397.6 781h13.1v2.4h-13.1zM193.4 802.8h23.4v2.4h-23.4z"/><path fill="#FFC3C0" d="M432 662.5h1v2.4h-1zM523 665.7h0v2.4h-0zM246.7 681.2h10.9v2.4h-10.9zM74.6 700h15.9v2.4h-15.9zM53.1 721.8h10.8v2.4h-10.8zM348.4 771.7h9.3v2.4h-9.3z"/><path fill="#D7D7F4" d="M41.6 665.7h6.7v2.4h-6.7zM502.2 681.2h0.4v2.4h-0.4zM324.9 696.8h2.3v2.4h-2.3zM348.4 696.8h7.6v2.4h-7.6zM332.1 740.5h16.3v2.4h-16.3zM513.9 759.2h0.2v2.4h-0.2zM503.9 768.5h3.6v2.4h-3.6zM151.3 790.4h7.4v2.4h-7.4z"/><path fill="#FFDCDB" d="M117 665.7h3.9v2.4h-3.9zM429.7 665.7h2.3v2.4h-2.3zM291.1 681.2h9.2v2.4h-9.2zM163.5 721.8h17.1v2.4h-17.1zM507.5 728h2.5v2.4h-2.5zM523 728h1v2.4h-1zM524.4 740.5h5.1v2.4h-5.1zM250.2 746.7h7.4v2.4h-7.4zM526.4 759.2h3.1v2.4h-3.1zM422.8 762.3h9.2v2.4h-9.2zM90.5 771.7h26.5v2.4h-26.5zM64.7 793.5h9.9v2.4h-9.9z"/><path fill="#D4D4F3" d="M348.4 665.7h2.3v2.4h-2.3zM193.4 675h23.4v2.4h-23.4zM300.3 675h1.5v2.4h-1.5zM357.7 700h14.5v2.4h-14.5zM117 724.9h9.9v2.4h-9.9zM193.4 799.7h23.4v2.4h-23.4z"/><path fill="#FFDAD9" d="M395.7 665.7h0.3v2.4h-0.3zM216.8 668.8h10.4v2.4h-10.4zM53.1 687.5h21.5v2.4h-21.5zM31.3 703.1h21.8v2.4h-21.8zM53.1 740.5h21.5v2.4h-21.5zM454.4 749.8h9.8v2.4h-9.8zM185.2 753h8.2v2.4h-8.2zM227.1 790.4h0.1v2.4h-0.1zM482.3 793.5h7.1v2.4h-7.1zM246.7 796.6h10.9v2.4h-10.9z"/><path fill="#C9C9F0" d="M397.6 665.7h15v2.4h-15zM357.7 684.4h0v2.4h-0zM480.1 703.1h1.3v2.4h-1.3zM324.9 768.5h1.6v2.4h-1.6zM521.1 784.1h0.1v2.4h-0.1z"/><path fill="#CBCBF1" d="M412.6 665.7h1.9v2.4h-1.9zM481.4 724.9h11.2v2.4h-11.2zM433 749.8h9.7v2.4h-9.7zM227.2 768.5h19.5v2.4h-19.5zM395.7 796.6h0.8v2.4h-0.8z"/><path fill="#D5D5F3" d="M416.2 665.7h13.5v2.4h-13.5zM60.2 696.8h14.4v2.4h-14.4zM227.2 700h2.6v2.4h-2.6zM159.3 709.3h0.9v2.4h-0.9zM324.9 709.3h4v2.4h-4zM348.4 721.8h8.3v2.4h-8.3zM326.5 743.6h5.6v2.4h-5.6zM227.2 756.1h8.7v2.4h-8.7zM193.4 768.5h23.4v2.4h-23.4zM433 768.5h15.3v2.4h-15.3zM325.4 774.8h6.7v2.4h-6.7zM411 784.1h3.5v2.4h-3.5zM230 774.8h16.7v2.4h-16.7zM230 781h16.7v2.4h-16.7zM349 715.5h23v2.4h-23z"/><path fill="#FFEFEF" d="M473.4 665.7h1v2.4h-1zM255.1 668.8h2.5v2.4h-2.5zM470.8 671.9h6.9v2.4h-6.9zM87.9 734.2h2.6v2.4h-2.6zM521.2 737.4h1.8v2.4h-1.8zM374.3 749.8h4.3v2.4h-4.3zM414.5 749.8h1.7v2.4h-1.7zM378.6 753h5.1v2.4h-5.1zM53.1 756.1h18.2v2.4h-18.2zM180.8 762.3h3.5v2.4h-3.5zM502.6 777.9h0.2v2.4h-0.2zM160.2 781h25v2.4h-25zM391.9 781h3.8v2.4h-3.8z"/><path fill="#FFA29E" d="M507.5 665.7h2.3v2.4h-2.3z"/><path fill="#FFCCCA" d="M509.8 665.7h1.7v2.4h-1.7zM434.7 678.1h13.6v2.4h-13.6zM507.5 684.4h0.3v2.4h-0.3zM433 700h15.3v2.4h-15.3zM505.9 709.3h1.6v2.4h-1.6zM507.5 709.3h6v2.4h-6zM448.3 771.7h1.1v2.4h-1.1zM185.2 784.1h3v2.4h-3zM478.2 799.7h3.2v2.4h-3.2z"/><path fill="#FFC1BE" d="M523 665.7h2.9v2.4h-2.9zM502.6 768.5h0.5v2.4h-0.5zM522.9 771.7h0.1v2.4h-0.1zM533.6 799.7h6.9v2.4h-6.9z"/><path fill="#FFCAC8" d="M528.6 665.7h0.9v2.4h-0.9zM521.2 681.2h1.8v2.4h-1.8zM502.6 721.8h4.9v2.4h-4.9z"/><path fill="#E0E0F6" d="M300.3 668.8h3.1v2.4h-3.1zM332.1 678.1h16.3v2.4h-16.3zM185.8 696.8h0.8v2.4h-0.8zM132.6 709.3h15.7v2.4h-15.7zM332.1 718.7h16.3v2.4h-16.3zM193.4 721.8h23.4v2.4h-23.4zM328.4 721.8h3.7v2.4h-3.7zM519.5 731.1h1.7v2.4h-1.7zM182.3 749.8h2.9v2.4h-2.9zM300.3 749.8h8.3v2.4h-8.3zM151.3 753h1v2.4h-1zM478.2 762.3h0.5v2.4h-0.5zM333.7 790.4h13.1v2.4h-13.1zM325 749.8h23v2.4h-23z"/><path fill="#FFEDED" d="M216.8 671.9h10.4v2.4h-10.4zM74.6 678.1h2.4v2.4h-2.4zM529.5 715.5h11v2.4h-11zM74.6 724.9h1.3v2.4h-1.3zM308.6 740.5h16.3v2.4h-16.3zM481.4 753h11.2v2.4h-11.2zM153.8 781h6.4v2.4h-6.4zM415.6 787.2h0.6v2.4h-0.6zM150.1 796.6h1.2v2.4h-1.2z"/><path fill="#FFE0DF" d="M522.1 671.9h0.9v2.4h-0.9zM497.7 681.2h4.4v2.4h-4.4zM270 696.8h4.9v2.4h-4.9zM55.4 703.1h19.2v2.4h-19.2zM282.9 703.1h17.4v2.4h-17.4zM540.5 703.1h3.3v2.4h-3.3zM53.1 715.5h21.5v2.4h-21.5zM454.4 718.7h9.8v2.4h-9.8zM523 724.9h1.4v2.4h-1.4zM521.2 728h1.8v2.4h-1.8zM56.5 731.1h18.1v2.4h-18.1zM117 759.2h6v2.4h-6zM525.9 762.3h0.5v2.4h-0.5zM460.4 790.4h3.8v2.4h-3.8z"/><path fill="#FFCAC7" d="M256.5 675h1.1v2.4h-1.1zM523 684.4h6.5v2.4h-6.5zM522.4 687.5h0.6v2.4h-0.6zM481.4 721.8h7.1v2.4h-7.1zM521.2 762.3h1.3v2.4h-1.3zM53.1 774.8h21.5v2.4h-21.5zM521.4 799.7h1.6v2.4h-1.6z"/><path fill="#CFCFF2" d="M301.8 675h6.8v2.4h-6.8zM514.3 696.8h1.1v2.4h-1.1zM488.9 703.1h3.7v2.4h-3.7zM514.3 749.8h0.2v2.4h-0.2zM332.1 768.5h5.9v2.4h-5.9zM230 740.5h16.7v2.4h-16.7z"/><path fill="#C8C8F0" d="M115.1 678.1h1.9v2.4h-1.9zM348.4 709.3h0.1v2.4h-0.1zM302.1 740.5h3.1v2.4h-3.1zM395.7 790.4h1.9v2.4h-1.9zM305.6 799.7h3v2.4h-3z"/><path fill="#FFE7E5" d="M282.9 678.1h17.4v2.4h-17.4zM546.2 696.8h10.1v2.4h-10.1z"/><path fill="#FFEAEA" d="M397.6 678.1h16.9v2.4h-16.9zM492.6 681.2h0.3v2.4h-0.3zM389.1 690.6h6.3v2.4h-6.3zM496.2 753h1.3v2.4h-1.3zM478.5 774.8h1.5v2.4h-1.5z"/><path fill="#FFBCB9" d="M477.9 678.1h0.3v2.4h-0.3zM269.5 746.7h5.4v2.4h-5.4zM262 678.1h12.9v2.4h-12.9z"/><path fill="#FFC7C5" d="M502.6 678.1h3.7v2.4h-3.7zM246.7 687.5h10.9v2.4h-10.9zM521.2 687.5h0.9v2.4h-0.9zM522.1 687.5h0.3v2.4h-0.3zM507.5 696.8h0.2v2.4h-0.2zM510.8 724.9h1.8v2.4h-1.8zM473.5 749.8h4.7v2.4h-4.7z"/><path fill="#FFD4D3" d="M513.6 678.1h0.8v2.4h-0.8zM448.3 774.8h6.1v2.4h-6.1z"/><path fill="#FFC9C7" d="M521.2 678.1h0.2v2.4h-0.2zM523 687.5h6.5v2.4h-6.5zM249.7 700h7.9v2.4h-7.9zM160.2 753h25v2.4h-25z"/><path fill="#FFBEBB" d="M521.4 678.1h0.3v2.4h-0.3zM511.9 753h1.6v2.4h-1.6zM507.5 799.7h2.1v2.4h-2.1zM258.5 671.9h16.4v2.4h-16.4z"/><path fill="#FFD8D6" d="M503.9 681.2h3.6v2.4h-3.6zM372.2 687.5h3.3v2.4h-3.3zM505.3 687.5h2.1v2.4h-2.1zM254.3 690.6h3.3v2.4h-3.3zM468.5 696.8h9.7v2.4h-9.7zM250.5 731.1h0.2v2.4h-0.2zM525.8 731.1h3.7v2.4h-3.7zM467.9 749.8h0.1v2.4h-0.1zM33.8 768.5h19.3v2.4h-19.3zM416.2 774.8h15.8v2.4h-15.8zM490.5 784.1h2.1v2.4h-2.1zM216.8 790.4h0v2.4h-0z"/><path fill="#FFD5D4" d="M493 684.4h1.5v2.4h-1.5zM286.4 759.2h7.2v2.4h-7.2z"/><path fill="#FFB0AD" d="M132.6 687.5h18.7v2.4h-18.7zM258.5 668.8h16.4v2.4h-16.4z"/><path fill="#FFB2AE" d="M257.6 687.5h17.3v2.4h-17.3z"/><path fill="#FFBBB8" d="M432 687.5h1v2.4h-1zM522.9 721.8h0.1v2.4h-0.1zM262 675h12.9v2.4h-12.9z"/><path fill="#FFEBEB" d="M172.6 690.6h12.6v2.4h-12.6zM478.2 709.3h2.4v2.4h-2.4zM53.1 718.7h20.7v2.4h-20.7zM464.2 740.5h0.4v2.4h-0.4zM458.1 746.7h6.1v2.4h-6.1zM492.6 802.8h3.6v2.4h-3.6z"/><path fill="#DDDDF6" d="M235.7 690.6h11v2.4h-11zM333.1 703.1h15.3v2.4h-15.3zM518.8 740.5h2.4v2.4h-2.4zM227.2 781h10.7v2.4h-10.7z"/><path fill="#FFC1BF" d="M257.6 690.6h7v2.4h-7zM496.2 799.7h1.4v2.4h-1.4z"/><path fill="#F3F3FC" d="M372.2 690.6h6.4v2.4h-6.4zM227.2 693.7h18.3v2.4h-18.3zM414.3 693.7h0.2v2.4h-0.2zM513.5 709.3h1.3v2.4h-1.3zM300.3 715.5h2.2v2.4h-2.2zM478.2 718.7h3.2v2.4h-3.2zM452.6 728h0.8v2.4h-0.8zM160.2 737.4h4.5v2.4h-4.5zM354.8 746.7h0.4v2.4h-0.4zM433 746.7h4v2.4h-4zM433 753h15.3v2.4h-15.3zM513.5 759.2h0.4v2.4h-0.4zM521.3 771.7h1.5v2.4h-1.5zM177.8 784.1h7.4v2.4h-7.4zM395.3 784.1h0.4v2.4h-0.4zM493.4 787.2h2.8v2.4h-2.8zM328.1 793.5h2.7v2.4h-2.7zM464.2 796.6h4.3v2.4h-4.3z"/><path fill="#FFCFCD" d="M507.5 690.6h5.7v2.4h-5.7zM523 703.1h6.5v2.4h-6.5zM529.5 709.3h0.8v2.4h-0.8zM537 749.8h3.5v2.4h-3.5zM282.9 753h17.4v2.4h-17.4zM293.6 759.2h6.7v2.4h-6.7zM53.1 768.5h0.6v2.4h-0.6zM132.7 799.7h17.3v2.4h-17.3z"/><path fill="#FFB4B0" d="M513.2 690.6h0.3v2.4h-0.3zM507.5 753h0.1v2.4h-0.1zM521.2 753h1.8v2.4h-1.8z"/><path fill="#FFE8E6" d="M509.8 693.7h1.3v2.4h-1.3zM324.9 784.1h7.2v2.4h-7.2z"/><path fill="#FFD8D7" d="M118 696.8h3.9v2.4h-3.9zM254 793.5h3.6v2.4h-3.6z"/><path fill="#FFC2BF" d="M246.7 696.8h10.9v2.4h-10.9zM448.3 700h6.1v2.4h-6.1zM274.6 771.7h0.3v2.4h-0.3zM512.2 771.7h1.3v2.4h-1.3zM468.5 784.1h1.3v2.4h-1.3zM481.4 799.7h11.2v2.4h-11.2z"/><path fill="#FFA5A1" d="M257.6 696.8h12.4v2.4h-12.4zM522.6 700h0.4v2.4h-0.4zM521.2 768.5h1.8v2.4h-1.8z"/><path fill="#FFA4A0" d="M282.9 696.8h17.4v2.4h-17.4z"/><path fill="#FFC8C5" d="M504.7 696.8h2.8v2.4h-2.8zM507.4 703.1h0.1v2.4h-0.1zM257.6 709.3h14.8v2.4h-14.8zM526.8 718.7h2.7v2.4h-2.7zM454.4 721.8h0.7v2.4h-0.7zM257.6 743.6h17.3v2.4h-17.3zM397.6 768.5h1.4v2.4h-1.4z"/><path fill="#FFB0AC" d="M521.2 696.8h0.7v2.4h-0.7zM53.1 703.1h2.3v2.4h-2.3z"/><path fill="#FFC0BD" d="M521.9 696.8h1.1v2.4h-1.1zM521.7 700h0.9v2.4h-0.9zM257.6 724.9h17.3v2.4h-17.3zM257.6 731.1h17.3v2.4h-17.3zM274.9 753h0v2.4h-0z"/><path fill="#BABAEC" d="M529.5 696.8h11v2.4h-11zM372.2 796.6h6.4v2.4h-6.4z"/><path fill="#D1D1F2" d="M159.6 700h0.6v2.4h-0.6zM300.3 700h5.8v2.4h-5.8zM31.3 709.3h0.1v2.4h-0.1zM156.1 740.5h4.1v2.4h-4.1zM324.9 740.5h4.8v2.4h-4.8zM300.3 762.3h7.4v2.4h-7.4zM357.7 762.3h11.2v2.4h-11.2zM349 724.9h23v2.4h-23z"/><path fill="#A5A5E7" d="M160.2 700h25v2.4h-25z"/><path fill="#FFACA9" d="M257.6 700h17.3v2.4h-17.3z"/><path fill="#FFC6C3" d="M274.9 700h0v2.4h-0z"/><path fill="#FFC5C2" d="M282.9 700h8.2v2.4h-8.2zM220.8 724.9h5.7v2.4h-5.7zM507.5 768.5h6v2.4h-6z"/><path fill="#C7C7F0" d="M327 700h5.1v2.4h-5.1zM174.8 743.6h10.4v2.4h-10.4z"/><path fill="#FFCDCA" d="M216.8 703.1h5.9v2.4h-5.9zM507.5 740.5h0.9v2.4h-0.9zM546.7 743.6h9.6v2.4h-9.6zM216.8 790.4h10.2v2.4h-10.2z"/><path fill="#E1E1F6" d="M227.2 703.1h19.5v2.4h-19.5zM433 724.9h12.2v2.4h-12.2zM309.8 759.2h13.1v2.4h-13.1zM234.2 762.3h12.5v2.4h-12.5zM327.5 768.5h4.6v2.4h-4.6z"/><path fill="#BEBEED" d="M274.9 703.1h8v2.4h-8z"/><path fill="#C1C1EE" d="M300.3 703.1h8.3v2.4h-8.3z"/><path fill="#FFBAB7" d="M507.5 703.1h6v2.4h-6zM250.5 709.3h7.1v2.4h-7.1zM257.6 721.8h17.3v2.4h-17.3zM521.2 721.8h1.7v2.4h-1.7zM258.5 656.3h16.4v2.4h-16.4z"/><path fill="#FFC6C4" d="M521.2 703.1h0v2.4h-0zM216.8 799.7h10.4v2.4h-10.4z"/><path fill="#FFBCB8" d="M521.6 703.1h1.4v2.4h-1.4z"/><path fill="#B7B7EB" d="M227.2 709.3h19.5v2.4h-19.5z"/><path fill="#FFD0CD" d="M282.9 709.3h14.4v2.4h-14.4zM31.3 753h21.8v2.4h-21.8zM378.6 771.7h2v2.4h-2zM216.8 793.5h10.2v2.4h-10.2z"/><path fill="#B8B8EC" d="M328.9 709.3h3.2v2.4h-3.2z"/><path fill="#B0B0E9" d="M332.1 709.3h16.3v2.4h-16.3z"/><path fill="#C2C2EE" d="M357.7 709.3h14.5v2.4h-14.5zM227.2 749.8h19.5v2.4h-19.5z"/><path fill="#CECEF2" d="M481.4 709.3h3.2v2.4h-3.2z"/><path fill="#FFB9B6" d="M521.9 709.3h1.1v2.4h-1.1zM249 793.5h5v2.4h-5zM258.5 662.5h16.4v2.4h-16.4z"/><path fill="#FFC4C1" d="M523 709.3h0.5v2.4h-0.5zM397.6 753h16.9v2.4h-16.9zM117 796.6h4.2v2.4h-4.2zM121.2 796.6h4.4v2.4h-4.4z"/><path fill="#FFA5A0" d="M523.5 709.3h4.1v2.4h-4.1z"/><path fill="#E4E4F8" d="M240.1 715.5h6.6v2.4h-6.6z"/><path fill="#FFE9E9" d="M378.6 715.5h17.1v2.4h-17.1zM478.2 781h1v2.4h-1z"/><path fill="#F0F0FA" d="M494.5 718.7h1.7v2.4h-1.7zM414.5 728h0.5v2.4h-0.5zM513.5 746.7h0.3v2.4h-0.3z"/><path fill="#FFBFBC" d="M222.9 721.8h4.3v2.4h-4.3zM246.7 721.8h10.9v2.4h-10.9zM191.3 762.3h2.1v2.4h-2.1zM521.2 799.7h0.1v2.4h-0.1z"/><path fill="#B3B3EA" d="M274.9 721.8h8v2.4h-8z"/><path fill="#B9B9EC" d="M324.9 721.8h3.5v2.4h-3.5z"/><path fill="#C6C6EF" d="M515.4 721.8h3.6v2.4h-3.6zM227.2 728h9.1v2.4h-9.1zM324.3 753h0.6v2.4h-0.6z"/><path fill="#FFB1AE" d="M523 721.8h6.5v2.4h-6.5z"/><path fill="#A3A3E6" d="M324.9 724.9h7.2v2.4h-7.2z"/><path fill="#CECEF1" d="M332.1 724.9h7.3v2.4h-7.3zM519.9 784.1h1.2v2.4h-1.2zM230 737.4h16.7v2.4h-16.7zM349 721.8h23v2.4h-23z"/><path fill="#BFBFED" d="M339.4 724.9h9v2.4h-9z"/><path fill="#BDBDED" d="M329.7 740.5h2.4v2.4h-2.4zM193.4 753h9.6v2.4h-9.6zM432.7 753h0.3v2.4h-0.3zM245.8 799.7h0.9v2.4h-0.9z"/><path fill="#FFCFCC" d="M53.1 743.6h21.5v2.4h-21.5zM81 743.6h9.5v2.4h-9.5z"/><path fill="#B2B2EA" d="M336.3 743.6h9.8v2.4h-9.8z"/><path fill="#BFBFEE" d="M433 743.6h15.3v2.4h-15.3z"/><path fill="#FFC9C6" d="M257.6 746.7h7.5v2.4h-7.5zM216.8 784.1h3.3v2.4h-3.3z"/><path fill="#AAAAE8" d="M191.9 749.8h1.5v2.4h-1.5z"/><path fill="#FFACA8" d="M246.7 749.8h3.3v2.4h-3.3zM258.5 665.7h16.4v2.4h-16.4z"/><path fill="#FFBAB6" d="M250 749.8h7.6v2.4h-7.6z"/><path fill="#FF948F" d="M282.9 749.8h10.2v2.4h-10.2z"/><path fill="#FFB2AF" d="M293.1 749.8h0.4v2.4h-0.4z"/><path fill="#FFABA7" d="M293.5 749.8h6.8v2.4h-6.8zM53.1 753h6.7v2.4h-6.7z"/><path fill="#C5C5EF" d="M344.5 749.8h3.9v2.4h-3.9zM230 777.9h16.7v2.4h-16.7z"/><path fill="#C3C3EE" d="M481.4 749.8h2.3v2.4h-2.3z"/><path fill="#FFA9A5" d="M257.6 753h17.3v2.4h-17.3zM246.7 768.5h10.9v2.4h-10.9z"/><path fill="#FFCBC8" d="M454.4 768.5h0v2.4h-0zM414.5 784.1h0.4v2.4h-0.4z"/><path fill="#C0C0EE" d="M479.3 768.5h2.1v2.4h-2.1zM324.9 771.7h7.2v2.4h-7.2z"/><path fill="#FFD2CF" d="M74.6 777.9h9.4v2.4h-9.4z"/><path fill="#FFD7D6" d="M521.2 781h1.2v2.4h-1.2zM265.6 796.6h9.3v2.4h-9.3z"/><path fill="#CCCCF1" d="M395.7 784.1h0.9v2.4h-0.9zM513.5 784.1h1.9v2.4h-1.9z"/><path fill="#FFC7C4" d="M481.4 784.1h9.1v2.4h-9.1zM262 684.4h12.9v2.4h-12.9z"/><path fill="#FFD3D0" d="M350.7 796.6h7v2.4h-7z"/><path fill="#FFB3AF" d="M257.6 799.7h17.3v2.4h-17.3z"/><path fill="#FFBFBD" d="M521.2 799.7h0v2.4h-0z"/><path fill="#D2D2F2" d="M396.9 802.8h0.7v2.4h-0.7z"/><path fill="#FFB9B5" d="M258.5 659.4h16.4v2.4h-16.4z"/><path fill="#FFC8C6" d="M262 681.2h12.9v2.4h-12.9zM216.8 787.2h10.2v2.4h-10.2z"/><path fill="#FF928D" d="M283 715.5h17.3v2.4h-17.3z"/><path fill="#FF9691" d="M283 759.2h17.3v2.4h-17.3z"/><path fill="#FFA19C" d="M283 762.3h17.3v2.4h-17.3z"/><path fill="#CACAF1" d="M230 790.4h16.7v2.4h-16.7z"/><path fill="#FF564E" d="M126.5 660h1.8v4.5h-1.8zM128 703h1.6v2.8h-1.6z"/><path fill="#FF7F79" d="M128.5 662h1v3h-1z"/><path fill="#6C6CD7" d="M519 781.8h1.5v2h-1.5z"/>
<path stroke="#E6E6EF" stroke-width="0.4" d="M31.3 649.7H556.3M31.3 652.8H556.3M31.3 656H556.3M31.3 659.1H556.3M31.3 662.2H556.3M31.3 665.3H556.3M31.3 668.4H556.3M31.3 671.5H556.3M31.3 674.7H556.3M31.3 677.8H556.3M31.3 680.9H556.3M31.3 684H556.3M31.3 687.1H556.3M31.3 690.2H556.3M31.3 693.4H556.3M31.3 696.5H556.3M31.3 699.6H556.3M31.3 702.7H556.3M31.3 705.8H556.3M31.3 709H556.3M31.3 712.1H556.3M31.3 715.2H556.3M31.3 718.3H556.3M31.3 721.4H556.3M31.3 724.5H556.3M31.3 727.7H556.3M31.3 730.8H556.3M31.3 733.9H556.3M31.3 737H556.3M31.3 740.1H556.3M31.3 743.2H556.3M31.3 746.4H556.3M31.3 749.5H556.3M31.3 752.6H556.3M31.3 755.7H556.3M31.3 758.8H556.3M31.3 762H556.3M31.3 765.1H556.3M31.3 768.2H556.3M31.3 771.3H556.3M31.3 774.4H556.3M31.3 777.5H556.3M31.3 780.7H556.3M31.3 783.8H556.3M31.3 786.9H556.3M31.3 790H556.3M31.3 793.1H556.3M31.3 796.2H556.3M31.3 799.4H556.3M31.3 802.5H556.3"/>
<path fill="none" stroke="#8A8A8A" stroke-width="0.6" stroke-dasharray="2.5 4.5" d="M53.1 646.6V805.6M90.5 646.6V805.6M132.6 646.6V805.6M160.2 646.6V805.6M193.4 646.6V805.6M227.2 646.6V805.6M257.6 646.6V805.6M282.9 646.6V805.6M308.6 646.6V805.6M332.1 646.6V805.6M357.7 646.6V805.6M378.6 646.6V805.6M397.6 646.6V805.6M416.2 646.6V805.6M433 646.6V805.6M454.4 646.6V805.6M468.5 646.6V805.6M481.4 646.6V805.6M496.2 646.6V805.6M507.5 646.6V805.6M515.4 646.6V805.6M523 646.6V805.6M540.5 646.6V805.6"/>
<path fill="none" stroke="#111" stroke-width="0.9" d="M74.6 646.6V805.6M117 646.6V805.6M151.3 646.6V805.6M185.2 646.6V805.6M216.8 646.6V805.6M246.7 646.6V805.6M274.9 646.6V805.6M300.3 646.6V805.6M324.9 646.6V805.6M348.4 646.6V805.6M372.2 646.6V805.6M395.7 646.6V805.6M414.5 646.6V805.6M432 646.6V805.6M448.3 646.6V805.6M464.2 646.6V805.6M478.2 646.6V805.6M492.6 646.6V805.6M502.6 646.6V805.6M513.5 646.6V805.6M521.2 646.6V805.6M529.5 646.6V805.6"/><path fill="none" stroke="#111" stroke-width="1.0" d="M31.3 709H556.3M31.3 771.3H556.3"/>
<rect x="31.3" y="646.6" width="525" height="159" fill="none" stroke="#111" stroke-width="1"/>
<g font-size="4.0" fill="#3A3A3A" text-anchor="end"><text x="27.2" y="649.4">S2967</text><text x="27.2" y="652.5">S2306</text><text x="27.2" y="655.6">S2801</text><text x="27.2" y="658.7">S2218</text><text x="27.2" y="661.8">S2500</text><text x="27.2" y="664.9">S2173</text><text x="27.2" y="668.1">S2108</text><text x="27.2" y="671.2">S2840</text><text x="27.2" y="674.3">S2843</text><text x="27.2" y="677.4">S2511</text><text x="27.2" y="680.5">S2724</text><text x="27.2" y="683.7">S2770</text><text x="27.2" y="686.8">S2820</text><text x="27.2" y="689.9">S2619</text><text x="27.2" y="693">S2304</text><text x="27.2" y="696.1">S2213</text><text x="27.2" y="699.2">S2537</text><text x="27.2" y="702.4">S2180</text><text x="27.2" y="705.5">S2127</text><text x="27.2" y="708.6">S2144</text><text x="27.2" y="711.7">S2305</text><text x="27.2" y="714.8">S2815</text><text x="27.2" y="717.9">S2165</text><text x="27.2" y="721.1">S2531</text><text x="27.2" y="724.2">S2642</text><text x="27.2" y="727.3">S2186</text><text x="27.2" y="730.4">S2737</text><text x="27.2" y="733.5">S2246</text><text x="27.2" y="736.7">S2354</text><text x="27.2" y="739.8">S2477</text><text x="27.2" y="742.9">S2749</text><text x="27.2" y="746">S2462</text><text x="27.2" y="749.1">S2141</text><text x="27.2" y="752.2">S2546</text><text x="27.2" y="755.4">S2997</text><text x="27.2" y="758.5">S2310</text><text x="27.2" y="761.6">S2203</text><text x="27.2" y="764.7">S2244</text><text x="27.2" y="767.8">S2105</text><text x="27.2" y="770.9">S2926</text><text x="27.2" y="774.1">S2868</text><text x="27.2" y="777.2">S2210</text><text x="27.2" y="780.3">S2776</text><text x="27.2" y="783.4">S2973</text><text x="27.2" y="786.5">S2791</text><text x="27.2" y="789.7">S2639</text><text x="27.2" y="792.8">S2899</text><text x="27.2" y="795.9">S2870</text><text x="27.2" y="799">S2424</text><text x="27.2" y="802.1">S2394</text><text x="27.2" y="805.2">S2205</text></g>
<path fill="#111" d="M562.8 646.6h13.1v3.1h-13.1zM562.8 649.7h13.1v3.1h-13.1zM562.8 652.8h13.1v3.1h-13.1zM562.8 656h13.1v3.1h-13.1zM562.8 659.1h13.1v3.1h-13.1zM562.8 662.2h13.1v3.1h-13.1zM562.8 665.3h13.1v3.1h-13.1zM562.8 668.4h13.1v3.1h-13.1zM562.8 671.5h13.1v3.1h-13.1zM562.8 674.7h13.1v3.1h-13.1zM562.8 677.8h13.1v3.1h-13.1zM562.8 680.9h13.1v3.1h-13.1zM562.8 684h13.1v3.1h-13.1zM562.8 687.1h13.1v3.1h-13.1zM562.8 690.2h13.1v3.1h-13.1zM562.8 693.4h13.1v3.1h-13.1zM562.8 696.5h13.1v3.1h-13.1zM562.8 699.6h13.1v3.1h-13.1zM562.8 702.7h13.1v3.1h-13.1zM562.8 705.8h13.1v3.1h-13.1zM562.8 709h13.1v3.1h-13.1zM562.8 712.1h13.1v3.1h-13.1zM562.8 715.2h13.1v3.1h-13.1zM562.8 718.3h13.1v3.1h-13.1zM562.8 721.4h13.1v3.1h-13.1zM562.8 724.5h13.1v3.1h-13.1zM562.8 727.7h13.1v3.1h-13.1zM562.8 730.8h13.1v3.1h-13.1zM562.8 733.9h13.1v3.1h-13.1zM562.8 737h13.1v3.1h-13.1zM562.8 740.1h13.1v3.1h-13.1zM562.8 743.2h13.1v3.1h-13.1zM562.8 746.4h13.1v3.1h-13.1zM562.8 749.5h13.1v3.1h-13.1zM562.8 752.6h13.1v3.1h-13.1zM562.8 755.7h13.1v3.1h-13.1zM562.8 758.8h13.1v3.1h-13.1zM562.8 762h13.1v3.1h-13.1zM562.8 765.1h13.1v3.1h-13.1zM562.8 768.2h13.1v3.1h-13.1zM562.8 771.3h13.1v3.1h-13.1zM562.8 774.4h13.1v3.1h-13.1zM562.8 777.5h13.1v3.1h-13.1zM562.8 780.7h13.1v3.1h-13.1zM562.8 783.8h13.1v3.1h-13.1zM562.8 786.9h13.1v3.1h-13.1zM562.8 790h13.1v3.1h-13.1zM562.8 793.1h13.1v3.1h-13.1zM562.8 796.2h13.1v3.1h-13.1zM562.8 799.4h13.1v3.1h-13.1zM562.8 802.5h13.1v3.1h-13.1z"/><path fill="#B3271D" d="M563.3 647.1h12.1v2.2h-12.1zM563.3 650.2h12.1v2.2h-12.1zM563.3 653.3h12.1v2.2h-12.1zM563.3 656.4h12.1v2.2h-12.1zM563.3 659.5h12.1v2.2h-12.1zM563.3 662.6h12.1v2.2h-12.1zM563.3 665.8h12.1v2.2h-12.1zM563.3 668.9h12.1v2.2h-12.1zM563.3 672h12.1v2.2h-12.1zM563.3 675.1h12.1v2.2h-12.1zM563.3 678.2h12.1v2.2h-12.1zM563.3 681.3h12.1v2.2h-12.1zM563.3 684.5h12.1v2.2h-12.1zM563.3 687.6h12.1v2.2h-12.1zM563.3 690.7h12.1v2.2h-12.1zM563.3 693.8h12.1v2.2h-12.1zM563.3 696.9h12.1v2.2h-12.1zM563.3 700.1h12.1v2.2h-12.1zM563.3 703.2h12.1v2.2h-12.1zM563.3 706.3h12.1v2.2h-12.1z"/><path fill="#CDB965" d="M563.3 709.4h12.1v2.2h-12.1zM563.3 712.5h12.1v2.2h-12.1zM563.3 715.6h12.1v2.2h-12.1zM563.3 718.8h12.1v2.2h-12.1zM563.3 721.9h12.1v2.2h-12.1zM563.3 725h12.1v2.2h-12.1zM563.3 728.1h12.1v2.2h-12.1zM563.3 731.2h12.1v2.2h-12.1zM563.3 734.3h12.1v2.2h-12.1zM563.3 737.5h12.1v2.2h-12.1zM563.3 740.6h12.1v2.2h-12.1zM563.3 743.7h12.1v2.2h-12.1zM563.3 746.8h12.1v2.2h-12.1zM563.3 749.9h12.1v2.2h-12.1zM563.3 753.1h12.1v2.2h-12.1zM563.3 756.2h12.1v2.2h-12.1zM563.3 759.3h12.1v2.2h-12.1zM563.3 762.4h12.1v2.2h-12.1zM563.3 765.5h12.1v2.2h-12.1zM563.3 768.6h12.1v2.2h-12.1z"/><path fill="#4A82C6" d="M563.3 771.8h12.1v2.2h-12.1zM563.3 774.9h12.1v2.2h-12.1zM563.3 778h12.1v2.2h-12.1zM563.3 781.1h12.1v2.2h-12.1zM563.3 784.2h12.1v2.2h-12.1zM563.3 787.3h12.1v2.2h-12.1zM563.3 790.5h12.1v2.2h-12.1zM563.3 793.6h12.1v2.2h-12.1zM563.3 796.7h12.1v2.2h-12.1zM563.3 799.8h12.1v2.2h-12.1zM563.3 802.9h12.1v2.2h-12.1z"/>
<rect x="581.3" y="689" width="7" height="6.7" fill="#B3271D" stroke="#222" stroke-width="0.6"/>
<text x="591.3" y="695.2" font-size="8.2" fill="#1a1a1a">Melanocytic-like (MEL)</text>
<rect x="581.3" y="700.5" width="7" height="6.7" fill="#CDB965" stroke="#222" stroke-width="0.6"/>
<text x="591.3" y="706.7" font-size="8.2" fill="#1a1a1a">Neural/plastic (NPLAS)</text>
<rect x="581.3" y="711.6" width="7" height="6.7" fill="#4A82C6" stroke="#222" stroke-width="0.6"/>
<text x="591.3" y="717.8" font-size="8.2" fill="#1a1a1a">Mesenchymal-like (MES)</text>
<defs><linearGradient id="cb" x1="0" x2="1" y1="0" y2="0"><stop offset="0" stop-color="#3232C8"/><stop offset="0.5" stop-color="#FFFFFF"/><stop offset="1" stop-color="#FF281E"/></linearGradient></defs>
<rect x="589.2" y="781.3" width="83.8" height="8.4" fill="url(#cb)" stroke="#222" stroke-width="0.5"/>
<path stroke="#000" stroke-width="0.9" d="M631.1 781.3V789.7"/>
<text x="631.1" y="778.3" font-size="6.3" fill="#222" text-anchor="middle">seg mean</text>
<g font-size="5.8" fill="#222" text-anchor="middle"><text x="589.2" y="797.2">−4</text><text x="599.7" y="797.2">−3</text><text x="610.2" y="797.2">−2</text><text x="620.6" y="797.2">−1</text><text x="631.1" y="797.2">0</text><text x="641.6" y="797.2">1</text><text x="652.1" y="797.2">2</text><text x="662.5" y="797.2">3</text><text x="673" y="797.2">4</text></g>
<path stroke="#222" stroke-width="0.4" d="M589.2 789.7v1.3M599.7 789.7v1.3M610.2 789.7v1.3M620.6 789.7v1.3M631.1 789.7v1.3M641.6 789.7v1.3M652.1 789.7v1.3M662.5 789.7v1.3M673 789.7v1.3"/>
<g font-size="6.8" fill="#222" text-anchor="middle"><text x="52.9" y="813">1</text><text x="95.8" y="814.6">2</text><text x="134.2" y="813">3</text><text x="168.2" y="814.6">4</text><text x="201" y="813">5</text><text x="231.8" y="814.6">6</text><text x="260.8" y="813">7</text><text x="287.6" y="814.6">8</text><text x="312.6" y="813">9</text><text x="336.6" y="814.6">10</text><text x="360.3" y="813">11</text><text x="383.9" y="814.6">12</text><text x="405.1" y="813">13</text><text x="423.2" y="814.6">14</text><text x="440.1" y="813">15</text><text x="456.2" y="814.6">16</text><text x="471.2" y="813">17</text><text x="485.4" y="814.6">18</text><text x="497.6" y="813">19</text><text x="508.1" y="814.6">20</text><text x="517.4" y="813">21</text><text x="525.4" y="814.6">22</text><text x="542.9" y="813">X</text></g>
</svg>
</body></html>
